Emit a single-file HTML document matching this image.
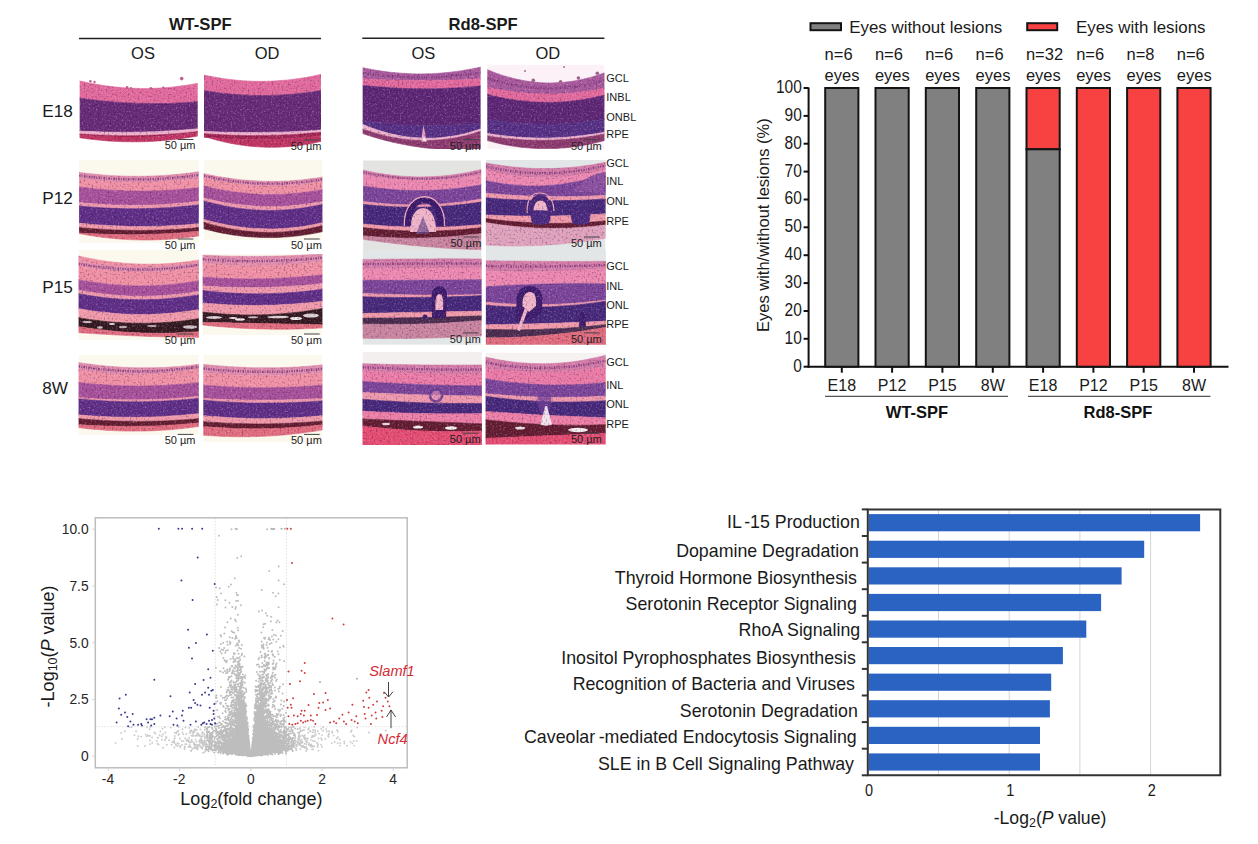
<!DOCTYPE html>
<html><head><meta charset="utf-8"><title>Figure</title>
<style>html,body{margin:0;padding:0;background:#fff}body{width:1258px;height:844px;overflow:hidden}svg{display:block}</style>
</head><body>
<svg width="1258" height="844" viewBox="0 0 1258 844">
<defs>
<filter id="nzd" x="0" y="0" width="100%" height="100%" color-interpolation-filters="sRGB">
<feTurbulence type="fractalNoise" baseFrequency="0.5" numOctaves="2" seed="3"/>
<feColorMatrix type="matrix" values="0 0 0 0 0.15  0 0 0 0 0.02  0 0 0 0 0.2  -2.2 0 0 0 1.05"/>
</filter>
<filter id="nzl" x="0" y="0" width="100%" height="100%" color-interpolation-filters="sRGB">
<feTurbulence type="fractalNoise" baseFrequency="0.55" numOctaves="2" seed="9"/>
<feColorMatrix type="matrix" values="0 0 0 0 1  0 0 0 0 0.9  0 0 0 0 1  2.2 0 0 0 -1.15"/>
</filter>
</defs><clipPath id="cp0"><rect x="79.7" y="74" width="118.0" height="76.0"/></clipPath>
<g clip-path="url(#cp0)">
<rect x="79.7" y="74" width="118.0" height="76.0" fill="#ffffff"/>
<clipPath id="tc0"><path d="M78.7,80.7 83.7,81.8 88.7,82.9 93.7,83.8 98.7,84.7 103.7,85.5 108.7,86.2 113.7,86.8 118.7,87.3 123.7,87.7 128.7,88.0 133.7,88.3 138.7,88.4 143.7,88.5 148.7,88.4 153.7,88.3 158.7,88.1 163.7,87.8 168.7,87.4 173.7,86.9 178.7,86.3 183.7,85.6 188.7,84.9 193.7,84.0 198.7,83.1 L198.7,135.8 193.7,136.7 188.7,137.5 183.7,138.3 178.7,138.9 173.7,139.5 168.7,140.1 163.7,140.5 158.7,140.9 153.7,141.3 148.7,141.5 143.7,141.7 138.7,141.8 133.7,141.8 128.7,141.8 123.7,141.7 118.7,141.5 113.7,141.3 108.7,141.0 103.7,140.6 98.7,140.1 93.7,139.6 88.7,139.0 83.7,138.3 78.7,137.6Z"/></clipPath>
<path d="M78.7,80.7 83.7,81.8 88.7,82.9 93.7,83.8 98.7,84.7 103.7,85.5 108.7,86.2 113.7,86.8 118.7,87.3 123.7,87.7 128.7,88.0 133.7,88.3 138.7,88.4 143.7,88.5 148.7,88.4 153.7,88.3 158.7,88.1 163.7,87.8 168.7,87.4 173.7,86.9 178.7,86.3 183.7,85.6 188.7,84.9 193.7,84.0 198.7,83.1 L198.7,101.6 193.7,102.0 188.7,102.4 183.7,102.7 178.7,103.0 173.7,103.2 168.7,103.4 163.7,103.5 158.7,103.6 153.7,103.6 148.7,103.6 143.7,103.5 138.7,103.4 133.7,103.2 128.7,103.0 123.7,102.7 118.7,102.4 113.7,102.0 108.7,101.6 103.7,101.1 98.7,100.6 93.7,100.0 88.7,99.4 83.7,98.7 78.7,98.0Z" fill="#e2699c" stroke="#e2699c" stroke-width="0.6"/>
<path d="M78.7,98.0 83.7,98.7 88.7,99.4 93.7,100.0 98.7,100.6 103.7,101.1 108.7,101.6 113.7,102.0 118.7,102.4 123.7,102.7 128.7,103.0 133.7,103.2 138.7,103.4 143.7,103.5 148.7,103.6 153.7,103.6 158.7,103.6 163.7,103.5 168.7,103.4 173.7,103.2 178.7,103.0 183.7,102.7 188.7,102.4 193.7,102.0 198.7,101.6 L198.7,128.6 193.7,129.1 188.7,129.5 183.7,129.9 178.7,130.3 173.7,130.6 168.7,130.9 163.7,131.2 158.7,131.5 153.7,131.7 148.7,131.8 143.7,132.0 138.7,132.1 133.7,132.2 128.7,132.2 123.7,132.2 118.7,132.2 113.7,132.2 108.7,132.1 103.7,132.0 98.7,131.8 93.7,131.6 88.7,131.4 83.7,131.2 78.7,130.9Z" fill="#662a76" stroke="#662a76" stroke-width="0.6"/>
<path d="M78.7,130.9 83.7,131.2 88.7,131.4 93.7,131.6 98.7,131.8 103.7,132.0 108.7,132.1 113.7,132.2 118.7,132.2 123.7,132.2 128.7,132.2 133.7,132.2 138.7,132.1 143.7,132.0 148.7,131.8 153.7,131.7 158.7,131.5 163.7,131.2 168.7,130.9 173.7,130.6 178.7,130.3 183.7,129.9 188.7,129.5 193.7,129.1 198.7,128.6 L198.7,131.4 193.7,132.0 188.7,132.5 183.7,133.0 178.7,133.5 173.7,133.9 168.7,134.2 163.7,134.6 158.7,134.9 153.7,135.1 148.7,135.3 143.7,135.5 138.7,135.6 133.7,135.7 128.7,135.7 123.7,135.7 118.7,135.7 113.7,135.6 108.7,135.4 103.7,135.3 98.7,135.1 93.7,134.8 88.7,134.5 83.7,134.2 78.7,133.8Z" fill="#efb2cc" stroke="#efb2cc" stroke-width="0.6"/>
<path d="M78.7,133.8 83.7,134.2 88.7,134.5 93.7,134.8 98.7,135.1 103.7,135.3 108.7,135.4 113.7,135.6 118.7,135.7 123.7,135.7 128.7,135.7 133.7,135.7 138.7,135.6 143.7,135.5 148.7,135.3 153.7,135.1 158.7,134.9 163.7,134.6 168.7,134.2 173.7,133.9 178.7,133.5 183.7,133.0 188.7,132.5 193.7,132.0 198.7,131.4 L198.7,132.3 193.7,133.0 188.7,133.6 183.7,134.1 178.7,134.6 173.7,135.1 168.7,135.5 163.7,135.9 158.7,136.2 153.7,136.5 148.7,136.7 143.7,136.9 138.7,137.0 133.7,137.1 128.7,137.1 123.7,137.1 118.7,137.0 113.7,136.9 108.7,136.7 103.7,136.5 98.7,136.2 93.7,135.9 88.7,135.6 83.7,135.2 78.7,134.7Z" fill="#a02452" stroke="#a02452" stroke-width="0.6"/>
<path d="M78.7,134.7 83.7,135.2 88.7,135.6 93.7,135.9 98.7,136.2 103.7,136.5 108.7,136.7 113.7,136.9 118.7,137.0 123.7,137.1 128.7,137.1 133.7,137.1 138.7,137.0 143.7,136.9 148.7,136.7 153.7,136.5 158.7,136.2 163.7,135.9 168.7,135.5 173.7,135.1 178.7,134.6 183.7,134.1 188.7,133.6 193.7,133.0 198.7,132.3 L198.7,135.8 193.7,136.7 188.7,137.5 183.7,138.3 178.7,138.9 173.7,139.5 168.7,140.1 163.7,140.5 158.7,140.9 153.7,141.3 148.7,141.5 143.7,141.7 138.7,141.8 133.7,141.8 128.7,141.8 123.7,141.7 118.7,141.5 113.7,141.3 108.7,141.0 103.7,140.6 98.7,140.1 93.7,139.6 88.7,139.0 83.7,138.3 78.7,137.6Z" fill="#c03462" stroke="#c03462" stroke-width="0.6"/>
<g fill="#c2608f"><circle cx="90.4" cy="81.2" r="1.3"/><circle cx="94.5" cy="82" r="1.2"/><circle cx="127.1" cy="87.4" r="1.3"/><circle cx="131" cy="88.2" r="1.1"/><circle cx="150.8" cy="88.2" r="1.2"/><circle cx="163.3" cy="87.8" r="1.2"/><circle cx="181.7" cy="78.6" r="1.8"/></g>
<g clip-path="url(#tc0)"><rect x="79.7" y="74" width="118.0" height="76.0" filter="url(#nzd)" opacity="0.5"/>
<rect x="79.7" y="74" width="118.0" height="76.0" filter="url(#nzl)" opacity="0.4"/></g>
</g>
<clipPath id="cp1"><rect x="204" y="70" width="117.0" height="80.0"/></clipPath>
<g clip-path="url(#cp1)">
<rect x="204" y="70" width="117.0" height="80.0" fill="#ffffff"/>
<clipPath id="tc1"><path d="M203.0,74.8 208.0,75.9 212.9,76.8 217.9,77.7 222.8,78.5 227.8,79.2 232.8,79.8 237.7,80.3 242.7,80.7 247.6,81.0 252.6,81.2 257.5,81.3 262.5,81.3 267.5,81.2 272.4,81.1 277.4,80.8 282.3,80.4 287.3,80.0 292.2,79.4 297.2,78.8 302.2,78.0 307.1,77.2 312.1,76.3 317.0,75.2 322.0,74.1 L322.0,141.2 317.0,142.3 312.1,143.4 307.1,144.3 302.2,145.1 297.2,145.7 292.2,146.3 287.3,146.7 282.3,147.0 277.4,147.2 272.4,147.3 267.5,147.3 262.5,147.1 257.5,146.8 252.6,146.4 247.6,145.9 242.7,145.3 237.7,144.5 232.8,143.7 227.8,142.7 222.8,141.6 217.9,140.4 212.9,139.0 208.0,137.6 203.0,136.0Z"/></clipPath>
<path d="M203.0,74.8 208.0,75.9 212.9,76.8 217.9,77.7 222.8,78.5 227.8,79.2 232.8,79.8 237.7,80.3 242.7,80.7 247.6,81.0 252.6,81.2 257.5,81.3 262.5,81.3 267.5,81.2 272.4,81.1 277.4,80.8 282.3,80.4 287.3,80.0 292.2,79.4 297.2,78.8 302.2,78.0 307.1,77.2 312.1,76.3 317.0,75.2 322.0,74.1 L322.0,90.3 317.0,91.1 312.1,91.9 307.1,92.6 302.2,93.2 297.2,93.7 292.2,94.2 287.3,94.6 282.3,94.9 277.4,95.2 272.4,95.4 267.5,95.5 262.5,95.5 257.5,95.5 252.6,95.4 247.6,95.2 242.7,94.9 237.7,94.6 232.8,94.2 227.8,93.7 222.8,93.2 217.9,92.6 212.9,91.9 208.0,91.1 203.0,90.3Z" fill="#e2699c" stroke="#e2699c" stroke-width="0.6"/>
<path d="M203.0,90.3 208.0,91.1 212.9,91.9 217.9,92.6 222.8,93.2 227.8,93.7 232.8,94.2 237.7,94.6 242.7,94.9 247.6,95.2 252.6,95.4 257.5,95.5 262.5,95.5 267.5,95.5 272.4,95.4 277.4,95.2 282.3,94.9 287.3,94.6 292.2,94.2 297.2,93.7 302.2,93.2 307.1,92.6 312.1,91.9 317.0,91.1 322.0,90.3 L322.0,129.9 317.0,130.3 312.1,130.6 307.1,130.9 302.2,131.2 297.2,131.5 292.2,131.7 287.3,131.9 282.3,132.1 277.4,132.2 272.4,132.3 267.5,132.4 262.5,132.5 257.5,132.5 252.6,132.6 247.6,132.5 242.7,132.5 237.7,132.4 232.8,132.3 227.8,132.2 222.8,132.1 217.9,131.9 212.9,131.7 208.0,131.5 203.0,131.2Z" fill="#662a76" stroke="#662a76" stroke-width="0.6"/>
<path d="M203.0,131.2 208.0,131.5 212.9,131.7 217.9,131.9 222.8,132.1 227.8,132.2 232.8,132.3 237.7,132.4 242.7,132.5 247.6,132.5 252.6,132.6 257.5,132.5 262.5,132.5 267.5,132.4 272.4,132.3 277.4,132.2 282.3,132.1 287.3,131.9 292.2,131.7 297.2,131.5 302.2,131.2 307.1,130.9 312.1,130.6 317.0,130.3 322.0,129.9 L322.0,132.2 317.0,132.7 312.1,133.1 307.1,133.5 302.2,133.9 297.2,134.2 292.2,134.5 287.3,134.8 282.3,135.0 277.4,135.2 272.4,135.3 267.5,135.4 262.5,135.5 257.5,135.5 252.6,135.5 247.6,135.5 242.7,135.4 237.7,135.3 232.8,135.2 227.8,135.0 222.8,134.8 217.9,134.5 212.9,134.2 208.0,133.9 203.0,133.5Z" fill="#efb2cc" stroke="#efb2cc" stroke-width="0.6"/>
<path d="M203.0,133.5 208.0,133.9 212.9,134.2 217.9,134.5 222.8,134.8 227.8,135.0 232.8,135.2 237.7,135.3 242.7,135.4 247.6,135.5 252.6,135.5 257.5,135.5 262.5,135.5 267.5,135.4 272.4,135.3 277.4,135.2 282.3,135.0 287.3,134.8 292.2,134.5 297.2,134.2 302.2,133.9 307.1,133.5 312.1,133.1 317.0,132.7 322.0,132.2 L322.0,135.6 317.0,136.2 312.1,136.7 307.1,137.2 302.2,137.6 297.2,138.0 292.2,138.4 287.3,138.7 282.3,138.9 277.4,139.1 272.4,139.3 267.5,139.4 262.5,139.5 257.5,139.5 252.6,139.5 247.6,139.5 242.7,139.4 237.7,139.2 232.8,139.0 227.8,138.8 222.8,138.5 217.9,138.2 212.9,137.8 208.0,137.4 203.0,136.9Z" fill="#a02452" stroke="#a02452" stroke-width="0.6"/>
<path d="M203.0,136.9 208.0,137.4 212.9,137.8 217.9,138.2 222.8,138.5 227.8,138.8 232.8,139.0 237.7,139.2 242.7,139.4 247.6,139.5 252.6,139.5 257.5,139.5 262.5,139.5 267.5,139.4 272.4,139.3 277.4,139.1 282.3,138.9 287.3,138.7 292.2,138.4 297.2,138.0 302.2,137.6 307.1,137.2 312.1,136.7 317.0,136.2 322.0,135.6 L322.0,141.2 317.0,142.3 312.1,143.4 307.1,144.3 302.2,145.1 297.2,145.7 292.2,146.3 287.3,146.7 282.3,147.0 277.4,147.2 272.4,147.3 267.5,147.3 262.5,147.1 257.5,146.8 252.6,146.4 247.6,145.9 242.7,145.3 237.7,144.5 232.8,143.7 227.8,142.7 222.8,141.6 217.9,140.4 212.9,139.0 208.0,137.6 203.0,136.0Z" fill="#c03462" stroke="#c03462" stroke-width="0.6"/>
<g clip-path="url(#tc1)"><rect x="204" y="70" width="117.0" height="80.0" filter="url(#nzd)" opacity="0.5"/>
<rect x="204" y="70" width="117.0" height="80.0" filter="url(#nzl)" opacity="0.4"/></g>
</g>
<clipPath id="cp2"><rect x="79.1" y="159.7" width="119.7" height="83.3"/></clipPath>
<g clip-path="url(#cp2)">
<rect x="79.1" y="159.7" width="119.7" height="83.3" fill="#fbf8ee"/>
<clipPath id="tc2"><path d="M78.1,172.2 83.2,172.9 88.2,173.5 93.3,174.0 98.4,174.5 103.5,175.0 108.5,175.4 113.6,175.7 118.7,175.9 123.7,176.1 128.8,176.2 133.9,176.3 138.9,176.3 144.0,176.2 149.1,176.1 154.2,175.9 159.2,175.7 164.3,175.4 169.4,175.1 174.4,174.6 179.5,174.1 184.6,173.6 189.7,173.0 194.7,172.3 199.8,171.6 L199.8,235.8 194.7,236.5 189.7,237.2 184.6,237.8 179.5,238.3 174.4,238.8 169.4,239.2 164.3,239.5 159.2,239.7 154.2,239.9 149.1,240.0 144.0,240.0 138.9,239.9 133.9,239.8 128.8,239.6 123.7,239.3 118.7,238.9 113.6,238.5 108.5,238.0 103.5,237.4 98.4,236.7 93.3,236.0 88.2,235.2 83.2,234.3 78.1,233.4Z"/></clipPath>
<path d="M78.1,172.2 83.2,172.9 88.2,173.5 93.3,174.0 98.4,174.5 103.5,175.0 108.5,175.4 113.6,175.7 118.7,175.9 123.7,176.1 128.8,176.2 133.9,176.3 138.9,176.3 144.0,176.2 149.1,176.1 154.2,175.9 159.2,175.7 164.3,175.4 169.4,175.1 174.4,174.6 179.5,174.1 184.6,173.6 189.7,173.0 194.7,172.3 199.8,171.6 L199.8,178.4 194.7,179.0 189.7,179.6 184.6,180.2 179.5,180.7 174.4,181.1 169.4,181.5 164.3,181.8 159.2,182.1 154.2,182.3 149.1,182.4 144.0,182.5 138.9,182.6 133.9,182.6 128.8,182.5 123.7,182.4 118.7,182.3 113.6,182.0 108.5,181.8 103.5,181.4 98.4,181.1 93.3,180.6 88.2,180.1 83.2,179.6 78.1,179.0Z" fill="#e08cac" stroke="#e08cac" stroke-width="0.6"/>
<path d="M78.1,179.0 83.2,179.6 88.2,180.1 93.3,180.6 98.4,181.1 103.5,181.4 108.5,181.8 113.6,182.0 118.7,182.3 123.7,182.4 128.8,182.5 133.9,182.6 138.9,182.6 144.0,182.5 149.1,182.4 154.2,182.3 159.2,182.1 164.3,181.8 169.4,181.5 174.4,181.1 179.5,180.7 184.6,180.2 189.7,179.6 194.7,179.0 199.8,178.4 L199.8,187.5 194.7,188.1 189.7,188.6 184.6,189.1 179.5,189.6 174.4,189.9 169.4,190.3 164.3,190.5 159.2,190.8 154.2,190.9 149.1,191.0 144.0,191.1 138.9,191.1 133.9,191.0 128.8,190.9 123.7,190.8 118.7,190.6 113.6,190.3 108.5,190.0 103.5,189.6 98.4,189.2 93.3,188.7 88.2,188.1 83.2,187.5 78.1,186.9Z" fill="#f090a4" stroke="#f090a4" stroke-width="0.6"/>
<path d="M78.1,186.9 83.2,187.5 88.2,188.1 93.3,188.7 98.4,189.2 103.5,189.6 108.5,190.0 113.6,190.3 118.7,190.6 123.7,190.8 128.8,190.9 133.9,191.0 138.9,191.1 144.0,191.1 149.1,191.0 154.2,190.9 159.2,190.8 164.3,190.5 169.4,190.3 174.4,189.9 179.5,189.6 184.6,189.1 189.7,188.6 194.7,188.1 199.8,187.5 L199.8,201.1 194.7,201.7 189.7,202.3 184.6,202.8 179.5,203.3 174.4,203.7 169.4,204.1 164.3,204.4 159.2,204.7 154.2,204.9 149.1,205.1 144.0,205.2 138.9,205.3 133.9,205.3 128.8,205.3 123.7,205.2 118.7,205.1 113.6,204.9 108.5,204.7 103.5,204.4 98.4,204.1 93.3,203.7 88.2,203.3 83.2,202.8 78.1,202.3Z" fill="#a6509a" stroke="#a6509a" stroke-width="0.6"/>
<path d="M78.1,202.3 83.2,202.8 88.2,203.3 93.3,203.7 98.4,204.1 103.5,204.4 108.5,204.7 113.6,204.9 118.7,205.1 123.7,205.2 128.8,205.3 133.9,205.3 138.9,205.3 144.0,205.2 149.1,205.1 154.2,204.9 159.2,204.7 164.3,204.4 169.4,204.1 174.4,203.7 179.5,203.3 184.6,202.8 189.7,202.3 194.7,201.7 199.8,201.1 L199.8,204.6 194.7,205.2 189.7,205.8 184.6,206.3 179.5,206.7 174.4,207.2 169.4,207.5 164.3,207.8 159.2,208.1 154.2,208.3 149.1,208.5 144.0,208.6 138.9,208.7 133.9,208.7 128.8,208.7 123.7,208.6 118.7,208.5 113.6,208.3 108.5,208.1 103.5,207.9 98.4,207.5 93.3,207.2 88.2,206.8 83.2,206.3 78.1,205.8Z" fill="#ee98ac" stroke="#ee98ac" stroke-width="0.6"/>
<path d="M78.1,205.8 83.2,206.3 88.2,206.8 93.3,207.2 98.4,207.5 103.5,207.9 108.5,208.1 113.6,208.3 118.7,208.5 123.7,208.6 128.8,208.7 133.9,208.7 138.9,208.7 144.0,208.6 149.1,208.5 154.2,208.3 159.2,208.1 164.3,207.8 169.4,207.5 174.4,207.2 179.5,206.7 184.6,206.3 189.7,205.8 194.7,205.2 199.8,204.6 L199.8,223.6 194.7,224.1 189.7,224.5 184.6,224.9 179.5,225.3 174.4,225.6 169.4,225.8 164.3,226.1 159.2,226.2 154.2,226.4 149.1,226.5 144.0,226.5 138.9,226.5 133.9,226.5 128.8,226.4 123.7,226.2 118.7,226.0 113.6,225.8 108.5,225.6 103.5,225.2 98.4,224.9 93.3,224.5 88.2,224.0 83.2,223.5 78.1,223.0Z" fill="#5e2e86" stroke="#5e2e86" stroke-width="0.6"/>
<path d="M78.1,223.0 83.2,223.5 88.2,224.0 93.3,224.5 98.4,224.9 103.5,225.2 108.5,225.6 113.6,225.8 118.7,226.0 123.7,226.2 128.8,226.4 133.9,226.5 138.9,226.5 144.0,226.5 149.1,226.5 154.2,226.4 159.2,226.2 164.3,226.1 169.4,225.8 174.4,225.6 179.5,225.3 184.6,224.9 189.7,224.5 194.7,224.1 199.8,223.6 L199.8,227.4 194.7,227.9 189.7,228.3 184.6,228.7 179.5,229.1 174.4,229.4 169.4,229.7 164.3,229.9 159.2,230.1 154.2,230.2 149.1,230.3 144.0,230.4 138.9,230.4 133.9,230.4 128.8,230.3 123.7,230.2 118.7,230.1 113.6,229.9 108.5,229.7 103.5,229.4 98.4,229.1 93.3,228.7 88.2,228.3 83.2,227.9 78.1,227.4Z" fill="#f09aa9" stroke="#f09aa9" stroke-width="0.6"/>
<path d="M78.1,227.4 83.2,227.9 88.2,228.3 93.3,228.7 98.4,229.1 103.5,229.4 108.5,229.7 113.6,229.9 118.7,230.1 123.7,230.2 128.8,230.3 133.9,230.4 138.9,230.4 144.0,230.4 149.1,230.3 154.2,230.2 159.2,230.1 164.3,229.9 169.4,229.7 174.4,229.4 179.5,229.1 184.6,228.7 189.7,228.3 194.7,227.9 199.8,227.4 L199.8,231.1 194.7,231.6 189.7,232.1 184.6,232.5 179.5,232.9 174.4,233.2 169.4,233.5 164.3,233.8 159.2,234.0 154.2,234.2 149.1,234.4 144.0,234.5 138.9,234.6 133.9,234.7 128.8,234.7 123.7,234.6 118.7,234.6 113.6,234.5 108.5,234.4 103.5,234.2 98.4,234.0 93.3,233.7 88.2,233.5 83.2,233.2 78.1,232.8Z" fill="#621c30" stroke="#621c30" stroke-width="0.6"/>
<path d="M78.1,232.8 83.2,233.2 88.2,233.5 93.3,233.7 98.4,234.0 103.5,234.2 108.5,234.4 113.6,234.5 118.7,234.6 123.7,234.6 128.8,234.7 133.9,234.7 138.9,234.6 144.0,234.5 149.1,234.4 154.2,234.2 159.2,234.0 164.3,233.8 169.4,233.5 174.4,233.2 179.5,232.9 184.6,232.5 189.7,232.1 194.7,231.6 199.8,231.1 L199.8,235.8 194.7,236.5 189.7,237.2 184.6,237.8 179.5,238.3 174.4,238.8 169.4,239.2 164.3,239.5 159.2,239.7 154.2,239.9 149.1,240.0 144.0,240.0 138.9,239.9 133.9,239.8 128.8,239.6 123.7,239.3 118.7,238.9 113.6,238.5 108.5,238.0 103.5,237.4 98.4,236.7 93.3,236.0 88.2,235.2 83.2,234.3 78.1,233.4Z" fill="#e06c7e" stroke="#e06c7e" stroke-width="0.6"/>
<path d="M79.1,175.6 86.6,176.5 94.1,177.3 101.5,178.0 109.0,178.6 116.5,179.0 124.0,179.3 131.5,179.4 138.9,179.4 146.4,179.3 153.9,179.1 161.4,178.8 168.9,178.3 176.4,177.6 183.8,176.9 191.3,176.0 198.8,175.0" fill="none" stroke="#7e3a7c" stroke-width="2.4" stroke-dasharray="1.6 1.1 0.8 1.4" opacity="0.85"/>
<g clip-path="url(#tc2)"><rect x="79.1" y="159.7" width="119.7" height="83.3" filter="url(#nzd)" opacity="0.5"/>
<rect x="79.1" y="159.7" width="119.7" height="83.3" filter="url(#nzl)" opacity="0.4"/></g>
</g>
<clipPath id="cp3"><rect x="203.7" y="159.7" width="118.7" height="80.3"/></clipPath>
<g clip-path="url(#cp3)">
<rect x="203.7" y="159.7" width="118.7" height="80.3" fill="#fbf8ee"/>
<clipPath id="tc3"><path d="M202.7,173.4 207.7,174.5 212.8,175.5 217.8,176.5 222.8,177.3 227.8,178.1 232.9,178.8 237.9,179.4 242.9,179.9 248.0,180.4 253.0,180.7 258.0,181.0 263.0,181.2 268.1,181.3 273.1,181.3 278.1,181.3 283.2,181.1 288.2,180.9 293.2,180.6 298.3,180.2 303.3,179.7 308.3,179.1 313.3,178.5 318.4,177.7 323.4,176.9 L323.4,231.4 318.4,232.5 313.3,233.5 308.3,234.3 303.3,235.1 298.3,235.8 293.2,236.3 288.2,236.8 283.2,237.1 278.1,237.4 273.1,237.5 268.1,237.6 263.0,237.5 258.0,237.3 253.0,237.0 248.0,236.7 242.9,236.2 237.9,235.6 232.9,234.9 227.8,234.1 222.8,233.2 217.8,232.2 212.8,231.0 207.7,229.8 202.7,228.5Z"/></clipPath>
<path d="M202.7,173.4 207.7,174.5 212.8,175.5 217.8,176.5 222.8,177.3 227.8,178.1 232.9,178.8 237.9,179.4 242.9,179.9 248.0,180.4 253.0,180.7 258.0,181.0 263.0,181.2 268.1,181.3 273.1,181.3 278.1,181.3 283.2,181.1 288.2,180.9 293.2,180.6 298.3,180.2 303.3,179.7 308.3,179.1 313.3,178.5 318.4,177.7 323.4,176.9 L323.4,181.6 318.4,182.4 313.3,183.2 308.3,183.9 303.3,184.4 298.3,184.9 293.2,185.3 288.2,185.7 283.2,185.9 278.1,186.1 273.1,186.1 268.1,186.1 263.0,186.0 258.0,185.8 253.0,185.5 248.0,185.2 242.9,184.7 237.9,184.2 232.9,183.6 227.8,182.9 222.8,182.1 217.8,181.2 212.8,180.3 207.7,179.2 202.7,178.1Z" fill="#e08cac" stroke="#e08cac" stroke-width="0.6"/>
<path d="M202.7,178.1 207.7,179.2 212.8,180.3 217.8,181.2 222.8,182.1 227.8,182.9 232.9,183.6 237.9,184.2 242.9,184.7 248.0,185.2 253.0,185.5 258.0,185.8 263.0,186.0 268.1,186.1 273.1,186.1 278.1,186.1 283.2,185.9 288.2,185.7 293.2,185.3 298.3,184.9 303.3,184.4 308.3,183.9 313.3,183.2 318.4,182.4 323.4,181.6 L323.4,189.3 318.4,190.3 313.3,191.1 308.3,191.9 303.3,192.6 298.3,193.2 293.2,193.6 288.2,194.0 283.2,194.3 278.1,194.5 273.1,194.6 268.1,194.6 263.0,194.5 258.0,194.3 253.0,194.0 248.0,193.6 242.9,193.1 237.9,192.6 232.9,191.9 227.8,191.1 222.8,190.2 217.8,189.3 212.8,188.2 207.7,187.1 202.7,185.8Z" fill="#f090a4" stroke="#f090a4" stroke-width="0.6"/>
<path d="M202.7,185.8 207.7,187.1 212.8,188.2 217.8,189.3 222.8,190.2 227.8,191.1 232.9,191.9 237.9,192.6 242.9,193.1 248.0,193.6 253.0,194.0 258.0,194.3 263.0,194.5 268.1,194.6 273.1,194.6 278.1,194.5 283.2,194.3 288.2,194.0 293.2,193.6 298.3,193.2 303.3,192.6 308.3,191.9 313.3,191.1 318.4,190.3 323.4,189.3 L323.4,201.2 318.4,202.2 313.3,203.1 308.3,203.8 303.3,204.5 298.3,205.1 293.2,205.6 288.2,206.0 283.2,206.3 278.1,206.5 273.1,206.6 268.1,206.6 263.0,206.5 258.0,206.3 253.0,206.0 248.0,205.6 242.9,205.1 237.9,204.5 232.9,203.9 227.8,203.1 222.8,202.2 217.8,201.2 212.8,200.1 207.7,199.0 202.7,197.7Z" fill="#a6509a" stroke="#a6509a" stroke-width="0.6"/>
<path d="M202.7,197.7 207.7,199.0 212.8,200.1 217.8,201.2 222.8,202.2 227.8,203.1 232.9,203.9 237.9,204.5 242.9,205.1 248.0,205.6 253.0,206.0 258.0,206.3 263.0,206.5 268.1,206.6 273.1,206.6 278.1,206.5 283.2,206.3 288.2,206.0 293.2,205.6 298.3,205.1 303.3,204.5 308.3,203.8 313.3,203.1 318.4,202.2 323.4,201.2 L323.4,204.1 318.4,205.2 313.3,206.2 308.3,207.1 303.3,207.9 298.3,208.6 293.2,209.2 288.2,209.6 283.2,210.0 278.1,210.2 273.1,210.4 268.1,210.4 263.0,210.3 258.0,210.1 253.0,209.8 248.0,209.4 242.9,208.8 237.9,208.2 232.9,207.4 227.8,206.6 222.8,205.6 217.8,204.5 212.8,203.3 207.7,202.0 202.7,200.6Z" fill="#ee98ac" stroke="#ee98ac" stroke-width="0.6"/>
<path d="M202.7,200.6 207.7,202.0 212.8,203.3 217.8,204.5 222.8,205.6 227.8,206.6 232.9,207.4 237.9,208.2 242.9,208.8 248.0,209.4 253.0,209.8 258.0,210.1 263.0,210.3 268.1,210.4 273.1,210.4 278.1,210.2 283.2,210.0 288.2,209.6 293.2,209.2 298.3,208.6 303.3,207.9 308.3,207.1 313.3,206.2 318.4,205.2 323.4,204.1 L323.4,222.5 318.4,223.6 313.3,224.7 308.3,225.6 303.3,226.4 298.3,227.1 293.2,227.7 288.2,228.1 283.2,228.5 278.1,228.7 273.1,228.9 268.1,228.9 263.0,228.8 258.0,228.6 253.0,228.3 248.0,227.9 242.9,227.3 237.9,226.7 232.9,225.9 227.8,225.0 222.8,224.1 217.8,223.0 212.8,221.8 207.7,220.4 202.7,219.0Z" fill="#5e2e86" stroke="#5e2e86" stroke-width="0.6"/>
<path d="M202.7,219.0 207.7,220.4 212.8,221.8 217.8,223.0 222.8,224.1 227.8,225.0 232.9,225.9 237.9,226.7 242.9,227.3 248.0,227.9 253.0,228.3 258.0,228.6 263.0,228.8 268.1,228.9 273.1,228.9 278.1,228.7 283.2,228.5 288.2,228.1 293.2,227.7 298.3,227.1 303.3,226.4 308.3,225.6 313.3,224.7 318.4,223.6 323.4,222.5 L323.4,225.5 318.4,226.7 313.3,227.8 308.3,228.8 303.3,229.7 298.3,230.4 293.2,231.0 288.2,231.5 283.2,231.9 278.1,232.2 273.1,232.4 268.1,232.4 263.0,232.3 258.0,232.1 253.0,231.8 248.0,231.3 242.9,230.8 237.9,230.1 232.9,229.3 227.8,228.4 222.8,227.3 217.8,226.2 212.8,224.9 207.7,223.5 202.7,222.0Z" fill="#f09aa9" stroke="#f09aa9" stroke-width="0.6"/>
<path d="M202.7,222.0 207.7,223.5 212.8,224.9 217.8,226.2 222.8,227.3 227.8,228.4 232.9,229.3 237.9,230.1 242.9,230.8 248.0,231.3 253.0,231.8 258.0,232.1 263.0,232.3 268.1,232.4 273.1,232.4 278.1,232.2 283.2,231.9 288.2,231.5 293.2,231.0 298.3,230.4 303.3,229.7 308.3,228.8 313.3,227.8 318.4,226.7 323.4,225.5 L323.4,231.4 318.4,232.5 313.3,233.5 308.3,234.3 303.3,235.1 298.3,235.8 293.2,236.3 288.2,236.8 283.2,237.1 278.1,237.4 273.1,237.5 268.1,237.6 263.0,237.5 258.0,237.3 253.0,237.0 248.0,236.7 242.9,236.2 237.9,235.6 232.9,234.9 227.8,234.1 222.8,233.2 217.8,232.2 212.8,231.0 207.7,229.8 202.7,228.5Z" fill="#621c30" stroke="#621c30" stroke-width="0.6"/>
<path d="M203.7,175.8 211.1,177.4 218.5,178.9 226.0,180.1 233.4,181.2 240.8,182.1 248.2,182.8 255.6,183.3 263.0,183.6 270.5,183.7 277.9,183.7 285.3,183.4 292.7,182.9 300.1,182.3 307.6,181.5 315.0,180.5 322.4,179.2" fill="none" stroke="#7e3a7c" stroke-width="2.2" stroke-dasharray="1.6 1.1 0.8 1.4" opacity="0.85"/>
<g clip-path="url(#tc3)"><rect x="203.7" y="159.7" width="118.7" height="80.3" filter="url(#nzd)" opacity="0.5"/>
<rect x="203.7" y="159.7" width="118.7" height="80.3" filter="url(#nzl)" opacity="0.4"/></g>
</g>
<clipPath id="cp4"><rect x="78.6" y="250" width="120.2" height="90.0"/></clipPath>
<g clip-path="url(#cp4)">
<rect x="78.6" y="250" width="120.2" height="90.0" fill="#fbf8ee"/>
<clipPath id="tc4"><path d="M77.6,255.7 82.7,256.9 87.8,258.0 92.9,258.9 98.0,259.9 103.1,260.7 108.2,261.4 113.2,262.1 118.3,262.6 123.4,263.1 128.5,263.5 133.6,263.8 138.7,264.0 143.8,264.1 148.9,264.2 154.0,264.1 159.1,264.0 164.2,263.8 169.2,263.5 174.3,263.1 179.4,262.6 184.5,262.0 189.6,261.4 194.7,260.6 199.8,259.8 L199.8,337.3 194.7,337.3 189.6,337.2 184.5,337.2 179.4,337.1 174.3,337.0 169.2,336.9 164.2,336.8 159.1,336.7 154.0,336.5 148.9,336.4 143.8,336.2 138.7,336.0 133.6,335.8 128.5,335.6 123.4,335.3 118.3,335.1 113.2,334.8 108.2,334.5 103.1,334.2 98.0,333.9 92.9,333.6 87.8,333.2 82.7,332.9 77.6,332.5Z"/></clipPath>
<path d="M77.6,255.7 82.7,256.9 87.8,258.0 92.9,258.9 98.0,259.9 103.1,260.7 108.2,261.4 113.2,262.1 118.3,262.6 123.4,263.1 128.5,263.5 133.6,263.8 138.7,264.0 143.8,264.1 148.9,264.2 154.0,264.1 159.1,264.0 164.2,263.8 169.2,263.5 174.3,263.1 179.4,262.6 184.5,262.0 189.6,261.4 194.7,260.6 199.8,259.8 L199.8,262.5 194.7,263.3 189.6,263.9 184.5,264.6 179.4,265.1 174.3,265.6 169.2,266.0 164.2,266.3 159.1,266.6 154.0,266.8 148.9,266.9 143.8,267.0 138.7,267.0 133.6,266.9 128.5,266.8 123.4,266.6 118.3,266.3 113.2,265.9 108.2,265.5 103.1,265.0 98.0,264.4 92.9,263.8 87.8,263.1 82.7,262.3 77.6,261.5Z" fill="#f090a4" stroke="#f090a4" stroke-width="0.6"/>
<path d="M77.6,261.5 82.7,262.3 87.8,263.1 92.9,263.8 98.0,264.4 103.1,265.0 108.2,265.5 113.2,265.9 118.3,266.3 123.4,266.6 128.5,266.8 133.6,266.9 138.7,267.0 143.8,267.0 148.9,266.9 154.0,266.8 159.1,266.6 164.2,266.3 169.2,266.0 174.3,265.6 179.4,265.1 184.5,264.6 189.6,263.9 194.7,263.3 199.8,262.5 L199.8,267.0 194.7,267.9 189.6,268.7 184.5,269.4 179.4,270.0 174.3,270.6 169.2,271.0 164.2,271.4 159.1,271.7 154.0,272.0 148.9,272.1 143.8,272.2 138.7,272.2 133.6,272.1 128.5,272.0 123.4,271.7 118.3,271.4 113.2,271.0 108.2,270.5 103.1,270.0 98.0,269.3 92.9,268.6 87.8,267.8 82.7,267.0 77.6,266.0Z" fill="#e08cac" stroke="#e08cac" stroke-width="0.6"/>
<path d="M77.6,266.0 82.7,267.0 87.8,267.8 92.9,268.6 98.0,269.3 103.1,270.0 108.2,270.5 113.2,271.0 118.3,271.4 123.4,271.7 128.5,272.0 133.6,272.1 138.7,272.2 143.8,272.2 148.9,272.1 154.0,272.0 159.1,271.7 164.2,271.4 169.2,271.0 174.3,270.6 179.4,270.0 184.5,269.4 189.6,268.7 194.7,267.9 199.8,267.0 L199.8,280.5 194.7,281.4 189.6,282.2 184.5,283.0 179.4,283.6 174.3,284.2 169.2,284.7 164.2,285.1 159.1,285.4 154.0,285.7 148.9,285.8 143.8,285.9 138.7,285.9 133.6,285.8 128.5,285.7 123.4,285.4 118.3,285.1 113.2,284.7 108.2,284.2 103.1,283.6 98.0,282.9 92.9,282.2 87.8,281.4 82.7,280.5 77.6,279.5Z" fill="#f090a4" stroke="#f090a4" stroke-width="0.6"/>
<path d="M77.6,279.5 82.7,280.5 87.8,281.4 92.9,282.2 98.0,282.9 103.1,283.6 108.2,284.2 113.2,284.7 118.3,285.1 123.4,285.4 128.5,285.7 133.6,285.8 138.7,285.9 143.8,285.9 148.9,285.8 154.0,285.7 159.1,285.4 164.2,285.1 169.2,284.7 174.3,284.2 179.4,283.6 184.5,283.0 189.6,282.2 194.7,281.4 199.8,280.5 L199.8,291.0 194.7,291.9 189.6,292.7 184.5,293.4 179.4,294.0 174.3,294.6 169.2,295.0 164.2,295.4 159.1,295.7 154.0,296.0 148.9,296.1 143.8,296.2 138.7,296.2 133.6,296.1 128.5,296.0 123.4,295.7 118.3,295.4 113.2,295.0 108.2,294.5 103.1,294.0 98.0,293.3 92.9,292.6 87.8,291.8 82.7,291.0 77.6,290.0Z" fill="#a6509a" stroke="#a6509a" stroke-width="0.6"/>
<path d="M77.6,290.0 82.7,291.0 87.8,291.8 92.9,292.6 98.0,293.3 103.1,294.0 108.2,294.5 113.2,295.0 118.3,295.4 123.4,295.7 128.5,296.0 133.6,296.1 138.7,296.2 143.8,296.2 148.9,296.1 154.0,296.0 159.1,295.7 164.2,295.4 169.2,295.0 174.3,294.6 179.4,294.0 184.5,293.4 189.6,292.7 194.7,291.9 199.8,291.0 L199.8,294.5 194.7,295.4 189.6,296.2 184.5,296.9 179.4,297.5 174.3,298.1 169.2,298.5 164.2,298.9 159.1,299.2 154.0,299.5 148.9,299.6 143.8,299.7 138.7,299.7 133.6,299.6 128.5,299.5 123.4,299.2 118.3,298.9 113.2,298.5 108.2,298.0 103.1,297.5 98.0,296.8 92.9,296.1 87.8,295.3 82.7,294.5 77.6,293.5Z" fill="#ee98ac" stroke="#ee98ac" stroke-width="0.6"/>
<path d="M77.6,293.5 82.7,294.5 87.8,295.3 92.9,296.1 98.0,296.8 103.1,297.5 108.2,298.0 113.2,298.5 118.3,298.9 123.4,299.2 128.5,299.5 133.6,299.6 138.7,299.7 143.8,299.7 148.9,299.6 154.0,299.5 159.1,299.2 164.2,298.9 169.2,298.5 174.3,298.1 179.4,297.5 184.5,296.9 189.6,296.2 194.7,295.4 199.8,294.5 L199.8,309.4 194.7,310.3 189.6,311.0 184.5,311.7 179.4,312.3 174.3,312.9 169.2,313.3 164.2,313.7 159.1,314.0 154.0,314.3 148.9,314.4 143.8,314.5 138.7,314.5 133.6,314.4 128.5,314.3 123.4,314.0 118.3,313.7 113.2,313.3 108.2,312.8 103.1,312.3 98.0,311.7 92.9,311.0 87.8,310.2 82.7,309.3 77.6,308.4Z" fill="#5e2e86" stroke="#5e2e86" stroke-width="0.6"/>
<path d="M77.6,308.4 82.7,309.3 87.8,310.2 92.9,311.0 98.0,311.7 103.1,312.3 108.2,312.8 113.2,313.3 118.3,313.7 123.4,314.0 128.5,314.3 133.6,314.4 138.7,314.5 143.8,314.5 148.9,314.4 154.0,314.3 159.1,314.0 164.2,313.7 169.2,313.3 174.3,312.9 179.4,312.3 184.5,311.7 189.6,311.0 194.7,310.3 199.8,309.4 L199.8,318.5 194.7,319.3 189.6,320.0 184.5,320.7 179.4,321.3 174.3,321.8 169.2,322.2 164.2,322.6 159.1,322.9 154.0,323.1 148.9,323.2 143.8,323.3 138.7,323.3 133.6,323.2 128.5,323.1 123.4,322.8 118.3,322.5 113.2,322.2 108.2,321.7 103.1,321.2 98.0,320.6 92.9,319.9 87.8,319.2 82.7,318.4 77.6,317.5Z" fill="#f09aa9" stroke="#f09aa9" stroke-width="0.6"/>
<path d="M77.6,317.5 82.7,318.4 87.8,319.2 92.9,319.9 98.0,320.6 103.1,321.2 108.2,321.7 113.2,322.2 118.3,322.5 123.4,322.8 128.5,323.1 133.6,323.2 138.7,323.3 143.8,323.3 148.9,323.2 154.0,323.1 159.1,322.9 164.2,322.6 169.2,322.2 174.3,321.8 179.4,321.3 184.5,320.7 189.6,320.0 194.7,319.3 199.8,318.5 L199.8,331.5 194.7,331.9 189.6,332.2 184.5,332.5 179.4,332.8 174.3,333.0 169.2,333.1 164.2,333.2 159.1,333.2 154.0,333.2 148.9,333.1 143.8,333.0 138.7,332.8 133.6,332.6 128.5,332.3 123.4,331.9 118.3,331.5 113.2,331.1 108.2,330.6 103.1,330.0 98.0,329.4 92.9,328.8 87.8,328.1 82.7,327.3 77.6,326.5Z" fill="#33191f" stroke="#33191f" stroke-width="0.6"/>
<path d="M77.6,326.5 82.7,327.3 87.8,328.1 92.9,328.8 98.0,329.4 103.1,330.0 108.2,330.6 113.2,331.1 118.3,331.5 123.4,331.9 128.5,332.3 133.6,332.6 138.7,332.8 143.8,333.0 148.9,333.1 154.0,333.2 159.1,333.2 164.2,333.2 169.2,333.1 174.3,333.0 179.4,332.8 184.5,332.5 189.6,332.2 194.7,331.9 199.8,331.5 L199.8,337.3 194.7,337.3 189.6,337.2 184.5,337.2 179.4,337.1 174.3,337.0 169.2,336.9 164.2,336.8 159.1,336.7 154.0,336.5 148.9,336.4 143.8,336.2 138.7,336.0 133.6,335.8 128.5,335.6 123.4,335.3 118.3,335.1 113.2,334.8 108.2,334.5 103.1,334.2 98.0,333.9 92.9,333.6 87.8,333.2 82.7,332.9 77.6,332.5Z" fill="#e06c7e" stroke="#e06c7e" stroke-width="0.6"/>
<path d="M78.6,263.8 86.1,265.1 93.6,266.2 101.1,267.2 108.7,268.0 116.2,268.7 123.7,269.1 131.2,269.5 138.7,269.6 146.2,269.6 153.7,269.4 161.2,269.0 168.8,268.5 176.3,267.8 183.8,267.0 191.3,265.9 198.8,264.8" fill="none" stroke="#7e3a7c" stroke-width="2.3" stroke-dasharray="1.6 1.1 0.8 1.4" opacity="0.85"/>
<ellipse cx="87" cy="322" rx="5" ry="1" fill="#e8dcdf" opacity="0.85"/>
<ellipse cx="100" cy="327.5" rx="3" ry="1.2" fill="#e8dcdf" opacity="0.85"/>
<ellipse cx="123" cy="327" rx="4" ry="1.2" fill="#e0d2d6" opacity="0.8"/>
<ellipse cx="152" cy="326" rx="5" ry="1.1" fill="#e0d2d6" opacity="0.8"/>
<ellipse cx="190" cy="327" rx="7" ry="1.7" fill="#ece2e4" opacity="0.85"/>
<ellipse cx="112" cy="324" rx="3" ry="1" fill="#e8dde0"/>
<g clip-path="url(#tc4)"><rect x="78.6" y="250" width="120.2" height="90.0" filter="url(#nzd)" opacity="0.5"/>
<rect x="78.6" y="250" width="120.2" height="90.0" filter="url(#nzl)" opacity="0.4"/></g>
</g>
<clipPath id="cp5"><rect x="202.7" y="254" width="119.7" height="81.0"/></clipPath>
<g clip-path="url(#cp5)">
<rect x="202.7" y="254" width="119.7" height="81.0" fill="#fbf8ee"/>
<clipPath id="tc5"><path d="M201.7,255.1 206.8,255.3 211.8,255.5 216.9,255.7 222.0,255.9 227.1,256.0 232.1,256.2 237.2,256.2 242.3,256.3 247.3,256.3 252.4,256.3 257.5,256.3 262.5,256.3 267.6,256.2 272.7,256.1 277.8,256.0 282.8,255.9 287.9,255.7 293.0,255.6 298.0,255.3 303.1,255.1 308.2,254.8 313.3,254.6 318.3,254.2 323.4,253.9 L323.4,327.8 318.3,328.1 313.3,328.4 308.2,328.6 303.1,328.8 298.0,329.0 293.0,329.1 287.9,329.2 282.8,329.2 277.8,329.2 272.7,329.2 267.6,329.1 262.5,329.0 257.5,328.9 252.4,328.7 247.3,328.5 242.3,328.2 237.2,327.9 232.1,327.6 227.1,327.2 222.0,326.8 216.9,326.4 211.8,325.9 206.8,325.4 201.7,324.8Z"/></clipPath>
<path d="M201.7,255.1 206.8,255.3 211.8,255.5 216.9,255.7 222.0,255.9 227.1,256.0 232.1,256.2 237.2,256.2 242.3,256.3 247.3,256.3 252.4,256.3 257.5,256.3 262.5,256.3 267.6,256.2 272.7,256.1 277.8,256.0 282.8,255.9 287.9,255.7 293.0,255.6 298.0,255.3 303.1,255.1 308.2,254.8 313.3,254.6 318.3,254.2 323.4,253.9 L323.4,261.6 318.3,262.2 313.3,262.8 308.2,263.3 303.1,263.7 298.0,264.2 293.0,264.5 287.9,264.9 282.8,265.1 277.8,265.4 272.7,265.6 267.6,265.7 262.5,265.8 257.5,265.9 252.4,265.9 247.3,265.8 242.3,265.7 237.2,265.6 232.1,265.4 227.1,265.2 222.0,264.9 216.9,264.6 211.8,264.3 206.8,263.9 201.7,263.4Z" fill="#e08cac" stroke="#e08cac" stroke-width="0.6"/>
<path d="M201.7,263.4 206.8,263.9 211.8,264.3 216.9,264.6 222.0,264.9 227.1,265.2 232.1,265.4 237.2,265.6 242.3,265.7 247.3,265.8 252.4,265.9 257.5,265.9 262.5,265.8 267.6,265.7 272.7,265.6 277.8,265.4 282.8,265.1 287.9,264.9 293.0,264.5 298.0,264.2 303.1,263.7 308.2,263.3 313.3,262.8 318.3,262.2 323.4,261.6 L323.4,274.7 318.3,275.3 313.3,275.8 308.2,276.3 303.1,276.7 298.0,277.1 293.0,277.5 287.9,277.8 282.8,278.1 277.8,278.3 272.7,278.5 267.6,278.7 262.5,278.8 257.5,278.9 252.4,278.9 247.3,278.9 242.3,278.9 237.2,278.8 232.1,278.6 227.1,278.5 222.0,278.3 216.9,278.0 211.8,277.7 206.8,277.4 201.7,277.0Z" fill="#f090a4" stroke="#f090a4" stroke-width="0.6"/>
<path d="M201.7,277.0 206.8,277.4 211.8,277.7 216.9,278.0 222.0,278.3 227.1,278.5 232.1,278.6 237.2,278.8 242.3,278.9 247.3,278.9 252.4,278.9 257.5,278.9 262.5,278.8 267.6,278.7 272.7,278.5 277.8,278.3 282.8,278.1 287.9,277.8 293.0,277.5 298.0,277.1 303.1,276.7 308.2,276.3 313.3,275.8 318.3,275.3 323.4,274.7 L323.4,283.3 318.3,283.9 313.3,284.4 308.2,284.9 303.1,285.4 298.0,285.8 293.0,286.1 287.9,286.5 282.8,286.8 277.8,287.0 272.7,287.2 267.6,287.4 262.5,287.5 257.5,287.6 252.4,287.6 247.3,287.6 242.3,287.6 237.2,287.5 232.1,287.3 227.1,287.2 222.0,287.0 216.9,286.7 211.8,286.4 206.8,286.1 201.7,285.7Z" fill="#a6509a" stroke="#a6509a" stroke-width="0.6"/>
<path d="M201.7,285.7 206.8,286.1 211.8,286.4 216.9,286.7 222.0,287.0 227.1,287.2 232.1,287.3 237.2,287.5 242.3,287.6 247.3,287.6 252.4,287.6 257.5,287.6 262.5,287.5 267.6,287.4 272.7,287.2 277.8,287.0 282.8,286.8 287.9,286.5 293.0,286.1 298.0,285.8 303.1,285.4 308.2,284.9 313.3,284.4 318.3,283.9 323.4,283.3 L323.4,289.1 318.3,289.8 313.3,290.5 308.2,291.0 303.1,291.6 298.0,292.1 293.0,292.5 287.9,292.8 282.8,293.1 277.8,293.4 272.7,293.6 267.6,293.7 262.5,293.8 257.5,293.8 252.4,293.8 247.3,293.7 242.3,293.5 237.2,293.3 232.1,293.1 227.1,292.8 222.0,292.4 216.9,291.9 211.8,291.5 206.8,290.9 201.7,290.3Z" fill="#ee98ac" stroke="#ee98ac" stroke-width="0.6"/>
<path d="M201.7,290.3 206.8,290.9 211.8,291.5 216.9,291.9 222.0,292.4 227.1,292.8 232.1,293.1 237.2,293.3 242.3,293.5 247.3,293.7 252.4,293.8 257.5,293.8 262.5,293.8 267.6,293.7 272.7,293.6 277.8,293.4 282.8,293.1 287.9,292.8 293.0,292.5 298.0,292.1 303.1,291.6 308.2,291.0 313.3,290.5 318.3,289.8 323.4,289.1 L323.4,301.1 318.3,301.7 313.3,302.3 308.2,302.8 303.1,303.2 298.0,303.7 293.0,304.0 287.9,304.4 282.8,304.6 277.8,304.9 272.7,305.1 267.6,305.2 262.5,305.3 257.5,305.4 252.4,305.4 247.3,305.3 242.3,305.2 237.2,305.1 232.1,304.9 227.1,304.7 222.0,304.4 216.9,304.1 211.8,303.8 206.8,303.4 201.7,302.9Z" fill="#5e2e86" stroke="#5e2e86" stroke-width="0.6"/>
<path d="M201.7,302.9 206.8,303.4 211.8,303.8 216.9,304.1 222.0,304.4 227.1,304.7 232.1,304.9 237.2,305.1 242.3,305.2 247.3,305.3 252.4,305.4 257.5,305.4 262.5,305.3 267.6,305.2 272.7,305.1 277.8,304.9 282.8,304.6 287.9,304.4 293.0,304.0 298.0,303.7 303.1,303.2 308.2,302.8 313.3,302.3 318.3,301.7 323.4,301.1 L323.4,308.3 318.3,309.2 313.3,310.0 308.2,310.8 303.1,311.5 298.0,312.2 293.0,312.7 287.9,313.2 282.8,313.7 277.8,314.1 272.7,314.4 267.6,314.6 262.5,314.8 257.5,314.9 252.4,315.0 247.3,315.0 242.3,314.9 237.2,314.7 232.1,314.5 227.1,314.3 222.0,313.9 216.9,313.5 211.8,313.0 206.8,312.5 201.7,311.9Z" fill="#f09aa9" stroke="#f09aa9" stroke-width="0.6"/>
<path d="M201.7,311.9 206.8,312.5 211.8,313.0 216.9,313.5 222.0,313.9 227.1,314.3 232.1,314.5 237.2,314.7 242.3,314.9 247.3,315.0 252.4,315.0 257.5,314.9 262.5,314.8 267.6,314.6 272.7,314.4 277.8,314.1 282.8,313.7 287.9,313.2 293.0,312.7 298.0,312.2 303.1,311.5 308.2,310.8 313.3,310.0 318.3,309.2 323.4,308.3 L323.4,324.7 318.3,324.6 313.3,324.5 308.2,324.4 303.1,324.3 298.0,324.2 293.0,324.1 287.9,324.0 282.8,323.9 277.8,323.8 272.7,323.7 267.6,323.6 262.5,323.5 257.5,323.4 252.4,323.3 247.3,323.2 242.3,323.1 237.2,323.0 232.1,322.9 227.1,322.8 222.0,322.7 216.9,322.6 211.8,322.5 206.8,322.4 201.7,322.3Z" fill="#33191f" stroke="#33191f" stroke-width="0.6"/>
<path d="M201.7,322.3 206.8,322.4 211.8,322.5 216.9,322.6 222.0,322.7 227.1,322.8 232.1,322.9 237.2,323.0 242.3,323.1 247.3,323.2 252.4,323.3 257.5,323.4 262.5,323.5 267.6,323.6 272.7,323.7 277.8,323.8 282.8,323.9 287.9,324.0 293.0,324.1 298.0,324.2 303.1,324.3 308.2,324.4 313.3,324.5 318.3,324.6 323.4,324.7 L323.4,327.8 318.3,328.1 313.3,328.4 308.2,328.6 303.1,328.8 298.0,329.0 293.0,329.1 287.9,329.2 282.8,329.2 277.8,329.2 272.7,329.2 267.6,329.1 262.5,329.0 257.5,328.9 252.4,328.7 247.3,328.5 242.3,328.2 237.2,327.9 232.1,327.6 227.1,327.2 222.0,326.8 216.9,326.4 211.8,325.9 206.8,325.4 201.7,324.8Z" fill="#e06c7e" stroke="#e06c7e" stroke-width="0.6"/>
<path d="M202.7,259.2 210.2,259.8 217.7,260.2 225.1,260.5 232.6,260.8 240.1,261.0 247.6,261.1 255.1,261.1 262.5,261.1 270.0,260.9 277.5,260.7 285.0,260.4 292.5,260.0 300.0,259.6 307.4,259.1 314.9,258.4 322.4,257.8" fill="none" stroke="#7e3a7c" stroke-width="2.4" stroke-dasharray="1.6 1.1 0.8 1.4" opacity="0.85"/>
<ellipse cx="214" cy="317.5" rx="8" ry="1.5" fill="#ece4e6" opacity="0.9"/>
<ellipse cx="253" cy="317.3" rx="5" ry="1" fill="#e4d8dc" opacity="0.85"/>
<ellipse cx="278" cy="317" rx="11" ry="1.3" fill="#ece4e6" opacity="0.9"/>
<ellipse cx="311" cy="315.5" rx="8" ry="2" fill="#ece4e6" opacity="0.9"/>
<ellipse cx="233" cy="318" rx="4" ry="1" fill="#e8dde0"/>
<ellipse cx="296" cy="318.5" rx="6" ry="1.6" fill="#f2eaec"/>
<ellipse cx="240" cy="319.5" rx="5" ry="1.2" fill="#f2eaec"/>
<g clip-path="url(#tc5)"><rect x="202.7" y="254" width="119.7" height="81.0" filter="url(#nzd)" opacity="0.5"/>
<rect x="202.7" y="254" width="119.7" height="81.0" filter="url(#nzl)" opacity="0.4"/></g>
</g>
<clipPath id="cp6"><rect x="78.6" y="355" width="120.2" height="80.0"/></clipPath>
<g clip-path="url(#cp6)">
<rect x="78.6" y="355" width="120.2" height="80.0" fill="#fbf8ee"/>
<clipPath id="tc6"><path d="M77.6,362.4 82.7,363.2 87.8,363.9 92.9,364.6 98.0,365.2 103.1,365.7 108.2,366.2 113.2,366.6 118.3,367.0 123.4,367.3 128.5,367.5 133.6,367.7 138.7,367.8 143.8,367.8 148.9,367.8 154.0,367.7 159.1,367.6 164.2,367.4 169.2,367.1 174.3,366.8 179.4,366.4 184.5,365.9 189.6,365.4 194.7,364.8 199.8,364.2 L199.8,426.3 194.7,427.0 189.6,427.7 184.5,428.3 179.4,428.8 174.3,429.3 169.2,429.8 164.2,430.1 159.1,430.4 154.0,430.7 148.9,430.9 143.8,431.0 138.7,431.1 133.6,431.1 128.5,431.1 123.4,431.0 118.3,430.8 113.2,430.6 108.2,430.4 103.1,430.0 98.0,429.6 92.9,429.2 87.8,428.7 82.7,428.1 77.6,427.5Z"/></clipPath>
<path d="M77.6,362.4 82.7,363.2 87.8,363.9 92.9,364.6 98.0,365.2 103.1,365.7 108.2,366.2 113.2,366.6 118.3,367.0 123.4,367.3 128.5,367.5 133.6,367.7 138.7,367.8 143.8,367.8 148.9,367.8 154.0,367.7 159.1,367.6 164.2,367.4 169.2,367.1 174.3,366.8 179.4,366.4 184.5,365.9 189.6,365.4 194.7,364.8 199.8,364.2 L199.8,369.0 194.7,369.9 189.6,370.7 184.5,371.5 179.4,372.2 174.3,372.8 169.2,373.3 164.2,373.7 159.1,374.1 154.0,374.4 148.9,374.7 143.8,374.8 138.7,374.9 133.6,374.9 128.5,374.8 123.4,374.7 118.3,374.5 113.2,374.2 108.2,373.8 103.1,373.4 98.0,372.9 92.9,372.3 87.8,371.6 82.7,370.9 77.6,370.1Z" fill="#e08cac" stroke="#e08cac" stroke-width="0.6"/>
<path d="M77.6,370.1 82.7,370.9 87.8,371.6 92.9,372.3 98.0,372.9 103.1,373.4 108.2,373.8 113.2,374.2 118.3,374.5 123.4,374.7 128.5,374.8 133.6,374.9 138.7,374.9 143.8,374.8 148.9,374.7 154.0,374.4 159.1,374.1 164.2,373.7 169.2,373.3 174.3,372.8 179.4,372.2 184.5,371.5 189.6,370.7 194.7,369.9 199.8,369.0 L199.8,382.4 194.7,383.0 189.6,383.5 184.5,384.0 179.4,384.4 174.3,384.8 169.2,385.1 164.2,385.4 159.1,385.6 154.0,385.8 148.9,385.9 143.8,386.0 138.7,386.0 133.6,386.0 128.5,385.9 123.4,385.8 118.3,385.6 113.2,385.4 108.2,385.1 103.1,384.8 98.0,384.4 92.9,384.0 87.8,383.5 82.7,383.0 77.6,382.4Z" fill="#f090a4" stroke="#f090a4" stroke-width="0.6"/>
<path d="M77.6,382.4 82.7,383.0 87.8,383.5 92.9,384.0 98.0,384.4 103.1,384.8 108.2,385.1 113.2,385.4 118.3,385.6 123.4,385.8 128.5,385.9 133.6,386.0 138.7,386.0 143.8,386.0 148.9,385.9 154.0,385.8 159.1,385.6 164.2,385.4 169.2,385.1 174.3,384.8 179.4,384.4 184.5,384.0 189.6,383.5 194.7,383.0 199.8,382.4 L199.8,396.3 194.7,396.8 189.6,397.3 184.5,397.7 179.4,398.1 174.3,398.5 169.2,398.8 164.2,399.1 159.1,399.3 154.0,399.5 148.9,399.6 143.8,399.7 138.7,399.8 133.6,399.8 128.5,399.8 123.4,399.8 118.3,399.7 113.2,399.5 108.2,399.3 103.1,399.1 98.0,398.9 92.9,398.6 87.8,398.2 82.7,397.8 77.6,397.4Z" fill="#a6509a" stroke="#a6509a" stroke-width="0.6"/>
<path d="M77.6,397.4 82.7,397.8 87.8,398.2 92.9,398.6 98.0,398.9 103.1,399.1 108.2,399.3 113.2,399.5 118.3,399.7 123.4,399.8 128.5,399.8 133.6,399.8 138.7,399.8 143.8,399.7 148.9,399.6 154.0,399.5 159.1,399.3 164.2,399.1 169.2,398.8 174.3,398.5 179.4,398.1 184.5,397.7 189.6,397.3 194.7,396.8 199.8,396.3 L199.8,398.2 194.7,398.8 189.6,399.3 184.5,399.7 179.4,400.1 174.3,400.5 169.2,400.8 164.2,401.1 159.1,401.3 154.0,401.5 148.9,401.7 143.8,401.8 138.7,401.8 133.6,401.8 128.5,401.8 123.4,401.7 118.3,401.5 113.2,401.4 108.2,401.1 103.1,400.9 98.0,400.5 92.9,400.2 87.8,399.8 82.7,399.3 77.6,398.8Z" fill="#ee98ac" stroke="#ee98ac" stroke-width="0.6"/>
<path d="M77.6,398.8 82.7,399.3 87.8,399.8 92.9,400.2 98.0,400.5 103.1,400.9 108.2,401.1 113.2,401.4 118.3,401.5 123.4,401.7 128.5,401.8 133.6,401.8 138.7,401.8 143.8,401.8 148.9,401.7 154.0,401.5 159.1,401.3 164.2,401.1 169.2,400.8 174.3,400.5 179.4,400.1 184.5,399.7 189.6,399.3 194.7,398.8 199.8,398.2 L199.8,413.6 194.7,414.1 189.6,414.6 184.5,415.1 179.4,415.5 174.3,415.8 169.2,416.1 164.2,416.4 159.1,416.7 154.0,416.9 148.9,417.0 143.8,417.1 138.7,417.2 133.6,417.2 128.5,417.2 123.4,417.2 118.3,417.1 113.2,416.9 108.2,416.8 103.1,416.5 98.0,416.3 92.9,416.0 87.8,415.6 82.7,415.2 77.6,414.8Z" fill="#5e2e86" stroke="#5e2e86" stroke-width="0.6"/>
<path d="M77.6,414.8 82.7,415.2 87.8,415.6 92.9,416.0 98.0,416.3 103.1,416.5 108.2,416.8 113.2,416.9 118.3,417.1 123.4,417.2 128.5,417.2 133.6,417.2 138.7,417.2 143.8,417.1 148.9,417.0 154.0,416.9 159.1,416.7 164.2,416.4 169.2,416.1 174.3,415.8 179.4,415.5 184.5,415.1 189.6,414.6 194.7,414.1 199.8,413.6 L199.8,418.5 194.7,419.0 189.6,419.4 184.5,419.8 179.4,420.1 174.3,420.4 169.2,420.7 164.2,420.9 159.1,421.1 154.0,421.2 148.9,421.3 143.8,421.4 138.7,421.4 133.6,421.4 128.5,421.3 123.4,421.2 118.3,421.1 113.2,420.9 108.2,420.7 103.1,420.4 98.0,420.1 92.9,419.8 87.8,419.4 82.7,419.0 77.6,418.5Z" fill="#f09aa9" stroke="#f09aa9" stroke-width="0.6"/>
<path d="M77.6,418.5 82.7,419.0 87.8,419.4 92.9,419.8 98.0,420.1 103.1,420.4 108.2,420.7 113.2,420.9 118.3,421.1 123.4,421.2 128.5,421.3 133.6,421.4 138.7,421.4 143.8,421.4 148.9,421.3 154.0,421.2 159.1,421.1 164.2,420.9 169.2,420.7 174.3,420.4 179.4,420.1 184.5,419.8 189.6,419.4 194.7,419.0 199.8,418.5 L199.8,422.7 194.7,423.2 189.6,423.7 184.5,424.1 179.4,424.5 174.3,424.9 169.2,425.2 164.2,425.5 159.1,425.7 154.0,425.9 148.9,426.1 143.8,426.2 138.7,426.3 133.6,426.4 128.5,426.4 123.4,426.4 118.3,426.3 113.2,426.2 108.2,426.1 103.1,425.9 98.0,425.7 92.9,425.5 87.8,425.2 82.7,424.9 77.6,424.5Z" fill="#621c30" stroke="#621c30" stroke-width="0.6"/>
<path d="M77.6,424.5 82.7,424.9 87.8,425.2 92.9,425.5 98.0,425.7 103.1,425.9 108.2,426.1 113.2,426.2 118.3,426.3 123.4,426.4 128.5,426.4 133.6,426.4 138.7,426.3 143.8,426.2 148.9,426.1 154.0,425.9 159.1,425.7 164.2,425.5 169.2,425.2 174.3,424.9 179.4,424.5 184.5,424.1 189.6,423.7 194.7,423.2 199.8,422.7 L199.8,426.3 194.7,427.0 189.6,427.7 184.5,428.3 179.4,428.8 174.3,429.3 169.2,429.8 164.2,430.1 159.1,430.4 154.0,430.7 148.9,430.9 143.8,431.0 138.7,431.1 133.6,431.1 128.5,431.1 123.4,431.0 118.3,430.8 113.2,430.6 108.2,430.4 103.1,430.0 98.0,429.6 92.9,429.2 87.8,428.7 82.7,428.1 77.6,427.5Z" fill="#e06c7e" stroke="#e06c7e" stroke-width="0.6"/>
<path d="M78.6,366.2 86.1,367.4 93.6,368.4 101.1,369.3 108.7,370.0 116.2,370.6 123.7,371.0 131.2,371.3 138.7,371.4 146.2,371.3 153.7,371.1 161.2,370.7 168.8,370.2 176.3,369.5 183.8,368.7 191.3,367.7 198.8,366.6" fill="none" stroke="#7e3a7c" stroke-width="2.4" stroke-dasharray="1.6 1.1 0.8 1.4" opacity="0.85"/>
<g clip-path="url(#tc6)"><rect x="78.6" y="355" width="120.2" height="80.0" filter="url(#nzd)" opacity="0.5"/>
<rect x="78.6" y="355" width="120.2" height="80.0" filter="url(#nzl)" opacity="0.4"/></g>
</g>
<clipPath id="cp7"><rect x="203.3" y="355" width="119.1" height="87.0"/></clipPath>
<g clip-path="url(#cp7)">
<rect x="203.3" y="355" width="119.1" height="87.0" fill="#fbf8ee"/>
<clipPath id="tc7"><path d="M202.3,364.2 207.3,364.8 212.4,365.3 217.4,365.7 222.5,366.1 227.5,366.5 232.6,366.8 237.6,367.1 242.7,367.3 247.7,367.5 252.8,367.7 257.8,367.8 262.9,367.8 267.9,367.8 272.9,367.8 278.0,367.7 283.0,367.5 288.1,367.4 293.1,367.1 298.2,366.9 303.2,366.5 308.3,366.2 313.3,365.8 318.4,365.3 323.4,364.8 L323.4,429.8 318.4,430.6 313.3,431.4 308.3,432.1 303.2,432.8 298.2,433.4 293.1,434.0 288.1,434.5 283.0,435.0 278.0,435.4 272.9,435.8 267.9,436.1 262.9,436.3 257.8,436.5 252.8,436.6 247.7,436.7 242.7,436.8 237.6,436.7 232.6,436.7 227.5,436.5 222.5,436.4 217.4,436.1 212.4,435.8 207.3,435.5 202.3,435.1Z"/></clipPath>
<path d="M202.3,364.2 207.3,364.8 212.4,365.3 217.4,365.7 222.5,366.1 227.5,366.5 232.6,366.8 237.6,367.1 242.7,367.3 247.7,367.5 252.8,367.7 257.8,367.8 262.9,367.8 267.9,367.8 272.9,367.8 278.0,367.7 283.0,367.5 288.1,367.4 293.1,367.1 298.2,366.9 303.2,366.5 308.3,366.2 313.3,365.8 318.4,365.3 323.4,364.8 L323.4,372.9 318.4,373.4 313.3,373.8 308.3,374.2 303.2,374.6 298.2,374.9 293.1,375.1 288.1,375.4 283.0,375.6 278.0,375.7 272.9,375.8 267.9,375.9 262.9,375.9 257.8,375.9 252.8,375.8 247.7,375.7 242.7,375.6 237.6,375.4 232.6,375.1 227.5,374.9 222.5,374.6 217.4,374.2 212.4,373.8 207.3,373.4 202.3,372.9Z" fill="#e08cac" stroke="#e08cac" stroke-width="0.6"/>
<path d="M202.3,372.9 207.3,373.4 212.4,373.8 217.4,374.2 222.5,374.6 227.5,374.9 232.6,375.1 237.6,375.4 242.7,375.6 247.7,375.7 252.8,375.8 257.8,375.9 262.9,375.9 267.9,375.9 272.9,375.8 278.0,375.7 283.0,375.6 288.1,375.4 293.1,375.1 298.2,374.9 303.2,374.6 308.3,374.2 313.3,373.8 318.4,373.4 323.4,372.9 L323.4,384.9 318.4,385.4 313.3,385.8 308.3,386.2 303.2,386.5 298.2,386.8 293.1,387.1 288.1,387.3 283.0,387.5 278.0,387.6 272.9,387.7 267.9,387.8 262.9,387.8 257.8,387.8 252.8,387.7 247.7,387.6 242.7,387.5 237.6,387.3 232.6,387.1 227.5,386.8 222.5,386.5 217.4,386.2 212.4,385.8 207.3,385.4 202.3,384.9Z" fill="#f090a4" stroke="#f090a4" stroke-width="0.6"/>
<path d="M202.3,384.9 207.3,385.4 212.4,385.8 217.4,386.2 222.5,386.5 227.5,386.8 232.6,387.1 237.6,387.3 242.7,387.5 247.7,387.6 252.8,387.7 257.8,387.8 262.9,387.8 267.9,387.8 272.9,387.7 278.0,387.6 283.0,387.5 288.1,387.3 293.1,387.1 298.2,386.8 303.2,386.5 308.3,386.2 313.3,385.8 318.4,385.4 323.4,384.9 L323.4,398.3 318.4,398.6 313.3,398.9 308.3,399.1 303.2,399.3 298.2,399.5 293.1,399.7 288.1,399.8 283.0,399.9 278.0,400.0 272.9,400.1 267.9,400.1 262.9,400.1 257.8,400.1 252.8,400.0 247.7,400.0 242.7,399.9 237.6,399.8 232.6,399.7 227.5,399.5 222.5,399.3 217.4,399.1 212.4,398.9 207.3,398.6 202.3,398.3Z" fill="#a6509a" stroke="#a6509a" stroke-width="0.6"/>
<path d="M202.3,398.3 207.3,398.6 212.4,398.9 217.4,399.1 222.5,399.3 227.5,399.5 232.6,399.7 237.6,399.8 242.7,399.9 247.7,400.0 252.8,400.0 257.8,400.1 262.9,400.1 267.9,400.1 272.9,400.1 278.0,400.0 283.0,399.9 288.1,399.8 293.1,399.7 298.2,399.5 303.2,399.3 308.3,399.1 313.3,398.9 318.4,398.6 323.4,398.3 L323.4,400.8 318.4,401.2 313.3,401.5 308.3,401.9 303.2,402.1 298.2,402.4 293.1,402.6 288.1,402.8 283.0,402.9 278.0,403.0 272.9,403.1 267.9,403.1 262.9,403.1 257.8,403.1 252.8,403.0 247.7,402.9 242.7,402.7 237.6,402.5 232.6,402.3 227.5,402.0 222.5,401.7 217.4,401.4 212.4,401.0 207.3,400.6 202.3,400.2Z" fill="#ee98ac" stroke="#ee98ac" stroke-width="0.6"/>
<path d="M202.3,400.2 207.3,400.6 212.4,401.0 217.4,401.4 222.5,401.7 227.5,402.0 232.6,402.3 237.6,402.5 242.7,402.7 247.7,402.9 252.8,403.0 257.8,403.1 262.9,403.1 267.9,403.1 272.9,403.1 278.0,403.0 283.0,402.9 288.1,402.8 293.1,402.6 298.2,402.4 303.2,402.1 308.3,401.9 313.3,401.5 318.4,401.2 323.4,400.8 L323.4,415.5 318.4,416.0 313.3,416.4 308.3,416.8 303.2,417.2 298.2,417.5 293.1,417.8 288.1,418.0 283.0,418.2 278.0,418.3 272.9,418.4 267.9,418.5 262.9,418.5 257.8,418.5 252.8,418.4 247.7,418.3 242.7,418.2 237.6,418.0 232.6,417.8 227.5,417.5 222.5,417.2 217.4,416.8 212.4,416.4 207.3,416.0 202.3,415.5Z" fill="#5e2e86" stroke="#5e2e86" stroke-width="0.6"/>
<path d="M202.3,415.5 207.3,416.0 212.4,416.4 217.4,416.8 222.5,417.2 227.5,417.5 232.6,417.8 237.6,418.0 242.7,418.2 247.7,418.3 252.8,418.4 257.8,418.5 262.9,418.5 267.9,418.5 272.9,418.4 278.0,418.3 283.0,418.2 288.1,418.0 293.1,417.8 298.2,417.5 303.2,417.2 308.3,416.8 313.3,416.4 318.4,416.0 323.4,415.5 L323.4,420.9 318.4,421.4 313.3,421.8 308.3,422.2 303.2,422.5 298.2,422.8 293.1,423.1 288.1,423.3 283.0,423.5 278.0,423.7 272.9,423.8 267.9,423.9 262.9,423.9 257.8,423.9 252.8,423.9 247.7,423.8 242.7,423.7 237.6,423.6 232.6,423.4 227.5,423.2 222.5,422.9 217.4,422.6 212.4,422.3 207.3,421.9 202.3,421.5Z" fill="#f09aa9" stroke="#f09aa9" stroke-width="0.6"/>
<path d="M202.3,421.5 207.3,421.9 212.4,422.3 217.4,422.6 222.5,422.9 227.5,423.2 232.6,423.4 237.6,423.6 242.7,423.7 247.7,423.8 252.8,423.9 257.8,423.9 262.9,423.9 267.9,423.9 272.9,423.8 278.0,423.7 283.0,423.5 288.1,423.3 293.1,423.1 298.2,422.8 303.2,422.5 308.3,422.2 313.3,421.8 318.4,421.4 323.4,420.9 L323.4,424.6 318.4,425.2 313.3,425.7 308.3,426.2 303.2,426.7 298.2,427.1 293.1,427.5 288.1,427.8 283.0,428.1 278.0,428.3 272.9,428.5 267.9,428.6 262.9,428.7 257.8,428.7 252.8,428.8 247.7,428.7 242.7,428.6 237.6,428.5 232.6,428.3 227.5,428.1 222.5,427.8 217.4,427.5 212.4,427.2 207.3,426.7 202.3,426.3Z" fill="#621c30" stroke="#621c30" stroke-width="0.6"/>
<path d="M202.3,426.3 207.3,426.7 212.4,427.2 217.4,427.5 222.5,427.8 227.5,428.1 232.6,428.3 237.6,428.5 242.7,428.6 247.7,428.7 252.8,428.8 257.8,428.7 262.9,428.7 267.9,428.6 272.9,428.5 278.0,428.3 283.0,428.1 288.1,427.8 293.1,427.5 298.2,427.1 303.2,426.7 308.3,426.2 313.3,425.7 318.4,425.2 323.4,424.6 L323.4,429.8 318.4,430.6 313.3,431.4 308.3,432.1 303.2,432.8 298.2,433.4 293.1,434.0 288.1,434.5 283.0,435.0 278.0,435.4 272.9,435.8 267.9,436.1 262.9,436.3 257.8,436.5 252.8,436.6 247.7,436.7 242.7,436.8 237.6,436.7 232.6,436.7 227.5,436.5 222.5,436.4 217.4,436.1 212.4,435.8 207.3,435.5 202.3,435.1Z" fill="#e06c7e" stroke="#e06c7e" stroke-width="0.6"/>
<path d="M203.3,368.5 210.7,369.3 218.2,370.0 225.6,370.5 233.1,371.0 240.5,371.4 248.0,371.6 255.4,371.8 262.9,371.9 270.3,371.8 277.7,371.7 285.2,371.5 292.6,371.1 300.1,370.7 307.5,370.2 315.0,369.6 322.4,368.9" fill="none" stroke="#7e3a7c" stroke-width="2.4" stroke-dasharray="1.6 1.1 0.8 1.4" opacity="0.85"/>
<g clip-path="url(#tc7)"><rect x="203.3" y="355" width="119.1" height="87.0" filter="url(#nzd)" opacity="0.5"/>
<rect x="203.3" y="355" width="119.1" height="87.0" filter="url(#nzl)" opacity="0.4"/></g>
</g>
<clipPath id="cp8"><rect x="362.7" y="64" width="117.9" height="85.0"/></clipPath>
<g clip-path="url(#cp8)">
<rect x="362.7" y="64" width="117.9" height="85.0" fill="#ffffff"/>
<clipPath id="tc8"><path d="M361.7,67.4 366.7,68.5 371.7,69.4 376.7,70.3 381.7,71.1 386.7,71.8 391.7,72.4 396.7,72.8 401.7,73.2 406.7,73.5 411.7,73.8 416.7,73.9 421.6,73.9 426.6,73.8 431.6,73.7 436.6,73.4 441.6,73.0 446.6,72.6 451.6,72.0 456.6,71.4 461.6,70.7 466.6,69.8 471.6,68.9 476.6,67.9 481.6,66.8 L481.6,148.6 476.6,149.0 471.6,149.3 466.6,149.5 461.6,149.6 456.6,149.7 451.6,149.6 446.6,149.5 441.6,149.2 436.6,148.9 431.6,148.5 426.6,148.0 421.6,147.4 416.7,146.7 411.7,145.9 406.7,145.1 401.7,144.1 396.7,143.1 391.7,141.9 386.7,140.7 381.7,139.4 376.7,138.0 371.7,136.5 366.7,134.9 361.7,133.2Z"/></clipPath>
<path d="M361.7,67.4 366.7,68.5 371.7,69.4 376.7,70.3 381.7,71.1 386.7,71.8 391.7,72.4 396.7,72.8 401.7,73.2 406.7,73.5 411.7,73.8 416.7,73.9 421.6,73.9 426.6,73.8 431.6,73.7 436.6,73.4 441.6,73.0 446.6,72.6 451.6,72.0 456.6,71.4 461.6,70.7 466.6,69.8 471.6,68.9 476.6,67.9 481.6,66.8 L481.6,78.7 476.6,79.0 471.6,79.2 466.6,79.5 461.6,79.7 456.6,79.9 451.6,80.1 446.6,80.2 441.6,80.3 436.6,80.4 431.6,80.4 426.6,80.5 421.6,80.5 416.7,80.5 411.7,80.5 406.7,80.4 401.7,80.3 396.7,80.2 391.7,80.0 386.7,79.9 381.7,79.7 376.7,79.5 371.7,79.2 366.7,79.0 361.7,78.7Z" fill="#a95a9c" stroke="#a95a9c" stroke-width="0.6"/>
<path d="M361.7,78.7 366.7,79.0 371.7,79.2 376.7,79.5 381.7,79.7 386.7,79.9 391.7,80.0 396.7,80.2 401.7,80.3 406.7,80.4 411.7,80.5 416.7,80.5 421.6,80.5 426.6,80.5 431.6,80.4 436.6,80.4 441.6,80.3 446.6,80.2 451.6,80.1 456.6,79.9 461.6,79.7 466.6,79.5 471.6,79.2 476.6,79.0 481.6,78.7 L481.6,85.8 476.6,86.3 471.6,86.8 466.6,87.2 461.6,87.5 456.6,87.9 451.6,88.1 446.6,88.4 441.6,88.5 436.6,88.7 431.6,88.8 426.6,88.8 421.6,88.8 416.7,88.8 411.7,88.7 406.7,88.5 401.7,88.3 396.7,88.1 391.7,87.8 386.7,87.5 381.7,87.1 376.7,86.7 371.7,86.3 366.7,85.8 361.7,85.2Z" fill="#e2699c" stroke="#e2699c" stroke-width="0.6"/>
<path d="M361.7,85.2 366.7,85.8 371.7,86.3 376.7,86.7 381.7,87.1 386.7,87.5 391.7,87.8 396.7,88.1 401.7,88.3 406.7,88.5 411.7,88.7 416.7,88.8 421.6,88.8 426.6,88.8 431.6,88.8 436.6,88.7 441.6,88.5 446.6,88.4 451.6,88.1 456.6,87.9 461.6,87.5 466.6,87.2 471.6,86.8 476.6,86.3 481.6,85.8 L481.6,123.0 476.6,123.5 471.6,123.9 466.6,124.3 461.6,124.6 456.6,124.9 451.6,125.1 446.6,125.3 441.6,125.4 436.6,125.5 431.6,125.5 426.6,125.5 421.6,125.4 416.7,125.3 411.7,125.1 406.7,124.9 401.7,124.6 396.7,124.3 391.7,123.9 386.7,123.5 381.7,123.0 376.7,122.5 371.7,121.9 366.7,121.3 361.7,120.6Z" fill="#5c2674" stroke="#5c2674" stroke-width="0.6"/>
<path d="M361.7,120.6 366.7,121.3 371.7,121.9 376.7,122.5 381.7,123.0 386.7,123.5 391.7,123.9 396.7,124.3 401.7,124.6 406.7,124.9 411.7,125.1 416.7,125.3 421.6,125.4 426.6,125.5 431.6,125.5 436.6,125.5 441.6,125.4 446.6,125.3 451.6,125.1 456.6,124.9 461.6,124.6 466.6,124.3 471.6,123.9 476.6,123.5 481.6,123.0 L481.6,128.6 476.6,130.3 471.6,131.8 466.6,133.2 461.6,134.4 456.6,135.4 451.6,136.3 446.6,137.0 441.6,137.6 436.6,137.9 431.6,138.2 426.6,138.2 421.6,138.1 416.7,137.8 411.7,137.4 406.7,136.8 401.7,136.0 396.7,135.1 391.7,134.0 386.7,132.7 381.7,131.3 376.7,129.7 371.7,127.9 366.7,126.0 361.7,123.9Z" fill="#553084" stroke="#553084" stroke-width="0.6"/>
<path d="M361.7,123.9 366.7,126.0 371.7,127.9 376.7,129.7 381.7,131.3 386.7,132.7 391.7,134.0 396.7,135.1 401.7,136.0 406.7,136.8 411.7,137.4 416.7,137.8 421.6,138.1 426.6,138.2 431.6,138.2 436.6,137.9 441.6,137.6 446.6,137.0 451.6,136.3 456.6,135.4 461.6,134.4 466.6,133.2 471.6,131.8 476.6,130.3 481.6,128.6 L481.6,131.0 476.6,132.6 471.6,134.1 466.6,135.4 461.6,136.5 456.6,137.6 451.6,138.4 446.6,139.1 441.6,139.7 436.6,140.1 431.6,140.4 426.6,140.5 421.6,140.5 416.7,140.3 411.7,140.0 406.7,139.5 401.7,138.9 396.7,138.1 391.7,137.2 386.7,136.2 381.7,134.9 376.7,133.6 371.7,132.1 366.7,130.4 361.7,128.6Z" fill="#efb2cc" stroke="#efb2cc" stroke-width="0.6"/>
<path d="M361.7,128.6 366.7,130.4 371.7,132.1 376.7,133.6 381.7,134.9 386.7,136.2 391.7,137.2 396.7,138.1 401.7,138.9 406.7,139.5 411.7,140.0 416.7,140.3 421.6,140.5 426.6,140.5 431.6,140.4 436.6,140.1 441.6,139.7 446.6,139.1 451.6,138.4 456.6,137.6 461.6,136.5 466.6,135.4 471.6,134.1 476.6,132.6 481.6,131.0 L481.6,148.6 476.6,149.0 471.6,149.3 466.6,149.5 461.6,149.6 456.6,149.7 451.6,149.6 446.6,149.5 441.6,149.2 436.6,148.9 431.6,148.5 426.6,148.0 421.6,147.4 416.7,146.7 411.7,145.9 406.7,145.1 401.7,144.1 396.7,143.1 391.7,141.9 386.7,140.7 381.7,139.4 376.7,138.0 371.7,136.5 366.7,134.9 361.7,133.2Z" fill="#8c3a6e" stroke="#8c3a6e" stroke-width="0.6"/>
<path d="M362.7,73.1 370.1,74.0 377.4,74.9 384.8,75.6 392.2,76.2 399.5,76.7 406.9,77.0 414.3,77.2 421.6,77.2 429.0,77.1 436.4,76.9 443.8,76.5 451.1,76.1 458.5,75.4 465.9,74.7 473.2,73.8 480.6,72.8" fill="none" stroke="#7e3a7c" stroke-width="2.4" stroke-dasharray="1.6 1.1 0.8 1.4" opacity="0.85"/>
<path d="M421,141 L423.5,125 L426.5,141 Z" fill="#e8a0c0"/><path d="M421.5,141.5 L424,137 L427,141.5 Z" fill="#fbf0f4"/>
<g clip-path="url(#tc8)"><rect x="362.7" y="64" width="117.9" height="85.0" filter="url(#nzd)" opacity="0.5"/>
<rect x="362.7" y="64" width="117.9" height="85.0" filter="url(#nzl)" opacity="0.4"/></g>
</g>
<clipPath id="cp9"><rect x="487.3" y="64.5" width="117.1" height="84.5"/></clipPath>
<g clip-path="url(#cp9)">
<rect x="487.3" y="64.5" width="117.1" height="84.5" fill="#fbf1f6"/>
<clipPath id="tc9"><path d="M486.3,69.2 491.3,71.3 496.2,73.2 501.2,74.9 506.1,76.4 511.1,77.8 516.1,79.1 521.0,80.1 526.0,81.0 531.0,81.7 535.9,82.3 540.9,82.7 545.9,82.9 550.8,83.0 555.8,82.8 560.7,82.6 565.7,82.1 570.7,81.5 575.6,80.7 580.6,79.8 585.5,78.6 590.5,77.4 595.5,75.9 600.4,74.3 605.4,72.5 L605.4,140.3 600.4,141.6 595.5,142.8 590.5,143.9 585.5,144.9 580.6,145.8 575.6,146.5 570.7,147.2 565.7,147.7 560.7,148.1 555.8,148.4 550.8,148.5 545.9,148.6 540.9,148.5 535.9,148.4 531.0,148.1 526.0,147.7 521.0,147.2 516.1,146.5 511.1,145.8 506.1,144.9 501.2,143.9 496.2,142.8 491.3,141.6 486.3,140.3Z"/></clipPath>
<path d="M486.3,69.2 491.3,71.3 496.2,73.2 501.2,74.9 506.1,76.4 511.1,77.8 516.1,79.1 521.0,80.1 526.0,81.0 531.0,81.7 535.9,82.3 540.9,82.7 545.9,82.9 550.8,83.0 555.8,82.8 560.7,82.6 565.7,82.1 570.7,81.5 575.6,80.7 580.6,79.8 585.5,78.6 590.5,77.4 595.5,75.9 600.4,74.3 605.4,72.5 L605.4,88.0 600.4,89.0 595.5,89.9 590.5,90.8 585.5,91.5 580.6,92.1 575.6,92.7 570.7,93.2 565.7,93.5 560.7,93.8 555.8,94.0 550.8,94.1 545.9,94.1 540.9,94.0 535.9,93.8 531.0,93.6 526.0,93.2 521.0,92.7 516.1,92.2 511.1,91.6 506.1,90.8 501.2,90.0 496.2,89.1 491.3,88.1 486.3,87.0Z" fill="#a95a9c" stroke="#a95a9c" stroke-width="0.6"/>
<path d="M486.3,87.0 491.3,88.1 496.2,89.1 501.2,90.0 506.1,90.8 511.1,91.6 516.1,92.2 521.0,92.7 526.0,93.2 531.0,93.6 535.9,93.8 540.9,94.0 545.9,94.1 550.8,94.1 555.8,94.0 560.7,93.8 565.7,93.5 570.7,93.2 575.6,92.7 580.6,92.1 585.5,91.5 590.5,90.8 595.5,89.9 600.4,89.0 605.4,88.0 L605.4,95.0 600.4,96.2 595.5,97.3 590.5,98.3 585.5,99.2 580.6,100.0 575.6,100.7 570.7,101.2 565.7,101.7 560.7,102.0 555.8,102.3 550.8,102.4 545.9,102.4 540.9,102.3 535.9,102.1 531.0,101.8 526.0,101.4 521.0,100.8 516.1,100.2 511.1,99.5 506.1,98.6 501.2,97.6 496.2,96.6 491.3,95.4 486.3,94.1Z" fill="#e2699c" stroke="#e2699c" stroke-width="0.6"/>
<path d="M486.3,94.1 491.3,95.4 496.2,96.6 501.2,97.6 506.1,98.6 511.1,99.5 516.1,100.2 521.0,100.8 526.0,101.4 531.0,101.8 535.9,102.1 540.9,102.3 545.9,102.4 550.8,102.4 555.8,102.3 560.7,102.0 565.7,101.7 570.7,101.2 575.6,100.7 580.6,100.0 585.5,99.2 590.5,98.3 595.5,97.3 600.4,96.2 605.4,95.0 L605.4,119.0 600.4,119.8 595.5,120.5 590.5,121.2 585.5,121.8 580.6,122.3 575.6,122.8 570.7,123.1 565.7,123.4 560.7,123.7 555.8,123.9 550.8,124.0 545.9,124.0 540.9,124.0 535.9,123.9 531.0,123.7 526.0,123.4 521.0,123.1 516.1,122.8 511.1,122.3 506.1,121.8 501.2,121.2 496.2,120.5 491.3,119.8 486.3,119.0Z" fill="#5c2674" stroke="#5c2674" stroke-width="0.6"/>
<path d="M486.3,119.0 491.3,119.8 496.2,120.5 501.2,121.2 506.1,121.8 511.1,122.3 516.1,122.8 521.0,123.1 526.0,123.4 531.0,123.7 535.9,123.9 540.9,124.0 545.9,124.0 550.8,124.0 555.8,123.9 560.7,123.7 565.7,123.4 570.7,123.1 575.6,122.8 580.6,122.3 585.5,121.8 590.5,121.2 595.5,120.5 600.4,119.8 605.4,119.0 L605.4,132.0 600.4,132.9 595.5,133.8 590.5,134.5 585.5,135.2 580.6,135.8 575.6,136.3 570.7,136.8 565.7,137.2 560.7,137.5 555.8,137.8 550.8,137.9 545.9,138.0 540.9,138.0 535.9,137.9 531.0,137.8 526.0,137.6 521.0,137.3 516.1,136.9 511.1,136.5 506.1,136.0 501.2,135.4 496.2,134.8 491.3,134.0 486.3,133.2Z" fill="#553084" stroke="#553084" stroke-width="0.6"/>
<path d="M486.3,133.2 491.3,134.0 496.2,134.8 501.2,135.4 506.1,136.0 511.1,136.5 516.1,136.9 521.0,137.3 526.0,137.6 531.0,137.8 535.9,137.9 540.9,138.0 545.9,138.0 550.8,137.9 555.8,137.8 560.7,137.5 565.7,137.2 570.7,136.8 575.6,136.3 580.6,135.8 585.5,135.2 590.5,134.5 595.5,133.8 600.4,132.9 605.4,132.0 L605.4,133.8 600.4,134.8 595.5,135.7 590.5,136.5 585.5,137.2 580.6,137.9 575.6,138.5 570.7,139.0 565.7,139.4 560.7,139.7 555.8,140.0 550.8,140.2 545.9,140.3 540.9,140.3 535.9,140.3 531.0,140.2 526.0,140.0 521.0,139.7 516.1,139.3 511.1,138.9 506.1,138.4 501.2,137.8 496.2,137.2 491.3,136.4 486.3,135.6Z" fill="#efb2cc" stroke="#efb2cc" stroke-width="0.6"/>
<path d="M486.3,135.6 491.3,136.4 496.2,137.2 501.2,137.8 506.1,138.4 511.1,138.9 516.1,139.3 521.0,139.7 526.0,140.0 531.0,140.2 535.9,140.3 540.9,140.3 545.9,140.3 550.8,140.2 555.8,140.0 560.7,139.7 565.7,139.4 570.7,139.0 575.6,138.5 580.6,137.9 585.5,137.2 590.5,136.5 595.5,135.7 600.4,134.8 605.4,133.8 L605.4,140.3 600.4,141.6 595.5,142.8 590.5,143.9 585.5,144.9 580.6,145.8 575.6,146.5 570.7,147.2 565.7,147.7 560.7,148.1 555.8,148.4 550.8,148.5 545.9,148.6 540.9,148.5 535.9,148.4 531.0,148.1 526.0,147.7 521.0,147.2 516.1,146.5 511.1,145.8 506.1,144.9 501.2,143.9 496.2,142.8 491.3,141.6 486.3,140.3Z" fill="#8c3a6e" stroke="#8c3a6e" stroke-width="0.6"/>
<path d="M487.3,78.1 494.6,80.4 501.9,82.4 509.3,84.2 516.6,85.6 523.9,86.8 531.2,87.6 538.5,88.2 545.9,88.5 553.2,88.5 560.5,88.2 567.8,87.6 575.1,86.7 582.4,85.5 589.8,84.1 597.1,82.3 604.4,80.2" fill="none" stroke="#7e3a7c" stroke-width="2.4" stroke-dasharray="1.6 1.1 0.8 1.4" opacity="0.85"/>
<g fill="#a0608e"><circle cx="525" cy="71" r="0.9"/><circle cx="564.1" cy="67" r="0.9"/><circle cx="533.3" cy="80.4" r="1.8"/><circle cx="560.6" cy="81.6" r="1.7"/><circle cx="578.4" cy="78" r="1.8"/><circle cx="597.3" cy="73.3" r="1.8"/></g>
<g clip-path="url(#tc9)"><rect x="487.3" y="64.5" width="117.1" height="84.5" filter="url(#nzd)" opacity="0.5"/>
<rect x="487.3" y="64.5" width="117.1" height="84.5" filter="url(#nzl)" opacity="0.4"/></g>
</g>
<clipPath id="cp10"><rect x="363.1" y="160.3" width="118.1" height="91.7"/></clipPath>
<g clip-path="url(#cp10)">
<rect x="363.1" y="160.3" width="118.1" height="91.7" fill="#e3e4e2"/>
<clipPath id="tc10"><path d="M362.1,169.8 367.1,171.0 372.1,172.0 377.1,173.0 382.1,173.8 387.1,174.6 392.1,175.2 397.1,175.7 402.1,176.2 407.1,176.5 412.1,176.7 417.1,176.9 422.1,176.9 427.2,176.8 432.2,176.6 437.2,176.4 442.2,176.0 447.2,175.5 452.2,174.9 457.2,174.2 462.2,173.4 467.2,172.5 472.2,171.5 477.2,170.4 482.2,169.2 L482.2,249.8 477.2,249.6 472.2,249.5 467.2,249.3 462.2,249.0 457.2,248.8 452.2,248.5 447.2,248.2 442.2,247.9 437.2,247.5 432.2,247.1 427.2,246.7 422.1,246.3 417.1,245.8 412.1,245.4 407.1,244.9 402.1,244.3 397.1,243.8 392.1,243.2 387.1,242.6 382.1,242.0 377.1,241.3 372.1,240.6 367.1,239.9 362.1,239.2Z"/></clipPath>
<path d="M362.1,169.8 367.1,171.0 372.1,172.0 377.1,173.0 382.1,173.8 387.1,174.6 392.1,175.2 397.1,175.7 402.1,176.2 407.1,176.5 412.1,176.7 417.1,176.9 422.1,176.9 427.2,176.8 432.2,176.6 437.2,176.4 442.2,176.0 447.2,175.5 452.2,174.9 457.2,174.2 462.2,173.4 467.2,172.5 472.2,171.5 477.2,170.4 482.2,169.2 L482.2,174.6 477.2,175.5 472.2,176.4 467.2,177.2 462.2,177.9 457.2,178.5 452.2,179.0 447.2,179.5 442.2,179.8 437.2,180.1 432.2,180.3 427.2,180.5 422.1,180.5 417.1,180.5 412.1,180.3 407.1,180.1 402.1,179.8 397.1,179.5 392.1,179.0 387.1,178.5 382.1,177.9 377.1,177.2 372.1,176.4 367.1,175.5 362.1,174.6Z" fill="#d47ca8" stroke="#d47ca8" stroke-width="0.6"/>
<path d="M362.1,174.6 367.1,175.5 372.1,176.4 377.1,177.2 382.1,177.9 387.1,178.5 392.1,179.0 397.1,179.5 402.1,179.8 407.1,180.1 412.1,180.3 417.1,180.5 422.1,180.5 427.2,180.5 432.2,180.3 437.2,180.1 442.2,179.8 447.2,179.5 452.2,179.0 457.2,178.5 462.2,177.9 467.2,177.2 472.2,176.4 477.2,175.5 482.2,174.6 L482.2,184.6 477.2,185.5 472.2,186.4 467.2,187.1 462.2,187.8 457.2,188.4 452.2,188.9 447.2,189.4 442.2,189.8 437.2,190.1 432.2,190.3 427.2,190.5 422.1,190.6 417.1,190.6 412.1,190.5 407.1,190.4 402.1,190.2 397.1,189.9 392.1,189.6 387.1,189.1 382.1,188.6 377.1,188.0 372.1,187.3 367.1,186.6 362.1,185.8Z" fill="#ec88b0" stroke="#ec88b0" stroke-width="0.6"/>
<path d="M362.1,185.8 367.1,186.6 372.1,187.3 377.1,188.0 382.1,188.6 387.1,189.1 392.1,189.6 397.1,189.9 402.1,190.2 407.1,190.4 412.1,190.5 417.1,190.6 422.1,190.6 427.2,190.5 432.2,190.3 437.2,190.1 442.2,189.8 447.2,189.4 452.2,188.9 457.2,188.4 462.2,187.8 467.2,187.1 472.2,186.4 477.2,185.5 482.2,184.6 L482.2,198.8 477.2,199.7 472.2,200.5 467.2,201.2 462.2,201.9 457.2,202.5 452.2,203.0 447.2,203.5 442.2,203.9 437.2,204.2 432.2,204.5 427.2,204.7 422.1,204.8 417.1,204.9 412.1,204.9 407.1,204.8 402.1,204.7 397.1,204.5 392.1,204.2 387.1,203.9 382.1,203.5 377.1,203.0 372.1,202.5 367.1,201.9 362.1,201.2Z" fill="#7a4498" stroke="#7a4498" stroke-width="0.6"/>
<path d="M362.1,201.2 367.1,201.9 372.1,202.5 377.1,203.0 382.1,203.5 387.1,203.9 392.1,204.2 397.1,204.5 402.1,204.7 407.1,204.8 412.1,204.9 417.1,204.9 422.1,204.8 427.2,204.7 432.2,204.5 437.2,204.2 442.2,203.9 447.2,203.5 452.2,203.0 457.2,202.5 462.2,201.9 467.2,201.2 472.2,200.5 477.2,199.7 482.2,198.8 L482.2,201.8 477.2,202.6 472.2,203.3 467.2,203.9 462.2,204.5 457.2,205.0 452.2,205.5 447.2,205.9 442.2,206.2 437.2,206.5 432.2,206.8 427.2,207.0 422.1,207.1 417.1,207.2 412.1,207.2 407.1,207.1 402.1,207.0 397.1,206.9 392.1,206.7 387.1,206.4 382.1,206.1 377.1,205.7 372.1,205.3 367.1,204.8 362.1,204.2Z" fill="#ee98ac" stroke="#ee98ac" stroke-width="0.6"/>
<path d="M362.1,204.2 367.1,204.8 372.1,205.3 377.1,205.7 382.1,206.1 387.1,206.4 392.1,206.7 397.1,206.9 402.1,207.0 407.1,207.1 412.1,207.2 417.1,207.2 422.1,207.1 427.2,207.0 432.2,206.8 437.2,206.5 442.2,206.2 447.2,205.9 452.2,205.5 457.2,205.0 462.2,204.5 467.2,203.9 472.2,203.3 477.2,202.6 482.2,201.8 L482.2,224.4 477.2,224.9 472.2,225.3 467.2,225.7 462.2,226.1 457.2,226.4 452.2,226.7 447.2,226.9 442.2,227.0 437.2,227.2 432.2,227.3 427.2,227.3 422.1,227.3 417.1,227.3 412.1,227.2 407.1,227.0 402.1,226.8 397.1,226.6 392.1,226.4 387.1,226.0 382.1,225.7 377.1,225.3 372.1,224.8 367.1,224.3 362.1,223.8Z" fill="#46287a" stroke="#46287a" stroke-width="0.6"/>
<path d="M362.1,223.8 367.1,224.3 372.1,224.8 377.1,225.3 382.1,225.7 387.1,226.0 392.1,226.4 397.1,226.6 402.1,226.8 407.1,227.0 412.1,227.2 417.1,227.3 422.1,227.3 427.2,227.3 432.2,227.3 437.2,227.2 442.2,227.0 447.2,226.9 452.2,226.7 457.2,226.4 462.2,226.1 467.2,225.7 472.2,225.3 477.2,224.9 482.2,224.4 L482.2,227.5 477.2,228.1 472.2,228.6 467.2,229.1 462.2,229.5 457.2,229.9 452.2,230.2 447.2,230.5 442.2,230.7 437.2,230.9 432.2,231.0 427.2,231.1 422.1,231.1 417.1,231.1 412.1,231.0 407.1,230.9 402.1,230.7 397.1,230.5 392.1,230.2 387.1,229.9 382.1,229.5 377.1,229.1 372.1,228.6 367.1,228.1 362.1,227.5Z" fill="#f09aa9" stroke="#f09aa9" stroke-width="0.6"/>
<path d="M362.1,227.5 367.1,228.1 372.1,228.6 377.1,229.1 382.1,229.5 387.1,229.9 392.1,230.2 397.1,230.5 402.1,230.7 407.1,230.9 412.1,231.0 417.1,231.1 422.1,231.1 427.2,231.1 432.2,231.0 437.2,230.9 442.2,230.7 447.2,230.5 452.2,230.2 457.2,229.9 462.2,229.5 467.2,229.1 472.2,228.6 477.2,228.1 482.2,227.5 L482.2,233.3 477.2,234.0 472.2,234.6 467.2,235.1 462.2,235.7 457.2,236.1 452.2,236.5 447.2,236.9 442.2,237.2 437.2,237.5 432.2,237.7 427.2,237.9 422.1,238.0 417.1,238.1 412.1,238.1 407.1,238.1 402.1,238.0 397.1,237.9 392.1,237.7 387.1,237.5 382.1,237.2 377.1,236.9 372.1,236.5 367.1,236.1 362.1,235.6Z" fill="#621c30" stroke="#621c30" stroke-width="0.6"/>
<path d="M362.1,235.6 367.1,236.1 372.1,236.5 377.1,236.9 382.1,237.2 387.1,237.5 392.1,237.7 397.1,237.9 402.1,238.0 407.1,238.1 412.1,238.1 417.1,238.1 422.1,238.0 427.2,237.9 432.2,237.7 437.2,237.5 442.2,237.2 447.2,236.9 452.2,236.5 457.2,236.1 462.2,235.7 467.2,235.1 472.2,234.6 477.2,234.0 482.2,233.3 L482.2,249.8 477.2,249.6 472.2,249.5 467.2,249.3 462.2,249.0 457.2,248.8 452.2,248.5 447.2,248.2 442.2,247.9 437.2,247.5 432.2,247.1 427.2,246.7 422.1,246.3 417.1,245.8 412.1,245.4 407.1,244.9 402.1,244.3 397.1,243.8 392.1,243.2 387.1,242.6 382.1,242.0 377.1,241.3 372.1,240.6 367.1,239.9 362.1,239.2Z" fill="#c8849e" stroke="#c8849e" stroke-width="0.6"/>
<path d="M363.1,172.2 370.5,173.7 377.9,175.1 385.2,176.2 392.6,177.1 400.0,177.8 407.4,178.3 414.8,178.6 422.1,178.7 429.5,178.6 436.9,178.2 444.3,177.7 451.7,177.0 459.1,176.0 466.4,174.8 473.8,173.5 481.2,171.9" fill="none" stroke="#7e3a7c" stroke-width="1.6" stroke-dasharray="1.6 1.1 0.8 1.4" opacity="0.85"/>
<path d="M410,232 C409,200 437,200 436,232 Z" fill="#f0b4c8"/>
<path d="M408,226 C406.5,191 442,191 440.5,226" fill="none" stroke="#3a1a6a" stroke-width="6.5"/>
<path d="M416,234 L423,216 L430,234 Z" fill="#6a4a8a" opacity="0.7"/>
<path d="M404.3,226 C403,187 446,187 444.5,226" fill="none" stroke="#f0a6bc" stroke-width="1.3"/>
<g clip-path="url(#tc10)"><rect x="363.1" y="160.3" width="118.1" height="91.7" filter="url(#nzd)" opacity="0.5"/>
<rect x="363.1" y="160.3" width="118.1" height="91.7" filter="url(#nzl)" opacity="0.4"/></g>
</g>
<clipPath id="cp11"><rect x="485.9" y="159.7" width="119.7" height="94.3"/></clipPath>
<g clip-path="url(#cp11)">
<rect x="485.9" y="159.7" width="119.7" height="94.3" fill="#e3e6e6"/>
<clipPath id="tc11"><path d="M484.9,162.7 490.0,163.7 495.0,164.5 500.1,165.3 505.2,166.0 510.3,166.7 515.3,167.2 520.4,167.6 525.5,168.0 530.5,168.3 535.6,168.5 540.7,168.6 545.8,168.6 550.8,168.5 555.9,168.4 561.0,168.1 566.0,167.8 571.1,167.4 576.2,166.9 581.2,166.3 586.3,165.6 591.4,164.9 596.5,164.0 601.5,163.1 606.6,162.1 L606.6,238.0 601.5,238.9 596.5,239.7 591.4,240.4 586.3,241.2 581.2,241.8 576.2,242.4 571.1,243.0 566.0,243.5 561.0,244.0 555.9,244.4 550.8,244.8 545.8,245.1 540.7,245.4 535.6,245.6 530.5,245.8 525.5,245.9 520.4,246.0 515.3,246.0 510.3,246.0 505.2,245.9 500.1,245.8 495.0,245.6 490.0,245.4 484.9,245.1Z"/></clipPath>
<path d="M484.9,162.7 490.0,163.7 495.0,164.5 500.1,165.3 505.2,166.0 510.3,166.7 515.3,167.2 520.4,167.6 525.5,168.0 530.5,168.3 535.6,168.5 540.7,168.6 545.8,168.6 550.8,168.5 555.9,168.4 561.0,168.1 566.0,167.8 571.1,167.4 576.2,166.9 581.2,166.3 586.3,165.6 591.4,164.9 596.5,164.0 601.5,163.1 606.6,162.1 L606.6,168.9 601.5,170.3 596.5,171.5 591.4,172.6 586.3,173.7 581.2,174.6 576.2,175.4 571.1,176.0 566.0,176.6 561.0,177.0 555.9,177.4 550.8,177.6 545.8,177.7 540.7,177.7 535.6,177.6 530.5,177.3 525.5,177.0 520.4,176.5 515.3,175.9 510.3,175.2 505.2,174.4 500.1,173.5 495.0,172.4 490.0,171.3 484.9,170.0Z" fill="#d47ca8" stroke="#d47ca8" stroke-width="0.6"/>
<path d="M484.9,170.0 490.0,171.3 495.0,172.4 500.1,173.5 505.2,174.4 510.3,175.2 515.3,175.9 520.4,176.5 525.5,177.0 530.5,177.3 535.6,177.6 540.7,177.7 545.8,177.7 550.8,177.6 555.9,177.4 561.0,177.0 566.0,176.6 571.1,176.0 576.2,175.4 581.2,174.6 586.3,173.7 591.4,172.6 596.5,171.5 601.5,170.3 606.6,168.9 L606.6,173.7 601.5,175.4 596.5,176.9 591.4,178.3 586.3,179.6 581.2,180.8 576.2,181.9 571.1,182.8 566.0,183.6 561.0,184.3 555.9,184.9 550.8,185.4 545.8,185.7 540.7,185.9 535.6,186.0 530.5,186.0 525.5,185.9 520.4,185.6 515.3,185.2 510.3,184.7 505.2,184.1 500.1,183.3 495.0,182.5 490.0,181.5 484.9,180.4Z" fill="#ec88b0" stroke="#ec88b0" stroke-width="0.6"/>
<path d="M484.9,180.4 490.0,181.5 495.0,182.5 500.1,183.3 505.2,184.1 510.3,184.7 515.3,185.2 520.4,185.6 525.5,185.9 530.5,186.0 535.6,186.0 540.7,185.9 545.8,185.7 550.8,185.4 555.9,184.9 561.0,184.3 566.0,183.6 571.1,182.8 576.2,181.9 581.2,180.8 586.3,179.6 591.4,178.3 596.5,176.9 601.5,175.4 606.6,173.7 L606.6,195.3 601.5,195.6 596.5,195.8 591.4,196.0 586.3,196.2 581.2,196.4 576.2,196.5 571.1,196.6 566.0,196.6 561.0,196.6 555.9,196.6 550.8,196.6 545.8,196.5 540.7,196.4 535.6,196.2 530.5,196.1 525.5,195.9 520.4,195.6 515.3,195.3 510.3,195.0 505.2,194.7 500.1,194.3 495.0,193.9 490.0,193.5 484.9,193.0Z" fill="#7a4498" stroke="#7a4498" stroke-width="0.6"/>
<path d="M484.9,193.0 490.0,193.5 495.0,193.9 500.1,194.3 505.2,194.7 510.3,195.0 515.3,195.3 520.4,195.6 525.5,195.9 530.5,196.1 535.6,196.2 540.7,196.4 545.8,196.5 550.8,196.6 555.9,196.6 561.0,196.6 566.0,196.6 571.1,196.6 576.2,196.5 581.2,196.4 586.3,196.2 591.4,196.0 596.5,195.8 601.5,195.6 606.6,195.3 L606.6,198.9 601.5,199.2 596.5,199.5 591.4,199.8 586.3,200.0 581.2,200.2 576.2,200.3 571.1,200.5 566.0,200.5 561.0,200.6 555.9,200.6 550.8,200.6 545.8,200.6 540.7,200.5 535.6,200.4 530.5,200.3 525.5,200.1 520.4,200.0 515.3,199.7 510.3,199.5 505.2,199.2 500.1,198.9 495.0,198.5 490.0,198.1 484.9,197.7Z" fill="#ee98ac" stroke="#ee98ac" stroke-width="0.6"/>
<path d="M484.9,197.7 490.0,198.1 495.0,198.5 500.1,198.9 505.2,199.2 510.3,199.5 515.3,199.7 520.4,200.0 525.5,200.1 530.5,200.3 535.6,200.4 540.7,200.5 545.8,200.6 550.8,200.6 555.9,200.6 561.0,200.6 566.0,200.5 571.1,200.5 576.2,200.3 581.2,200.2 586.3,200.0 591.4,199.8 596.5,199.5 601.5,199.2 606.6,198.9 L606.6,213.7 601.5,214.0 596.5,214.3 591.4,214.6 586.3,214.9 581.2,215.1 576.2,215.3 571.1,215.5 566.0,215.7 561.0,215.8 555.9,215.9 550.8,216.0 545.8,216.1 540.7,216.1 535.6,216.1 530.5,216.1 525.5,216.1 520.4,216.0 515.3,215.9 510.3,215.8 505.2,215.7 500.1,215.5 495.0,215.4 490.0,215.1 484.9,214.9Z" fill="#46287a" stroke="#46287a" stroke-width="0.6"/>
<path d="M484.9,214.9 490.0,215.1 495.0,215.4 500.1,215.5 505.2,215.7 510.3,215.8 515.3,215.9 520.4,216.0 525.5,216.1 530.5,216.1 535.6,216.1 540.7,216.1 545.8,216.1 550.8,216.0 555.9,215.9 561.0,215.8 566.0,215.7 571.1,215.5 576.2,215.3 581.2,215.1 586.3,214.9 591.4,214.6 596.5,214.3 601.5,214.0 606.6,213.7 L606.6,220.8 601.5,221.3 596.5,221.7 591.4,222.1 586.3,222.4 581.2,222.7 576.2,222.9 571.1,223.1 566.0,223.2 561.0,223.3 555.9,223.3 550.8,223.3 545.8,223.2 540.7,223.1 535.6,222.9 530.5,222.7 525.5,222.4 520.4,222.1 515.3,221.7 510.3,221.3 505.2,220.8 500.1,220.3 495.0,219.7 490.0,219.1 484.9,218.4Z" fill="#f09aa9" stroke="#f09aa9" stroke-width="0.6"/>
<path d="M484.9,218.4 490.0,219.1 495.0,219.7 500.1,220.3 505.2,220.8 510.3,221.3 515.3,221.7 520.4,222.1 525.5,222.4 530.5,222.7 535.6,222.9 540.7,223.1 545.8,223.2 550.8,223.3 555.9,223.3 561.0,223.3 566.0,223.2 571.1,223.1 576.2,222.9 581.2,222.7 586.3,222.4 591.4,222.1 596.5,221.7 601.5,221.3 606.6,220.8 L606.6,224.7 601.5,225.4 596.5,226.0 591.4,226.5 586.3,227.0 581.2,227.4 576.2,227.7 571.1,228.0 566.0,228.2 561.0,228.3 555.9,228.4 550.8,228.4 545.8,228.3 540.7,228.2 535.6,228.0 530.5,227.7 525.5,227.4 520.4,227.0 515.3,226.5 510.3,226.0 505.2,225.4 500.1,224.8 495.0,224.0 490.0,223.3 484.9,222.4Z" fill="#621c30" stroke="#621c30" stroke-width="0.6"/>
<path d="M484.9,222.4 490.0,223.3 495.0,224.0 500.1,224.8 505.2,225.4 510.3,226.0 515.3,226.5 520.4,227.0 525.5,227.4 530.5,227.7 535.6,228.0 540.7,228.2 545.8,228.3 550.8,228.4 555.9,228.4 561.0,228.3 566.0,228.2 571.1,228.0 576.2,227.7 581.2,227.4 586.3,227.0 591.4,226.5 596.5,226.0 601.5,225.4 606.6,224.7 L606.6,238.0 601.5,238.9 596.5,239.7 591.4,240.4 586.3,241.2 581.2,241.8 576.2,242.4 571.1,243.0 566.0,243.5 561.0,244.0 555.9,244.4 550.8,244.8 545.8,245.1 540.7,245.4 535.6,245.6 530.5,245.8 525.5,245.9 520.4,246.0 515.3,246.0 510.3,246.0 505.2,245.9 500.1,245.8 495.0,245.6 490.0,245.4 484.9,245.1Z" fill="#dfa2bc" stroke="#dfa2bc" stroke-width="0.6"/>
<path d="M485.9,166.3 493.4,168.0 500.9,169.4 508.3,170.6 515.8,171.6 523.3,172.3 530.8,172.8 538.3,173.1 545.8,173.1 553.2,173.0 560.7,172.6 568.2,172.0 575.7,171.1 583.2,170.1 590.6,168.8 598.1,167.2 605.6,165.5" fill="none" stroke="#7e3a7c" stroke-width="2.4" stroke-dasharray="1.6 1.1 0.8 1.4" opacity="0.85"/>
<path d="M529,214 C529,199 533,195 540,195 C547,195 551,199 552,214 Z" fill="#472676"/>
<path d="M533.5,212 C533.5,204 536.5,200.5 540.5,200.5 C544.5,200.5 547.5,204 547.5,212 Z" fill="#efb4c8"/>
<path d="M530.5,211 C533,210 548,210 550,211.5 C551,217 550,222 548,224 C544,225 537,225 533,224 C531,221 530,216 530.5,211 Z" fill="#4a2a7e"/>
<path d="M571,211 C576,209 586,209 590,211 C591,216 590,222 588,224 C583,225 576,225 573,224 C571,220 570,215 571,211 Z" fill="#4a2a7e"/>
<path d="M574,192 C580,178 600,172 606,172 L606,193 Z" fill="#8a509f"/>
<path d="M527,213 C527,196 533,193 540,193 C547,193 553,196 554,211" fill="none" stroke="#f0a6bc" stroke-width="1.2"/>
<g clip-path="url(#tc11)"><rect x="485.9" y="159.7" width="119.7" height="94.3" filter="url(#nzd)" opacity="0.5"/>
<rect x="485.9" y="159.7" width="119.7" height="94.3" filter="url(#nzl)" opacity="0.4"/></g>
</g>
<clipPath id="cp12"><rect x="362.7" y="250" width="118.9" height="94.8"/></clipPath>
<g clip-path="url(#cp12)">
<rect x="362.7" y="250" width="118.9" height="94.8" fill="#e3e6e6"/>
<clipPath id="tc12"><path d="M361.7,259.5 366.7,259.4 371.8,259.4 376.8,259.3 381.9,259.2 386.9,259.2 391.9,259.1 397.0,259.1 402.0,259.0 407.0,259.0 412.1,259.0 417.1,258.9 422.1,258.9 427.2,258.9 432.2,258.9 437.3,258.8 442.3,258.8 447.3,258.8 452.4,258.8 457.4,258.8 462.5,258.8 467.5,258.8 472.5,258.9 477.6,258.9 482.6,258.9 L482.6,335.8 477.6,336.1 472.5,336.4 467.5,336.6 462.5,336.9 457.4,337.1 452.4,337.3 447.3,337.5 442.3,337.7 437.3,337.8 432.2,338.0 427.2,338.1 422.1,338.2 417.1,338.3 412.1,338.4 407.0,338.4 402.0,338.5 397.0,338.5 391.9,338.5 386.9,338.5 381.9,338.5 376.8,338.4 371.8,338.4 366.7,338.3 361.7,338.2Z"/></clipPath>
<path d="M361.7,259.5 366.7,259.4 371.8,259.4 376.8,259.3 381.9,259.2 386.9,259.2 391.9,259.1 397.0,259.1 402.0,259.0 407.0,259.0 412.1,259.0 417.1,258.9 422.1,258.9 427.2,258.9 432.2,258.9 437.3,258.8 442.3,258.8 447.3,258.8 452.4,258.8 457.4,258.8 462.5,258.8 467.5,258.8 472.5,258.9 477.6,258.9 482.6,258.9 L482.6,267.8 477.6,267.9 472.5,267.9 467.5,267.9 462.5,268.0 457.4,268.0 452.4,268.1 447.3,268.1 442.3,268.2 437.3,268.2 432.2,268.3 427.2,268.3 422.1,268.4 417.1,268.4 412.1,268.5 407.0,268.6 402.0,268.6 397.0,268.6 391.9,268.7 386.9,268.8 381.9,268.8 376.8,268.8 371.8,268.9 366.7,269.0 361.7,269.0Z" fill="#d47ca8" stroke="#d47ca8" stroke-width="0.6"/>
<path d="M361.7,269.0 366.7,269.0 371.8,268.9 376.8,268.8 381.9,268.8 386.9,268.8 391.9,268.7 397.0,268.6 402.0,268.6 407.0,268.6 412.1,268.5 417.1,268.4 422.1,268.4 427.2,268.3 432.2,268.3 437.3,268.2 442.3,268.2 447.3,268.1 452.4,268.1 457.4,268.0 462.5,268.0 467.5,267.9 472.5,267.9 477.6,267.9 482.6,267.8 L482.6,279.6 477.6,279.7 472.5,279.7 467.5,279.8 462.5,279.9 457.4,279.9 452.4,280.0 447.3,280.0 442.3,280.1 437.3,280.1 432.2,280.1 427.2,280.2 422.1,280.2 417.1,280.2 412.1,280.2 407.0,280.3 402.0,280.3 397.0,280.3 391.9,280.3 386.9,280.3 381.9,280.3 376.8,280.3 371.8,280.2 366.7,280.2 361.7,280.2Z" fill="#ec88b0" stroke="#ec88b0" stroke-width="0.6"/>
<path d="M361.7,280.2 366.7,280.2 371.8,280.2 376.8,280.3 381.9,280.3 386.9,280.3 391.9,280.3 397.0,280.3 402.0,280.3 407.0,280.3 412.1,280.2 417.1,280.2 422.1,280.2 427.2,280.2 432.2,280.1 437.3,280.1 442.3,280.1 447.3,280.0 452.4,280.0 457.4,279.9 462.5,279.9 467.5,279.8 472.5,279.7 477.6,279.7 482.6,279.6 L482.6,294.4 477.6,294.5 472.5,294.7 467.5,294.8 462.5,294.9 457.4,294.9 452.4,295.0 447.3,295.0 442.3,295.1 437.3,295.1 432.2,295.1 427.2,295.0 422.1,295.0 417.1,294.9 412.1,294.9 407.0,294.8 402.0,294.7 397.0,294.5 391.9,294.4 386.9,294.2 381.9,294.1 376.8,293.9 371.8,293.7 366.7,293.4 361.7,293.2Z" fill="#7a4498" stroke="#7a4498" stroke-width="0.6"/>
<path d="M361.7,293.2 366.7,293.4 371.8,293.7 376.8,293.9 381.9,294.1 386.9,294.2 391.9,294.4 397.0,294.5 402.0,294.7 407.0,294.8 412.1,294.9 417.1,294.9 422.1,295.0 427.2,295.0 432.2,295.1 437.3,295.1 442.3,295.1 447.3,295.0 452.4,295.0 457.4,294.9 462.5,294.9 467.5,294.8 472.5,294.7 477.6,294.5 482.6,294.4 L482.6,295.6 477.6,295.8 472.5,296.1 467.5,296.3 462.5,296.5 457.4,296.6 452.4,296.8 447.3,296.9 442.3,297.1 437.3,297.2 432.2,297.3 427.2,297.3 422.1,297.4 417.1,297.4 412.1,297.5 407.0,297.5 402.0,297.5 397.0,297.4 391.9,297.4 386.9,297.3 381.9,297.3 376.8,297.2 371.8,297.1 366.7,296.9 361.7,296.8Z" fill="#ee98ac" stroke="#ee98ac" stroke-width="0.6"/>
<path d="M361.7,296.8 366.7,296.9 371.8,297.1 376.8,297.2 381.9,297.3 386.9,297.3 391.9,297.4 397.0,297.4 402.0,297.5 407.0,297.5 412.1,297.5 417.1,297.4 422.1,297.4 427.2,297.3 432.2,297.3 437.3,297.2 442.3,297.1 447.3,296.9 452.4,296.8 457.4,296.6 462.5,296.5 467.5,296.3 472.5,296.1 477.6,295.8 482.6,295.6 L482.6,311.1 477.6,311.2 472.5,311.3 467.5,311.4 462.5,311.5 457.4,311.5 452.4,311.6 447.3,311.7 442.3,311.8 437.3,311.9 432.2,312.0 427.2,312.1 422.1,312.2 417.1,312.3 412.1,312.4 407.0,312.5 402.0,312.6 397.0,312.7 391.9,312.8 386.9,312.9 381.9,313.0 376.8,313.1 371.8,313.2 366.7,313.3 361.7,313.4Z" fill="#46287a" stroke="#46287a" stroke-width="0.6"/>
<path d="M361.7,313.4 366.7,313.3 371.8,313.2 376.8,313.1 381.9,313.0 386.9,312.9 391.9,312.8 397.0,312.7 402.0,312.6 407.0,312.5 412.1,312.4 417.1,312.3 422.1,312.2 427.2,312.1 432.2,312.0 437.3,311.9 442.3,311.8 447.3,311.7 452.4,311.6 457.4,311.5 462.5,311.5 467.5,311.4 472.5,311.3 477.6,311.2 482.6,311.1 L482.6,315.7 477.6,315.9 472.5,316.1 467.5,316.3 462.5,316.4 457.4,316.6 452.4,316.8 447.3,316.9 442.3,317.0 437.3,317.2 432.2,317.3 427.2,317.4 422.1,317.5 417.1,317.6 412.1,317.7 407.0,317.8 402.0,317.8 397.0,317.9 391.9,318.0 386.9,318.0 381.9,318.0 376.8,318.1 371.8,318.1 366.7,318.1 361.7,318.1Z" fill="#f09aa9" stroke="#f09aa9" stroke-width="0.6"/>
<path d="M361.7,318.1 366.7,318.1 371.8,318.1 376.8,318.1 381.9,318.0 386.9,318.0 391.9,318.0 397.0,317.9 402.0,317.8 407.0,317.8 412.1,317.7 417.1,317.6 422.1,317.5 427.2,317.4 432.2,317.3 437.3,317.2 442.3,317.0 447.3,316.9 452.4,316.8 457.4,316.6 462.5,316.4 467.5,316.3 472.5,316.1 477.6,315.9 482.6,315.7 L482.6,320.4 477.6,320.8 472.5,321.2 467.5,321.6 462.5,322.0 457.4,322.3 452.4,322.6 447.3,322.9 442.3,323.2 437.3,323.4 432.2,323.7 427.2,323.8 422.1,324.0 417.1,324.1 412.1,324.2 407.0,324.3 402.0,324.4 397.0,324.4 391.9,324.4 386.9,324.4 381.9,324.4 376.8,324.3 371.8,324.2 366.7,324.1 361.7,324.0Z" fill="#4a2c4e" stroke="#4a2c4e" stroke-width="0.6"/>
<path d="M361.7,324.0 366.7,324.1 371.8,324.2 376.8,324.3 381.9,324.4 386.9,324.4 391.9,324.4 397.0,324.4 402.0,324.4 407.0,324.3 412.1,324.2 417.1,324.1 422.1,324.0 427.2,323.8 432.2,323.7 437.3,323.4 442.3,323.2 447.3,322.9 452.4,322.6 457.4,322.3 462.5,322.0 467.5,321.6 472.5,321.2 477.6,320.8 482.6,320.4 L482.6,335.8 477.6,336.1 472.5,336.4 467.5,336.6 462.5,336.9 457.4,337.1 452.4,337.3 447.3,337.5 442.3,337.7 437.3,337.8 432.2,338.0 427.2,338.1 422.1,338.2 417.1,338.3 412.1,338.4 407.0,338.4 402.0,338.5 397.0,338.5 391.9,338.5 386.9,338.5 381.9,338.5 376.8,338.4 371.8,338.4 366.7,338.3 361.7,338.2Z" fill="#c8849e" stroke="#c8849e" stroke-width="0.6"/>
<path d="M362.7,264.2 370.1,264.2 377.6,264.1 385.0,264.0 392.4,263.9 399.9,263.8 407.3,263.8 414.7,263.7 422.1,263.6 429.6,263.6 437.0,263.5 444.4,263.5 451.9,263.5 459.3,263.4 466.7,263.4 474.2,263.4 481.6,263.4" fill="none" stroke="#7e3a7c" stroke-width="2.4" stroke-dasharray="1.6 1.1 0.8 1.4" opacity="0.85"/>
<path d="M432,318 L431.5,296 C431.5,283 447.5,283 447,296 L446,318 Z" fill="#3e1c6c"/>
<path d="M435.5,310 C435,300 436,294 439.5,294 C443,294 443.5,300 443,310 Z" fill="#f0b4c8"/>
<ellipse cx="425" cy="317" rx="2.5" ry="2.5" fill="#3e1c6c"/>
<g clip-path="url(#tc12)"><rect x="362.7" y="250" width="118.9" height="94.8" filter="url(#nzd)" opacity="0.5"/>
<rect x="362.7" y="250" width="118.9" height="94.8" filter="url(#nzl)" opacity="0.4"/></g>
</g>
<clipPath id="cp13"><rect x="485.9" y="250" width="120.0" height="94.8"/></clipPath>
<g clip-path="url(#cp13)">
<rect x="485.9" y="250" width="120.0" height="94.8" fill="#e3e6e6"/>
<clipPath id="tc13"><path d="M484.9,260.7 490.0,260.8 495.1,260.8 500.1,260.9 505.2,261.0 510.3,261.0 515.4,261.1 520.5,261.1 525.6,261.2 530.6,261.2 535.7,261.2 540.8,261.3 545.9,261.3 551.0,261.3 556.1,261.3 561.1,261.4 566.2,261.4 571.3,261.4 576.4,261.4 581.5,261.4 586.6,261.4 591.6,261.4 596.7,261.3 601.8,261.3 606.9,261.3 L606.9,344.8 601.8,344.8 596.7,344.8 591.6,344.8 586.6,344.8 581.5,344.8 576.4,344.8 571.3,344.8 566.2,344.8 561.1,344.8 556.1,344.8 551.0,344.8 545.9,344.8 540.8,344.8 535.7,344.8 530.6,344.8 525.6,344.8 520.5,344.8 515.4,344.8 510.3,344.8 505.2,344.8 500.1,344.8 495.1,344.8 490.0,344.8 484.9,344.8Z"/></clipPath>
<path d="M484.9,260.7 490.0,260.8 495.1,260.8 500.1,260.9 505.2,261.0 510.3,261.0 515.4,261.1 520.5,261.1 525.6,261.2 530.6,261.2 535.7,261.2 540.8,261.3 545.9,261.3 551.0,261.3 556.1,261.3 561.1,261.4 566.2,261.4 571.3,261.4 576.4,261.4 581.5,261.4 586.6,261.4 591.6,261.4 596.7,261.3 601.8,261.3 606.9,261.3 L606.9,268.8 601.8,269.2 596.7,269.5 591.6,269.9 586.6,270.2 581.5,270.4 576.4,270.7 571.3,270.9 566.2,271.1 561.1,271.3 556.1,271.5 551.0,271.6 545.9,271.7 540.8,271.8 535.7,271.8 530.6,271.9 525.6,271.9 520.5,271.9 515.4,271.8 510.3,271.8 505.2,271.7 500.1,271.6 495.1,271.4 490.0,271.3 484.9,271.1Z" fill="#d47ca8" stroke="#d47ca8" stroke-width="0.6"/>
<path d="M484.9,271.1 490.0,271.3 495.1,271.4 500.1,271.6 505.2,271.7 510.3,271.8 515.4,271.8 520.5,271.9 525.6,271.9 530.6,271.9 535.7,271.8 540.8,271.8 545.9,271.7 551.0,271.6 556.1,271.5 561.1,271.3 566.2,271.1 571.3,270.9 576.4,270.7 581.5,270.4 586.6,270.2 591.6,269.9 596.7,269.5 601.8,269.2 606.9,268.8 L606.9,283.9 601.8,283.8 596.7,283.7 591.6,283.7 586.6,283.6 581.5,283.6 576.4,283.6 571.3,283.6 566.2,283.7 561.1,283.7 556.1,283.8 551.0,283.9 545.9,284.0 540.8,284.1 535.7,284.3 530.6,284.5 525.6,284.7 520.5,284.9 515.4,285.1 510.3,285.4 505.2,285.6 500.1,285.9 495.1,286.2 490.0,286.6 484.9,286.9Z" fill="#ec88b0" stroke="#ec88b0" stroke-width="0.6"/>
<path d="M484.9,286.9 490.0,286.6 495.1,286.2 500.1,285.9 505.2,285.6 510.3,285.4 515.4,285.1 520.5,284.9 525.6,284.7 530.6,284.5 535.7,284.3 540.8,284.1 545.9,284.0 551.0,283.9 556.1,283.8 561.1,283.7 566.2,283.7 571.3,283.6 576.4,283.6 581.5,283.6 586.6,283.6 591.6,283.7 596.7,283.7 601.8,283.8 606.9,283.9 L606.9,299.8 601.8,300.5 596.7,301.1 591.6,301.6 586.6,302.2 581.5,302.6 576.4,303.0 571.3,303.4 566.2,303.7 561.1,304.0 556.1,304.2 551.0,304.4 545.9,304.5 540.8,304.6 535.7,304.6 530.6,304.6 525.6,304.5 520.5,304.4 515.4,304.2 510.3,304.0 505.2,303.7 500.1,303.4 495.1,303.0 490.0,302.6 484.9,302.1Z" fill="#7a4498" stroke="#7a4498" stroke-width="0.6"/>
<path d="M484.9,302.1 490.0,302.6 495.1,303.0 500.1,303.4 505.2,303.7 510.3,304.0 515.4,304.2 520.5,304.4 525.6,304.5 530.6,304.6 535.7,304.6 540.8,304.6 545.9,304.5 551.0,304.4 556.1,304.2 561.1,304.0 566.2,303.7 571.3,303.4 576.4,303.0 581.5,302.6 586.6,302.2 591.6,301.6 596.7,301.1 601.8,300.5 606.9,299.8 L606.9,301.0 601.8,301.8 596.7,302.5 591.6,303.2 586.6,303.8 581.5,304.4 576.4,304.9 571.3,305.4 566.2,305.8 561.1,306.1 556.1,306.5 551.0,306.7 545.9,306.9 540.8,307.0 535.7,307.1 530.6,307.2 525.6,307.2 520.5,307.1 515.4,307.0 510.3,306.8 505.2,306.6 500.1,306.3 495.1,305.9 490.0,305.5 484.9,305.1Z" fill="#ee98ac" stroke="#ee98ac" stroke-width="0.6"/>
<path d="M484.9,305.1 490.0,305.5 495.1,305.9 500.1,306.3 505.2,306.6 510.3,306.8 515.4,307.0 520.5,307.1 525.6,307.2 530.6,307.2 535.7,307.1 540.8,307.0 545.9,306.9 551.0,306.7 556.1,306.5 561.1,306.1 566.2,305.8 571.3,305.4 576.4,304.9 581.5,304.4 586.6,303.8 591.6,303.2 596.7,302.5 601.8,301.8 606.9,301.0 L606.9,321.1 601.8,321.3 596.7,321.6 591.6,321.8 586.6,322.0 581.5,322.2 576.4,322.4 571.3,322.6 566.2,322.8 561.1,323.0 556.1,323.2 551.0,323.3 545.9,323.5 540.8,323.6 535.7,323.8 530.6,323.9 525.6,324.0 520.5,324.1 515.4,324.2 510.3,324.3 505.2,324.4 500.1,324.5 495.1,324.6 490.0,324.6 484.9,324.7Z" fill="#46287a" stroke="#46287a" stroke-width="0.6"/>
<path d="M484.9,324.7 490.0,324.6 495.1,324.6 500.1,324.5 505.2,324.4 510.3,324.3 515.4,324.2 520.5,324.1 525.6,324.0 530.6,323.9 535.7,323.8 540.8,323.6 545.9,323.5 551.0,323.3 556.1,323.2 561.1,323.0 566.2,322.8 571.3,322.6 576.4,322.4 581.5,322.2 586.6,322.0 591.6,321.8 596.7,321.6 601.8,321.3 606.9,321.1 L606.9,324.5 601.8,325.1 596.7,325.6 591.6,326.1 586.6,326.6 581.5,327.0 576.4,327.4 571.3,327.8 566.2,328.2 561.1,328.5 556.1,328.7 551.0,329.0 545.9,329.2 540.8,329.4 535.7,329.5 530.6,329.6 525.6,329.7 520.5,329.8 515.4,329.8 510.3,329.8 505.2,329.7 500.1,329.6 495.1,329.5 490.0,329.4 484.9,329.2Z" fill="#f09aa9" stroke="#f09aa9" stroke-width="0.6"/>
<path d="M484.9,329.2 490.0,329.4 495.1,329.5 500.1,329.6 505.2,329.7 510.3,329.8 515.4,329.8 520.5,329.8 525.6,329.7 530.6,329.6 535.7,329.5 540.8,329.4 545.9,329.2 551.0,329.0 556.1,328.7 561.1,328.5 566.2,328.2 571.3,327.8 576.4,327.4 581.5,327.0 586.6,326.6 591.6,326.1 596.7,325.6 601.8,325.1 606.9,324.5 L606.9,327.0 601.8,327.9 596.7,328.8 591.6,329.6 586.6,330.4 581.5,331.2 576.4,331.9 571.3,332.6 566.2,333.2 561.1,333.8 556.1,334.3 551.0,334.8 545.9,335.3 540.8,335.7 535.7,336.1 530.6,336.5 525.6,336.8 520.5,337.0 515.4,337.2 510.3,337.4 505.2,337.6 500.1,337.7 495.1,337.7 490.0,337.7 484.9,337.7Z" fill="#4a2c4e" stroke="#4a2c4e" stroke-width="0.6"/>
<path d="M484.9,337.7 490.0,337.7 495.1,337.7 500.1,337.7 505.2,337.6 510.3,337.4 515.4,337.2 520.5,337.0 525.6,336.8 530.6,336.5 535.7,336.1 540.8,335.7 545.9,335.3 551.0,334.8 556.1,334.3 561.1,333.8 566.2,333.2 571.3,332.6 576.4,331.9 581.5,331.2 586.6,330.4 591.6,329.6 596.7,328.8 601.8,327.9 606.9,327.0 L606.9,344.8 601.8,344.8 596.7,344.8 591.6,344.8 586.6,344.8 581.5,344.8 576.4,344.8 571.3,344.8 566.2,344.8 561.1,344.8 556.1,344.8 551.0,344.8 545.9,344.8 540.8,344.8 535.7,344.8 530.6,344.8 525.6,344.8 520.5,344.8 515.4,344.8 510.3,344.8 505.2,344.8 500.1,344.8 495.1,344.8 490.0,344.8 484.9,344.8Z" fill="#e06c7e" stroke="#e06c7e" stroke-width="0.6"/>
<path d="M485.9,265.9 493.4,266.1 500.9,266.2 508.4,266.4 515.9,266.5 523.4,266.5 530.9,266.5 538.4,266.5 545.9,266.5 553.4,266.4 560.9,266.3 568.4,266.2 575.9,266.0 583.4,265.8 590.9,265.6 598.4,265.3 605.9,265.1" fill="none" stroke="#7e3a7c" stroke-width="2.4" stroke-dasharray="1.6 1.1 0.8 1.4" opacity="0.85"/>
<path d="M516,322 L516.5,298 C517,282 542,282 542.5,298 L542,312 L536,318 Z" fill="#3e1c6c"/>
<path d="M522.5,306 C522,297 525,292 530,292 C535,292 536.5,297 536,306 L529,312 Z" fill="#f0b4c8"/>
<path d="M527,302 L530,304 L520,331 L517,330 Z" fill="#f0b4c8"/>
<path d="M580,312 L585,312 L586,327 L579,327 Z" fill="#3e1c6c"/>
<g clip-path="url(#tc13)"><rect x="485.9" y="250" width="120.0" height="94.8" filter="url(#nzd)" opacity="0.5"/>
<rect x="485.9" y="250" width="120.0" height="94.8" filter="url(#nzl)" opacity="0.4"/></g>
</g>
<clipPath id="cp14"><rect x="362.5" y="351.8" width="119.4" height="93.3"/></clipPath>
<g clip-path="url(#cp14)">
<rect x="362.5" y="351.8" width="119.4" height="93.3" fill="#f4efef"/>
<clipPath id="tc14"><path d="M361.5,363.7 366.6,363.8 371.6,364.0 376.7,364.1 381.7,364.2 386.8,364.3 391.9,364.4 396.9,364.5 402.0,364.6 407.0,364.7 412.1,364.8 417.1,364.8 422.2,364.9 427.3,364.9 432.3,365.0 437.4,365.0 442.4,365.0 447.5,365.0 452.5,365.0 457.6,365.0 462.7,365.0 467.7,365.0 472.8,365.0 477.8,364.9 482.9,364.9 L482.9,445.1 477.8,445.1 472.8,445.1 467.7,445.1 462.7,445.1 457.6,445.1 452.5,445.1 447.5,445.1 442.4,445.1 437.4,445.1 432.3,445.1 427.3,445.1 422.2,445.1 417.1,445.1 412.1,445.1 407.0,445.1 402.0,445.1 396.9,445.1 391.9,445.1 386.8,445.1 381.7,445.1 376.7,445.1 371.6,445.1 366.6,445.1 361.5,445.1Z"/></clipPath>
<path d="M361.5,363.7 366.6,363.8 371.6,364.0 376.7,364.1 381.7,364.2 386.8,364.3 391.9,364.4 396.9,364.5 402.0,364.6 407.0,364.7 412.1,364.8 417.1,364.8 422.2,364.9 427.3,364.9 432.3,365.0 437.4,365.0 442.4,365.0 447.5,365.0 452.5,365.0 457.6,365.0 462.7,365.0 467.7,365.0 472.8,365.0 477.8,364.9 482.9,364.9 L482.9,374.2 477.8,374.2 472.8,374.3 467.7,374.3 462.7,374.3 457.6,374.3 452.5,374.2 447.5,374.2 442.4,374.1 437.4,374.0 432.3,373.9 427.3,373.7 422.2,373.6 417.1,373.4 412.1,373.3 407.0,373.1 402.0,372.8 396.9,372.6 391.9,372.4 386.8,372.1 381.7,371.8 376.7,371.5 371.6,371.2 366.6,370.9 361.5,370.5Z" fill="#d47ca8" stroke="#d47ca8" stroke-width="0.6"/>
<path d="M361.5,370.5 366.6,370.9 371.6,371.2 376.7,371.5 381.7,371.8 386.8,372.1 391.9,372.4 396.9,372.6 402.0,372.8 407.0,373.1 412.1,373.3 417.1,373.4 422.2,373.6 427.3,373.7 432.3,373.9 437.4,374.0 442.4,374.1 447.5,374.2 452.5,374.2 457.6,374.3 462.7,374.3 467.7,374.3 472.8,374.3 477.8,374.2 482.9,374.2 L482.9,385.8 477.8,385.8 472.8,385.7 467.7,385.7 462.7,385.6 457.6,385.5 452.5,385.4 447.5,385.3 442.4,385.2 437.4,385.1 432.3,384.9 427.3,384.8 422.2,384.6 417.1,384.4 412.1,384.2 407.0,384.0 402.0,383.8 396.9,383.5 391.9,383.3 386.8,383.0 381.7,382.7 376.7,382.5 371.6,382.1 366.6,381.8 361.5,381.5Z" fill="#ea7aa6" stroke="#ea7aa6" stroke-width="0.6"/>
<path d="M361.5,381.5 366.6,381.8 371.6,382.1 376.7,382.5 381.7,382.7 386.8,383.0 391.9,383.3 396.9,383.5 402.0,383.8 407.0,384.0 412.1,384.2 417.1,384.4 422.2,384.6 427.3,384.8 432.3,384.9 437.4,385.1 442.4,385.2 447.5,385.3 452.5,385.4 457.6,385.5 462.7,385.6 467.7,385.7 472.8,385.7 477.8,385.8 482.9,385.8 L482.9,396.0 477.8,395.9 472.8,395.9 467.7,395.8 462.7,395.7 457.6,395.7 452.5,395.6 447.5,395.5 442.4,395.3 437.4,395.2 432.3,395.1 427.3,394.9 422.2,394.8 417.1,394.6 412.1,394.5 407.0,394.3 402.0,394.1 396.9,393.9 391.9,393.7 386.8,393.5 381.7,393.3 376.7,393.0 371.6,392.8 366.6,392.6 361.5,392.3Z" fill="#7a4498" stroke="#7a4498" stroke-width="0.6"/>
<path d="M361.5,392.3 366.6,392.6 371.6,392.8 376.7,393.0 381.7,393.3 386.8,393.5 391.9,393.7 396.9,393.9 402.0,394.1 407.0,394.3 412.1,394.5 417.1,394.6 422.2,394.8 427.3,394.9 432.3,395.1 437.4,395.2 442.4,395.3 447.5,395.5 452.5,395.6 457.6,395.7 462.7,395.7 467.7,395.8 472.8,395.9 477.8,395.9 482.9,396.0 L482.9,403.4 477.8,403.5 472.8,403.5 467.7,403.5 462.7,403.5 457.6,403.5 452.5,403.5 447.5,403.4 442.4,403.3 437.4,403.2 432.3,403.1 427.3,403.0 422.2,402.8 417.1,402.6 412.1,402.4 407.0,402.2 402.0,401.9 396.9,401.6 391.9,401.3 386.8,401.0 381.7,400.7 376.7,400.3 371.6,399.9 366.6,399.5 361.5,399.1Z" fill="#ee98ac" stroke="#ee98ac" stroke-width="0.6"/>
<path d="M361.5,399.1 366.6,399.5 371.6,399.9 376.7,400.3 381.7,400.7 386.8,401.0 391.9,401.3 396.9,401.6 402.0,401.9 407.0,402.2 412.1,402.4 417.1,402.6 422.2,402.8 427.3,403.0 432.3,403.1 437.4,403.2 442.4,403.3 447.5,403.4 452.5,403.5 457.6,403.5 462.7,403.5 467.7,403.5 472.8,403.5 477.8,403.5 482.9,403.4 L482.9,413.5 477.8,413.6 472.8,413.7 467.7,413.7 462.7,413.8 457.6,413.8 452.5,413.8 447.5,413.8 442.4,413.8 437.4,413.7 432.3,413.7 427.3,413.6 422.2,413.5 417.1,413.4 412.1,413.3 407.0,413.1 402.0,412.9 396.9,412.8 391.9,412.6 386.8,412.3 381.7,412.1 376.7,411.9 371.6,411.6 366.6,411.3 361.5,411.0Z" fill="#46287a" stroke="#46287a" stroke-width="0.6"/>
<path d="M361.5,411.0 366.6,411.3 371.6,411.6 376.7,411.9 381.7,412.1 386.8,412.3 391.9,412.6 396.9,412.8 402.0,412.9 407.0,413.1 412.1,413.3 417.1,413.4 422.2,413.5 427.3,413.6 432.3,413.7 437.4,413.7 442.4,413.8 447.5,413.8 452.5,413.8 457.6,413.8 462.7,413.8 467.7,413.7 472.8,413.7 477.8,413.6 482.9,413.5 L482.9,423.9 477.8,423.7 472.8,423.5 467.7,423.3 462.7,423.1 457.6,422.8 452.5,422.6 447.5,422.4 442.4,422.2 437.4,422.0 432.3,421.8 427.3,421.6 422.2,421.4 417.1,421.2 412.1,421.0 407.0,420.8 402.0,420.6 396.9,420.4 391.9,420.2 386.8,420.0 381.7,419.8 376.7,419.6 371.6,419.4 366.6,419.2 361.5,419.0Z" fill="#ec7ea6" stroke="#ec7ea6" stroke-width="0.6"/>
<path d="M361.5,419.0 366.6,419.2 371.6,419.4 376.7,419.6 381.7,419.8 386.8,420.0 391.9,420.2 396.9,420.4 402.0,420.6 407.0,420.8 412.1,421.0 417.1,421.2 422.2,421.4 427.3,421.6 432.3,421.8 437.4,422.0 442.4,422.2 447.5,422.4 452.5,422.6 457.6,422.8 462.7,423.1 467.7,423.3 472.8,423.5 477.8,423.7 482.9,423.9 L482.9,430.9 477.8,431.1 472.8,431.2 467.7,431.4 462.7,431.5 457.6,431.5 452.5,431.5 447.5,431.5 442.4,431.5 437.4,431.4 432.3,431.2 427.3,431.1 422.2,430.9 417.1,430.7 412.1,430.4 407.0,430.1 402.0,429.8 396.9,429.4 391.9,429.0 386.8,428.6 381.7,428.1 376.7,427.6 371.6,427.1 366.6,426.5 361.5,425.9Z" fill="#621c30" stroke="#621c30" stroke-width="0.6"/>
<path d="M361.5,425.9 366.6,426.5 371.6,427.1 376.7,427.6 381.7,428.1 386.8,428.6 391.9,429.0 396.9,429.4 402.0,429.8 407.0,430.1 412.1,430.4 417.1,430.7 422.2,430.9 427.3,431.1 432.3,431.2 437.4,431.4 442.4,431.5 447.5,431.5 452.5,431.5 457.6,431.5 462.7,431.5 467.7,431.4 472.8,431.2 477.8,431.1 482.9,430.9 L482.9,445.1 477.8,445.1 472.8,445.1 467.7,445.1 462.7,445.1 457.6,445.1 452.5,445.1 447.5,445.1 442.4,445.1 437.4,445.1 432.3,445.1 427.3,445.1 422.2,445.1 417.1,445.1 412.1,445.1 407.0,445.1 402.0,445.1 396.9,445.1 391.9,445.1 386.8,445.1 381.7,445.1 376.7,445.1 371.6,445.1 366.6,445.1 361.5,445.1Z" fill="#e44c72" stroke="#e44c72" stroke-width="0.6"/>
<path d="M362.5,367.1 370.0,367.5 377.4,367.8 384.9,368.1 392.4,368.4 399.8,368.7 407.3,368.9 414.7,369.1 422.2,369.2 429.7,369.4 437.1,369.5 444.6,369.6 452.0,369.6 459.5,369.7 467.0,369.6 474.4,369.6 481.9,369.5" fill="none" stroke="#7e3a7c" stroke-width="2.4" stroke-dasharray="1.6 1.1 0.8 1.4" opacity="0.85"/>
<circle cx="436" cy="395.5" r="6" fill="#e090b8" opacity="0.6"/>
<circle cx="436" cy="395.5" r="6" fill="none" stroke="#6a3c92" stroke-width="2.6" opacity="0.85"/>
<ellipse cx="418" cy="427" rx="5" ry="1.6" fill="#f4f0f0"/>
<ellipse cx="451" cy="428" rx="6" ry="1.8" fill="#f4f0f0"/>
<ellipse cx="386" cy="424" rx="4" ry="1.2" fill="#e8d8dc"/>
<g clip-path="url(#tc14)"><rect x="362.5" y="351.8" width="119.4" height="93.3" filter="url(#nzd)" opacity="0.5"/>
<rect x="362.5" y="351.8" width="119.4" height="93.3" filter="url(#nzl)" opacity="0.4"/></g>
</g>
<clipPath id="cp15"><rect x="485.6" y="352.5" width="120.1" height="92.0"/></clipPath>
<g clip-path="url(#cp15)">
<rect x="485.6" y="352.5" width="120.1" height="92.0" fill="#f6f2f2"/>
<clipPath id="tc15"><path d="M484.6,356.8 489.7,358.0 494.8,359.0 499.9,360.0 505.0,360.8 510.0,361.6 515.1,362.2 520.2,362.7 525.3,363.1 530.4,363.4 535.5,363.6 540.6,363.7 545.7,363.7 550.7,363.6 555.8,363.3 560.9,363.0 566.0,362.5 571.1,362.0 576.2,361.3 581.3,360.5 586.4,359.6 591.4,358.6 596.5,357.5 601.6,356.3 606.7,355.0 L606.7,444.5 601.6,444.5 596.5,444.5 591.4,444.5 586.4,444.5 581.3,444.5 576.2,444.5 571.1,444.5 566.0,444.5 560.9,444.5 555.8,444.5 550.7,444.5 545.7,444.5 540.6,444.5 535.5,444.5 530.4,444.5 525.3,444.5 520.2,444.5 515.1,444.5 510.0,444.5 505.0,444.5 499.9,444.5 494.8,444.5 489.7,444.5 484.6,444.5Z"/></clipPath>
<path d="M484.6,356.8 489.7,358.0 494.8,359.0 499.9,360.0 505.0,360.8 510.0,361.6 515.1,362.2 520.2,362.7 525.3,363.1 530.4,363.4 535.5,363.6 540.6,363.7 545.7,363.7 550.7,363.6 555.8,363.3 560.9,363.0 566.0,362.5 571.1,362.0 576.2,361.3 581.3,360.5 586.4,359.6 591.4,358.6 596.5,357.5 601.6,356.3 606.7,355.0 L606.7,366.7 601.6,367.5 596.5,368.3 591.4,369.0 586.4,369.7 581.3,370.2 576.2,370.8 571.1,371.2 566.0,371.5 560.9,371.8 555.8,372.1 550.7,372.2 545.7,372.3 540.6,372.3 535.5,372.3 530.4,372.1 525.3,371.9 520.2,371.7 515.1,371.4 510.0,370.9 505.0,370.5 499.9,369.9 494.8,369.3 489.7,368.6 484.6,367.9Z" fill="#d47ca8" stroke="#d47ca8" stroke-width="0.6"/>
<path d="M484.6,367.9 489.7,368.6 494.8,369.3 499.9,369.9 505.0,370.5 510.0,370.9 515.1,371.4 520.2,371.7 525.3,371.9 530.4,372.1 535.5,372.3 540.6,372.3 545.7,372.3 550.7,372.2 555.8,372.1 560.9,371.8 566.0,371.5 571.1,371.2 576.2,370.8 581.3,370.2 586.4,369.7 591.4,369.0 596.5,368.3 601.6,367.5 606.7,366.7 L606.7,382.4 601.6,382.9 596.5,383.4 591.4,383.8 586.4,384.2 581.3,384.5 576.2,384.7 571.1,384.9 566.0,385.0 560.9,385.1 555.8,385.1 550.7,385.0 545.7,384.9 540.6,384.7 535.5,384.5 530.4,384.1 525.3,383.8 520.2,383.3 515.1,382.8 510.0,382.3 505.0,381.7 499.9,381.0 494.8,380.3 489.7,379.5 484.6,378.6Z" fill="#ea7aa6" stroke="#ea7aa6" stroke-width="0.6"/>
<path d="M484.6,378.6 489.7,379.5 494.8,380.3 499.9,381.0 505.0,381.7 510.0,382.3 515.1,382.8 520.2,383.3 525.3,383.8 530.4,384.1 535.5,384.5 540.6,384.7 545.7,384.9 550.7,385.0 555.8,385.1 560.9,385.1 566.0,385.0 571.1,384.9 576.2,384.7 581.3,384.5 586.4,384.2 591.4,383.8 596.5,383.4 601.6,382.9 606.7,382.4 L606.7,395.9 601.6,396.2 596.5,396.5 591.4,396.7 586.4,396.9 581.3,397.1 576.2,397.2 571.1,397.3 566.0,397.3 560.9,397.4 555.8,397.3 550.7,397.3 545.7,397.2 540.6,397.1 535.5,396.9 530.4,396.7 525.3,396.5 520.2,396.2 515.1,395.9 510.0,395.6 505.0,395.2 499.9,394.8 494.8,394.4 489.7,393.9 484.6,393.4Z" fill="#7a4498" stroke="#7a4498" stroke-width="0.6"/>
<path d="M484.6,393.4 489.7,393.9 494.8,394.4 499.9,394.8 505.0,395.2 510.0,395.6 515.1,395.9 520.2,396.2 525.3,396.5 530.4,396.7 535.5,396.9 540.6,397.1 545.7,397.2 550.7,397.3 555.8,397.3 560.9,397.4 566.0,397.3 571.1,397.3 576.2,397.2 581.3,397.1 586.4,396.9 591.4,396.7 596.5,396.5 601.6,396.2 606.7,395.9 L606.7,400.5 601.6,400.9 596.5,401.2 591.4,401.4 586.4,401.7 581.3,401.8 576.2,401.9 571.1,402.0 566.0,402.1 560.9,402.0 555.8,402.0 550.7,401.9 545.7,401.7 540.6,401.5 535.5,401.2 530.4,400.9 525.3,400.6 520.2,400.2 515.1,399.8 510.0,399.3 505.0,398.7 499.9,398.1 494.8,397.5 489.7,396.8 484.6,396.1Z" fill="#ee98ac" stroke="#ee98ac" stroke-width="0.6"/>
<path d="M484.6,396.1 489.7,396.8 494.8,397.5 499.9,398.1 505.0,398.7 510.0,399.3 515.1,399.8 520.2,400.2 525.3,400.6 530.4,400.9 535.5,401.2 540.6,401.5 545.7,401.7 550.7,401.9 555.8,402.0 560.9,402.0 566.0,402.1 571.1,402.0 576.2,401.9 581.3,401.8 586.4,401.7 591.4,401.4 596.5,401.2 601.6,400.9 606.7,400.5 L606.7,417.7 601.6,417.5 596.5,417.4 591.4,417.2 586.4,417.0 581.3,416.8 576.2,416.6 571.1,416.4 566.0,416.2 560.9,415.9 555.8,415.7 550.7,415.5 545.7,415.2 540.6,414.9 535.5,414.7 530.4,414.4 525.3,414.1 520.2,413.8 515.1,413.5 510.0,413.1 505.0,412.8 499.9,412.5 494.8,412.1 489.7,411.8 484.6,411.4Z" fill="#46287a" stroke="#46287a" stroke-width="0.6"/>
<path d="M484.6,411.4 489.7,411.8 494.8,412.1 499.9,412.5 505.0,412.8 510.0,413.1 515.1,413.5 520.2,413.8 525.3,414.1 530.4,414.4 535.5,414.7 540.6,414.9 545.7,415.2 550.7,415.5 555.8,415.7 560.9,415.9 566.0,416.2 571.1,416.4 576.2,416.6 581.3,416.8 586.4,417.0 591.4,417.2 596.5,417.4 601.6,417.5 606.7,417.7 L606.7,424.6 601.6,424.8 596.5,424.9 591.4,425.1 586.4,425.2 581.3,425.2 576.2,425.2 571.1,425.2 566.0,425.2 560.9,425.1 555.8,424.9 550.7,424.8 545.7,424.6 540.6,424.4 535.5,424.1 530.4,423.8 525.3,423.5 520.2,423.1 515.1,422.7 510.0,422.3 505.0,421.8 499.9,421.3 494.8,420.8 489.7,420.2 484.6,419.6Z" fill="#ec7ea6" stroke="#ec7ea6" stroke-width="0.6"/>
<path d="M484.6,419.6 489.7,420.2 494.8,420.8 499.9,421.3 505.0,421.8 510.0,422.3 515.1,422.7 520.2,423.1 525.3,423.5 530.4,423.8 535.5,424.1 540.6,424.4 545.7,424.6 550.7,424.8 555.8,424.9 560.9,425.1 566.0,425.2 571.1,425.2 576.2,425.2 581.3,425.2 586.4,425.2 591.4,425.1 596.5,424.9 601.6,424.8 606.7,424.6 L606.7,433.3 601.6,433.5 596.5,433.7 591.4,433.9 586.4,434.1 581.3,434.3 576.2,434.6 571.1,434.8 566.0,435.0 560.9,435.2 555.8,435.4 550.7,435.6 545.7,435.8 540.6,436.0 535.5,436.2 530.4,436.4 525.3,436.6 520.2,436.8 515.1,437.1 510.0,437.3 505.0,437.5 499.9,437.7 494.8,437.9 489.7,438.1 484.6,438.3Z" fill="#621c30" stroke="#621c30" stroke-width="0.6"/>
<path d="M484.6,438.3 489.7,438.1 494.8,437.9 499.9,437.7 505.0,437.5 510.0,437.3 515.1,437.1 520.2,436.8 525.3,436.6 530.4,436.4 535.5,436.2 540.6,436.0 545.7,435.8 550.7,435.6 555.8,435.4 560.9,435.2 566.0,435.0 571.1,434.8 576.2,434.6 581.3,434.3 586.4,434.1 591.4,433.9 596.5,433.7 601.6,433.5 606.7,433.3 L606.7,444.5 601.6,444.5 596.5,444.5 591.4,444.5 586.4,444.5 581.3,444.5 576.2,444.5 571.1,444.5 566.0,444.5 560.9,444.5 555.8,444.5 550.7,444.5 545.7,444.5 540.6,444.5 535.5,444.5 530.4,444.5 525.3,444.5 520.2,444.5 515.1,444.5 510.0,444.5 505.0,444.5 499.9,444.5 494.8,444.5 489.7,444.5 484.6,444.5Z" fill="#e44c72" stroke="#e44c72" stroke-width="0.6"/>
<path d="M485.6,362.4 493.1,363.8 500.6,365.0 508.1,366.0 515.6,366.8 523.1,367.4 530.6,367.8 538.1,368.0 545.7,368.0 553.2,367.8 560.7,367.4 568.2,366.8 575.7,366.0 583.2,365.0 590.7,363.8 598.2,362.4 605.7,360.9" fill="none" stroke="#7e3a7c" stroke-width="2.4" stroke-dasharray="1.6 1.1 0.8 1.4" opacity="0.85"/>
<path d="M538,396 C538,392 550,392 551,396 C552,403 550,410 547,414 C544,415 541,413 539,410 C537,405 537,400 538,396 Z" fill="#6e3e96" opacity="0.75"/>
<path d="M545.2,406 L547,406 L552,424.5 C549,426 543,426 540.5,424.5 Z" fill="#f4e6ee" opacity="0.95"/>
<ellipse cx="578" cy="430" rx="10" ry="2.2" fill="#f4f0f0"/>
<ellipse cx="520" cy="428" rx="5" ry="1.5" fill="#e8e0e4"/>
<g clip-path="url(#tc15)"><rect x="485.6" y="352.5" width="120.1" height="92.0" filter="url(#nzd)" opacity="0.5"/>
<rect x="485.6" y="352.5" width="120.1" height="92.0" filter="url(#nzl)" opacity="0.4"/></g>
</g>
<text font-family="Liberation Sans, Arial, sans-serif" font-size="16.6" fill="#1a1a1a" text-anchor="middle" x="200.3" y="30" font-weight="bold">WT-SPF</text>
<text font-family="Liberation Sans, Arial, sans-serif" font-size="16.6" fill="#1a1a1a" text-anchor="middle" x="483.1" y="29.6" font-weight="bold">Rd8-SPF</text>
<line x1="79" y1="38.5" x2="321" y2="38.5" stroke="#222" stroke-width="1.4"/>
<line x1="362.3" y1="38.3" x2="604.4" y2="38.3" stroke="#222" stroke-width="1.4"/>
<text font-family="Liberation Sans, Arial, sans-serif" font-size="16.5" fill="#1a1a1a" text-anchor="middle" x="143" y="58.7" >OS</text>
<text font-family="Liberation Sans, Arial, sans-serif" font-size="16.5" fill="#1a1a1a" text-anchor="middle" x="267" y="58.7" >OD</text>
<text font-family="Liberation Sans, Arial, sans-serif" font-size="16.5" fill="#1a1a1a" text-anchor="middle" x="423.4" y="58.7" >OS</text>
<text font-family="Liberation Sans, Arial, sans-serif" font-size="16.5" fill="#1a1a1a" text-anchor="middle" x="547.8" y="58.7" >OD</text>
<text font-family="Liberation Sans, Arial, sans-serif" font-size="17.2" fill="#1a1a1a" text-anchor="start" x="42.3" y="117" >E18</text>
<text font-family="Liberation Sans, Arial, sans-serif" font-size="17.2" fill="#1a1a1a" text-anchor="start" x="42.3" y="204" >P12</text>
<text font-family="Liberation Sans, Arial, sans-serif" font-size="17.2" fill="#1a1a1a" text-anchor="start" x="42.3" y="293" >P15</text>
<text font-family="Liberation Sans, Arial, sans-serif" font-size="17.2" fill="#1a1a1a" text-anchor="start" x="42.3" y="393.6" >8W</text>
<text font-family="Liberation Sans, Arial, sans-serif" font-size="11" fill="#222" text-anchor="end" x="195.5" y="149.3">50 µm</text>
<line x1="177.7" y1="139.5" x2="193.4" y2="139.5" stroke="#444" stroke-width="1"/>
<text font-family="Liberation Sans, Arial, sans-serif" font-size="11" fill="#222" text-anchor="end" x="321.5" y="149.8">50 µm</text>
<line x1="303.7" y1="140.0" x2="319.4" y2="140.0" stroke="#444" stroke-width="1"/>
<text font-family="Liberation Sans, Arial, sans-serif" font-size="11" fill="#222" text-anchor="end" x="195.5" y="248.8">50 µm</text>
<line x1="177.7" y1="239.0" x2="193.4" y2="239.0" stroke="#444" stroke-width="1"/>
<text font-family="Liberation Sans, Arial, sans-serif" font-size="11" fill="#222" text-anchor="end" x="321.8" y="248.8">50 µm</text>
<line x1="304.0" y1="239.0" x2="319.7" y2="239.0" stroke="#444" stroke-width="1"/>
<text font-family="Liberation Sans, Arial, sans-serif" font-size="11" fill="#222" text-anchor="end" x="195.5" y="343.8">50 µm</text>
<line x1="177.7" y1="334.0" x2="193.4" y2="334.0" stroke="#444" stroke-width="1"/>
<text font-family="Liberation Sans, Arial, sans-serif" font-size="11" fill="#222" text-anchor="end" x="321.8" y="343.8">50 µm</text>
<line x1="304.0" y1="334.0" x2="319.7" y2="334.0" stroke="#444" stroke-width="1"/>
<text font-family="Liberation Sans, Arial, sans-serif" font-size="11" fill="#222" text-anchor="end" x="195.5" y="444.2">50 µm</text>
<line x1="177.7" y1="434.4" x2="193.4" y2="434.4" stroke="#444" stroke-width="1"/>
<text font-family="Liberation Sans, Arial, sans-serif" font-size="11" fill="#222" text-anchor="end" x="321.8" y="444.2">50 µm</text>
<line x1="304.0" y1="434.4" x2="319.7" y2="434.4" stroke="#444" stroke-width="1"/>
<text font-family="Liberation Sans, Arial, sans-serif" font-size="11" fill="#222" text-anchor="end" x="480.6" y="149.5">50 µm</text>
<line x1="462.8" y1="139.7" x2="478.5" y2="139.7" stroke="#444" stroke-width="1"/>
<text font-family="Liberation Sans, Arial, sans-serif" font-size="11" fill="#222" text-anchor="end" x="601.7" y="149.5">50 µm</text>
<line x1="583.9" y1="139.7" x2="599.6" y2="139.7" stroke="#444" stroke-width="1"/>
<text font-family="Liberation Sans, Arial, sans-serif" font-size="11" fill="#222" text-anchor="end" x="481.3" y="246.8">50 µm</text>
<line x1="463.5" y1="237.0" x2="479.2" y2="237.0" stroke="#444" stroke-width="1"/>
<text font-family="Liberation Sans, Arial, sans-serif" font-size="11" fill="#222" text-anchor="end" x="601.7" y="246.8">50 µm</text>
<line x1="583.9" y1="237.0" x2="599.6" y2="237.0" stroke="#444" stroke-width="1"/>
<text font-family="Liberation Sans, Arial, sans-serif" font-size="11" fill="#222" text-anchor="end" x="480.6" y="342.7">50 µm</text>
<line x1="462.8" y1="332.9" x2="478.5" y2="332.9" stroke="#444" stroke-width="1"/>
<text font-family="Liberation Sans, Arial, sans-serif" font-size="11" fill="#222" text-anchor="end" x="601.7" y="342.7">50 µm</text>
<line x1="583.9" y1="332.9" x2="599.6" y2="332.9" stroke="#444" stroke-width="1"/>
<text font-family="Liberation Sans, Arial, sans-serif" font-size="11" fill="#222" text-anchor="end" x="480.6" y="443">50 µm</text>
<line x1="462.8" y1="433.2" x2="478.5" y2="433.2" stroke="#444" stroke-width="1"/>
<text font-family="Liberation Sans, Arial, sans-serif" font-size="11" fill="#222" text-anchor="end" x="601.7" y="443">50 µm</text>
<line x1="583.9" y1="433.2" x2="599.6" y2="433.2" stroke="#444" stroke-width="1"/>
<text font-family="Liberation Sans, Arial, sans-serif" font-size="11" fill="#1a1a1a" text-anchor="start" x="606.3" y="82.2" >GCL</text>
<text font-family="Liberation Sans, Arial, sans-serif" font-size="11" fill="#1a1a1a" text-anchor="start" x="606.3" y="101" >INBL</text>
<text font-family="Liberation Sans, Arial, sans-serif" font-size="11" fill="#1a1a1a" text-anchor="start" x="606.3" y="120.7" >ONBL</text>
<text font-family="Liberation Sans, Arial, sans-serif" font-size="11" fill="#1a1a1a" text-anchor="start" x="606.3" y="138" >RPE</text>
<text font-family="Liberation Sans, Arial, sans-serif" font-size="11" fill="#1a1a1a" text-anchor="start" x="606.3" y="167.3" >GCL</text>
<text font-family="Liberation Sans, Arial, sans-serif" font-size="11" fill="#1a1a1a" text-anchor="start" x="606.3" y="184.6" >INL</text>
<text font-family="Liberation Sans, Arial, sans-serif" font-size="11" fill="#1a1a1a" text-anchor="start" x="606.3" y="205.3" >ONL</text>
<text font-family="Liberation Sans, Arial, sans-serif" font-size="11" fill="#1a1a1a" text-anchor="start" x="606.3" y="225" >RPE</text>
<text font-family="Liberation Sans, Arial, sans-serif" font-size="11" fill="#1a1a1a" text-anchor="start" x="606.3" y="269.6" >GCL</text>
<text font-family="Liberation Sans, Arial, sans-serif" font-size="11" fill="#1a1a1a" text-anchor="start" x="606.3" y="289.6" >INL</text>
<text font-family="Liberation Sans, Arial, sans-serif" font-size="11" fill="#1a1a1a" text-anchor="start" x="606.3" y="308.8" >ONL</text>
<text font-family="Liberation Sans, Arial, sans-serif" font-size="11" fill="#1a1a1a" text-anchor="start" x="606.3" y="328.4" >RPE</text>
<text font-family="Liberation Sans, Arial, sans-serif" font-size="11" fill="#1a1a1a" text-anchor="start" x="606.3" y="366.2" >GCL</text>
<text font-family="Liberation Sans, Arial, sans-serif" font-size="11" fill="#1a1a1a" text-anchor="start" x="606.3" y="389.3" >INL</text>
<text font-family="Liberation Sans, Arial, sans-serif" font-size="11" fill="#1a1a1a" text-anchor="start" x="606.3" y="408.4" >ONL</text>
<text font-family="Liberation Sans, Arial, sans-serif" font-size="11" fill="#1a1a1a" text-anchor="start" x="606.3" y="428" >RPE</text>
<rect x="95.3" y="517.8" width="311.9" height="250.0" fill="#fff"/>
<g stroke="#d9d9d9" stroke-width="0.8" stroke-dasharray="1.5 1.5">
<line x1="215.2" y1="517.8" x2="215.2" y2="767.8"/>
<line x1="286.4" y1="517.8" x2="286.4" y2="767.8"/>
<line x1="95.3" y1="726.7" x2="407.2" y2="726.7"/>
</g>
<path d="M323.1 730.8h0M308.9 728.2h0M175.0 732.8h0M201.1 738.6h0M203.5 743.2h0M312.3 735.8h0M296.4 748.9h0M192.1 741.4h0M321.3 728.9h0M311.0 740.1h0M204.9 737.1h0M198.2 727.0h0M312.1 736.9h0M200.5 729.4h0M179.2 734.0h0M315.1 730.2h0M313.1 729.9h0M194.9 729.1h0M202.4 736.2h0M176.8 732.0h0M204.5 734.7h0M319.0 733.8h0M195.8 735.6h0M298.6 732.5h0M196.3 735.1h0M191.1 731.5h0M204.9 742.1h0M202.2 740.7h0M197.3 733.1h0M300.2 731.9h0M193.5 731.4h0M202.0 740.1h0M193.0 731.7h0M202.5 745.4h0M299.7 744.0h0M307.0 742.3h0M321.2 738.2h0M191.7 740.0h0M297.6 741.6h0M199.8 735.1h0M357.2 727.5h0M199.2 741.3h0M323.1 727.3h0M326.0 729.1h0M297.5 729.0h0M298.5 733.1h0M205.3 727.3h0M308.1 729.4h0M191.4 735.6h0M304.5 737.4h0M202.2 732.0h0M199.7 745.2h0M193.1 733.6h0M189.3 727.9h0M314.8 741.2h0M312.1 749.4h0M352.3 743.4h0M200.3 736.4h0M297.9 732.9h0M178.4 730.6h0M183.3 734.3h0M380.5 733.7h0M301.1 741.7h0M186.6 739.7h0M314.2 726.7h0M201.5 736.8h0M315.2 732.2h0M337.1 730.0h0M195.4 744.9h0M295.6 741.3h0M201.7 747.6h0M199.3 744.4h0M301.0 745.8h0M351.0 731.7h0M162.5 728.8h0M309.1 743.1h0M299.7 732.0h0M194.1 730.6h0M193.0 733.7h0M190.9 750.7h0M321.0 744.6h0M301.8 739.6h0M175.9 744.7h0M152.1 737.4h0M314.4 746.2h0M302.7 747.1h0M306.0 738.7h0M329.0 731.3h0M295.6 740.9h0M313.3 736.1h0M295.3 737.9h0M332.0 731.4h0M204.8 729.8h0M147.7 735.3h0M138.4 736.2h0M180.4 747.4h0M339.7 739.4h0M297.2 744.8h0M185.5 727.5h0M328.5 734.7h0M203.0 744.9h0M301.9 746.7h0M178.3 735.1h0M296.2 750.2h0M181.7 740.9h0M149.7 729.2h0M303.0 745.8h0M186.4 744.1h0M306.0 741.2h0M302.3 742.5h0M203.0 743.5h0M202.8 742.3h0M197.7 749.5h0M182.3 732.4h0M174.6 743.0h0M203.5 745.7h0M195.4 735.9h0M315.8 734.4h0M170.7 727.6h0M317.7 744.6h0M198.6 745.4h0M312.9 740.9h0M195.8 748.3h0M205.1 749.6h0M158.2 737.8h0M174.2 740.7h0M325.4 738.9h0M300.2 740.8h0M204.8 727.3h0M308.2 732.7h0M154.5 732.5h0M297.7 742.9h0M183.6 741.1h0M203.9 741.4h0M306.2 750.9h0M304.1 737.7h0M298.5 736.8h0M203.6 752.6h0M304.7 739.2h0M310.1 744.7h0M204.3 742.2h0M340.2 743.1h0M174.8 736.0h0M201.5 741.4h0M190.1 730.9h0M164.8 727.3h0M192.5 736.0h0M204.6 740.1h0M354.5 736.6h0M204.5 742.9h0M299.3 742.9h0M198.3 733.8h0M172.3 742.1h0M184.7 746.4h0M302.7 746.7h0M304.0 730.0h0M310.6 731.4h0M196.9 744.6h0M296.6 746.4h0M193.7 742.4h0M309.9 730.6h0M300.1 745.1h0M182.1 745.0h0M314.4 736.3h0M322.0 735.1h0M146.7 736.3h0M353.2 735.5h0M299.1 744.1h0M306.4 744.2h0M136.1 731.3h0M203.1 752.8h0M205.4 744.7h0M206.1 743.3h0M149.9 735.7h0M307.8 738.8h0M298.5 742.8h0M176.1 745.6h0M299.3 733.9h0M206.0 737.9h0M298.1 729.1h0M311.3 744.4h0M333.7 735.6h0M193.8 743.9h0M192.3 749.0h0M299.0 735.4h0M176.3 733.2h0M200.4 747.0h0M198.8 735.5h0M329.1 733.8h0M205.9 743.0h0M205.9 744.9h0M177.9 731.4h0M191.4 730.3h0M328.1 736.1h0M189.7 742.6h0M304.1 746.7h0M178.6 727.1h0M299.3 739.4h0M306.8 740.9h0M177.4 743.3h0M304.5 743.8h0M174.8 738.5h0M199.8 742.2h0M162.0 739.7h0M188.9 740.3h0M344.3 743.5h0M298.2 740.2h0M184.6 748.0h0M332.4 732.8h0M317.0 742.7h0M338.0 737.3h0M198.5 735.4h0M297.8 741.8h0M298.1 743.6h0M201.5 743.2h0M317.8 731.3h0M152.2 742.7h0M178.7 743.8h0M304.9 735.3h0M302.5 735.4h0M321.9 746.7h0M186.8 741.0h0M300.0 727.9h0M155.5 733.6h0M202.4 736.4h0M195.5 729.4h0M179.9 738.5h0M299.6 745.0h0M302.9 746.6h0M304.9 747.9h0M196.7 730.0h0M299.5 739.4h0M194.5 732.1h0M190.0 733.0h0M202.1 733.8h0M158.7 744.6h0M195.5 744.7h0M173.5 742.0h0M201.5 741.8h0M295.9 744.9h0M306.7 738.6h0M195.8 729.7h0M302.4 741.7h0M299.4 736.8h0M165.4 732.5h0M203.9 744.0h0M201.0 740.4h0M304.5 727.4h0M204.0 733.1h0M295.5 738.1h0M204.8 737.7h0M174.6 738.5h0M159.6 735.2h0M313.1 749.4h0M193.4 735.6h0M157.5 743.8h0M122.0 739.0h0M205.3 751.5h0M307.2 749.6h0M147.1 727.3h0M315.3 734.9h0M306.0 747.3h0M186.4 734.0h0M137.8 739.0h0M313.0 732.3h0M298.1 738.8h0M301.0 743.2h0M206.3 744.7h0M301.3 746.6h0M300.8 730.7h0M201.5 740.9h0M353.7 740.9h0M196.4 741.8h0M141.3 736.6h0M197.2 735.6h0M300.1 728.7h0M194.5 744.7h0M187.5 740.1h0M200.5 740.9h0M195.6 739.6h0M198.8 735.5h0M203.5 746.0h0M305.3 737.8h0M318.6 750.6h0M302.5 730.5h0M188.7 741.7h0M160.4 731.4h0M156.6 740.9h0M189.6 746.7h0M189.7 745.0h0M339.9 745.6h0M150.4 727.0h0M191.2 741.7h0M303.6 736.5h0M199.9 739.9h0M308.9 744.9h0M300.6 736.1h0M184.9 747.3h0M321.9 739.9h0M318.6 738.5h0M300.3 749.2h0M173.2 741.8h0M196.7 747.2h0M124.8 731.2h0M163.1 747.7h0M356.8 740.9h0M202.5 747.6h0M197.8 747.1h0M197.0 748.4h0M318.0 745.1h0M311.7 737.4h0M188.3 746.7h0M194.6 746.9h0M161.7 736.3h0M172.5 742.0h0M193.9 748.0h0M312.6 746.8h0M206.1 748.8h0M134.5 735.2h0M337.8 731.5h0M163.0 734.3h0M169.1 740.3h0M185.2 738.3h0M317.7 746.8h0M195.0 746.1h0M137.7 745.9h0M166.4 737.6h0M174.3 747.5h0M350.4 741.9h0M351.6 730.5h0M197.6 745.8h0M171.5 744.7h0M336.6 738.4h0M368.9 732.5h0M189.2 737.8h0M182.6 729.3h0M296.7 746.4h0M194.0 743.4h0M297.1 742.1h0M347.0 745.7h0M115.6 743.1h0M180.1 746.0h0M166.1 738.5h0M157.4 737.6h0M326.7 731.5h0M164.9 740.2h0M184.5 749.3h0M191.0 742.1h0M317.8 744.0h0M311.2 746.5h0M190.7 747.0h0M202.8 736.1h0M344.3 741.4h0M145.6 734.4h0M328.6 736.7h0M166.8 744.8h0M197.7 748.2h0M299.6 737.6h0M189.8 746.9h0M191.3 751.0h0M334.7 741.7h0M312.3 746.0h0M310.3 745.8h0M121.0 732.9h0M131.7 727.1h0M205.8 746.7h0M331.6 743.1h0M354.3 745.6h0M337.7 743.1h0M306.0 746.8h0M166.2 737.0h0M185.3 744.1h0M295.5 748.1h0M149.2 736.0h0M200.6 740.6h0M177.7 745.9h0M202.1 748.7h0M144.9 745.9h0M150.0 740.5h0M306.8 748.4h0M129.8 727.1h0M385.8 730.5h0M150.1 744.1h0" stroke="#cacaca" stroke-width="1.9" stroke-linecap="round" fill="none"/>
<path d="M252.9 752.8h0M241.3 751.3h0M250.5 755.7h0M266.1 743.4h0M243.7 740.1h0M258.3 751.7h0M275.2 745.1h0M248.0 753.8h0M238.1 753.7h0M242.9 742.7h0M252.4 755.0h0M250.3 755.7h0M259.4 749.1h0M254.9 754.4h0M253.6 749.0h0M250.0 754.8h0M250.8 756.2h0M252.3 754.4h0M247.6 755.8h0M228.3 739.6h0M256.8 749.5h0M254.6 752.8h0M239.4 744.8h0M239.0 747.6h0M235.7 751.4h0M250.8 756.2h0M239.9 750.3h0M248.5 755.2h0M264.2 750.0h0M241.8 748.0h0M258.4 751.8h0M240.9 752.8h0M258.2 751.4h0M253.4 754.4h0M243.7 750.3h0M248.4 752.6h0M273.1 736.1h0M270.1 744.1h0M262.2 749.1h0M259.9 748.1h0M241.5 753.3h0M265.1 726.7h0M262.7 745.3h0M231.2 742.8h0M259.7 748.4h0M240.7 746.6h0M254.6 752.8h0M264.8 748.9h0M265.8 739.0h0M256.4 747.8h0M245.1 753.6h0M247.2 746.3h0M257.2 751.1h0M225.7 744.8h0M257.7 749.7h0M227.6 716.5h0M233.8 746.1h0M252.7 754.3h0M276.7 750.1h0M268.5 735.2h0M269.8 728.9h0M247.3 751.7h0M273.4 737.8h0M255.4 753.5h0M248.0 748.9h0M246.7 751.1h0M245.9 753.2h0M252.2 755.5h0M251.9 755.2h0M262.4 746.9h0M248.9 754.2h0M258.9 734.3h0M246.6 754.7h0M240.7 741.1h0M253.2 754.4h0M259.5 754.1h0M233.8 714.5h0M255.2 754.6h0M251.6 754.7h0M266.1 681.3h0M262.1 750.6h0M230.0 722.4h0M235.3 735.3h0M219.1 722.4h0M258.7 741.4h0M219.6 742.0h0M254.8 746.6h0M234.0 745.1h0M245.7 749.1h0M247.0 749.3h0M265.5 749.2h0M247.9 755.5h0M241.1 745.1h0M237.7 739.8h0M253.6 749.1h0M270.5 747.2h0M256.4 754.0h0M251.4 755.5h0M241.1 743.2h0M244.6 736.7h0M252.4 754.9h0M262.6 737.7h0M257.7 750.5h0M233.7 747.5h0M253.5 748.4h0M260.4 739.8h0M263.7 744.8h0M217.0 723.8h0M240.1 749.4h0M247.7 752.2h0M265.2 746.6h0M219.9 733.2h0M232.5 716.3h0M256.9 750.3h0M252.5 754.1h0M263.0 744.8h0M245.2 747.3h0M263.1 731.3h0M248.4 755.2h0M252.2 755.3h0M248.3 754.4h0M239.6 740.8h0M263.2 733.4h0M251.7 755.7h0M251.4 755.7h0M242.4 749.7h0M253.7 754.1h0M245.2 747.9h0M244.2 743.9h0M245.2 750.1h0M251.5 755.4h0M252.3 755.6h0M244.7 750.1h0M259.9 746.2h0M240.9 742.6h0M244.9 743.2h0M256.3 743.4h0M247.7 754.2h0M235.1 749.6h0M263.7 747.7h0M243.7 735.3h0M256.6 746.3h0M224.1 741.3h0M243.5 752.7h0M246.1 750.9h0M234.6 729.8h0M243.2 741.1h0M280.0 723.6h0M234.7 753.2h0M249.1 752.5h0M263.4 726.1h0M240.1 748.7h0M260.4 751.0h0M248.5 751.1h0M251.0 756.1h0M246.9 753.2h0M243.9 750.4h0M260.7 736.1h0M256.5 752.1h0M250.1 754.8h0M229.2 740.2h0M243.2 752.6h0M249.0 755.1h0M265.3 741.7h0M264.2 735.1h0M244.3 745.9h0M234.0 743.9h0M258.7 746.2h0M213.9 730.8h0M277.4 728.4h0M245.9 754.1h0M248.5 753.6h0M249.3 753.9h0M249.4 755.0h0M246.1 754.2h0M255.8 744.1h0M248.2 752.0h0M247.4 753.1h0M249.3 754.0h0M229.3 750.2h0M261.9 743.0h0M263.1 748.2h0M217.0 726.5h0M251.7 755.1h0M269.0 740.1h0M247.5 754.1h0M248.5 754.4h0M259.0 749.4h0M243.6 747.6h0M258.1 743.4h0M272.2 745.0h0M265.1 747.3h0M257.9 749.5h0M249.6 754.5h0M256.0 748.7h0M250.0 755.3h0M268.8 739.0h0M244.3 745.8h0M232.3 743.2h0M243.0 750.6h0M232.5 729.8h0M242.9 751.4h0M264.3 723.9h0M246.1 753.1h0M269.0 734.3h0M255.5 752.0h0M237.9 746.2h0M245.0 751.4h0M255.5 746.7h0M251.9 755.6h0M237.8 725.6h0M249.4 755.4h0M250.5 755.7h0M250.7 756.0h0M254.9 753.0h0M252.9 754.8h0M248.6 752.7h0M248.9 754.2h0M258.5 750.1h0M248.2 754.5h0M285.7 745.9h0M252.5 752.5h0M258.8 745.0h0M250.2 755.4h0M249.8 755.4h0M236.6 729.4h0M264.5 744.9h0M240.3 744.6h0M257.6 750.7h0M250.7 756.1h0M224.9 743.0h0M235.8 727.9h0M245.4 748.5h0M246.4 749.1h0M245.2 754.5h0M272.8 720.9h0M232.9 731.7h0M238.3 745.8h0M218.0 740.9h0M238.3 734.3h0M239.4 744.6h0M246.9 752.8h0M258.0 745.7h0M251.9 755.7h0M243.8 743.8h0M280.4 715.9h0M244.3 747.9h0M242.8 743.4h0M249.5 754.5h0M250.8 756.2h0M237.8 734.1h0M250.5 756.0h0M244.9 743.6h0M261.4 744.7h0M253.9 754.4h0M253.7 753.3h0M273.9 721.6h0M248.7 752.9h0M245.1 753.9h0M249.8 755.8h0M246.5 752.8h0M245.9 745.3h0M274.1 749.7h0M265.0 745.6h0M265.7 744.6h0M248.7 754.3h0M244.3 753.0h0M249.6 754.3h0M255.7 750.1h0M243.2 743.9h0M264.6 735.3h0M252.5 754.9h0M254.0 753.6h0M275.6 738.3h0M256.7 738.9h0M247.4 753.3h0M244.0 754.8h0M280.9 745.4h0M253.8 751.6h0M248.8 755.2h0M249.8 753.1h0M240.2 743.2h0M243.7 754.1h0M248.2 753.6h0M245.4 748.1h0M254.3 753.4h0M250.1 755.5h0M253.4 751.2h0M252.3 754.4h0M247.5 751.3h0M236.2 741.5h0M249.3 755.9h0M243.3 748.6h0M286.4 738.5h0M233.6 738.8h0M255.8 750.1h0M241.3 742.0h0M246.5 748.1h0M243.8 749.7h0M280.9 704.4h0M221.4 744.3h0M251.9 755.5h0M261.1 744.2h0M247.9 753.3h0M249.9 755.4h0M267.6 748.1h0M248.5 752.1h0M256.4 747.5h0M261.6 746.5h0M231.1 727.8h0M253.9 754.2h0M232.4 740.0h0M243.1 749.2h0M253.4 753.0h0M239.2 746.5h0M240.5 713.7h0M259.5 743.0h0M227.5 719.6h0M253.6 752.3h0M282.1 742.2h0M253.4 754.5h0M248.1 752.0h0M243.9 748.1h0M246.5 752.6h0M269.2 737.6h0M257.5 752.3h0M236.6 736.0h0M256.3 750.9h0M258.5 740.8h0M254.1 752.8h0M239.6 740.8h0M212.1 742.4h0M241.0 750.8h0M240.8 747.7h0M258.6 746.1h0M224.4 747.1h0M261.0 745.7h0M256.2 748.9h0M255.0 750.2h0M267.3 741.5h0M235.2 741.8h0M233.8 743.3h0M275.2 736.2h0M242.6 750.8h0M254.2 754.8h0M248.9 753.0h0M243.7 753.5h0M246.9 753.1h0M248.6 751.3h0M253.5 754.4h0M230.1 722.5h0M265.8 748.8h0M275.2 740.0h0M245.7 750.2h0M272.0 732.9h0M249.8 754.2h0M254.8 750.8h0M243.7 753.6h0M251.1 755.8h0M236.7 735.5h0M241.7 751.2h0M230.3 739.7h0M222.7 737.5h0M216.3 730.0h0M242.2 752.8h0M249.7 754.2h0M238.1 745.0h0M253.0 753.8h0M221.0 695.8h0M254.4 752.2h0M263.5 744.7h0M269.5 711.4h0M256.0 753.4h0M269.3 745.6h0M243.8 750.0h0M258.7 752.3h0M246.6 743.3h0M252.3 755.3h0M258.8 749.8h0M269.1 734.7h0M247.7 752.5h0M260.3 748.5h0M275.3 736.6h0M260.4 742.3h0M236.4 744.2h0M271.5 723.7h0M243.1 751.8h0M248.7 748.6h0M251.4 755.6h0M279.2 748.5h0M238.9 745.8h0M249.6 754.4h0M275.6 697.7h0M245.5 750.1h0M252.3 755.6h0M257.8 740.2h0M238.8 739.5h0M257.0 751.6h0M257.0 749.1h0M236.0 746.6h0M242.6 715.9h0M263.0 741.2h0M276.6 738.4h0M251.3 756.1h0M221.6 735.8h0M256.9 752.6h0M246.3 752.1h0M251.6 755.0h0M242.9 752.9h0M241.3 749.5h0M238.4 744.8h0M247.9 754.3h0M243.1 750.2h0M249.0 753.3h0M280.6 734.8h0M257.9 747.7h0M257.2 752.6h0M252.3 753.3h0M258.2 742.1h0M261.0 750.1h0M252.4 750.0h0M230.7 740.4h0M252.2 755.6h0M243.9 748.9h0M248.2 752.2h0M262.7 754.5h0M243.0 749.7h0M246.6 750.8h0M256.5 746.7h0M258.8 746.8h0M256.1 745.9h0M257.8 749.5h0M241.8 746.5h0M241.8 752.2h0M242.1 746.6h0M246.1 752.6h0M255.1 753.1h0M240.5 738.0h0M263.2 746.1h0M232.9 742.6h0M256.5 752.7h0M256.2 752.2h0M252.7 754.4h0M241.8 751.4h0M250.3 755.3h0M228.9 729.3h0M255.1 750.4h0M251.7 755.4h0M255.6 746.3h0M245.2 754.5h0M242.5 742.4h0M252.6 755.3h0M259.2 741.5h0M260.6 750.2h0M250.4 755.4h0M232.4 741.3h0M276.3 737.7h0M237.2 748.8h0M257.6 745.7h0M273.5 741.2h0M248.7 755.4h0M235.0 729.0h0M246.9 751.7h0M256.5 752.8h0M247.2 748.9h0M262.6 725.2h0M256.9 747.0h0M288.9 733.8h0M248.9 753.1h0M248.7 753.6h0M232.9 741.1h0M279.8 740.0h0M267.5 724.1h0M265.3 740.0h0M243.7 750.8h0M249.8 755.2h0M252.7 755.2h0M243.2 754.6h0M244.9 748.8h0M240.8 737.5h0M256.4 746.3h0M248.9 754.8h0M264.6 743.9h0M262.4 748.1h0M248.7 753.9h0M250.1 755.4h0M248.3 752.8h0M248.7 754.4h0M246.3 751.5h0M243.3 753.1h0M252.0 754.6h0M244.5 743.8h0M232.2 733.0h0M251.3 753.7h0M219.3 733.0h0M254.6 750.6h0M247.7 746.7h0M249.7 754.5h0M254.0 746.4h0M253.8 753.5h0M231.9 722.8h0M237.6 739.3h0M241.6 747.0h0M248.9 754.4h0M263.3 748.2h0M250.7 756.1h0M262.6 751.5h0M249.9 755.2h0M259.1 745.8h0M254.9 752.8h0M240.2 731.7h0M254.6 746.9h0M271.3 733.8h0M247.6 746.6h0M275.1 744.4h0M265.9 746.8h0M250.7 756.1h0M260.0 747.2h0M253.9 753.3h0M224.1 742.9h0M254.8 750.7h0M249.4 754.9h0M264.9 752.4h0M260.1 743.4h0M251.7 755.2h0M267.1 721.6h0M245.1 752.5h0M239.7 747.8h0M251.6 755.3h0M269.0 739.1h0M281.6 727.5h0M252.8 755.0h0M242.3 747.0h0M219.7 742.0h0M245.6 751.2h0M235.4 720.3h0M252.0 755.1h0M260.6 747.1h0M244.5 749.8h0M259.2 749.5h0M240.9 736.0h0M257.2 744.0h0M234.4 746.5h0M260.3 747.2h0M236.2 749.6h0M264.0 738.1h0M253.4 752.0h0M250.3 755.7h0M247.2 751.7h0M269.9 730.2h0M257.5 752.2h0M242.7 748.4h0M262.5 741.1h0M283.9 726.6h0M250.6 756.0h0M252.5 752.6h0M257.1 735.9h0M250.8 756.2h0M248.3 751.5h0M258.0 742.8h0M236.4 742.0h0M250.5 755.6h0M241.7 743.2h0M248.1 754.6h0M244.1 750.4h0M247.2 751.9h0M253.6 749.9h0M227.8 731.9h0M263.8 742.5h0M266.6 740.1h0M250.8 756.2h0M246.1 746.3h0M247.3 746.4h0M257.1 751.2h0M253.4 755.1h0M253.5 752.2h0M268.4 730.6h0M280.9 745.5h0M247.8 751.2h0M242.4 748.9h0M260.6 749.2h0M254.7 754.2h0M245.3 747.2h0M264.0 739.5h0M275.6 745.2h0M259.6 749.4h0M272.5 740.1h0M224.5 735.7h0M257.8 752.7h0M255.2 751.2h0M250.1 755.8h0M251.3 755.3h0M250.1 755.8h0M252.8 751.9h0M253.7 754.7h0M246.0 753.0h0M254.7 751.2h0M252.4 754.7h0M232.1 734.0h0M259.3 748.3h0M249.1 754.1h0M252.5 750.8h0M256.1 749.2h0M247.1 754.8h0M255.4 754.0h0M248.1 753.7h0M259.4 740.3h0M233.4 744.8h0M238.4 748.7h0M256.4 741.7h0M257.1 742.0h0M261.6 746.3h0M267.1 742.5h0M258.3 750.5h0M264.2 743.4h0M259.5 744.6h0M249.3 755.7h0M243.8 751.3h0M253.2 753.9h0M243.0 746.6h0M252.8 754.6h0M259.9 748.9h0M256.5 738.0h0M243.3 748.1h0M254.7 752.1h0M244.5 752.9h0M232.2 734.5h0M249.5 755.3h0M258.3 746.6h0M280.4 744.4h0M261.4 735.8h0M250.4 755.9h0M254.3 751.9h0M252.9 755.0h0M249.4 755.0h0M259.1 745.3h0M249.6 755.0h0M243.7 748.4h0M237.0 737.0h0M258.0 751.0h0M264.8 735.4h0M254.6 750.8h0M243.4 751.1h0M259.1 746.5h0M253.9 753.7h0M255.8 754.3h0M247.7 748.6h0M248.6 755.1h0M239.2 726.5h0M269.9 736.5h0M239.2 721.9h0M243.3 751.0h0M247.9 753.3h0M253.7 752.1h0M257.2 752.9h0M258.9 744.4h0M256.6 750.5h0M255.0 749.6h0M271.4 740.3h0M255.6 752.1h0M257.6 746.7h0M268.3 743.8h0M240.3 741.5h0M248.7 754.4h0M255.1 750.3h0M257.8 752.6h0M258.5 752.6h0M247.2 750.5h0M256.8 749.3h0M253.2 755.1h0M235.7 747.6h0M265.7 736.7h0M264.9 744.3h0M244.5 733.4h0M257.5 744.9h0M235.1 750.2h0M244.5 744.9h0M254.4 750.9h0M267.5 729.0h0M240.2 749.4h0M249.0 754.9h0M265.5 746.4h0M258.6 746.6h0M249.6 755.5h0M259.1 749.4h0M244.8 749.5h0M251.0 756.1h0M254.3 751.9h0M251.1 755.7h0M248.7 752.4h0M247.9 749.0h0M247.8 754.7h0M260.3 732.1h0M261.9 737.1h0M239.2 737.6h0M238.6 752.3h0M269.8 742.1h0M251.2 755.6h0M255.5 750.3h0M237.7 741.1h0M259.1 748.3h0M255.9 750.8h0M250.4 755.8h0M252.7 755.0h0M270.7 745.8h0M262.8 748.9h0M237.6 742.8h0M283.3 732.1h0M247.9 754.1h0M263.3 741.9h0M238.8 745.5h0M243.5 748.5h0M242.4 746.8h0M260.6 737.1h0M221.2 735.0h0M248.1 752.2h0M239.1 739.2h0M223.7 735.0h0M261.5 749.2h0M245.2 749.9h0M252.5 754.9h0M246.6 741.4h0M249.4 755.4h0M242.5 745.4h0M245.4 748.5h0M262.5 751.7h0M253.2 754.5h0M264.6 734.8h0M250.5 756.0h0M252.8 754.5h0M249.0 753.5h0M255.5 750.1h0M223.9 729.9h0M260.1 745.3h0M244.7 742.6h0M248.6 755.2h0M240.9 742.1h0M244.5 751.0h0M255.9 752.3h0M246.0 753.5h0M251.1 755.9h0M252.6 754.7h0M249.0 754.3h0M246.4 750.7h0M264.1 742.8h0M255.5 750.5h0M252.3 755.2h0M242.5 751.0h0M255.2 753.5h0M251.4 753.0h0M279.2 727.6h0M251.4 755.4h0M238.6 745.8h0M260.0 752.0h0M242.7 742.3h0M270.8 717.5h0M253.5 749.5h0M244.6 750.1h0M252.3 755.4h0M254.1 753.9h0M258.5 740.1h0M260.2 743.1h0M251.5 755.8h0M250.4 755.9h0M249.6 753.4h0M229.5 734.9h0M255.9 743.9h0M225.8 736.2h0M250.2 755.9h0M245.1 753.4h0M243.9 748.7h0M249.4 755.2h0M248.3 753.2h0M255.2 750.0h0M241.5 735.9h0M257.6 743.8h0M256.0 749.8h0M242.9 751.5h0M258.9 751.4h0M243.6 749.2h0M237.8 740.8h0M245.6 750.7h0M255.5 753.1h0M257.3 746.9h0M252.2 755.6h0M254.4 751.4h0M249.2 750.6h0M279.8 726.2h0M261.7 736.1h0M254.0 743.5h0M262.8 744.8h0M244.9 750.3h0M264.9 736.6h0M246.0 753.7h0M262.1 746.9h0M250.3 755.9h0M245.3 748.7h0M246.2 751.0h0M244.5 738.3h0M231.7 743.3h0M250.6 755.9h0M280.3 740.8h0M242.1 744.6h0M243.6 746.4h0M254.6 751.7h0M246.2 748.1h0M250.6 756.0h0M245.3 748.0h0M246.5 748.5h0M247.4 754.1h0M252.0 750.1h0M241.9 746.9h0M222.8 697.7h0M255.8 742.4h0M251.1 755.9h0M230.8 741.4h0M230.9 748.8h0M236.0 742.6h0M250.6 756.1h0M228.6 742.6h0M270.1 729.9h0M252.8 753.0h0M244.1 751.5h0M263.8 738.0h0M262.1 750.7h0M236.8 742.9h0M270.9 730.4h0M225.0 739.0h0M248.5 749.5h0M244.4 750.9h0M253.9 753.1h0M254.5 754.4h0M220.6 737.8h0M256.7 752.3h0M256.7 740.8h0M244.4 737.4h0M268.6 739.0h0M228.1 742.9h0M270.4 738.1h0M251.5 755.6h0M256.9 748.6h0M246.2 750.4h0M245.7 745.9h0M256.5 751.7h0M241.7 744.1h0M255.4 752.9h0M240.1 751.5h0M255.2 751.3h0M249.6 755.8h0M241.2 745.7h0M259.1 745.6h0M270.0 743.0h0M254.4 747.1h0M254.6 750.3h0M250.5 755.4h0M259.2 740.3h0M265.8 739.8h0M267.4 726.2h0M266.8 727.8h0M242.7 745.1h0M243.8 752.5h0M236.8 739.0h0M251.8 755.2h0M253.7 752.6h0M253.5 746.3h0M263.5 736.6h0M245.0 749.5h0M253.1 753.7h0M243.9 751.8h0M253.8 752.1h0M221.0 731.1h0M246.8 749.3h0M285.2 740.9h0M259.1 751.4h0M257.3 742.8h0M244.1 747.7h0M255.6 754.4h0M252.0 754.7h0M252.1 754.6h0M241.8 741.7h0M227.0 751.4h0M249.9 755.8h0M230.9 740.4h0M231.0 687.3h0M259.3 752.0h0M255.5 747.1h0M262.1 745.9h0M262.6 748.0h0M246.4 752.3h0M270.7 740.8h0M244.4 742.6h0M269.9 729.7h0M234.4 732.0h0M263.7 748.2h0M257.0 754.5h0M227.5 748.7h0M253.3 755.0h0M249.3 753.8h0M276.3 742.8h0M260.6 742.9h0M267.0 746.2h0M254.7 753.4h0M250.4 755.7h0M242.3 748.5h0M252.4 754.8h0M263.8 743.8h0M248.4 752.6h0M246.1 752.8h0M244.8 751.8h0M246.1 754.3h0M255.1 748.2h0M251.6 755.6h0M279.7 736.0h0M235.4 735.0h0M266.7 744.5h0M252.0 755.5h0M267.7 713.7h0M242.5 736.0h0M256.3 753.6h0M256.5 752.9h0M290.4 737.4h0M258.8 744.6h0M241.2 732.0h0M241.9 752.2h0M250.8 756.1h0M254.6 751.2h0M242.8 748.1h0M256.4 748.0h0M251.7 755.1h0M253.7 751.9h0M267.6 750.5h0M260.0 751.8h0M248.9 753.6h0M255.8 752.0h0M255.6 750.0h0M251.3 755.6h0M238.5 742.4h0M251.9 755.7h0M250.5 756.0h0M246.1 738.1h0M257.4 744.7h0M255.6 750.0h0M245.7 747.1h0M259.7 743.7h0M250.1 754.8h0M252.7 755.0h0M259.2 747.8h0M238.1 744.7h0M238.9 748.0h0M263.9 736.9h0M240.2 748.0h0M262.7 732.6h0M232.9 738.4h0M266.0 750.4h0M260.1 752.4h0M248.4 748.6h0M249.2 754.8h0M234.2 749.4h0M250.3 755.8h0M240.2 744.3h0M236.7 710.3h0M248.3 754.5h0M238.1 744.0h0M240.3 745.3h0M252.9 753.1h0M259.8 750.4h0M246.8 752.7h0M280.1 740.7h0M242.6 743.5h0M255.1 753.3h0M265.7 718.2h0M248.0 747.3h0M263.1 744.8h0M249.1 752.2h0M284.6 737.8h0M251.2 755.9h0M253.4 752.5h0M238.6 724.8h0M251.1 755.7h0M256.6 743.0h0M272.9 744.7h0M268.5 742.6h0M261.7 746.6h0M261.8 747.8h0M246.8 749.6h0M256.0 747.2h0M239.6 747.9h0M247.2 750.6h0M248.9 755.3h0M244.3 749.2h0M267.0 734.1h0M248.2 753.0h0M270.9 748.6h0M257.1 743.3h0M253.8 750.6h0M248.2 744.9h0M240.2 750.4h0M251.2 755.7h0M245.8 751.8h0M264.2 729.9h0M259.1 753.2h0M247.8 751.2h0M255.3 751.5h0M237.3 751.2h0M245.8 752.3h0M242.8 749.2h0M266.3 742.1h0M248.0 753.3h0M235.8 739.7h0M211.6 739.3h0M243.0 746.6h0M238.9 751.6h0M266.3 727.8h0M243.0 748.1h0M253.0 754.5h0M249.5 754.7h0M257.8 748.6h0M264.7 747.1h0M258.9 747.6h0M262.0 742.1h0M245.2 752.3h0M218.6 736.0h0M245.8 747.8h0M238.5 741.2h0M240.4 728.2h0M242.0 748.2h0M279.2 747.9h0M258.4 739.4h0M263.2 743.5h0M257.6 742.1h0M242.7 752.4h0M248.3 752.8h0M281.0 714.8h0M295.1 736.0h0M247.7 753.3h0M247.3 753.9h0M249.1 754.5h0M249.8 755.7h0M247.7 754.0h0M247.7 753.3h0M256.0 754.1h0M246.8 754.8h0M224.1 738.5h0M250.3 755.8h0M250.0 755.3h0M249.8 754.9h0M250.8 756.2h0M241.7 744.9h0M251.1 755.9h0M251.4 755.3h0M246.1 754.3h0M260.0 749.9h0M260.0 739.4h0M206.8 744.5h0M226.0 749.0h0M207.2 729.9h0M253.8 755.0h0M246.5 747.5h0M245.4 746.4h0M248.5 754.7h0M250.0 753.5h0M252.1 755.4h0M251.3 755.9h0M229.4 739.3h0M250.0 754.8h0M230.5 729.9h0M250.8 756.2h0M238.3 746.5h0M257.3 747.8h0M255.2 754.9h0M264.2 739.6h0M249.8 755.0h0M242.8 745.2h0M275.4 724.4h0M257.1 751.3h0M262.8 742.7h0M240.4 746.6h0M267.3 737.2h0M263.2 741.5h0M271.9 724.6h0M259.2 749.5h0M258.5 747.1h0M236.8 736.7h0M235.5 741.6h0M270.4 747.7h0M258.4 749.0h0M254.8 735.4h0M255.9 749.3h0M253.8 753.0h0M227.9 732.5h0M260.4 736.3h0M255.1 750.7h0M246.2 746.2h0M251.9 753.8h0M252.9 755.4h0M253.1 754.0h0M246.8 753.7h0M279.5 726.4h0M229.9 750.6h0M261.1 727.2h0M273.5 741.2h0M247.5 754.3h0M271.7 742.8h0M228.5 743.6h0M244.3 753.1h0M254.0 752.9h0M271.5 717.3h0M254.9 753.8h0M253.3 753.9h0M256.4 750.3h0M265.6 747.0h0M249.1 753.3h0M237.1 741.4h0M249.0 755.1h0M255.2 752.6h0M262.8 734.9h0M240.5 751.0h0M261.3 748.3h0M248.4 753.1h0M252.6 753.1h0M236.9 746.0h0M250.4 756.0h0M239.5 744.8h0M253.6 754.6h0M274.2 737.4h0M252.9 754.6h0M273.4 731.1h0M250.8 756.1h0M251.8 755.1h0M252.2 755.5h0M254.0 754.5h0M246.1 749.6h0M252.0 754.2h0M258.2 747.0h0M234.7 746.6h0M254.5 750.0h0M252.3 754.3h0M245.1 752.8h0M228.7 748.2h0M245.3 752.5h0M250.4 754.9h0M256.7 750.3h0M243.6 748.8h0M248.4 753.6h0M246.5 753.9h0M269.3 746.7h0M258.3 744.1h0M250.9 755.9h0M250.3 755.5h0M251.0 756.1h0M263.5 740.1h0M245.0 747.5h0M262.4 749.9h0M251.6 754.8h0M248.3 754.9h0M252.1 755.0h0M242.4 749.1h0M224.0 735.0h0M273.1 721.9h0M250.6 756.0h0M248.3 747.5h0M251.2 755.6h0M266.0 729.0h0M250.7 756.1h0M258.8 749.6h0M223.4 735.2h0M240.1 753.6h0M238.9 733.6h0M235.9 730.9h0M243.8 750.4h0M240.8 748.0h0M275.9 719.8h0M254.3 754.8h0M260.0 736.8h0M244.9 738.1h0M237.8 750.4h0M264.0 750.5h0M241.6 750.0h0M271.9 737.9h0M217.3 701.2h0M247.7 752.9h0M247.2 753.1h0M225.3 740.6h0M223.7 726.1h0M247.5 744.8h0M244.5 746.5h0M255.3 750.0h0M252.1 755.5h0M242.5 749.2h0M242.0 737.8h0M241.2 742.8h0M257.3 748.7h0M270.1 739.4h0M236.7 720.9h0M262.4 725.7h0M243.9 752.1h0M241.7 752.4h0M240.0 752.5h0M256.8 749.0h0M249.9 754.8h0M264.5 752.1h0M249.3 754.0h0M242.8 748.3h0M267.6 740.8h0M260.6 746.5h0M252.6 755.0h0M257.6 745.4h0M240.7 752.0h0M254.3 751.2h0M263.6 742.9h0M249.0 755.1h0M253.9 750.0h0M236.5 740.6h0M242.2 729.6h0M244.2 752.1h0M249.3 746.6h0M250.0 755.3h0M247.1 753.1h0M267.3 744.5h0M265.7 734.8h0M242.2 746.8h0M234.1 737.6h0M241.2 743.9h0M252.4 754.5h0M251.9 752.6h0M248.1 754.3h0M256.2 753.1h0M242.0 744.8h0M262.9 748.3h0M247.3 748.6h0M255.4 747.3h0M241.0 740.8h0M261.9 752.0h0M253.7 754.1h0M251.1 756.0h0M258.5 752.1h0M251.6 755.4h0M234.0 750.7h0M251.4 755.3h0M265.7 709.3h0M259.6 750.5h0M276.5 726.4h0M250.5 755.7h0M256.1 741.0h0M268.8 730.9h0M241.2 744.1h0M256.6 747.7h0M252.5 754.0h0M245.6 748.8h0M263.5 733.9h0M252.7 753.4h0M238.3 748.3h0M257.7 736.3h0M243.6 753.9h0M255.5 746.8h0M242.1 747.2h0M230.1 715.3h0M242.5 741.2h0M253.8 750.6h0M271.7 732.5h0M249.2 749.3h0M259.6 739.6h0M252.9 755.3h0M242.2 748.1h0M247.1 751.9h0M255.8 728.1h0M284.0 723.7h0M261.0 751.6h0M221.9 732.0h0M255.9 747.1h0M236.7 733.5h0M237.0 739.8h0M267.4 735.1h0M248.1 751.8h0M250.2 755.8h0M240.6 746.8h0M229.6 715.0h0M263.0 740.4h0M249.6 754.4h0M269.9 741.5h0M232.3 746.1h0M265.5 731.2h0M253.0 753.8h0M246.3 749.2h0M249.6 750.6h0M247.5 744.2h0M259.0 739.2h0M257.0 752.7h0M239.5 737.7h0M238.9 746.9h0M260.0 745.9h0M250.3 755.8h0M257.1 744.3h0M260.6 749.1h0M207.3 733.0h0M257.5 750.0h0M254.4 753.7h0M229.3 734.9h0M262.4 742.5h0M248.5 754.3h0M220.5 730.3h0M270.7 736.1h0M242.9 746.9h0M243.9 751.6h0M251.7 755.0h0M253.5 749.6h0M247.7 750.5h0M249.9 755.7h0M267.5 738.8h0M257.8 746.3h0M254.1 747.9h0M234.2 748.2h0M262.0 747.4h0M244.3 749.4h0M217.5 738.9h0M261.7 745.8h0M269.7 734.8h0M261.6 752.0h0M271.6 748.6h0M248.9 753.0h0M252.9 754.8h0M260.2 718.2h0M245.6 742.2h0M253.2 754.7h0M255.8 754.5h0M260.1 748.9h0M241.4 739.4h0M259.0 744.8h0M262.0 741.0h0M256.6 748.5h0M259.7 747.3h0M252.7 754.7h0M260.9 741.0h0M255.8 751.6h0M236.7 746.0h0M250.4 755.7h0M227.4 743.5h0M244.7 744.5h0M241.4 743.3h0M254.3 751.3h0M250.6 756.0h0M249.6 754.3h0M221.9 724.5h0M253.1 754.4h0M253.3 754.1h0M233.1 739.4h0M257.1 749.9h0M220.5 738.3h0M240.2 738.2h0M239.3 743.3h0M255.5 748.2h0M225.8 745.7h0M256.0 753.2h0M246.0 754.2h0M250.3 755.6h0M235.7 746.1h0M250.5 756.0h0M250.7 756.1h0M262.6 747.8h0M247.4 752.8h0M247.9 746.3h0M253.8 749.4h0M246.6 748.8h0M264.8 745.0h0M232.5 746.7h0M263.7 743.9h0M249.2 754.1h0M247.2 749.5h0M252.0 755.6h0M245.8 750.5h0M269.2 748.4h0M262.4 721.5h0M249.4 754.8h0M246.0 750.4h0M228.5 736.8h0M247.1 753.1h0M261.5 752.7h0M257.8 751.2h0M252.4 755.3h0M251.9 752.4h0M257.0 749.1h0M243.7 750.7h0M244.1 744.3h0M249.3 755.2h0M248.3 752.7h0M242.0 749.3h0M244.6 750.0h0M251.0 755.5h0M259.7 747.6h0M234.6 748.5h0M254.6 754.0h0M259.9 747.4h0M228.6 740.2h0M246.3 754.6h0M245.6 749.0h0M240.1 742.7h0M259.0 752.3h0M256.1 747.5h0M251.7 755.6h0M248.9 755.4h0M255.4 751.5h0M246.1 741.4h0M265.8 743.9h0M250.8 756.2h0M248.6 753.6h0M272.9 736.5h0M277.4 745.7h0M252.8 755.1h0M252.3 752.7h0M244.6 742.9h0M232.7 734.5h0M267.6 750.3h0M257.0 751.7h0M251.5 755.7h0M240.1 749.2h0M252.8 754.9h0M232.6 743.1h0M249.1 755.0h0M258.8 751.1h0M256.2 751.9h0M269.3 738.9h0M257.5 751.1h0M249.4 754.4h0M267.8 744.2h0M250.5 755.8h0M251.2 755.8h0M247.3 752.2h0M252.0 755.2h0M234.7 746.9h0M255.7 748.0h0M248.0 754.5h0M256.7 744.1h0M257.4 742.9h0M248.9 754.9h0M258.7 747.6h0M232.1 731.3h0M235.2 721.9h0M263.0 746.1h0M225.3 739.0h0M230.8 725.7h0M257.6 744.3h0M232.6 750.9h0M247.0 745.2h0M250.4 756.1h0M240.5 723.1h0M262.9 747.8h0M249.1 754.4h0M246.9 753.0h0M246.2 750.4h0M260.2 741.3h0M264.3 744.6h0M260.5 745.6h0M245.1 750.2h0M243.7 751.0h0M248.7 753.4h0M250.8 756.2h0M251.0 756.1h0M275.7 696.4h0M248.2 753.7h0M243.8 748.9h0M251.6 754.6h0M207.2 729.5h0M253.7 752.4h0M254.6 751.2h0M239.3 743.1h0M245.8 751.1h0M268.5 739.6h0M253.4 754.2h0M253.4 753.3h0M238.1 740.1h0M237.9 717.4h0M253.0 754.8h0M255.6 754.1h0M229.7 739.1h0M248.6 750.5h0M253.9 753.0h0M249.1 754.7h0M253.5 754.1h0M254.5 753.5h0M250.0 755.4h0M245.5 742.9h0M254.6 752.3h0M240.8 737.8h0M235.6 747.1h0M246.8 745.1h0M237.3 714.7h0M265.2 732.8h0M244.9 747.3h0M252.3 755.6h0M264.4 739.1h0M250.4 755.6h0M253.5 754.6h0M245.6 745.7h0M247.8 755.3h0M260.6 743.8h0M250.5 755.7h0M256.4 738.5h0M251.4 755.4h0M251.6 755.2h0M250.8 756.2h0M252.9 754.1h0M246.0 751.3h0M263.5 747.1h0M245.7 744.6h0M252.8 753.7h0M258.4 735.5h0M252.4 755.0h0M237.8 748.3h0M256.0 752.5h0M227.9 744.0h0M264.3 750.4h0M263.7 744.0h0M249.0 754.5h0M244.8 753.0h0M277.2 738.8h0M252.9 754.7h0M243.9 746.1h0M226.5 744.4h0M254.1 753.6h0M246.4 749.3h0M266.1 723.0h0M269.0 738.5h0M283.8 744.7h0M241.1 752.1h0M261.4 737.3h0M226.6 744.7h0M256.8 753.5h0M266.9 745.4h0M232.0 750.1h0M264.4 740.6h0M256.0 750.8h0M233.4 732.6h0M257.9 746.4h0M238.7 735.9h0M251.7 755.3h0M255.7 753.1h0M235.9 744.3h0M245.0 748.4h0M254.7 751.9h0M245.9 754.3h0M272.5 742.9h0M246.2 747.8h0M234.9 739.0h0M255.2 747.7h0M256.0 748.7h0M257.6 743.7h0M256.6 748.5h0M223.2 736.9h0M239.3 731.9h0M256.3 745.7h0M260.1 746.8h0M275.8 744.0h0M244.3 752.5h0M253.8 753.1h0M270.2 743.2h0M247.4 753.9h0M268.3 732.6h0M276.5 725.1h0M257.4 746.3h0M260.5 747.9h0M253.5 752.9h0M248.2 754.1h0M243.0 738.6h0M256.0 750.5h0M254.2 753.8h0M233.8 739.8h0M252.8 755.3h0M247.1 751.3h0M255.0 754.2h0M260.1 722.6h0M259.2 731.4h0M234.1 745.4h0M278.6 740.2h0M264.0 749.2h0M254.1 754.0h0M253.3 753.4h0M249.3 755.7h0M234.8 737.5h0M252.0 753.6h0M246.1 751.3h0M249.6 754.6h0M250.1 754.9h0M240.9 741.6h0M226.0 730.0h0M255.0 753.5h0M253.3 754.7h0M247.1 754.3h0M253.3 752.3h0M248.5 753.4h0M240.5 746.6h0M223.0 736.6h0M251.0 756.1h0M282.5 742.6h0M256.1 753.2h0M235.3 739.5h0M243.6 746.4h0M250.2 755.5h0M252.1 754.7h0M246.8 752.3h0M257.6 751.4h0M249.4 753.8h0M253.8 755.8h0M239.0 747.2h0M280.1 735.0h0M249.4 755.5h0M230.3 729.3h0M246.8 753.9h0M256.4 752.4h0M276.9 722.6h0M239.8 750.2h0M261.0 749.4h0M266.9 737.4h0M235.6 732.4h0M253.4 752.3h0M252.0 754.6h0M252.8 752.3h0M242.6 746.9h0M249.0 754.2h0M255.8 753.8h0M252.7 754.5h0M259.8 751.4h0M231.5 749.3h0M253.6 754.8h0M255.7 749.9h0M268.3 744.7h0M239.0 747.3h0M255.9 752.3h0M255.2 754.8h0M269.7 734.5h0M246.2 752.5h0M261.1 747.6h0M231.5 734.0h0M259.9 744.3h0M257.3 746.5h0M241.8 748.4h0M215.5 723.7h0M245.6 736.4h0M247.4 754.2h0M250.2 755.9h0M245.2 751.7h0M259.8 744.6h0M229.5 740.4h0M281.4 724.6h0M236.0 746.4h0M255.0 754.0h0M260.0 744.8h0M240.7 751.7h0M246.7 753.1h0M268.5 734.0h0M256.0 750.2h0M252.4 755.2h0M254.7 749.6h0M255.4 748.3h0M252.7 754.7h0M244.0 747.7h0M251.1 755.8h0M254.2 753.3h0M258.3 747.7h0M252.7 754.8h0M251.0 756.0h0M240.7 749.7h0M253.2 752.3h0M251.8 755.6h0M235.3 741.0h0M251.1 755.9h0M238.1 742.0h0M225.0 729.5h0M229.5 745.0h0M242.8 745.1h0M249.4 753.8h0M249.7 753.6h0M247.8 754.0h0M235.9 738.5h0M245.7 740.6h0M257.5 753.1h0M257.9 732.0h0M267.8 743.2h0M275.6 739.7h0M251.3 755.3h0M264.7 727.1h0M251.3 755.9h0M231.4 724.7h0M241.7 747.9h0M268.2 748.2h0M247.1 753.0h0M241.1 751.6h0M255.5 754.1h0M254.5 752.5h0M207.6 735.6h0M263.3 748.2h0M264.8 736.8h0M259.8 750.6h0M254.6 750.2h0M253.7 751.1h0M221.1 747.1h0M224.6 744.4h0M259.2 748.5h0M252.6 753.0h0M246.7 750.6h0M250.0 755.8h0M251.5 755.8h0M271.8 735.0h0M247.9 754.1h0M259.0 748.5h0M221.8 723.9h0M255.6 751.9h0M226.1 750.9h0M240.4 743.2h0M232.9 732.2h0M250.5 755.8h0M249.7 754.2h0M260.4 740.4h0M259.0 749.1h0M227.0 750.2h0M227.0 746.8h0M221.6 736.2h0M249.4 754.9h0M232.9 728.3h0M247.8 754.0h0M265.6 750.2h0M251.3 754.9h0M249.6 755.7h0M241.0 739.7h0M242.8 746.4h0M248.1 753.7h0M230.3 745.7h0M237.1 744.1h0M264.1 744.1h0M241.7 742.7h0M251.4 755.8h0M254.2 752.0h0M258.7 749.0h0M254.8 748.0h0M233.9 748.0h0M259.1 753.9h0M245.3 744.5h0M246.4 750.1h0M253.9 753.3h0M248.0 753.7h0M238.0 725.8h0M242.0 741.9h0M251.2 755.9h0M245.2 745.8h0M232.5 744.2h0M251.6 755.6h0M231.8 741.3h0M248.0 755.2h0M224.9 738.7h0M249.5 755.7h0M240.7 750.2h0M251.9 755.7h0M260.5 712.7h0M254.5 751.5h0M246.7 752.3h0M259.1 745.7h0M268.0 745.6h0M254.5 747.2h0M261.9 717.6h0M266.3 742.4h0M252.6 754.8h0M265.6 725.4h0M260.9 743.0h0M250.0 755.2h0M250.1 755.6h0M256.3 749.5h0M226.3 735.0h0M239.9 740.3h0M226.9 741.3h0M253.3 754.7h0M230.6 727.7h0M247.6 755.2h0M267.9 743.6h0M244.8 745.5h0M250.4 755.8h0M248.6 755.2h0M265.0 749.9h0M258.1 749.0h0M261.6 740.1h0M260.9 739.3h0M210.8 737.3h0M270.3 728.8h0M264.7 749.0h0M253.6 754.4h0M248.5 754.8h0M239.7 741.8h0M251.2 756.1h0M274.9 748.0h0M235.9 743.9h0M251.5 755.6h0M248.1 753.9h0M249.6 752.8h0M246.6 752.0h0M236.8 735.8h0M261.1 736.2h0M247.6 751.5h0M249.9 755.1h0M267.5 724.8h0M259.4 738.4h0M254.9 751.6h0M251.8 756.0h0M220.1 703.2h0M249.1 754.6h0M254.0 753.8h0M245.4 746.3h0M247.0 754.2h0M258.6 749.0h0M253.0 754.6h0M251.0 755.9h0M258.6 730.0h0M263.1 731.8h0M250.0 755.4h0M256.5 754.0h0M248.0 754.2h0M244.2 749.1h0M238.3 731.4h0M243.3 748.5h0M214.9 742.6h0M250.1 755.5h0M258.4 734.2h0M256.4 753.1h0M268.1 751.0h0M253.9 753.3h0M255.3 751.1h0M253.8 750.7h0M247.3 752.8h0M250.2 755.6h0M253.5 749.6h0M269.1 729.1h0M261.7 744.9h0M249.9 755.5h0M248.5 752.4h0M231.9 716.4h0M244.6 749.4h0M265.0 743.5h0M262.4 741.0h0M268.7 747.4h0M252.3 754.9h0M294.5 734.2h0M216.1 732.9h0M256.6 729.3h0M273.9 738.0h0M247.1 754.1h0M251.0 756.1h0M273.6 746.3h0M246.2 749.0h0M269.1 745.7h0M256.1 752.5h0M246.4 747.8h0M224.6 730.7h0M260.2 749.7h0M265.3 746.2h0M262.1 753.0h0M239.2 733.3h0M251.3 754.8h0M221.6 734.0h0M242.8 749.6h0M253.5 753.7h0M238.1 742.9h0M249.6 755.6h0M254.1 747.2h0M242.2 753.3h0M209.8 735.9h0M264.0 738.7h0M264.2 750.5h0M243.8 753.1h0M267.8 744.4h0M259.1 752.1h0M259.6 751.4h0M227.6 736.5h0M237.2 746.6h0M251.9 755.2h0M234.8 740.7h0M253.3 753.5h0M251.6 755.4h0M254.3 753.8h0M252.8 754.1h0M232.4 741.5h0M234.7 745.7h0M260.0 749.3h0M233.1 743.0h0M243.3 742.9h0M253.8 754.5h0M254.1 747.7h0M240.9 751.8h0M254.1 753.5h0M248.5 752.8h0M246.5 753.7h0M252.7 754.8h0M260.1 753.3h0M245.2 752.3h0M253.6 755.2h0M265.8 738.6h0M230.6 746.7h0M263.3 739.3h0M264.7 733.7h0M271.1 725.4h0M238.6 728.1h0M260.9 724.6h0M248.0 752.7h0M245.3 749.2h0M253.0 754.6h0M247.1 751.7h0M274.3 744.6h0M275.7 739.9h0M260.1 745.8h0M229.6 748.1h0M245.4 737.9h0M245.0 746.1h0M258.1 746.7h0M248.5 753.4h0M242.5 735.3h0M243.8 749.0h0M253.8 754.8h0M253.9 748.0h0M248.8 753.0h0M246.0 748.0h0M241.8 742.5h0M249.1 754.1h0M263.1 748.3h0M261.9 740.7h0M250.1 755.2h0M276.7 734.6h0M256.3 752.9h0M257.4 749.5h0M255.2 752.7h0M250.1 755.5h0M243.7 744.0h0M245.3 747.6h0M246.7 750.9h0M252.4 753.1h0M271.4 734.7h0M246.7 738.5h0M245.4 747.2h0M241.6 747.5h0M256.2 748.2h0M235.2 734.7h0M248.1 755.1h0M249.9 755.9h0M253.3 753.7h0M254.0 755.0h0M238.3 739.0h0M238.2 744.2h0M236.8 739.0h0M244.5 745.7h0M242.4 743.2h0M268.1 747.6h0M241.6 744.7h0M246.5 754.4h0M266.2 744.3h0M254.9 751.8h0M245.2 752.5h0M244.9 750.4h0M250.2 752.9h0M279.0 744.2h0M255.8 755.4h0M240.3 750.4h0M244.7 747.1h0M262.0 747.7h0M253.6 748.7h0M265.4 747.5h0M252.0 754.3h0M233.9 739.9h0M263.7 720.2h0M247.3 751.9h0M248.6 750.4h0M260.3 752.4h0M251.2 755.7h0M258.9 750.1h0M253.3 752.5h0M247.2 751.7h0M245.5 748.1h0M226.3 731.7h0M283.8 706.1h0M249.1 753.9h0M267.2 734.8h0M253.7 750.4h0M271.1 726.1h0M270.2 725.5h0M253.2 752.7h0M247.4 750.6h0M248.7 752.7h0M237.9 751.3h0M251.2 755.9h0M241.4 748.7h0M252.5 755.3h0M251.0 755.7h0M251.9 755.6h0M251.1 756.0h0M259.6 743.9h0M244.2 753.7h0M233.1 744.0h0M233.7 747.8h0M261.4 745.4h0M251.3 755.7h0M240.9 751.1h0M265.2 743.2h0M241.5 748.4h0M248.8 754.2h0M257.8 749.8h0M250.6 755.8h0M269.0 736.1h0M246.6 746.9h0M250.4 756.0h0M250.3 756.0h0M250.5 755.9h0M266.3 748.6h0M252.7 754.9h0M263.0 749.9h0M259.9 748.6h0M238.5 743.6h0M272.0 741.6h0M249.7 755.8h0M253.2 752.3h0M236.5 729.7h0M242.2 748.6h0M245.6 751.9h0M265.2 746.9h0M267.5 742.1h0M269.7 717.2h0M254.0 748.4h0M243.8 752.8h0M237.5 742.4h0M253.4 753.5h0M240.5 728.1h0M243.6 747.6h0M249.9 755.0h0M256.4 743.6h0M251.8 755.8h0M250.5 755.9h0M243.1 748.3h0M254.1 752.2h0M246.8 750.2h0M242.7 745.4h0M235.5 741.1h0M263.4 748.9h0M259.7 747.2h0M243.7 752.9h0M244.7 750.5h0M247.6 752.9h0M256.6 751.3h0M262.6 753.2h0M247.0 754.4h0M254.2 755.1h0M248.3 753.9h0M246.7 752.8h0M271.2 731.8h0M242.7 748.7h0M250.4 755.4h0M246.2 748.5h0M254.8 753.1h0M266.3 742.9h0M246.7 749.9h0M244.3 745.3h0M244.6 747.5h0M234.9 744.4h0M225.5 736.0h0M241.1 742.1h0M255.8 751.8h0M245.3 749.8h0M245.6 747.5h0M246.3 749.5h0M260.2 747.1h0M236.4 726.5h0M257.7 747.9h0M252.9 753.1h0M243.7 741.0h0M229.2 730.1h0M228.3 709.0h0M252.9 753.1h0M245.1 749.0h0M238.0 746.2h0M248.4 752.3h0M251.9 755.3h0M261.5 743.0h0M248.5 754.8h0M241.4 748.0h0M259.0 754.0h0M256.5 753.0h0M237.9 750.7h0M222.0 732.5h0M265.9 743.9h0M259.9 750.9h0M251.0 755.8h0M263.4 737.5h0M259.1 750.3h0M260.8 751.7h0M246.7 747.5h0M254.7 742.8h0M238.7 740.4h0M244.7 752.0h0M261.7 741.3h0M245.7 737.2h0M248.0 753.8h0M243.5 752.7h0M273.3 733.8h0M243.6 737.9h0M249.1 754.1h0M252.0 754.4h0M258.1 744.0h0M259.2 750.1h0M252.7 754.9h0M249.7 753.9h0M255.8 741.1h0M245.5 746.0h0M267.9 723.7h0M259.9 734.9h0M278.5 714.0h0M245.5 750.6h0M244.9 750.5h0M255.4 749.8h0M257.5 747.5h0M263.1 747.0h0M274.6 745.1h0M258.7 740.8h0M254.1 742.0h0M229.4 743.8h0M212.4 728.9h0M243.0 752.1h0M248.9 754.4h0M256.0 749.4h0M249.9 755.5h0M246.6 752.6h0M254.1 751.0h0M231.4 742.0h0M271.4 741.9h0M266.6 738.6h0M255.1 740.1h0M252.6 754.0h0M265.8 717.4h0M255.9 750.2h0M249.2 753.3h0M248.8 755.0h0M260.7 738.1h0M251.0 755.8h0M247.1 752.6h0M253.7 754.6h0M256.5 750.3h0M255.6 751.7h0M254.9 754.5h0M244.4 750.4h0M270.9 746.3h0M254.5 753.9h0M251.1 755.8h0M236.5 742.4h0M249.9 755.0h0M260.2 753.3h0M256.6 741.7h0M261.9 749.6h0M249.7 755.0h0M286.3 744.1h0M248.8 752.0h0M246.4 749.3h0M270.4 740.6h0M253.4 751.1h0M254.4 754.3h0M274.8 743.3h0M251.5 755.3h0M236.3 741.9h0M259.8 745.4h0M250.9 756.2h0M275.3 750.5h0M235.6 746.8h0M241.7 752.0h0M246.7 752.2h0M253.7 751.0h0M255.1 747.9h0M259.1 741.5h0M264.9 743.0h0M253.9 751.1h0M254.8 754.0h0M244.9 750.4h0M251.7 751.7h0M245.3 744.4h0M217.2 709.9h0M255.4 749.7h0M248.4 754.2h0M251.9 754.9h0M248.2 750.7h0M236.0 746.2h0M247.1 752.7h0M240.3 727.1h0M245.7 748.1h0M250.4 755.6h0M258.3 750.3h0M236.0 742.4h0M258.2 753.2h0M230.8 740.6h0M266.0 743.6h0M252.0 754.9h0M257.4 749.8h0M253.7 754.0h0M243.2 742.1h0M276.7 714.0h0M254.0 751.3h0M236.9 749.8h0M252.3 753.0h0M241.9 747.0h0M267.3 749.2h0M236.5 739.1h0M274.0 743.2h0M277.4 734.5h0M244.8 745.1h0M258.2 752.2h0M245.8 751.6h0M255.4 754.1h0M231.6 742.9h0M255.3 752.4h0M220.4 733.5h0M244.6 749.7h0M249.3 755.0h0M261.2 748.1h0M249.9 755.6h0M274.5 738.6h0M242.1 747.9h0M276.0 746.3h0M236.7 752.5h0M249.3 754.8h0M236.1 737.4h0M226.0 736.9h0M250.7 755.8h0M252.3 754.0h0M243.2 739.3h0M246.4 741.0h0M270.0 723.1h0M241.0 749.8h0M256.2 754.1h0M244.1 731.7h0M248.1 750.6h0M244.2 750.2h0M243.4 745.9h0M260.0 748.0h0M258.2 741.1h0M248.9 753.7h0M266.7 750.3h0M230.0 728.0h0M246.9 753.0h0M261.2 743.4h0M264.9 730.6h0M252.6 754.8h0M251.7 755.4h0M256.3 754.1h0M246.1 748.2h0M261.9 750.9h0M250.0 755.2h0M257.3 750.6h0M251.4 755.4h0M246.8 748.2h0M263.5 739.2h0M267.6 733.3h0M267.8 740.2h0M233.3 730.6h0M249.4 752.3h0M246.5 754.9h0M255.8 750.2h0M247.5 752.8h0M255.6 752.5h0M244.6 747.7h0M228.7 746.9h0M249.6 754.7h0M253.7 753.6h0M283.5 740.0h0M252.1 755.2h0M248.6 755.2h0M238.1 743.6h0M249.7 755.5h0M252.0 754.1h0M263.1 753.1h0M259.6 740.4h0M253.3 754.6h0M273.1 746.2h0M224.3 747.8h0M250.1 755.5h0M236.8 742.2h0M233.4 738.4h0M248.9 754.1h0M254.8 753.3h0M253.2 753.1h0M249.7 755.5h0M245.3 751.4h0M290.2 738.8h0M267.0 739.7h0M247.4 751.3h0M254.8 752.0h0M242.7 746.2h0M245.6 743.4h0M259.4 751.6h0M260.0 729.1h0M247.1 751.9h0M251.2 755.8h0M250.5 755.9h0M265.6 746.2h0M249.6 754.8h0M247.7 752.2h0M247.6 753.4h0M237.2 746.1h0M260.5 748.6h0M247.9 753.3h0M245.3 752.8h0M252.6 754.4h0M252.7 749.1h0M257.9 750.5h0M248.7 752.4h0M258.3 750.9h0M247.3 752.0h0M257.4 753.9h0M222.9 739.4h0M243.4 750.9h0M261.0 740.7h0M245.2 745.9h0M249.1 754.1h0M255.4 752.3h0M260.6 751.8h0M280.4 744.0h0M248.7 755.0h0M244.1 753.6h0M251.4 755.9h0M256.0 749.6h0M255.6 753.5h0M253.1 755.2h0M251.4 755.5h0M222.6 745.6h0M250.8 756.2h0M259.0 739.5h0M240.1 746.1h0M241.2 745.9h0M263.7 746.0h0M272.4 744.2h0M263.2 742.2h0M233.2 740.7h0M231.2 746.7h0M238.9 735.6h0M236.6 723.7h0M246.3 747.4h0M248.7 752.7h0M245.8 753.5h0M265.7 743.4h0M262.1 737.0h0M250.3 755.8h0M268.2 739.2h0M255.9 746.1h0M251.6 755.4h0M235.4 712.8h0M266.1 748.3h0M245.4 746.3h0M250.6 755.9h0M246.4 755.1h0M253.9 748.6h0M240.5 735.0h0M250.7 756.2h0M259.1 749.0h0M264.2 742.7h0M229.3 744.5h0M246.5 743.4h0M248.1 754.5h0M247.8 754.7h0M244.9 743.3h0M258.5 747.4h0M227.1 745.0h0M249.9 755.7h0M244.2 742.2h0M239.9 752.2h0M255.4 752.0h0M259.7 749.2h0M248.2 752.8h0M255.0 753.1h0M238.7 732.6h0M265.2 747.2h0M248.7 755.2h0M249.2 752.6h0M260.5 753.5h0M231.0 734.1h0M258.1 745.3h0M249.1 755.1h0M265.7 749.0h0M248.4 754.8h0M264.6 744.5h0M234.9 740.9h0M248.1 753.8h0M267.7 740.7h0M246.4 752.2h0M258.3 751.8h0M254.0 751.9h0M254.9 753.1h0M241.7 726.6h0M242.9 732.9h0M268.8 745.0h0M258.5 737.2h0M246.2 747.7h0M206.4 740.4h0M263.6 747.5h0M263.6 749.6h0M269.5 735.8h0M251.8 755.4h0M246.3 753.2h0M262.7 741.7h0M266.4 750.2h0M245.9 751.6h0M247.7 752.9h0M250.1 755.5h0M261.0 743.8h0M248.8 752.5h0M244.1 752.5h0M255.5 750.8h0M241.0 745.6h0M258.2 749.9h0M254.7 746.2h0M253.7 749.1h0M252.0 754.2h0M261.5 744.5h0M246.5 752.4h0M252.4 754.3h0M259.1 746.6h0M267.5 741.0h0M253.7 754.6h0M257.3 749.9h0M229.4 739.8h0M246.2 753.1h0M261.1 747.7h0M250.4 755.4h0M219.1 732.2h0M251.1 756.0h0M258.0 746.3h0M251.5 755.9h0M284.8 737.0h0M261.0 747.1h0M280.8 731.7h0M262.5 749.1h0M259.3 748.5h0M249.4 755.8h0M241.3 745.9h0M234.8 752.9h0M246.4 751.0h0M258.6 752.8h0M251.4 754.8h0M250.2 756.0h0M284.1 701.5h0M249.1 754.7h0M229.1 734.9h0M249.0 754.6h0M245.5 753.3h0M236.3 741.1h0M251.3 755.5h0M226.1 745.9h0M256.3 741.6h0M261.9 747.4h0M253.6 753.7h0M251.2 755.9h0M240.4 752.9h0M251.2 755.8h0M267.7 732.0h0M255.1 752.2h0M254.0 750.5h0M261.6 749.1h0M248.2 750.6h0M255.2 732.4h0M268.0 733.1h0M283.9 743.9h0M249.5 754.8h0M218.9 728.0h0M285.9 736.2h0M246.6 754.1h0M230.2 735.5h0M248.2 752.5h0M263.1 732.4h0M217.8 716.7h0M261.8 751.0h0M244.3 749.4h0M260.2 753.8h0M231.2 735.4h0M258.2 745.9h0M246.0 752.4h0M236.6 735.5h0M252.4 750.6h0M243.3 735.8h0M263.3 745.4h0M261.0 742.8h0M216.4 695.2h0M223.1 744.2h0M244.4 754.0h0M246.2 752.2h0M254.8 749.8h0M286.8 739.6h0M255.1 751.0h0M262.6 750.2h0M261.9 723.8h0M245.1 747.8h0M253.9 753.9h0M240.6 740.5h0M251.0 755.9h0M255.3 742.4h0M254.6 754.1h0M240.6 747.2h0M258.2 746.0h0M264.1 734.0h0M264.5 748.8h0M242.3 746.4h0M241.5 745.9h0M247.9 753.3h0M260.1 742.2h0M246.0 748.8h0M256.8 753.7h0M242.3 750.3h0M268.3 739.2h0M255.9 751.9h0M264.2 749.9h0M225.9 742.4h0M246.3 743.5h0M241.9 749.7h0M257.4 729.5h0M239.5 751.4h0M245.8 749.5h0M258.6 751.6h0M267.3 738.2h0M242.7 742.2h0M250.6 756.0h0M255.8 752.1h0M258.3 734.1h0M252.3 752.9h0M262.1 747.0h0M241.1 747.8h0M237.7 739.3h0M248.8 754.5h0M259.4 720.3h0M255.2 750.6h0M250.7 756.2h0M241.4 743.6h0M245.8 749.1h0M259.0 747.5h0M269.2 735.9h0M254.3 753.9h0M250.5 755.1h0M232.5 737.2h0M243.7 749.3h0M250.7 756.1h0M250.5 755.9h0M255.2 753.2h0M257.8 745.8h0M255.2 752.6h0M243.3 754.4h0M257.7 751.4h0M249.4 755.2h0M270.7 742.3h0M232.4 751.4h0M240.7 748.7h0M229.0 717.4h0M230.6 731.3h0M241.8 744.9h0M247.3 744.6h0M249.9 755.4h0M253.2 749.6h0M240.7 743.2h0M234.0 749.4h0M269.6 735.7h0M249.9 755.5h0M243.3 752.4h0M249.4 755.1h0M257.5 748.1h0M268.8 737.6h0M232.2 738.4h0M247.3 753.9h0M260.1 745.1h0M229.4 734.8h0M247.0 755.2h0M249.4 753.4h0M235.3 743.3h0M238.9 730.9h0M244.4 751.3h0M258.1 753.6h0M243.5 750.4h0M225.8 739.0h0M257.1 751.5h0M242.6 742.2h0M288.3 729.3h0M275.5 729.2h0M248.4 754.8h0M240.4 741.7h0M241.0 750.9h0M253.7 752.7h0M240.6 748.8h0M249.1 755.0h0M249.3 755.2h0M230.2 715.3h0M260.1 741.6h0M252.5 754.6h0M236.0 745.1h0M247.9 754.0h0M258.9 750.1h0M248.6 754.5h0M253.3 755.1h0M256.8 740.6h0M242.9 750.6h0M241.0 745.8h0M233.9 737.1h0M259.8 751.7h0M254.0 751.3h0M248.3 751.2h0M255.1 749.1h0M229.8 739.4h0M256.9 751.3h0M272.5 714.7h0M256.9 739.3h0M242.5 753.1h0M257.8 741.5h0M250.7 756.0h0M250.7 756.1h0M240.7 740.1h0M267.8 742.3h0M254.1 749.6h0M243.2 749.4h0M255.3 750.7h0M245.3 753.8h0M253.0 747.7h0M225.0 727.2h0M250.7 756.1h0M253.5 753.5h0M255.0 749.8h0M251.6 753.0h0M249.9 755.2h0M271.6 738.9h0M250.2 755.4h0M251.0 755.9h0M241.5 741.6h0M257.7 753.0h0M264.9 739.6h0M252.5 752.6h0M241.4 752.9h0M245.5 747.7h0M273.0 744.0h0M262.6 746.0h0M247.9 752.6h0M234.8 745.6h0M250.4 755.9h0M252.1 754.5h0M247.4 749.6h0M246.2 740.3h0M253.1 753.1h0M237.2 740.5h0M271.5 719.9h0M255.1 752.6h0M249.1 751.2h0M221.9 737.2h0M245.9 748.2h0M256.5 750.5h0M253.5 749.5h0M248.5 745.8h0M235.1 741.9h0M247.1 750.7h0M224.3 744.2h0M285.5 727.1h0M243.6 747.1h0M239.8 744.2h0M241.3 743.1h0M243.2 733.4h0M238.2 748.7h0M256.5 744.4h0M247.1 752.7h0M250.5 755.8h0M246.6 751.6h0M257.7 748.7h0M262.6 740.6h0M231.4 743.6h0M242.6 739.2h0M255.4 749.4h0M246.0 750.8h0M226.1 719.5h0M247.7 754.0h0M245.4 752.9h0M269.0 744.7h0M255.3 751.3h0M245.9 748.0h0M249.3 753.8h0M244.7 742.4h0M236.8 735.6h0M236.6 744.9h0M247.4 752.8h0M260.5 751.0h0M244.8 749.5h0M247.3 754.4h0M251.2 755.7h0M249.3 755.3h0M265.8 737.9h0M256.2 749.1h0M291.1 733.5h0M253.3 751.8h0M276.8 717.2h0M270.7 745.6h0M260.6 751.5h0M263.4 721.2h0M253.7 748.9h0M252.9 755.1h0M249.3 755.5h0M253.8 754.6h0M257.2 745.9h0M255.2 750.6h0M251.8 754.7h0M266.3 743.3h0M247.4 750.2h0M239.5 743.4h0M284.5 717.6h0M259.5 750.6h0M254.2 751.3h0M277.6 727.4h0M261.0 741.9h0M247.9 753.2h0M252.6 754.3h0M248.9 752.3h0M206.5 728.5h0M263.1 748.7h0M244.0 747.2h0M243.0 752.5h0M247.5 753.8h0M256.3 745.0h0M235.9 744.9h0M225.6 739.8h0M255.0 747.5h0M250.4 755.8h0M222.2 742.7h0M244.1 751.9h0M247.8 753.8h0M250.8 756.2h0M250.6 755.9h0M248.8 753.3h0M234.5 737.1h0M257.4 749.6h0M260.6 746.5h0M254.0 751.0h0M215.8 703.3h0M259.4 747.3h0M250.7 756.1h0M248.8 754.4h0M246.5 748.5h0M257.1 724.5h0M252.6 754.7h0M257.6 751.9h0M234.5 733.7h0M259.6 733.5h0M258.9 750.1h0M247.7 751.1h0M240.8 747.3h0M234.3 747.5h0M240.9 741.5h0M266.6 740.9h0M250.1 755.7h0M257.2 748.4h0M268.6 732.0h0M246.9 752.2h0M235.5 726.4h0M251.7 755.6h0M245.5 741.2h0M248.7 752.9h0M255.0 748.8h0M236.6 749.0h0M239.0 743.0h0M226.2 742.6h0M250.5 755.8h0M268.3 708.9h0M248.0 753.6h0M250.0 755.1h0M247.3 751.7h0M239.1 749.7h0M241.9 749.3h0M236.1 747.5h0M249.0 753.5h0M241.3 751.9h0M249.5 754.5h0M252.3 754.4h0M252.7 753.9h0M258.3 752.1h0M256.8 754.0h0M285.8 741.4h0M257.3 748.7h0M249.0 754.0h0M242.5 747.2h0M249.1 755.0h0M273.1 748.8h0M244.2 748.7h0M245.1 748.5h0M250.5 755.9h0M249.0 752.9h0M242.2 749.9h0M247.7 750.9h0M237.3 747.5h0M209.1 732.1h0M254.5 750.8h0M245.3 754.0h0M249.4 753.2h0M246.1 748.6h0M245.3 749.6h0M251.7 755.5h0M234.6 729.5h0M225.8 708.4h0M245.7 751.7h0M263.5 724.9h0M283.8 740.3h0M244.5 751.0h0M271.8 735.0h0M248.8 754.5h0M249.9 755.2h0M235.0 745.4h0M252.3 755.5h0M255.8 755.0h0M229.3 744.3h0M252.1 755.9h0M265.2 737.4h0M236.3 740.4h0M258.1 751.4h0M245.5 751.3h0M257.8 733.9h0M253.3 753.4h0M244.9 748.4h0M239.6 746.0h0M222.2 733.5h0M267.2 742.8h0M252.2 754.8h0M243.0 751.7h0M248.7 754.2h0M211.1 747.0h0M246.2 751.6h0M243.4 745.5h0M251.7 755.2h0M281.9 734.9h0M245.6 744.8h0M240.4 744.7h0M249.0 753.9h0M244.0 746.7h0M241.2 747.6h0M253.3 753.7h0M253.4 754.8h0M252.9 755.3h0M257.4 737.8h0M289.0 748.2h0M277.4 744.0h0M255.6 750.5h0M246.5 750.3h0M251.6 755.8h0M240.3 737.5h0M250.3 756.0h0M240.5 746.2h0M250.2 755.5h0M255.2 742.2h0M262.0 744.1h0M240.2 750.3h0M235.0 742.7h0M259.0 740.1h0M244.5 747.7h0M250.7 756.2h0M227.7 740.1h0M240.8 743.4h0M247.6 753.5h0M239.7 731.1h0M255.3 746.4h0M241.2 743.1h0M237.6 742.7h0M265.3 747.3h0M244.4 750.3h0M252.6 752.0h0M256.1 754.8h0M256.8 748.2h0M240.3 741.1h0M256.4 750.7h0M254.7 744.8h0M249.5 755.8h0M239.2 737.5h0M246.5 753.5h0M281.9 735.9h0M253.9 754.9h0M255.8 740.3h0M246.7 751.4h0M259.2 752.0h0M248.7 753.0h0M249.2 754.7h0M258.8 737.2h0M256.9 750.0h0M239.1 748.5h0M257.8 747.2h0M212.5 736.9h0M233.3 750.5h0M246.5 752.0h0M247.7 754.4h0M241.1 745.8h0M258.6 753.2h0M272.4 723.6h0M271.1 739.2h0M251.9 755.2h0M259.0 747.1h0M229.8 732.4h0M247.4 754.2h0M262.2 745.8h0M256.4 750.1h0M249.7 755.3h0M249.8 755.2h0M257.6 748.2h0M252.5 750.8h0M240.1 744.0h0M250.0 755.8h0M269.7 739.7h0M231.8 734.6h0M250.5 755.6h0M262.4 723.0h0M232.7 730.4h0M249.0 750.8h0M252.1 751.8h0M253.4 747.0h0M259.7 743.4h0M248.2 751.8h0M219.7 734.1h0M272.5 737.8h0M249.8 754.8h0M289.1 737.1h0M247.9 755.3h0M249.2 754.7h0M257.8 747.7h0M259.3 751.4h0M256.4 748.2h0M253.9 754.3h0M242.9 752.7h0M263.2 743.6h0M257.0 746.7h0M274.4 736.7h0M238.3 750.6h0M237.7 751.9h0M249.2 753.7h0M242.9 746.5h0M260.0 751.4h0M230.3 738.8h0M264.2 751.8h0M257.9 753.0h0M260.7 748.3h0M266.8 738.7h0M234.5 725.4h0M250.7 756.1h0M252.1 755.4h0M256.9 752.0h0M256.1 750.9h0M239.7 748.2h0M251.7 754.3h0M265.8 743.8h0M256.6 753.6h0M239.4 750.7h0M261.9 739.3h0M250.7 756.1h0M243.6 741.9h0M238.4 752.1h0M239.1 733.7h0M258.3 750.0h0M237.6 746.5h0M256.4 754.4h0M259.3 750.3h0M246.3 753.5h0M241.7 749.1h0M239.1 745.7h0M247.9 750.5h0M244.2 749.4h0M246.0 751.1h0M269.9 731.6h0M263.3 747.1h0M266.8 746.8h0M262.2 747.1h0M248.0 755.0h0M250.8 756.2h0M255.7 751.8h0M247.5 752.6h0M256.9 751.5h0M236.0 737.3h0M258.7 747.2h0M262.6 741.0h0M248.9 754.3h0M269.9 742.5h0M264.1 737.2h0M255.6 752.5h0M274.7 747.2h0M250.4 755.8h0M258.1 743.2h0M275.0 729.1h0M251.6 755.9h0M248.5 753.6h0M248.6 755.4h0M275.4 741.2h0M257.3 753.9h0M231.2 741.2h0M251.5 755.8h0M220.5 732.4h0M271.6 718.9h0M245.6 752.1h0M249.5 755.3h0M256.3 750.1h0M265.1 742.7h0M281.8 748.6h0M270.0 737.0h0M260.0 730.4h0M248.2 752.2h0M236.5 740.3h0M252.3 754.6h0M232.7 739.3h0M252.3 749.4h0M252.4 752.9h0M262.1 747.6h0M246.3 750.7h0M246.7 755.6h0M242.9 740.7h0M266.9 732.3h0M237.4 747.0h0M247.8 750.5h0M254.1 753.5h0M266.5 743.2h0M242.9 736.5h0M257.0 750.3h0M253.1 753.7h0M262.7 742.4h0M246.6 752.2h0M265.0 744.9h0M250.2 755.5h0M242.8 743.5h0M227.8 750.6h0M248.0 753.5h0M250.0 755.3h0M254.8 752.6h0M239.9 738.9h0M258.0 748.8h0M249.5 755.7h0M244.2 748.9h0M237.1 750.7h0M250.6 756.0h0M251.6 755.5h0M273.7 732.6h0M257.0 752.1h0M261.5 720.9h0M263.5 746.5h0M250.2 755.7h0M249.5 755.0h0M257.7 747.7h0M250.4 756.0h0M258.6 747.0h0M256.3 750.7h0M261.5 738.2h0M255.7 750.6h0M262.3 752.3h0M257.9 748.3h0M249.8 755.2h0M225.7 737.2h0M252.3 755.5h0M236.4 745.2h0M257.9 750.1h0M233.8 705.2h0M248.8 754.6h0M252.2 755.5h0M239.3 721.4h0M270.2 745.1h0M248.6 754.3h0M242.9 751.5h0M257.6 740.7h0M248.9 752.8h0M261.6 751.5h0M280.2 736.3h0M233.6 737.7h0M241.6 721.8h0M228.2 738.3h0M252.0 755.2h0M250.8 756.2h0M258.6 752.9h0M249.8 755.8h0M252.9 754.6h0M262.1 747.7h0M256.1 749.7h0M249.4 755.5h0M245.4 750.7h0M252.4 753.8h0M262.5 734.3h0M273.6 730.9h0M234.6 738.2h0M254.0 754.2h0M267.5 736.8h0M228.1 725.4h0M257.8 751.3h0M264.6 750.4h0M258.3 741.7h0M270.3 741.3h0M261.2 743.9h0M246.3 739.7h0M275.4 733.8h0M253.7 754.6h0M246.9 752.6h0M215.7 731.1h0M270.2 735.6h0M241.2 720.4h0M251.0 756.0h0M242.8 750.9h0M242.6 751.5h0M255.5 744.2h0M243.9 749.8h0M239.8 712.5h0M255.3 748.4h0M242.1 739.6h0M255.2 750.0h0M269.7 740.7h0M261.1 735.6h0M262.8 751.9h0M283.7 732.3h0M239.5 747.2h0M256.6 752.5h0M248.5 754.4h0M252.3 755.6h0M252.8 753.0h0M220.6 734.4h0M252.5 753.7h0M258.9 750.3h0M260.3 748.4h0M249.3 754.4h0M255.8 751.7h0M280.4 746.0h0M253.3 752.4h0M254.7 755.0h0M254.5 754.3h0M251.4 755.4h0M239.9 740.9h0M247.2 753.0h0M258.1 748.1h0M251.5 755.2h0M255.2 753.3h0M252.4 755.2h0M241.4 724.4h0M247.9 752.9h0M245.9 748.4h0M266.2 731.0h0M259.6 747.0h0M254.1 754.4h0M240.9 751.1h0M239.5 742.5h0M260.3 745.9h0M250.5 755.8h0M250.6 756.0h0M253.6 753.3h0M251.7 754.8h0M221.2 743.7h0M239.3 749.4h0M265.6 728.9h0M261.3 749.5h0M269.6 749.1h0M227.3 718.8h0M279.0 731.3h0M240.7 741.9h0M253.4 749.9h0M252.0 752.4h0M243.4 752.2h0M249.3 754.0h0M221.5 742.7h0M254.7 750.8h0M261.1 739.2h0M242.1 741.7h0M249.9 754.5h0M251.7 755.9h0M238.9 736.0h0M242.6 749.6h0M244.3 740.5h0M258.1 750.2h0M265.6 741.6h0M241.6 750.6h0M229.7 748.2h0M251.6 755.7h0M250.5 756.1h0M225.4 726.8h0M252.5 754.8h0M207.7 731.9h0M255.6 746.8h0M257.5 754.8h0M244.9 730.8h0M243.1 746.7h0M266.2 743.6h0M235.3 745.9h0M249.5 754.8h0M258.8 750.4h0M260.0 743.9h0M246.2 753.7h0M270.5 733.8h0M246.5 753.8h0M259.7 745.1h0M253.0 754.8h0M249.1 754.1h0M272.1 730.2h0M251.6 755.0h0M242.0 738.8h0M273.4 743.9h0M251.9 755.6h0M256.4 751.1h0M258.8 750.3h0M225.7 733.9h0M250.7 756.1h0M236.7 739.4h0M260.3 751.2h0M264.6 743.7h0M249.4 755.4h0M260.0 742.0h0M244.8 748.8h0M255.4 748.8h0M249.1 755.1h0M235.9 747.6h0M242.2 751.4h0M249.0 754.7h0M268.3 737.8h0M259.0 744.0h0M247.8 755.1h0M242.3 742.9h0M281.3 700.4h0M252.3 754.9h0M253.8 751.8h0M263.5 744.6h0M287.1 744.1h0M250.1 755.3h0M248.7 752.6h0M256.6 742.3h0M252.8 749.9h0M233.0 735.8h0M273.0 739.5h0M244.0 754.2h0M254.5 754.3h0M251.2 756.1h0M230.7 744.9h0M242.8 743.8h0M238.6 740.9h0M244.3 750.8h0M252.1 753.9h0M261.7 751.0h0M248.0 754.3h0M235.3 734.7h0M244.0 744.5h0M251.8 754.8h0M246.9 751.0h0M235.0 741.7h0M253.6 751.7h0M235.7 729.4h0M229.1 737.5h0M251.1 756.0h0M254.4 753.7h0M250.6 756.1h0M252.0 753.7h0M253.6 748.5h0M257.1 746.5h0M256.3 751.1h0M248.8 754.1h0M260.1 749.5h0M227.0 705.7h0M259.2 748.7h0M245.4 754.0h0M245.4 749.8h0M242.6 754.1h0M252.9 755.8h0M245.9 750.5h0M251.7 755.1h0M239.2 744.9h0M281.8 743.7h0M255.7 751.0h0M245.9 751.4h0M246.4 749.5h0M247.6 753.4h0M233.6 747.1h0M225.8 735.5h0M261.0 748.2h0M278.4 734.1h0M241.9 752.3h0M239.0 716.6h0M250.0 755.0h0M273.2 702.1h0M257.0 752.0h0M248.6 754.6h0M266.2 742.3h0M261.8 745.2h0M256.4 754.2h0M256.8 752.8h0M270.2 746.1h0M266.1 741.0h0M256.5 753.9h0M260.9 729.7h0M260.7 747.9h0M247.6 753.9h0M251.2 755.7h0M256.6 750.4h0M250.8 756.2h0M251.6 755.8h0M255.0 751.0h0M241.5 744.8h0M245.7 747.1h0M233.2 719.7h0M248.0 750.5h0M249.6 755.0h0M234.9 744.0h0M261.2 752.5h0M250.7 756.0h0M254.3 750.7h0M210.2 738.3h0M238.4 743.7h0M254.0 749.3h0M239.2 749.5h0M240.2 741.3h0M249.2 754.3h0M258.2 748.4h0M250.5 756.0h0M258.4 749.5h0M230.5 738.8h0M255.1 752.1h0M240.5 737.0h0M243.2 741.2h0M249.4 755.0h0M222.5 727.1h0M262.7 747.0h0M237.4 753.7h0M221.9 731.2h0M284.5 732.3h0M243.3 750.3h0M226.6 745.5h0M219.1 743.7h0M255.5 753.2h0M243.9 750.5h0M259.6 737.5h0M238.4 746.6h0M255.0 747.7h0M249.9 755.9h0M255.9 750.2h0M268.9 740.5h0M243.9 749.1h0M236.7 738.9h0M247.7 751.0h0M251.7 755.4h0M249.1 753.1h0M246.6 751.7h0M238.5 747.7h0M229.6 750.9h0M253.0 754.7h0M261.5 751.9h0M251.1 755.6h0M259.9 741.8h0M256.4 752.7h0M243.4 748.8h0M269.3 745.6h0M241.3 754.1h0M229.1 743.8h0M251.2 756.0h0M247.2 750.2h0M248.4 754.4h0M248.3 753.8h0M246.1 752.2h0M251.4 755.0h0M246.1 754.8h0M241.1 747.4h0M244.2 745.5h0M251.0 755.8h0M252.9 753.2h0M234.4 737.5h0M237.6 753.0h0M245.5 751.9h0M250.7 756.0h0M220.2 722.8h0M252.3 755.1h0M259.1 742.5h0M255.4 749.7h0M243.6 742.3h0M241.7 750.8h0M251.0 755.9h0M248.6 755.3h0M259.1 753.5h0M264.1 748.3h0M248.1 753.6h0M247.1 748.7h0M258.1 744.6h0M253.7 753.1h0M275.2 716.2h0M244.3 745.7h0M223.5 730.5h0M239.8 744.7h0M249.3 754.3h0M281.0 746.4h0M258.7 751.8h0M241.0 749.2h0M249.5 755.3h0M264.2 746.6h0M243.3 739.4h0M223.9 743.0h0M257.0 753.3h0M252.6 754.7h0M247.8 754.8h0M250.8 756.2h0M257.0 753.7h0M260.2 748.1h0M244.2 749.5h0M251.7 755.5h0M257.5 748.2h0M254.6 753.6h0M252.8 754.2h0M246.0 753.5h0M253.3 753.9h0M243.5 750.3h0M258.4 752.1h0M215.2 742.2h0M252.2 753.8h0M280.5 745.5h0M242.7 748.4h0M244.5 751.5h0M251.4 755.5h0M248.5 753.4h0M249.3 754.4h0M251.5 755.8h0M237.8 744.0h0M250.3 755.3h0M257.6 749.7h0M255.3 746.2h0M239.8 743.3h0M247.1 751.7h0M240.5 751.9h0M239.3 746.3h0M247.1 748.4h0M249.3 753.1h0M267.0 731.6h0M259.7 743.4h0M262.8 747.8h0M248.9 754.8h0M266.8 742.4h0M242.2 740.4h0M239.6 736.9h0M247.9 753.1h0M249.3 754.3h0M251.7 755.9h0M247.3 754.7h0M235.2 738.3h0M256.9 753.6h0M248.3 755.3h0M266.4 724.0h0M239.1 725.0h0M233.2 743.7h0M252.2 754.1h0M262.8 730.8h0M257.9 746.2h0M246.8 750.9h0M248.9 754.4h0M246.4 753.1h0M218.5 738.0h0M229.4 734.0h0M267.6 741.8h0M266.3 750.0h0M243.0 749.4h0M252.1 754.9h0M241.4 739.2h0M261.7 751.4h0M244.9 752.2h0M244.0 752.1h0M251.4 755.9h0M243.7 749.6h0M238.0 747.4h0M274.4 746.1h0M255.2 751.8h0M251.1 756.0h0M252.4 753.7h0M249.0 754.5h0M252.0 755.9h0M254.3 748.7h0M235.0 747.4h0M243.4 749.0h0M265.4 742.3h0M240.2 754.2h0M267.3 738.1h0M259.4 746.1h0M274.9 690.5h0M255.8 748.5h0M277.5 744.9h0M275.8 745.4h0M258.8 748.6h0M255.1 754.1h0M246.2 753.9h0M260.6 737.6h0M270.8 733.0h0M238.2 752.4h0M262.6 752.1h0M227.4 731.8h0M248.9 754.3h0M241.7 742.0h0M251.4 754.9h0M262.6 746.6h0M243.2 735.0h0M246.6 755.2h0M261.5 744.2h0M249.8 754.7h0M258.5 751.9h0M243.7 752.4h0M214.9 737.3h0M250.2 754.5h0M250.6 756.0h0M246.3 739.3h0M258.6 746.6h0M285.5 732.7h0M248.0 751.2h0M245.8 741.4h0M250.1 755.1h0M252.8 753.6h0M244.4 753.8h0M250.9 756.1h0M248.6 754.2h0M251.7 755.2h0M254.3 752.1h0M263.2 744.0h0M258.4 751.2h0M246.2 751.9h0M238.3 747.1h0M273.1 732.9h0M255.7 749.4h0M250.9 756.2h0M242.1 752.0h0M253.7 751.1h0M255.1 753.5h0M231.8 743.7h0M263.0 730.1h0M260.4 744.1h0M225.0 727.9h0M272.9 704.7h0M259.9 748.2h0M250.2 755.3h0M249.2 753.7h0M242.2 748.4h0M253.8 750.3h0M243.6 751.6h0M257.3 746.5h0M262.6 741.9h0M246.6 753.9h0M216.5 729.6h0M251.2 755.7h0M266.0 747.0h0M239.1 747.6h0M270.2 728.5h0M267.8 743.7h0M237.2 741.9h0M262.2 740.0h0M259.7 740.5h0M226.4 731.8h0M245.1 751.3h0M265.0 736.9h0M242.9 734.5h0M252.0 755.1h0M252.6 755.0h0M249.4 754.4h0M268.3 751.3h0M257.0 752.9h0M232.6 736.4h0M286.1 712.7h0M253.3 750.2h0M254.4 749.3h0M249.6 755.4h0M247.8 750.9h0M244.7 753.8h0M256.5 750.9h0M249.2 754.5h0M260.4 724.9h0M258.5 750.1h0M242.7 744.3h0M243.0 751.6h0M239.4 744.4h0M247.8 755.5h0M262.4 746.3h0M251.9 754.7h0M246.4 747.3h0M270.8 742.3h0M238.1 746.0h0M258.5 748.3h0M248.1 753.4h0M260.6 747.4h0M239.2 735.8h0M249.6 754.9h0M253.5 753.7h0M250.3 756.0h0M242.3 749.8h0M256.4 750.9h0M256.4 745.1h0M248.9 753.7h0M259.1 750.6h0M243.9 750.1h0M247.8 755.4h0M251.5 755.7h0M247.8 753.9h0M242.7 744.4h0M254.8 749.2h0M255.6 754.7h0M248.1 754.2h0M267.1 728.6h0M257.0 751.1h0M250.0 755.8h0M252.0 755.3h0M260.1 750.2h0M239.9 752.4h0M263.1 746.2h0M249.4 754.7h0M254.2 754.2h0M253.5 753.9h0M231.0 752.2h0M251.9 754.6h0M248.3 749.9h0M255.3 741.7h0M247.3 754.4h0M247.0 742.0h0M268.5 700.5h0M250.8 756.1h0M260.3 750.7h0M245.9 750.7h0M247.4 754.6h0M247.6 748.9h0M261.9 737.5h0M234.2 732.0h0M258.0 747.3h0M247.3 750.9h0M252.0 754.3h0M244.8 750.8h0M256.6 751.4h0M250.2 755.6h0M246.5 753.7h0M253.2 750.8h0M254.9 752.5h0M269.1 735.4h0M260.4 726.7h0M260.6 749.0h0M251.0 756.0h0M255.2 752.0h0M250.6 755.7h0M258.5 723.1h0M246.0 749.6h0M255.6 750.3h0M262.2 749.8h0M249.2 752.7h0M252.2 755.2h0M242.2 751.2h0M232.7 725.2h0M256.9 750.1h0M241.1 747.3h0M250.8 756.2h0M247.4 751.0h0M258.2 749.9h0M221.6 745.6h0M258.0 747.6h0M257.2 748.0h0M257.2 732.4h0M252.6 755.4h0M248.7 752.4h0M260.3 738.5h0M252.8 754.0h0M245.5 752.9h0M234.3 720.7h0M275.4 736.9h0M240.2 746.2h0M247.0 753.8h0M250.0 753.3h0M249.7 753.3h0M255.5 747.2h0M251.4 755.0h0M235.2 734.7h0M243.2 749.1h0M241.9 737.2h0M244.2 750.0h0M250.3 755.8h0M244.7 753.9h0M265.6 739.0h0M260.4 742.1h0M224.5 727.5h0M246.9 754.8h0M249.2 753.7h0M253.3 754.4h0M243.6 750.7h0M246.9 751.8h0M261.9 734.6h0M250.0 755.7h0M231.4 735.4h0M245.6 751.0h0M259.1 739.4h0M257.7 750.5h0M251.4 755.5h0M256.9 750.5h0M255.9 752.0h0M254.1 751.7h0M257.2 751.6h0M252.8 754.3h0M253.7 753.7h0M245.5 751.3h0M251.6 755.3h0M236.5 714.1h0M246.7 752.5h0M257.6 750.7h0M247.3 753.8h0M231.1 732.2h0M237.8 746.2h0M253.9 751.9h0M243.8 745.8h0M241.4 744.4h0M232.6 742.9h0M261.1 744.3h0M277.9 720.5h0M256.2 753.6h0M254.0 750.4h0M269.3 746.3h0M259.4 750.3h0M254.4 752.9h0M250.8 756.2h0M232.3 746.8h0M238.9 750.6h0M248.9 753.3h0M249.0 753.8h0M268.4 741.9h0M235.9 748.5h0M266.8 741.3h0M282.7 732.6h0M240.2 745.3h0M262.8 728.5h0M252.2 754.9h0M243.5 746.2h0M282.3 739.6h0M258.2 749.9h0M249.8 755.1h0M258.3 745.7h0M239.0 750.7h0M254.0 748.0h0M219.1 745.1h0M259.0 753.7h0M231.7 735.2h0M237.0 737.3h0M284.2 720.2h0M242.3 748.9h0M249.8 755.1h0M266.8 738.3h0M251.9 755.4h0M245.1 745.9h0M249.3 755.1h0M255.3 751.8h0M227.5 746.0h0M264.9 746.0h0M240.5 740.2h0M251.5 755.1h0M254.7 753.1h0M266.0 744.9h0M286.1 733.9h0M252.4 754.9h0M243.1 742.2h0M239.5 743.6h0M234.2 748.3h0M232.0 748.8h0M261.1 744.1h0M268.7 738.9h0M255.6 748.8h0M254.7 751.9h0M246.5 746.9h0M254.6 752.2h0M245.3 746.0h0M248.5 750.7h0M235.2 750.1h0M245.7 738.7h0M248.1 751.8h0M261.1 747.1h0M255.6 750.4h0M257.2 749.9h0M265.2 748.1h0M253.8 749.0h0M230.9 719.0h0M247.4 754.0h0M240.5 727.7h0M254.5 753.8h0M252.0 755.5h0M229.8 749.4h0M251.6 755.6h0M282.3 740.9h0M259.9 742.3h0M256.8 747.6h0M242.7 730.6h0M258.3 752.4h0M236.1 732.1h0M246.3 750.5h0M252.7 755.2h0M248.0 748.0h0M246.8 748.9h0M256.8 743.1h0M246.6 754.4h0M244.0 745.4h0M273.4 721.4h0M259.2 751.7h0M238.7 750.3h0M254.3 752.1h0M257.6 741.8h0M241.0 740.6h0M245.6 753.6h0M263.1 738.9h0M235.2 749.4h0M220.9 737.0h0M255.4 754.5h0M267.3 736.1h0M227.1 731.1h0M262.4 746.4h0M280.3 735.0h0M240.0 741.2h0M248.6 751.5h0M252.2 754.7h0M237.8 751.5h0M251.0 755.9h0M259.2 749.0h0M262.1 751.5h0M241.7 748.8h0M263.8 744.9h0M265.3 733.5h0M259.1 748.1h0M255.6 743.1h0M246.0 751.6h0M253.8 754.0h0M241.6 740.5h0M260.2 749.0h0M247.8 754.0h0M233.1 728.8h0M244.9 748.8h0M228.6 719.5h0M248.2 751.5h0M245.5 738.9h0M245.0 754.1h0M251.1 755.9h0M251.3 755.5h0M242.3 744.2h0M258.1 749.5h0M237.0 740.0h0M243.5 749.7h0M252.2 754.8h0M261.9 747.5h0M272.0 714.4h0M264.1 748.5h0M282.7 742.6h0M281.0 741.8h0M258.3 746.9h0M267.1 747.6h0M265.3 749.7h0M249.7 754.8h0M242.7 740.5h0M279.5 746.6h0M223.7 740.7h0M243.7 752.3h0M263.1 748.1h0M234.4 748.4h0M273.7 744.0h0M237.0 744.3h0M241.8 733.8h0M254.5 747.6h0M247.5 748.4h0M244.9 751.9h0M268.1 741.2h0M256.4 749.2h0M250.8 756.2h0M250.5 756.1h0M262.1 745.7h0M249.5 755.1h0M266.6 743.8h0M257.9 742.4h0M254.0 753.9h0M230.4 746.7h0M243.6 743.9h0M257.1 751.1h0M253.3 751.3h0M252.4 753.8h0M291.2 742.3h0M261.8 745.0h0M256.5 747.6h0M236.1 745.2h0M257.5 751.7h0M251.5 755.7h0M276.5 747.4h0M221.7 733.9h0M258.7 746.7h0M249.2 755.2h0M253.4 752.6h0M235.1 736.0h0M246.5 755.4h0M245.1 738.4h0M247.7 752.6h0M250.5 755.9h0M227.0 745.3h0M268.3 746.8h0M242.7 739.1h0M268.2 744.1h0M262.0 749.4h0M256.3 748.8h0M254.8 749.6h0M264.9 747.9h0M266.9 749.0h0M255.9 754.0h0M251.9 755.9h0M236.2 750.5h0M252.6 753.5h0M246.5 752.5h0M257.3 746.3h0M264.7 745.2h0M254.7 752.1h0M247.1 750.7h0M265.9 746.7h0M266.1 740.3h0M261.5 737.4h0M250.4 755.9h0M260.4 737.4h0M260.4 737.0h0M209.0 731.5h0M239.5 744.1h0M251.3 755.8h0M257.9 748.4h0M227.0 732.9h0M243.8 741.0h0M254.0 750.2h0M252.1 755.1h0M249.8 753.6h0M250.9 755.9h0M254.7 751.4h0M263.9 746.5h0M255.2 752.0h0M265.3 718.7h0M238.6 744.5h0M264.0 742.3h0M259.6 741.6h0M263.4 738.8h0M241.8 747.6h0M266.2 740.5h0M247.3 746.2h0M236.9 744.5h0M251.1 755.7h0M248.9 754.2h0M253.7 753.2h0M240.5 735.9h0M248.4 754.0h0M251.8 755.3h0M239.6 735.8h0M271.8 736.2h0M253.2 754.8h0M246.1 753.4h0M241.4 728.5h0M238.3 743.4h0M253.6 752.1h0M277.4 737.3h0M249.9 754.4h0M251.5 755.4h0M256.1 751.4h0M239.9 742.4h0M257.0 730.3h0M256.2 749.0h0M260.0 747.8h0M263.7 741.8h0M254.2 750.9h0M239.7 747.8h0M246.1 748.5h0M241.4 752.1h0M244.0 752.5h0M258.6 749.8h0M245.5 752.0h0M266.1 728.5h0M264.9 750.3h0M254.3 752.1h0M231.1 749.5h0M256.7 751.2h0M249.6 755.1h0M245.8 753.6h0M253.9 753.5h0M251.3 755.4h0M272.3 743.2h0M250.2 754.9h0M223.1 745.2h0M253.1 753.1h0M245.0 748.0h0M252.3 754.4h0M255.5 752.8h0M243.0 733.5h0M249.3 755.5h0M255.4 752.5h0M278.0 742.8h0M257.0 747.9h0M271.6 737.0h0M263.2 753.2h0M254.6 750.5h0M250.8 756.2h0M239.3 750.2h0M248.7 750.7h0M240.9 734.0h0M259.4 750.6h0M265.3 742.3h0M271.7 722.7h0M262.6 745.5h0M254.3 751.5h0M240.6 742.9h0M239.8 746.4h0M221.1 733.9h0M255.8 739.2h0M246.0 753.4h0M248.4 749.8h0M275.5 725.9h0M264.2 731.3h0M257.7 732.9h0M240.1 749.3h0M253.3 755.3h0M248.4 753.1h0M241.6 751.2h0M249.9 755.1h0M238.7 741.2h0M295.2 728.5h0M256.2 751.1h0M240.8 744.5h0M237.9 745.0h0M248.3 751.1h0M245.1 752.3h0M263.6 748.5h0M278.1 737.1h0M257.2 747.9h0M257.2 752.4h0M255.6 750.3h0M260.2 747.9h0M245.7 751.4h0M250.6 755.8h0M258.2 754.0h0M242.6 748.4h0M252.6 755.0h0M248.3 754.4h0M245.8 747.3h0M243.8 746.1h0M252.8 753.2h0M245.8 751.9h0M262.3 742.4h0M254.7 749.1h0M256.5 733.7h0M281.8 720.9h0M256.4 754.6h0M258.4 751.5h0M254.4 744.9h0M265.5 746.6h0M236.8 743.0h0M223.1 672.6h0M242.0 748.8h0M259.5 743.0h0M220.7 703.9h0M224.4 737.8h0M245.3 744.8h0M223.4 740.1h0M258.9 749.9h0M255.5 737.7h0M262.9 732.7h0M263.5 736.2h0M247.6 750.5h0M281.5 732.4h0M256.6 751.4h0M235.5 745.9h0M252.0 754.9h0M234.9 749.0h0M239.3 748.4h0M251.6 755.0h0M252.1 755.3h0M247.1 751.1h0M225.5 737.8h0M242.2 742.7h0M265.5 739.7h0M245.0 749.5h0M251.5 755.5h0M243.1 745.7h0M270.4 735.5h0M242.8 749.4h0M252.1 755.7h0M249.1 755.1h0M233.2 740.2h0M249.2 754.9h0M252.5 754.7h0M239.1 739.9h0M244.9 751.2h0M249.0 755.4h0M251.5 755.7h0M286.3 743.2h0M265.6 743.1h0M235.9 734.4h0M253.5 750.9h0M243.3 750.5h0M256.2 746.8h0M240.7 741.5h0M253.2 755.0h0M259.2 735.1h0M246.7 751.1h0M248.4 753.1h0M243.0 753.4h0M239.9 749.2h0M277.5 740.2h0M280.6 730.8h0M226.8 726.1h0M247.5 749.9h0M253.2 755.0h0M253.9 754.1h0M250.2 755.6h0M250.9 756.0h0M276.6 733.1h0M248.1 755.2h0M247.4 752.4h0M254.5 745.5h0M258.2 752.2h0M258.5 748.9h0M274.5 739.7h0M262.1 713.8h0M261.2 738.0h0M258.2 740.2h0M268.5 733.6h0M252.5 754.8h0M249.8 755.2h0M242.9 749.3h0M258.6 752.7h0M246.8 748.6h0M247.6 753.4h0M225.9 744.6h0M249.6 755.3h0M257.2 749.6h0M242.9 751.0h0M254.1 752.4h0M245.6 751.4h0M252.4 753.0h0M255.3 750.9h0M250.4 755.8h0M234.0 729.9h0M254.3 753.3h0M251.9 755.3h0M246.7 749.4h0M247.4 751.4h0M249.0 753.1h0M241.3 749.2h0M264.0 746.8h0M255.2 753.9h0M250.3 755.2h0M246.6 735.3h0M241.5 750.2h0M272.3 738.3h0M240.3 744.6h0M231.3 740.0h0M250.2 755.8h0M216.9 731.5h0M273.4 727.9h0M269.7 727.1h0M221.6 733.8h0M256.1 752.8h0M249.2 754.3h0M257.5 731.7h0M246.4 753.4h0M276.7 736.1h0M250.2 755.8h0M248.4 754.9h0M281.1 743.9h0M245.9 752.4h0M247.1 743.2h0M248.8 755.8h0M255.8 745.9h0M221.6 737.1h0M245.8 743.4h0M225.2 719.4h0M220.3 742.9h0M261.7 747.2h0M250.8 756.2h0M267.6 726.1h0M247.2 754.7h0M250.4 755.8h0M249.2 751.0h0M261.7 738.9h0M237.0 744.8h0M254.0 749.6h0M261.7 747.5h0M254.8 752.9h0M271.8 728.3h0M240.0 744.6h0M264.7 747.9h0M263.1 738.7h0M239.9 748.5h0M261.8 733.2h0M229.0 741.7h0M261.8 726.6h0M247.2 753.0h0M277.6 735.2h0M248.4 754.7h0M244.3 739.3h0M239.5 726.0h0M244.9 752.2h0M282.0 743.7h0M273.2 724.7h0M246.0 753.9h0M243.2 749.3h0M250.5 755.9h0M247.4 752.6h0M251.8 755.4h0M246.5 754.6h0M256.1 750.2h0M236.9 742.8h0M249.7 755.2h0M256.8 747.2h0M243.4 750.6h0M258.6 752.8h0M253.8 753.8h0M263.3 748.8h0M253.3 753.1h0M247.7 753.5h0M260.9 742.9h0M280.1 710.0h0M258.1 745.8h0M243.3 752.8h0M263.7 742.8h0M247.6 755.3h0M254.4 752.9h0M244.6 752.7h0M259.7 751.4h0M240.1 745.5h0M239.4 729.7h0M248.8 754.3h0M244.7 749.2h0M218.4 725.9h0M252.3 753.2h0M259.2 752.6h0M240.4 728.3h0M255.0 753.7h0M235.3 738.7h0M253.0 747.4h0M276.2 746.8h0M257.8 751.6h0M248.2 753.8h0M241.2 747.0h0M233.7 740.0h0M269.0 730.9h0M229.2 746.8h0M261.3 750.3h0M259.1 752.0h0M262.0 741.7h0M226.7 741.4h0M247.1 753.3h0M251.4 755.4h0M232.3 724.3h0M253.8 755.4h0M253.1 754.3h0M245.3 747.1h0M238.5 752.1h0M252.2 753.1h0M237.1 748.2h0M261.0 739.6h0M228.1 740.5h0M247.4 752.5h0M237.8 739.3h0M240.2 743.4h0M253.7 754.7h0M248.2 753.4h0M258.3 746.2h0M259.8 749.9h0M253.1 749.2h0M246.2 751.9h0M256.4 742.5h0M250.8 756.2h0M243.5 748.5h0M252.1 755.6h0M260.3 740.0h0M254.8 753.8h0M247.9 753.7h0M247.1 751.0h0M257.8 746.6h0M260.2 736.4h0M237.8 749.6h0M238.5 731.0h0M263.0 748.9h0M258.3 753.7h0M246.3 753.2h0M254.3 749.7h0M250.2 755.7h0M254.3 751.5h0M245.4 740.5h0M262.3 750.4h0M252.3 754.2h0M264.3 744.5h0M270.7 744.7h0M266.1 726.9h0M258.3 749.2h0M273.1 736.5h0M217.9 732.4h0M250.1 755.0h0M257.6 745.3h0M283.7 739.7h0M254.0 751.2h0M263.9 748.7h0M257.9 752.3h0M255.5 753.4h0M250.8 756.2h0M244.2 744.8h0M240.6 746.2h0M245.6 749.3h0M235.1 706.1h0M271.7 738.9h0M242.1 748.8h0M258.2 752.9h0M250.3 755.5h0M240.9 746.4h0M229.4 736.7h0M258.7 748.7h0M253.0 750.5h0M235.8 746.8h0M249.6 754.4h0M248.5 754.4h0M240.3 742.3h0M247.8 748.3h0M264.2 748.4h0M247.2 754.3h0M246.7 751.0h0M234.2 737.9h0M256.2 752.3h0M257.6 746.5h0M249.6 755.0h0M252.6 750.1h0M260.0 751.3h0M264.9 737.6h0M254.1 753.6h0M266.4 743.0h0M254.6 746.2h0M268.9 738.0h0M249.6 755.4h0M251.1 755.9h0M254.7 751.3h0M242.4 748.1h0M249.7 755.6h0M262.6 738.7h0M256.7 752.2h0M259.8 740.5h0M233.1 741.7h0M262.2 740.8h0M248.9 755.3h0M253.0 754.7h0M252.9 748.9h0M237.6 750.8h0M261.8 745.4h0M263.6 744.2h0M248.1 754.0h0M250.1 755.5h0M244.5 741.7h0M240.5 746.1h0M249.6 755.4h0M256.1 751.0h0M242.1 744.1h0M248.9 754.5h0M273.1 744.8h0M241.6 730.1h0M253.8 750.9h0M254.2 746.6h0M260.8 743.1h0M239.4 745.8h0M252.4 754.6h0M245.1 753.7h0M251.6 755.3h0M254.3 751.4h0M262.2 746.7h0M258.3 742.8h0M249.5 755.2h0M252.9 751.9h0M268.3 751.0h0M249.8 755.6h0M264.1 716.9h0M264.9 734.5h0M249.9 755.5h0M251.6 755.2h0M246.5 752.9h0M248.8 754.5h0M246.2 748.9h0M229.2 738.4h0M256.7 745.9h0M254.4 748.3h0M245.6 754.3h0M267.2 744.7h0M249.4 752.3h0M258.4 746.3h0M240.2 740.4h0M251.1 755.8h0M255.5 752.2h0M253.6 751.7h0M240.9 744.9h0M262.2 721.7h0M245.3 752.8h0M240.3 748.8h0M266.2 750.7h0M249.6 752.7h0M251.9 755.2h0M256.2 745.3h0M267.7 737.2h0M268.4 736.9h0M253.7 755.3h0M262.6 745.6h0M249.5 755.4h0M234.0 741.8h0M249.8 754.7h0M242.5 737.3h0M261.5 748.9h0M250.7 756.1h0M268.7 746.3h0M245.4 754.6h0M258.0 747.4h0M246.6 755.0h0M248.7 754.2h0M275.0 741.4h0M257.5 743.5h0M272.2 739.9h0M250.5 755.9h0M258.6 750.9h0M255.6 748.1h0M247.6 754.4h0M266.4 742.5h0M251.9 755.4h0M250.6 755.9h0M243.7 745.3h0M259.5 751.7h0M253.6 754.3h0M212.4 732.5h0M239.7 752.1h0M245.8 748.1h0M249.9 755.1h0M237.7 747.7h0M242.6 751.6h0M266.1 737.7h0M240.9 743.2h0M255.4 752.4h0M247.3 752.6h0M237.0 746.2h0M243.0 748.0h0M244.7 752.4h0M250.5 756.0h0M242.2 747.2h0M239.9 751.3h0M238.3 740.9h0M241.7 747.6h0M256.9 744.6h0M255.7 753.5h0M257.8 750.4h0M253.2 754.3h0M248.5 752.9h0M225.9 711.9h0M246.2 747.2h0M253.5 749.0h0M253.9 751.5h0M268.0 733.4h0M260.1 746.8h0M251.4 755.7h0M250.4 755.9h0M287.9 734.6h0M248.6 754.4h0M262.8 744.7h0M252.2 755.5h0M261.2 717.7h0M262.7 751.5h0M268.3 738.9h0M254.1 755.2h0M248.7 754.8h0M240.2 753.2h0M259.9 743.8h0M251.1 756.0h0M256.3 753.3h0M254.8 752.7h0M254.4 754.1h0M253.5 754.6h0M237.8 746.4h0M279.5 744.2h0M258.9 749.9h0M265.9 751.3h0M253.1 752.3h0M250.3 755.0h0M225.9 744.3h0M249.4 753.5h0M277.0 726.9h0M250.6 756.0h0M262.7 722.8h0M255.6 751.6h0M249.0 755.4h0M247.9 752.3h0M259.9 746.6h0M241.7 751.7h0M238.8 739.3h0M274.8 721.5h0M247.0 753.8h0M262.7 751.7h0M284.0 733.8h0M251.3 755.4h0M262.8 740.8h0M252.5 754.8h0M249.2 752.1h0M243.2 745.4h0M247.8 754.0h0M262.0 745.9h0M251.6 755.7h0M236.9 743.8h0M246.2 751.1h0M213.8 741.5h0M255.8 750.7h0M256.4 749.4h0M256.6 744.6h0M225.1 722.5h0M244.7 741.2h0M247.7 753.3h0M259.2 749.7h0M258.0 751.6h0M240.9 737.4h0M253.0 752.6h0M243.4 742.1h0M253.5 752.4h0M249.9 754.7h0M264.2 747.2h0M250.7 756.1h0M270.2 713.9h0M237.9 738.7h0M250.8 756.2h0M256.8 748.7h0M251.3 755.7h0M282.1 752.0h0M251.5 755.9h0M255.5 732.6h0M256.6 749.1h0M251.5 755.1h0M229.9 743.7h0M281.2 745.0h0M247.4 754.0h0M209.4 727.0h0M261.6 739.5h0M226.9 728.9h0M245.4 740.8h0M244.2 747.3h0M244.6 753.1h0M288.5 739.1h0M257.8 740.2h0M225.6 742.7h0M243.5 747.4h0M250.5 755.8h0M240.5 747.6h0M253.6 749.8h0M276.4 742.5h0M248.4 751.4h0M244.7 749.3h0M233.6 746.4h0M254.2 752.8h0M253.7 754.0h0M256.0 751.2h0M251.6 755.7h0M256.9 752.3h0M258.4 751.6h0M255.8 752.9h0M247.6 751.7h0M244.8 749.5h0M245.4 749.5h0M253.2 753.2h0M251.6 755.6h0M248.7 754.3h0M257.1 752.2h0M262.3 746.0h0M257.0 748.5h0M239.5 745.4h0M231.3 746.1h0M239.1 749.0h0M259.0 742.9h0M250.8 756.2h0M239.0 732.4h0M249.4 754.8h0M250.6 756.1h0M240.9 751.0h0M265.5 747.3h0M258.5 747.4h0M214.5 739.0h0M247.3 749.4h0M243.4 745.8h0M235.0 739.0h0M248.4 755.5h0M248.6 754.7h0M251.7 755.2h0M254.4 752.9h0M237.7 747.6h0M248.1 749.6h0M226.4 725.8h0M252.2 755.3h0M251.9 754.4h0M249.2 755.5h0M258.8 750.6h0M274.7 742.1h0M249.3 754.4h0M240.1 745.2h0M255.0 752.9h0M227.1 729.1h0M232.2 714.2h0M250.5 756.0h0M265.3 746.6h0M250.2 755.4h0M259.8 748.2h0M247.2 754.7h0M254.6 748.0h0M233.8 730.6h0M240.9 747.2h0M263.7 742.0h0M242.6 747.9h0M247.0 753.7h0M261.9 745.2h0M256.6 751.7h0M252.0 755.2h0M246.2 748.4h0M274.9 740.2h0M254.7 749.5h0M237.2 748.0h0M259.7 750.6h0M286.2 732.0h0M255.0 752.7h0M252.6 753.8h0M248.5 754.4h0M260.7 746.9h0M264.3 748.4h0M211.1 738.4h0M250.0 755.6h0M247.0 752.2h0M249.2 753.4h0M241.9 752.2h0M255.3 752.3h0M240.7 745.9h0M260.3 742.5h0M241.8 741.7h0M255.2 755.0h0M240.6 732.1h0M241.6 740.4h0M259.9 746.1h0M245.0 753.0h0M244.5 752.4h0M252.7 749.1h0M244.3 745.9h0M251.9 755.7h0M267.2 745.7h0M249.1 755.3h0M218.6 745.3h0M284.4 729.4h0M245.0 750.4h0M269.3 743.6h0M241.7 750.1h0M234.1 737.9h0M272.6 743.0h0M256.6 750.4h0M251.4 755.6h0M248.5 754.6h0M235.6 753.7h0M234.6 747.0h0M250.5 756.0h0M256.5 747.4h0M272.3 740.0h0M237.3 745.0h0M256.0 753.5h0M251.9 755.3h0M228.9 742.7h0M256.8 753.6h0M259.1 718.0h0M247.4 744.9h0M253.9 751.9h0M250.1 755.6h0M254.3 751.6h0M279.8 732.2h0M247.3 748.9h0M247.4 752.1h0M257.1 749.9h0M246.0 750.0h0M279.8 739.1h0M260.4 739.7h0M249.7 755.6h0M241.3 750.0h0M249.4 754.1h0M249.0 752.7h0M239.8 745.3h0M236.8 727.6h0M250.4 755.6h0M251.9 755.0h0M247.1 751.6h0M258.1 733.3h0M259.1 746.7h0M242.7 742.7h0M245.5 752.3h0M257.3 750.0h0M262.6 748.0h0M228.2 728.6h0M271.8 736.6h0M264.5 744.6h0M258.3 751.1h0M228.8 737.1h0M251.1 755.6h0M259.0 751.0h0M246.4 751.8h0M252.9 753.1h0M260.2 748.8h0M263.5 740.9h0M258.9 743.3h0M260.7 738.1h0M233.1 745.5h0M236.8 745.4h0M282.4 743.7h0M255.1 752.8h0M246.1 752.0h0M250.4 755.6h0M257.4 753.0h0M271.5 744.6h0M238.1 746.8h0M248.5 752.9h0M245.8 735.9h0M266.1 739.3h0M257.7 754.6h0M257.5 752.9h0M257.1 745.9h0M257.5 749.9h0M249.6 753.4h0M247.1 754.5h0M260.4 746.6h0M284.3 738.7h0M244.7 751.3h0M239.4 750.1h0M246.4 748.0h0M243.4 749.2h0M257.8 744.9h0M243.9 742.2h0M258.2 749.6h0M243.1 745.8h0M234.6 752.7h0M217.7 749.1h0M224.6 742.2h0M266.4 750.6h0M244.2 751.2h0M287.6 738.5h0M254.0 753.8h0M256.5 748.7h0M256.6 750.2h0M252.8 751.2h0M255.7 754.0h0M232.5 749.3h0M255.7 754.3h0M257.3 751.0h0M210.9 733.3h0M250.8 756.2h0M252.4 755.4h0M253.8 753.1h0M240.4 750.6h0M250.5 756.0h0M251.6 755.4h0M238.1 752.8h0M260.5 750.0h0M245.7 754.2h0M255.5 747.6h0M252.1 753.0h0M264.6 749.0h0M249.3 755.1h0M259.2 745.4h0M245.8 743.4h0M249.9 755.3h0M248.1 754.7h0M245.5 751.9h0M269.2 746.3h0M256.0 742.6h0M253.2 754.7h0M260.5 751.0h0M257.3 751.2h0M252.9 751.5h0M238.8 745.2h0M256.1 749.9h0M242.9 746.3h0M246.1 751.7h0M265.7 741.0h0M253.3 755.6h0M237.6 746.3h0M260.2 750.6h0M256.9 748.1h0M252.5 754.4h0M252.8 755.0h0M257.7 751.3h0M253.1 753.7h0M268.2 744.2h0M248.5 753.3h0M240.3 742.0h0M278.2 727.6h0M248.9 754.2h0M250.8 756.2h0M264.7 726.9h0M255.6 748.6h0M254.9 754.3h0M211.8 734.8h0M252.4 748.8h0M249.8 755.6h0M242.1 749.3h0M246.3 749.1h0M258.2 749.7h0M245.1 754.7h0M255.2 745.4h0M242.5 746.1h0M222.1 731.1h0M261.2 728.5h0M255.4 750.9h0M224.9 742.7h0M265.4 741.7h0M276.5 737.6h0M242.0 751.0h0M240.4 750.5h0M245.1 739.0h0M251.0 756.1h0M260.2 742.5h0M243.9 749.5h0M251.1 756.0h0M251.1 756.0h0M244.3 753.0h0M257.3 749.9h0M252.8 753.8h0M264.0 743.8h0M254.7 739.6h0M252.1 755.0h0M264.6 750.6h0M249.6 754.2h0M247.2 754.3h0M263.5 745.9h0M231.3 750.3h0M247.7 749.5h0M259.8 744.3h0M267.6 739.8h0M235.3 740.8h0M242.9 750.6h0M230.7 736.0h0M234.8 745.7h0M259.0 746.0h0M242.8 747.5h0M244.4 754.0h0M250.4 756.0h0M250.3 755.1h0M249.6 755.5h0M207.1 734.7h0M255.9 749.2h0M269.4 746.3h0M253.5 752.5h0M277.8 729.4h0M270.6 750.9h0M263.6 747.6h0M254.5 753.0h0M253.6 754.4h0M252.2 755.5h0M260.4 742.1h0M238.7 749.6h0M238.8 748.0h0M242.5 750.0h0M254.7 751.6h0M256.3 747.6h0M246.2 754.8h0M254.2 751.9h0M237.0 738.0h0M236.0 752.4h0M279.3 745.8h0M258.2 751.8h0M257.2 749.2h0M254.5 751.9h0M251.5 755.3h0M249.7 751.8h0M252.9 754.9h0M258.4 750.5h0M238.4 752.2h0M251.7 750.6h0M251.8 755.5h0M277.5 734.0h0M239.9 747.3h0M240.6 750.1h0M246.0 745.2h0M236.5 740.3h0M255.5 751.2h0M254.9 740.5h0M247.8 755.5h0M248.9 754.7h0M251.3 754.0h0M250.4 755.5h0M245.9 747.7h0M243.7 745.5h0M254.8 741.4h0M256.6 745.7h0M246.8 754.1h0M252.0 755.3h0M257.5 751.9h0M251.0 756.1h0M236.6 748.6h0M242.0 725.9h0M259.8 744.9h0M233.1 751.2h0M241.4 747.9h0M249.4 755.2h0M265.7 747.3h0M252.6 755.1h0M248.4 755.1h0M283.9 736.4h0M280.7 732.0h0M255.1 750.9h0M242.5 749.6h0M249.6 755.5h0M253.7 754.5h0M246.8 754.1h0M261.3 745.6h0M255.8 754.3h0M254.9 745.6h0M235.5 745.1h0M245.2 736.6h0M259.1 730.2h0M250.0 755.5h0M275.5 736.3h0M250.7 756.1h0M277.0 739.0h0M244.8 751.7h0M256.4 746.3h0M247.6 751.5h0M246.9 742.8h0M243.1 751.4h0M249.2 755.4h0M258.6 745.5h0M247.7 753.9h0M228.4 746.4h0M251.3 755.5h0M231.6 730.6h0M249.1 754.6h0M252.5 754.0h0M252.4 751.7h0M256.1 745.1h0M240.0 735.7h0M242.8 748.5h0M244.7 748.0h0M249.1 755.2h0M254.6 753.8h0M252.1 755.4h0M254.8 749.0h0M251.8 755.3h0M252.9 754.7h0M246.8 751.1h0M249.1 754.0h0M237.4 747.3h0M272.9 731.4h0M251.3 755.3h0M248.4 754.6h0M257.0 748.2h0M253.7 753.7h0M258.3 740.7h0M243.7 754.3h0M244.3 751.7h0M260.9 751.7h0M250.2 755.8h0M252.5 753.8h0M227.7 731.5h0M230.3 730.9h0M255.1 754.7h0M240.8 749.0h0M263.3 752.3h0M249.5 755.3h0M248.7 753.4h0M240.5 742.9h0M221.3 736.6h0M268.4 740.3h0M255.8 752.6h0M242.4 745.4h0M211.8 738.6h0M236.6 744.3h0M260.7 749.3h0M252.3 755.6h0M247.9 753.9h0M250.6 756.0h0M248.4 755.0h0M273.2 718.7h0M251.8 754.8h0M256.8 754.0h0M264.6 748.9h0M255.6 745.4h0M237.8 737.8h0M237.2 745.5h0M254.2 753.1h0M254.8 747.4h0M253.4 754.9h0M250.1 755.9h0M241.5 752.8h0M259.7 748.6h0M230.0 737.0h0M261.6 742.2h0M239.2 738.1h0M238.2 746.3h0M238.1 750.5h0M247.3 742.2h0M246.9 749.7h0M252.1 755.3h0M237.2 748.2h0M254.1 752.6h0M262.9 747.0h0M251.8 754.4h0M258.2 751.0h0M253.3 753.8h0M246.7 745.4h0M234.4 747.5h0M278.8 721.5h0M246.5 745.4h0M254.4 753.4h0M252.9 754.7h0M249.2 753.7h0M231.8 744.4h0M250.8 756.2h0M239.6 749.9h0M257.6 753.5h0M248.4 754.5h0M242.1 742.6h0M250.8 756.2h0M263.6 748.3h0M251.7 755.0h0M237.2 730.3h0M253.0 755.2h0M264.6 741.5h0M257.6 742.5h0M253.8 752.9h0M241.8 747.8h0M256.0 744.2h0M254.2 752.5h0M252.9 754.1h0M250.3 755.8h0M278.5 733.6h0M247.3 750.9h0M246.6 753.4h0M258.9 748.0h0M240.1 745.1h0M254.0 754.6h0M253.2 754.7h0M255.7 741.1h0M259.1 742.6h0M251.4 755.3h0M243.8 750.8h0M258.3 750.9h0M256.1 749.7h0M258.2 749.6h0M246.8 750.6h0M246.9 751.9h0M255.7 750.8h0M241.6 749.0h0M255.6 751.5h0M248.6 753.4h0M243.1 746.3h0M246.3 748.8h0M245.5 753.1h0M244.0 751.3h0M248.4 751.4h0M252.7 755.3h0M253.4 753.4h0M245.6 751.6h0M253.2 753.5h0M238.0 736.6h0M235.8 742.0h0M245.2 739.3h0M254.9 741.3h0M260.1 744.9h0M247.1 753.6h0M253.3 751.0h0M249.7 755.2h0M257.5 739.9h0M253.1 753.2h0M268.6 733.1h0M263.2 751.7h0M261.3 743.0h0M223.6 735.0h0M244.0 750.1h0M284.8 735.1h0M248.6 753.4h0M254.7 750.7h0M225.6 737.7h0M253.8 749.7h0M241.4 748.3h0M266.1 742.9h0M264.7 750.7h0M257.5 747.0h0M243.9 751.7h0M285.4 737.9h0M256.4 754.9h0M249.4 754.9h0M241.9 748.1h0M259.8 731.5h0M258.6 751.7h0M241.3 751.4h0M249.6 755.1h0M249.4 755.7h0M246.1 752.9h0M259.5 750.0h0M247.1 753.2h0M224.6 746.9h0M256.3 748.4h0M245.0 746.3h0M263.9 745.8h0M277.8 727.7h0M250.2 755.3h0M257.7 738.0h0M252.8 754.1h0M253.1 753.9h0M257.4 748.8h0M245.0 753.5h0M248.6 754.4h0M262.3 734.0h0M244.2 731.7h0M256.3 741.0h0M267.2 743.6h0M250.2 755.4h0M209.6 741.0h0M245.9 739.2h0M258.9 746.7h0M248.7 755.2h0M250.4 755.9h0M262.7 738.9h0M249.2 755.0h0M253.1 754.4h0M266.3 743.3h0M256.2 751.5h0M246.2 751.6h0M239.5 752.9h0M211.4 738.4h0M221.4 744.1h0M252.2 755.1h0M251.3 755.8h0M257.1 747.2h0M241.6 745.2h0M259.8 751.2h0M241.4 741.4h0M254.0 754.8h0M244.7 750.2h0M259.1 738.3h0M241.5 749.3h0M255.8 753.3h0M231.1 733.4h0M261.1 748.9h0M254.2 750.8h0M253.2 754.1h0M255.8 747.8h0M250.4 755.9h0M238.3 745.3h0M275.0 731.9h0M251.2 756.0h0M252.5 754.0h0M248.1 754.0h0M250.4 755.8h0M252.6 755.2h0M254.9 753.5h0M257.8 715.6h0M249.4 755.5h0M261.8 744.9h0M273.6 735.6h0M251.7 754.6h0M253.0 753.6h0M256.8 752.0h0M255.7 748.6h0M254.9 754.3h0M268.6 736.0h0M243.4 752.5h0M261.3 751.4h0M247.1 750.7h0M247.8 748.6h0M261.3 745.7h0M246.9 752.8h0M245.5 750.7h0M266.2 730.9h0M239.0 744.5h0M244.3 750.0h0M245.9 747.8h0M227.1 747.5h0M250.1 755.3h0M258.1 751.6h0M249.7 755.2h0M236.5 750.1h0M237.5 747.0h0M249.6 755.3h0M220.1 731.3h0M251.1 755.8h0M260.3 747.6h0M255.9 744.7h0M248.5 754.9h0M239.1 751.4h0M277.8 738.8h0M253.4 754.0h0M253.1 753.9h0M245.2 752.6h0M255.1 752.6h0M251.5 755.1h0M269.4 735.1h0M247.1 754.0h0M257.7 749.5h0M254.1 751.2h0M258.0 744.6h0M237.0 748.9h0M264.8 747.4h0M249.3 753.9h0M261.1 745.2h0M259.8 742.0h0M249.4 755.6h0M253.6 753.6h0M258.9 750.5h0M248.3 751.6h0M256.7 741.6h0M249.2 755.5h0M235.3 745.1h0M256.8 750.9h0M251.4 755.2h0M256.7 744.9h0M247.8 753.6h0M257.3 744.3h0M245.0 751.5h0M244.9 748.7h0M243.2 752.8h0M242.3 753.5h0M249.5 754.6h0M258.8 748.0h0M230.7 740.2h0M250.0 754.9h0M280.5 721.8h0M255.2 754.2h0M254.2 743.9h0M248.0 751.5h0M253.9 750.2h0M260.3 753.6h0M239.9 750.2h0M252.9 752.9h0M247.4 748.0h0M240.2 746.1h0M283.3 718.8h0M275.4 738.0h0M249.8 755.0h0M256.7 750.8h0M247.1 749.9h0M264.0 749.2h0M242.9 750.5h0M244.2 746.8h0M269.5 744.0h0M240.4 752.3h0M240.5 751.7h0M245.2 751.5h0M254.1 754.1h0M226.5 722.7h0M264.5 745.1h0M229.7 742.5h0M255.6 739.2h0M247.2 753.3h0M246.8 749.6h0M246.8 749.3h0M227.7 733.0h0M286.4 740.1h0M251.8 754.2h0M262.0 745.9h0M253.3 740.1h0M237.9 751.1h0M259.2 745.4h0M273.9 730.8h0M243.9 741.4h0M251.9 755.3h0M256.1 749.7h0M255.2 750.5h0M260.3 733.4h0M254.6 754.3h0M248.7 753.5h0M241.9 738.6h0M258.4 741.6h0M259.8 744.8h0M245.6 752.1h0M249.0 753.4h0M242.9 748.9h0M243.1 744.1h0M216.3 736.4h0M234.7 742.6h0M266.7 729.8h0M254.1 751.9h0M261.3 730.3h0M283.9 736.0h0M239.9 735.6h0M242.8 736.8h0M256.5 753.7h0M243.1 747.7h0M247.2 753.9h0M252.9 753.9h0M242.1 737.3h0M284.7 730.8h0M252.8 750.9h0M248.1 750.4h0M259.0 745.7h0M256.9 736.9h0M268.5 732.9h0M236.4 721.7h0M233.6 744.0h0M266.2 752.8h0M230.9 744.1h0M253.0 754.3h0M245.5 738.6h0M256.9 751.2h0M267.0 725.8h0M242.0 742.3h0M248.0 751.6h0M252.0 753.1h0M280.0 738.8h0M251.9 753.8h0M244.6 752.0h0M269.8 749.3h0M253.5 755.2h0M262.8 747.8h0M240.4 732.2h0M239.9 744.8h0M231.5 743.7h0M232.7 740.0h0M258.6 754.1h0M250.8 756.2h0M222.6 713.3h0M252.7 753.1h0M248.4 752.9h0M280.0 741.2h0M255.9 752.1h0M260.7 752.7h0M251.8 754.3h0M246.6 747.8h0M250.2 755.7h0M258.5 748.1h0M252.9 754.2h0M242.9 751.4h0M248.0 753.5h0M246.2 747.3h0M252.2 755.4h0M254.2 748.8h0M265.7 745.8h0M253.5 755.1h0M248.1 754.6h0M250.3 755.5h0M254.4 753.9h0M245.6 749.0h0M247.7 752.4h0M255.5 751.1h0M229.2 720.7h0M243.4 751.8h0M246.8 754.3h0M236.3 737.4h0M239.7 751.8h0M258.0 752.7h0M256.7 754.5h0M245.5 751.5h0M252.7 752.0h0M257.9 744.8h0M256.7 753.7h0M265.7 752.6h0M238.5 748.7h0M249.8 755.7h0M249.7 755.8h0M253.7 746.1h0M226.8 741.8h0M255.0 752.5h0M235.5 746.0h0M247.5 751.6h0M246.0 750.4h0M234.5 738.8h0M238.0 745.4h0M245.7 749.7h0M253.6 754.8h0M253.7 752.8h0M252.2 754.2h0M251.5 755.8h0M252.7 752.9h0M256.4 752.7h0M259.2 744.5h0M286.0 741.5h0M271.7 732.7h0M238.8 731.9h0M246.4 749.5h0M249.8 755.1h0M247.0 753.5h0M248.9 753.4h0M237.3 745.2h0M248.7 752.0h0M279.6 687.9h0M243.5 750.4h0M245.3 749.9h0M285.4 721.6h0M243.2 750.7h0M282.3 708.8h0M246.7 749.9h0M247.4 752.2h0M247.8 744.4h0M257.7 748.2h0M244.0 742.9h0M239.1 739.5h0M250.9 755.9h0M245.2 752.2h0M257.7 751.3h0M246.9 754.1h0M242.9 750.7h0M260.8 747.1h0M262.4 752.3h0M246.4 750.9h0M255.2 748.0h0M235.2 748.4h0M249.5 754.9h0M245.1 741.4h0M241.4 749.5h0M256.2 752.9h0M235.7 749.5h0M240.9 752.2h0M264.6 740.3h0M241.7 742.8h0M245.9 753.4h0M256.6 740.1h0M256.5 748.0h0M242.8 748.0h0M235.5 738.8h0M231.3 744.9h0M277.1 715.4h0M250.8 756.2h0M258.6 735.5h0M253.4 754.3h0M248.9 752.6h0M246.6 752.2h0M234.7 720.9h0M263.2 722.5h0M261.6 747.2h0M257.6 740.7h0M248.0 753.0h0M249.2 755.1h0M234.7 743.9h0M237.6 742.1h0M278.2 741.5h0M249.3 754.9h0M255.4 751.8h0M257.4 752.0h0M256.1 753.3h0M254.8 750.2h0M242.7 744.0h0M248.0 754.3h0M252.8 747.9h0M255.5 752.1h0M249.6 754.3h0M250.2 755.6h0M232.5 745.8h0M247.5 752.7h0M230.7 734.8h0M241.7 750.2h0M278.0 741.9h0M245.2 749.9h0M244.9 748.9h0M285.2 727.6h0M246.5 747.5h0M253.2 754.4h0M233.8 740.5h0M245.1 753.1h0M247.5 754.3h0M255.1 746.5h0M245.3 750.5h0M248.8 752.4h0M275.5 741.7h0M241.9 750.7h0M253.4 754.3h0M248.0 752.8h0M239.5 745.7h0M240.6 743.1h0M247.0 751.3h0M258.0 750.9h0M251.6 755.3h0M236.3 736.7h0M260.5 751.8h0M255.3 753.3h0M255.8 742.4h0M249.3 754.8h0M251.1 755.7h0M244.2 735.2h0M241.1 754.0h0M252.9 755.6h0M266.8 723.8h0M265.1 747.2h0M248.9 753.4h0M249.5 755.5h0M251.4 754.8h0M247.6 753.4h0M244.2 751.2h0M212.6 732.1h0M254.7 750.9h0M280.0 734.4h0M228.5 741.9h0M244.4 752.9h0M273.3 745.3h0M248.9 753.7h0M236.7 741.7h0M249.0 752.6h0M273.2 738.1h0M253.4 754.6h0M262.2 739.1h0M253.4 751.1h0M277.6 738.3h0M244.2 745.3h0M257.6 747.9h0M250.3 755.9h0M250.2 755.9h0M267.2 732.2h0M253.4 753.5h0M254.3 751.5h0M256.3 748.8h0M250.4 755.9h0M276.2 749.5h0M244.1 752.8h0M257.9 747.8h0M257.9 752.4h0M263.5 742.8h0M268.5 742.3h0M254.2 751.1h0M240.0 735.0h0M270.7 748.9h0M234.3 749.5h0M243.8 749.2h0M239.2 750.9h0M247.8 752.7h0M245.6 749.8h0M218.4 743.2h0M242.0 739.3h0M232.9 746.6h0M273.8 737.7h0M275.4 729.3h0M270.0 713.2h0M226.0 737.5h0M245.3 752.9h0M220.0 740.4h0M223.7 736.3h0M226.0 732.3h0M252.0 752.1h0M257.1 742.2h0M243.7 749.9h0M286.6 728.6h0M245.0 749.1h0M238.0 742.3h0M241.9 744.3h0M222.9 743.0h0M275.2 743.6h0M249.9 755.4h0M260.6 734.9h0M252.5 754.3h0M250.9 756.1h0M258.1 751.6h0M251.4 756.0h0M227.6 734.7h0M234.9 729.1h0M250.6 756.1h0M247.5 749.9h0M269.9 737.3h0M253.7 752.9h0M263.4 716.3h0M255.1 747.9h0M242.9 747.7h0M252.0 755.7h0M239.2 750.1h0M241.0 742.6h0M248.2 753.4h0M241.8 748.2h0M229.8 708.9h0M273.1 746.5h0M253.0 754.9h0M244.0 740.2h0M246.3 751.1h0M242.6 750.1h0M252.8 749.0h0M254.2 752.1h0M257.5 749.1h0M242.5 751.0h0M251.5 755.7h0M236.3 739.3h0M250.6 756.0h0M232.1 723.5h0M250.6 756.1h0M242.5 746.0h0M250.8 756.2h0M277.5 742.0h0M251.7 755.5h0M260.0 748.1h0M266.8 747.2h0M261.3 744.7h0M246.8 743.2h0M261.5 747.9h0M257.3 745.8h0M249.2 754.8h0M246.0 751.8h0M242.6 752.1h0M256.1 748.5h0M250.5 755.8h0M249.8 755.0h0M248.7 751.9h0M251.7 754.4h0M239.1 744.7h0M246.6 746.6h0M260.1 737.5h0M238.9 748.4h0M255.2 753.8h0M241.9 733.3h0M241.4 739.5h0M246.6 750.1h0M227.4 728.9h0M234.5 751.1h0M245.7 747.0h0M257.4 743.5h0M234.8 713.0h0M254.2 751.4h0M250.2 755.3h0M268.7 747.6h0M254.9 748.5h0M246.6 752.5h0M226.5 748.1h0M243.7 751.8h0M240.6 737.2h0M253.8 754.3h0M227.0 746.5h0M239.4 751.1h0M251.9 754.3h0M245.5 753.4h0M285.6 732.5h0M255.8 754.5h0M261.9 733.0h0M245.4 752.2h0M253.5 751.6h0M266.0 751.2h0M251.9 754.7h0M254.4 752.3h0M245.9 752.6h0M246.2 752.8h0M259.3 738.7h0M246.8 752.0h0M265.1 748.5h0M237.2 748.7h0M256.9 749.2h0M242.8 743.6h0M246.8 749.6h0M247.7 749.6h0M257.5 747.2h0M249.4 754.2h0M243.6 746.5h0M250.1 755.1h0M250.4 756.0h0M256.0 744.0h0M249.2 755.0h0M248.8 752.2h0M258.1 754.0h0M270.9 725.7h0M244.2 753.3h0M244.5 744.9h0M244.2 749.2h0M238.2 747.0h0M227.6 740.6h0M255.6 743.0h0M252.0 754.6h0M252.5 755.2h0M264.1 749.6h0M250.4 755.9h0M250.2 756.0h0M263.3 748.9h0M254.7 751.2h0M215.2 724.4h0M246.6 751.9h0M252.8 755.0h0M244.4 741.0h0M243.8 749.0h0M251.8 755.3h0M265.4 738.3h0M255.0 753.2h0M260.1 739.0h0M253.6 755.0h0M254.7 752.5h0M270.0 745.3h0M257.2 747.1h0M243.3 748.9h0M257.5 748.4h0M240.5 753.0h0M251.5 755.5h0M239.6 739.5h0M229.9 744.9h0M251.1 755.9h0M257.6 748.7h0M243.0 739.4h0M249.2 755.2h0M254.8 749.0h0M230.9 733.5h0M256.8 751.4h0M239.0 748.4h0M249.6 755.1h0M239.9 748.0h0M247.0 752.7h0M242.8 747.5h0M262.8 746.0h0M248.0 755.2h0M251.0 756.1h0M236.6 743.4h0M256.7 738.0h0M218.4 748.6h0M255.3 754.0h0M227.3 743.8h0M274.6 725.1h0M210.5 743.2h0M247.4 753.4h0M276.9 747.4h0M254.3 751.4h0M237.4 739.3h0M258.0 746.7h0M256.0 736.1h0M264.2 747.0h0M252.9 750.7h0M240.6 735.5h0M252.7 753.8h0M278.2 709.8h0M279.7 737.6h0M254.4 754.2h0M279.5 711.6h0M240.5 742.4h0M250.0 755.7h0M236.4 739.9h0M249.8 754.9h0M253.4 753.5h0M259.4 752.9h0M245.7 752.8h0M252.4 753.3h0M243.3 749.1h0M256.0 748.4h0M249.3 755.4h0M225.1 735.5h0M264.5 739.0h0M253.0 754.1h0M254.0 753.1h0M241.8 737.1h0M259.0 751.8h0M233.6 745.7h0M248.6 754.7h0M246.2 738.4h0M273.6 733.6h0M264.1 733.4h0M254.4 750.3h0M240.5 742.3h0M239.2 749.3h0M262.9 746.7h0M245.7 749.1h0M249.7 755.3h0M268.5 750.0h0M251.8 755.1h0M249.6 755.2h0M260.3 751.1h0M257.7 748.2h0M260.8 750.9h0M262.4 736.4h0M230.3 747.1h0M263.8 748.4h0M261.0 748.9h0M248.5 754.1h0M261.9 720.9h0M252.0 755.6h0M275.1 739.0h0M256.3 751.7h0M229.8 746.2h0M253.2 751.5h0M241.3 752.7h0M244.8 752.1h0M249.5 755.2h0M240.8 739.7h0M277.3 724.0h0M241.0 703.1h0M249.0 755.2h0M251.3 755.8h0M247.2 753.2h0M251.5 755.5h0M247.5 752.3h0M261.3 749.3h0M271.6 743.0h0M274.5 729.0h0M254.0 754.3h0M254.5 743.2h0M249.0 755.1h0M249.5 753.5h0M250.0 755.2h0M249.5 755.4h0M249.2 754.8h0M218.3 745.3h0M237.7 746.6h0M261.0 742.7h0M250.4 755.6h0M259.0 737.5h0M260.4 748.5h0M261.6 744.0h0M253.7 750.8h0M254.8 740.9h0M247.2 751.8h0M250.0 755.9h0M243.4 751.4h0M259.1 745.1h0M246.7 750.9h0M246.0 753.3h0M249.8 754.5h0M231.4 748.6h0M254.8 746.8h0M246.1 750.6h0M255.3 755.1h0M254.2 750.4h0M274.3 705.7h0M246.4 753.2h0M249.9 755.3h0M256.1 748.6h0M256.7 750.7h0M261.8 744.4h0M252.9 755.3h0M258.4 744.8h0M246.1 749.8h0M252.7 754.5h0M248.7 753.8h0M264.3 743.0h0M244.3 746.3h0M249.4 753.9h0M257.6 750.5h0M240.2 740.8h0M256.0 745.4h0M262.8 748.0h0M252.0 755.7h0M242.1 743.9h0M247.7 753.7h0M247.2 750.0h0M253.5 751.2h0M266.2 739.2h0M248.1 754.1h0M255.6 753.5h0M250.7 755.9h0M244.1 739.2h0M257.6 742.5h0M239.1 752.3h0M262.4 747.7h0M275.2 727.6h0M245.3 750.7h0M246.3 746.5h0M230.6 726.4h0M217.9 731.7h0M247.8 750.3h0M247.3 752.3h0M266.4 731.2h0M256.6 749.2h0M260.4 735.1h0M252.9 754.4h0M245.8 746.4h0M236.0 738.3h0M253.8 754.3h0M251.2 754.7h0M234.4 746.0h0M272.2 733.4h0M249.5 755.2h0M259.7 753.0h0M228.9 745.7h0M255.9 751.3h0M264.4 745.9h0M245.4 753.5h0M247.8 753.2h0M264.1 747.3h0M254.0 752.0h0M245.4 750.2h0M261.7 745.4h0M242.9 746.4h0M248.1 752.5h0M251.3 755.8h0M249.1 754.6h0M232.3 737.5h0M261.3 737.2h0M260.6 743.5h0M246.0 751.0h0M252.9 752.6h0M262.0 737.4h0M261.9 750.0h0M252.8 753.4h0M250.2 755.4h0M269.6 742.3h0M255.4 743.7h0M225.4 746.7h0M261.2 745.6h0M260.1 746.4h0M259.0 748.6h0M243.6 748.5h0M237.2 744.7h0M247.8 750.3h0M245.8 752.2h0M239.2 745.2h0M255.0 754.3h0M241.9 746.3h0M246.8 752.5h0M237.6 738.1h0M252.0 755.6h0M278.1 744.6h0M247.0 748.4h0M255.4 753.2h0M249.5 755.3h0M269.2 741.2h0M250.6 755.9h0M243.1 738.8h0M256.7 746.1h0M287.6 735.1h0M247.7 754.0h0M255.5 752.0h0M250.1 755.5h0M247.8 752.0h0M251.6 755.6h0M268.2 740.9h0M260.7 750.0h0M257.6 745.6h0M239.0 753.2h0M244.7 728.8h0M267.4 747.4h0M248.9 754.8h0M239.3 751.5h0M247.0 754.1h0M271.9 740.4h0M268.3 743.2h0M255.7 751.1h0M281.3 726.8h0M255.3 752.8h0M254.1 752.3h0M249.6 753.9h0M236.9 750.1h0M257.5 748.7h0M253.1 753.3h0M248.5 752.8h0M224.9 740.8h0M244.7 733.9h0M243.4 751.6h0M212.7 733.3h0M223.1 721.2h0M277.3 748.8h0M246.1 751.0h0M229.0 723.5h0M246.4 740.2h0M241.3 741.6h0M234.3 743.1h0M244.4 749.0h0M256.1 752.0h0M257.6 740.9h0M241.0 735.6h0M259.0 747.1h0M246.2 753.0h0M223.7 742.9h0M261.9 733.3h0M241.1 751.9h0M244.8 751.0h0M249.7 755.5h0M243.3 740.4h0M243.4 748.5h0M247.4 752.3h0M267.2 733.1h0M242.9 750.0h0M234.1 741.0h0M252.0 754.6h0M244.4 745.1h0M292.8 732.4h0M231.0 743.1h0M247.2 746.7h0M246.3 747.1h0M253.6 753.2h0M215.9 745.2h0M236.3 734.6h0M272.6 746.1h0M240.3 747.5h0M253.5 753.8h0M250.8 756.2h0M236.3 744.6h0M239.2 750.7h0M263.0 747.0h0M232.2 741.3h0M258.5 750.2h0M241.9 743.2h0M258.5 749.2h0M283.8 738.0h0M226.9 730.9h0M247.0 752.8h0M267.6 748.7h0M243.4 738.5h0M238.7 744.2h0M244.0 732.4h0M259.4 752.7h0M249.6 754.4h0M244.2 747.1h0M274.7 740.7h0M243.0 752.5h0M219.8 737.3h0M248.1 748.9h0M257.3 747.6h0M251.2 755.6h0M255.3 752.9h0M247.4 752.2h0M249.9 755.0h0M254.2 751.5h0M249.2 755.1h0M252.0 755.3h0M269.3 743.2h0M255.5 740.8h0M262.1 746.8h0M242.4 752.2h0M257.1 745.5h0M235.6 751.1h0M254.6 746.4h0M248.2 755.0h0M261.1 730.0h0M252.7 754.4h0M261.9 737.0h0M266.7 741.0h0M261.9 749.7h0M247.6 753.2h0M248.2 753.1h0M253.6 750.6h0M252.5 755.5h0M248.9 747.4h0M249.6 753.0h0M217.8 738.9h0M250.3 755.7h0M255.2 752.2h0M259.2 751.9h0M237.4 735.9h0M243.4 749.5h0M253.0 754.6h0M250.7 756.1h0M233.4 732.8h0M256.8 749.2h0M250.6 755.8h0M228.5 744.1h0M238.2 737.5h0M257.1 754.0h0M251.0 756.1h0M260.2 747.2h0M232.8 735.5h0M254.3 754.8h0M245.5 752.1h0M245.9 750.1h0M250.1 755.6h0M237.2 739.6h0M252.7 754.1h0M261.7 749.0h0M255.5 749.9h0M262.9 743.2h0M261.8 738.4h0M252.2 755.1h0M251.9 755.4h0M254.8 749.9h0M260.9 741.6h0M239.8 743.3h0M246.6 742.9h0M251.0 756.1h0M265.2 748.1h0M232.7 741.5h0M239.3 744.8h0M237.9 750.8h0M244.9 751.9h0M270.7 736.0h0M270.6 735.3h0M248.6 747.1h0M252.0 754.4h0M260.7 731.5h0M255.8 752.2h0M218.7 747.9h0M255.8 751.0h0M254.2 752.1h0M252.7 752.8h0M253.4 751.7h0M257.6 742.7h0M254.2 751.9h0M254.0 751.0h0M239.8 689.1h0M257.5 745.2h0M276.1 735.7h0M237.2 742.6h0M256.4 751.2h0M254.0 752.4h0M238.2 747.6h0M226.2 746.1h0M249.9 755.3h0M241.6 745.9h0M250.7 756.2h0M243.0 745.4h0M253.6 754.5h0M253.1 753.5h0M251.1 756.1h0M253.5 750.8h0M247.3 755.1h0M254.9 750.7h0M259.2 746.0h0M253.8 754.2h0M257.8 747.5h0M244.3 750.9h0M243.2 750.7h0M253.5 755.2h0M257.9 749.0h0M247.8 752.6h0M276.2 735.7h0M221.4 727.7h0M260.9 745.0h0M252.2 754.5h0M261.4 742.6h0M264.9 747.6h0M256.3 729.6h0M252.2 755.0h0M247.3 749.7h0M232.8 746.1h0M260.9 747.0h0M265.2 735.0h0M248.8 753.3h0M228.2 734.6h0M253.6 753.1h0M262.5 746.5h0M256.2 750.2h0M257.6 753.4h0M252.7 753.0h0M227.4 750.1h0M255.3 750.1h0M242.8 747.3h0M266.8 739.2h0M265.4 742.2h0M242.3 747.8h0M251.1 756.1h0M269.8 745.9h0M253.1 754.8h0M228.7 714.7h0M247.9 753.5h0M257.9 747.9h0M243.2 747.0h0M233.7 743.9h0M256.9 753.0h0M277.3 735.5h0M264.6 750.4h0M273.1 723.4h0M253.5 754.3h0M246.2 751.3h0M280.1 738.8h0M222.6 737.8h0M227.1 736.9h0M257.6 737.1h0M275.4 725.9h0M210.6 736.5h0M258.3 731.4h0M249.1 753.8h0M268.4 741.4h0M230.8 740.9h0M251.6 755.6h0M238.6 751.2h0M276.8 741.5h0M248.2 754.1h0M289.3 731.3h0M240.4 729.8h0M257.0 750.3h0M236.9 735.3h0M255.8 749.1h0M257.3 743.8h0M249.5 755.3h0M243.9 726.0h0M255.6 752.0h0M275.7 735.3h0M249.7 755.3h0M270.5 737.4h0M264.2 737.1h0M277.6 729.8h0M265.4 740.1h0M256.1 751.6h0M252.2 755.0h0M245.2 742.7h0M258.2 742.4h0M257.7 753.0h0M233.4 744.0h0M256.0 749.9h0M240.3 732.1h0M256.1 736.0h0M251.5 755.7h0M269.9 736.4h0M246.0 745.8h0M269.0 722.1h0M244.1 738.8h0M244.6 750.4h0M255.2 754.4h0M266.5 735.8h0M245.2 737.5h0M222.0 737.1h0M247.4 752.3h0M259.9 753.5h0M264.4 744.4h0M257.9 743.4h0M219.2 716.4h0M243.8 742.2h0M257.8 752.0h0M267.8 748.5h0M243.1 730.0h0M250.9 756.0h0M245.8 739.7h0M236.9 741.6h0M251.9 755.3h0M253.6 749.4h0M246.7 754.3h0M252.7 754.9h0M226.9 731.3h0M241.4 746.2h0M239.4 737.1h0M239.6 740.2h0M232.2 748.5h0M255.1 748.9h0M243.1 752.9h0M250.0 755.7h0M252.2 755.0h0M254.4 754.2h0M246.2 752.2h0M278.7 740.3h0M251.8 754.9h0M247.9 754.8h0M270.7 729.7h0M236.3 742.5h0M244.0 747.3h0M252.6 754.6h0M247.0 753.4h0M246.6 747.2h0M250.6 756.1h0M248.8 754.6h0M247.1 755.0h0M244.8 752.1h0M234.4 744.7h0M258.9 750.3h0M248.2 753.7h0M283.4 720.3h0M249.0 755.6h0M222.2 742.8h0M266.0 740.5h0M255.9 750.8h0M245.4 753.7h0M254.3 753.2h0M243.6 745.1h0M252.0 755.2h0M251.4 755.7h0M250.0 752.4h0M256.8 752.4h0M267.9 744.8h0M247.3 755.4h0M237.9 741.5h0M263.6 741.4h0M266.4 751.1h0M256.1 748.3h0M242.6 738.8h0M234.6 750.2h0M232.0 748.1h0M236.7 742.9h0M277.8 736.6h0M247.0 753.1h0M242.4 737.7h0M238.8 750.9h0M255.8 747.4h0M253.8 753.4h0M253.2 752.4h0M251.3 755.1h0M257.5 749.6h0M251.4 755.4h0M245.1 737.4h0M243.2 752.8h0M254.3 753.1h0M258.6 748.5h0M254.8 749.4h0M225.0 743.8h0M245.8 748.3h0M207.4 736.3h0M239.0 739.2h0M259.3 749.1h0M230.9 745.1h0M259.8 738.6h0M253.5 754.3h0M249.5 752.8h0M250.6 755.5h0M257.7 750.9h0M261.0 744.7h0M247.8 755.0h0M275.7 735.5h0M274.4 737.9h0M232.2 744.3h0M251.0 756.1h0M250.4 756.0h0M249.9 754.8h0M261.2 747.5h0M253.4 755.1h0M242.6 750.0h0M251.5 755.7h0M256.3 743.8h0M263.0 729.9h0M251.6 755.9h0M252.5 755.2h0M226.7 726.2h0M239.1 742.1h0M250.3 755.9h0M254.3 750.9h0M249.9 755.9h0M253.9 749.4h0M262.3 750.9h0M222.2 748.4h0M253.7 751.6h0M252.7 753.4h0M259.4 747.5h0M251.4 755.8h0M245.7 748.8h0M254.9 753.9h0M250.0 755.6h0M258.3 745.3h0M258.1 746.3h0M255.0 754.8h0M254.5 752.8h0M242.5 737.4h0M257.8 753.5h0M264.4 739.7h0M232.2 738.7h0M246.0 751.8h0M238.3 749.4h0M259.7 746.8h0M249.0 754.1h0M258.8 752.3h0M247.9 754.5h0M251.5 755.2h0M222.2 739.7h0M256.8 750.6h0M251.9 755.5h0M274.1 736.7h0M247.2 751.6h0M235.9 747.2h0M267.7 718.6h0M226.9 742.4h0M260.2 747.5h0M269.7 747.0h0M247.0 750.6h0M252.5 755.4h0M254.7 750.8h0M238.6 746.0h0M252.7 754.1h0M254.3 754.4h0M236.2 725.8h0M241.9 740.1h0M240.1 744.0h0M232.4 738.0h0M267.7 738.9h0M241.1 744.8h0M274.8 726.8h0M240.3 741.2h0M250.5 756.1h0M247.4 749.1h0M223.5 738.9h0M259.4 740.8h0M239.9 739.4h0M262.0 743.3h0M255.4 743.2h0M256.2 752.1h0M249.3 755.4h0M250.6 755.8h0M284.0 721.7h0M242.1 743.2h0M230.6 742.1h0M244.6 748.9h0M248.0 752.8h0M234.8 734.3h0M254.7 750.6h0M240.1 744.5h0M256.9 747.9h0M219.9 718.2h0M267.0 746.8h0M255.2 751.2h0M283.7 715.1h0M224.6 697.7h0M252.0 755.4h0M250.3 754.6h0M254.5 754.1h0M245.5 750.7h0M256.3 749.7h0M251.2 756.0h0M249.6 754.8h0M250.2 755.3h0M246.9 754.4h0M221.0 730.0h0M266.2 752.6h0M249.7 754.8h0M250.8 756.2h0M260.1 738.3h0M258.7 751.7h0M243.6 746.7h0M260.0 738.9h0M251.8 754.6h0M251.0 756.0h0M262.7 747.4h0M253.6 754.8h0M244.3 745.9h0M253.9 752.6h0M255.0 754.1h0M252.2 755.6h0M245.2 747.2h0M259.7 752.6h0M247.6 753.9h0M254.2 754.0h0M250.9 756.1h0M245.7 749.8h0M238.9 744.2h0M245.0 752.9h0M232.7 744.6h0M263.3 728.1h0M257.8 753.7h0M264.5 750.8h0M255.6 753.1h0M276.9 744.4h0M251.7 754.9h0M249.3 753.0h0M257.7 748.6h0M244.8 753.1h0M263.8 741.8h0M244.9 751.0h0M264.8 736.8h0M253.3 754.3h0M256.3 751.3h0M263.4 741.4h0M258.4 753.3h0M256.5 741.3h0M251.8 755.5h0M252.9 749.7h0M261.0 752.5h0M244.9 750.2h0M269.6 748.9h0M240.9 740.2h0M245.3 752.9h0M282.6 744.9h0M258.3 749.9h0M238.4 746.0h0M267.4 742.6h0M247.7 752.8h0M248.5 754.8h0M269.6 746.8h0M256.7 753.5h0M265.2 738.3h0M258.3 751.2h0M234.1 748.9h0M249.4 753.6h0M264.5 744.3h0M246.8 752.4h0M250.3 755.7h0M262.4 739.2h0M246.5 755.4h0M247.8 753.9h0M242.0 749.2h0M244.4 750.0h0M244.5 750.1h0M233.4 744.0h0M254.8 754.8h0M243.4 739.5h0M240.0 735.9h0M273.1 723.3h0M257.8 749.1h0M248.8 754.8h0M265.2 751.6h0M251.3 755.5h0M249.8 754.7h0M266.3 739.8h0M242.6 749.4h0M256.0 752.2h0M250.0 755.3h0M240.9 749.0h0M239.1 749.6h0M249.7 754.9h0M266.2 675.1h0M251.7 755.6h0M232.7 742.6h0M252.1 751.1h0M249.8 755.7h0M253.4 753.0h0M260.4 741.2h0M258.7 748.3h0M247.5 747.7h0M253.8 752.4h0M246.6 749.6h0M249.1 753.3h0M245.9 742.5h0M260.5 749.2h0M282.3 742.2h0M264.0 750.5h0M244.6 747.0h0M267.7 744.6h0M257.5 744.4h0M255.9 752.0h0M237.6 724.6h0M249.2 753.5h0M246.7 754.0h0M225.3 741.8h0M258.9 753.5h0M247.4 752.1h0M232.8 745.0h0M250.8 756.2h0M247.9 754.6h0M261.3 742.9h0M251.0 756.1h0M244.4 745.1h0M254.2 750.4h0M246.7 753.8h0M243.7 748.7h0M262.8 745.3h0M247.6 749.9h0M255.5 753.7h0M249.4 755.0h0M247.8 741.6h0M248.5 753.9h0M248.9 753.8h0M238.5 742.1h0M251.0 756.1h0M254.1 753.5h0M283.3 725.0h0M257.0 724.4h0M258.8 749.0h0M253.7 753.4h0M250.4 755.8h0M266.0 751.9h0M258.2 741.7h0M240.7 743.9h0M254.9 747.7h0M258.1 749.3h0M244.7 739.4h0M256.6 750.3h0M261.5 740.4h0M240.7 744.6h0M260.4 749.5h0M254.8 753.6h0M253.2 751.6h0M237.2 736.1h0M249.7 755.4h0M255.3 750.1h0M243.4 744.7h0M258.4 753.1h0M272.6 743.0h0M268.5 738.4h0M250.0 754.3h0M212.2 740.7h0M248.9 751.5h0M245.6 749.6h0M245.5 750.6h0M248.8 754.9h0M247.3 754.2h0M253.2 753.8h0M249.2 753.9h0M244.4 751.9h0M245.8 753.7h0M253.6 753.8h0M251.2 756.0h0M250.8 756.1h0M246.5 750.8h0M238.6 746.1h0M247.3 752.6h0M250.8 756.2h0M253.7 755.1h0M248.6 754.4h0M238.3 735.4h0M258.1 749.2h0M243.7 728.7h0M271.0 732.5h0M259.0 753.0h0M262.0 729.0h0M242.1 747.6h0M258.4 740.4h0M260.5 745.9h0M253.6 751.7h0M257.9 744.7h0M255.3 744.6h0M248.8 753.5h0M258.9 736.8h0M250.9 756.1h0M247.8 752.2h0M249.4 755.1h0M253.5 753.7h0M262.8 749.9h0M251.9 755.5h0M256.1 747.6h0M247.7 750.5h0M208.1 727.3h0M251.4 755.6h0M263.2 745.6h0M246.0 749.4h0M253.6 752.4h0M261.2 751.8h0M257.5 749.3h0M273.4 738.1h0M251.6 754.6h0M256.0 753.9h0M254.8 748.9h0M253.1 753.7h0M235.0 752.3h0M256.2 749.9h0M254.1 751.8h0M253.6 752.1h0M257.8 725.7h0M254.4 754.6h0M261.3 753.0h0M242.3 747.9h0M244.5 751.2h0M231.4 705.2h0M257.1 751.5h0M232.3 742.0h0M232.7 732.0h0M242.9 751.7h0M244.9 746.4h0M255.6 748.9h0M243.3 742.2h0M219.2 734.2h0M251.0 756.0h0M257.9 747.7h0M252.5 754.4h0M266.9 732.3h0M268.6 739.9h0M240.0 748.4h0M253.4 753.9h0M236.4 734.1h0M245.4 751.6h0M246.6 753.3h0M236.5 744.2h0M249.7 754.7h0M240.4 749.2h0M243.5 745.1h0M252.6 749.2h0M237.5 732.8h0M252.9 754.9h0M272.4 749.5h0M258.3 752.5h0M258.4 753.9h0M255.0 753.9h0M240.1 738.3h0M265.0 749.3h0M228.4 747.3h0M252.8 748.4h0M249.8 753.1h0M246.1 747.9h0M247.8 747.3h0M250.8 756.2h0M252.0 754.7h0M259.8 719.4h0M260.7 752.6h0M272.3 737.7h0M251.0 755.9h0M257.0 752.3h0M256.4 749.9h0M244.3 751.6h0M247.5 754.2h0M259.7 751.6h0M265.7 725.5h0M254.1 752.7h0M261.8 742.0h0M245.4 748.3h0M228.9 735.5h0M257.8 749.0h0M210.6 736.8h0M247.6 749.2h0M263.0 746.9h0M260.9 740.8h0M254.4 751.6h0M267.2 730.6h0M278.2 741.9h0M238.3 734.8h0M246.5 751.3h0M245.7 749.0h0M255.1 751.4h0M273.3 743.8h0M267.7 746.8h0M249.2 755.5h0M246.3 751.6h0M249.0 754.3h0M262.5 734.7h0M266.2 744.9h0M260.1 753.2h0M238.4 749.5h0M260.9 748.3h0M255.2 747.9h0M245.7 752.0h0M255.0 754.7h0M260.5 746.0h0M239.9 738.5h0M270.8 742.7h0M253.4 753.3h0M254.5 753.2h0M254.8 754.5h0M265.8 746.1h0M254.8 752.2h0M250.1 755.6h0M234.3 748.6h0M249.2 755.4h0M252.7 754.3h0M238.5 735.4h0M267.3 747.4h0M240.6 741.6h0M262.3 729.9h0M246.8 750.0h0M245.5 746.0h0M234.4 723.8h0M235.5 740.3h0M252.8 752.7h0M253.8 751.7h0M262.7 732.1h0M252.7 753.2h0M259.3 737.0h0M249.7 753.8h0M246.6 753.0h0M246.3 752.0h0M253.6 753.1h0M268.0 750.9h0M242.8 750.6h0M251.7 755.1h0M263.7 731.6h0M268.9 733.0h0M262.8 740.9h0M259.6 729.0h0M252.4 753.6h0M250.1 755.7h0M236.1 747.0h0M228.9 736.0h0M254.9 747.0h0M228.4 745.4h0M246.6 753.7h0M262.8 752.1h0M240.9 753.3h0M233.5 750.9h0M274.0 747.8h0M256.4 742.3h0M262.9 745.2h0M248.6 753.3h0M260.0 732.1h0M225.3 717.0h0M255.0 754.1h0M240.5 754.4h0M246.0 753.2h0M252.9 743.8h0M257.6 747.3h0M225.1 719.3h0M260.9 745.1h0M271.3 743.9h0M241.0 741.8h0M236.6 744.4h0M247.9 755.2h0M258.2 752.2h0M260.0 751.3h0M254.7 753.8h0M239.6 734.5h0M256.3 740.3h0M254.4 751.6h0M249.6 753.3h0M256.2 753.2h0M251.5 755.2h0M226.1 699.9h0M264.3 742.6h0M242.4 744.1h0M238.0 751.1h0M246.7 752.2h0M253.4 753.8h0M260.0 751.4h0M209.7 743.4h0M249.3 755.2h0M262.1 743.9h0M251.7 755.2h0M257.4 750.9h0M237.1 743.3h0M245.6 747.6h0M253.2 754.1h0M254.8 752.8h0M267.4 749.4h0M231.1 726.7h0M252.8 750.3h0M250.3 756.0h0M269.6 752.6h0M254.0 750.6h0M258.8 739.0h0M247.7 753.0h0M267.8 734.4h0M257.6 738.1h0M278.0 745.2h0M262.8 743.4h0M244.7 748.4h0M218.9 737.0h0M244.5 751.9h0M251.4 755.7h0M262.4 737.9h0M243.1 743.7h0M251.4 755.2h0M251.1 756.0h0M237.8 743.5h0M263.5 745.7h0M249.8 754.4h0M247.8 753.8h0M246.8 750.4h0M261.2 731.4h0M245.5 744.7h0M251.9 754.0h0M255.0 749.1h0M255.9 752.0h0M251.5 755.9h0M252.1 755.0h0M234.7 747.1h0M267.4 730.9h0M269.4 738.4h0M223.5 732.3h0M239.7 740.5h0M250.1 755.7h0M256.2 753.3h0M261.7 740.9h0M242.2 732.5h0M260.2 751.3h0M236.6 746.4h0M262.6 748.5h0M251.8 755.5h0M255.9 751.2h0M257.9 737.1h0M244.4 744.7h0M250.6 756.1h0M251.9 754.1h0M254.6 751.7h0M250.6 755.9h0M265.9 731.0h0M257.7 742.8h0M259.1 752.0h0M256.3 750.2h0M258.6 742.6h0M256.9 736.2h0M246.2 751.0h0M273.8 729.9h0M273.5 721.5h0M255.4 752.0h0M251.0 755.8h0M245.1 750.8h0M248.3 751.4h0M261.2 747.9h0M281.0 744.8h0M265.5 738.4h0M229.9 734.1h0M228.4 738.5h0M230.0 740.5h0M255.1 744.4h0M245.7 749.9h0M253.4 755.5h0M245.4 754.5h0M229.9 724.3h0M241.6 752.4h0M238.7 749.8h0M252.1 752.9h0M258.1 739.5h0M241.5 753.1h0M259.0 749.6h0M235.3 742.9h0M287.0 730.0h0M253.1 754.5h0M255.3 750.3h0M242.3 751.0h0M244.8 737.4h0M253.9 754.4h0M231.8 721.5h0M258.9 731.2h0M244.7 745.0h0M276.3 739.3h0M252.5 754.4h0M258.3 751.0h0M251.2 755.8h0M275.0 734.0h0M225.9 729.7h0M245.0 745.6h0M276.9 734.9h0M233.3 741.2h0M250.1 755.5h0M254.9 754.2h0M243.4 752.0h0M209.7 740.3h0M262.0 743.1h0M231.0 742.3h0M248.1 752.9h0M266.9 746.0h0M249.7 754.0h0M263.9 743.5h0M271.5 738.9h0M245.0 749.2h0M254.3 753.5h0M252.9 755.8h0M240.3 743.8h0M245.2 751.9h0M248.9 755.2h0M244.4 745.4h0M250.5 755.9h0M249.1 748.1h0M236.8 738.3h0M245.5 753.1h0M254.4 754.2h0M261.9 739.9h0M228.6 740.3h0M237.6 738.1h0M249.7 755.0h0M249.0 754.2h0M266.8 742.7h0M265.2 745.2h0M247.8 752.5h0M221.8 750.6h0M255.3 755.3h0M231.7 750.8h0M291.7 729.5h0M229.2 749.5h0M253.1 754.4h0M252.7 755.7h0M224.6 738.6h0M249.4 755.7h0M210.3 747.9h0M227.5 742.7h0M263.2 751.2h0M272.3 743.9h0M234.4 749.2h0M283.2 747.1h0M246.9 755.0h0M272.2 746.9h0M283.7 749.8h0M259.6 754.0h0M247.2 754.6h0M238.6 750.8h0M235.8 752.4h0M211.3 747.5h0M229.3 748.9h0M268.3 750.4h0M275.0 723.9h0M259.6 752.0h0M215.5 747.3h0M281.8 743.3h0M268.5 749.4h0M248.9 755.7h0M261.9 753.3h0M281.7 743.4h0M254.8 755.2h0M231.8 732.6h0M282.6 749.1h0M248.4 754.7h0M287.9 747.2h0M291.4 748.1h0M293.6 737.9h0M242.0 752.8h0M228.9 753.4h0M282.3 745.0h0M249.1 755.3h0M241.9 748.2h0M250.1 756.0h0M225.6 752.9h0M257.4 753.2h0M288.6 746.8h0M215.3 746.9h0M273.6 732.9h0M264.2 752.7h0M219.0 732.7h0M229.5 735.3h0M253.8 755.6h0M221.1 745.9h0M237.0 752.4h0M269.2 750.4h0M271.4 749.8h0M290.1 739.1h0M232.2 754.0h0M245.7 754.9h0M280.8 742.5h0M289.2 749.2h0M253.2 754.9h0M257.5 754.1h0M236.3 753.8h0M265.0 751.0h0M280.0 749.5h0M273.1 750.3h0M274.9 750.9h0M213.9 750.1h0M233.9 748.7h0M231.8 752.7h0M234.9 752.4h0M240.9 751.9h0M233.6 750.9h0M291.4 749.3h0M261.2 754.2h0M227.1 748.5h0M246.9 755.5h0M266.7 753.0h0M245.6 751.8h0M259.2 752.8h0M220.2 742.6h0M258.4 753.2h0M272.4 748.8h0M251.8 756.0h0M267.8 751.0h0M250.9 756.2h0M259.7 752.7h0M290.0 746.2h0M226.4 747.9h0M267.5 749.5h0M257.9 753.7h0M284.1 746.5h0M282.3 737.3h0M270.1 742.4h0M262.8 752.2h0M241.4 752.4h0M255.3 753.7h0M284.5 740.5h0M280.7 751.5h0M218.0 733.7h0M238.9 752.9h0M223.9 751.4h0M264.1 752.6h0M267.6 749.9h0M270.0 751.6h0M237.5 751.3h0M228.9 742.8h0M277.2 749.0h0M273.5 746.0h0M241.2 751.4h0M224.1 744.2h0M257.3 753.2h0M251.3 756.1h0M223.5 746.7h0M236.3 754.0h0M224.5 751.8h0M253.0 756.1h0M216.7 748.4h0M248.1 754.4h0M254.4 755.5h0M272.3 748.6h0M238.8 754.2h0M256.7 753.0h0M291.5 744.3h0M270.5 751.0h0M264.4 752.3h0M277.0 745.7h0M213.1 736.2h0M242.3 752.0h0M243.6 753.0h0M258.4 754.2h0M282.6 739.3h0M263.3 753.9h0M247.9 755.7h0M256.8 755.0h0M245.8 753.6h0M268.5 748.3h0M263.3 753.0h0M259.0 751.3h0M272.1 752.6h0M221.3 744.1h0M261.8 753.9h0M219.1 746.6h0M257.0 752.0h0M251.9 755.7h0M224.4 751.5h0M253.3 755.2h0M247.1 755.0h0M250.3 756.1h0M276.0 739.8h0M251.2 756.1h0M279.7 744.4h0M248.4 755.8h0M233.1 742.8h0M262.9 753.0h0M271.1 745.4h0M264.6 751.7h0M249.2 755.5h0M248.0 755.6h0M282.3 749.1h0M266.5 753.5h0M270.1 739.3h0M265.3 750.9h0M254.0 754.6h0M253.3 755.7h0M281.2 744.9h0M292.9 738.0h0M231.9 749.3h0M291.6 747.4h0M232.0 743.2h0M277.7 746.8h0M241.6 753.4h0M292.1 738.6h0M244.9 752.2h0M262.2 751.2h0M243.5 754.5h0M237.8 754.2h0M268.3 748.6h0M245.8 753.5h0M258.9 753.7h0M210.6 742.5h0M232.3 744.0h0M280.5 730.0h0M254.2 754.8h0M209.4 744.8h0M247.7 755.5h0M208.1 749.5h0M225.4 739.0h0M268.5 751.6h0M259.1 751.9h0M272.6 735.7h0M260.6 752.0h0M271.8 747.9h0M258.8 754.5h0M270.2 747.5h0M293.3 744.5h0M256.3 752.5h0M251.9 755.9h0M214.6 750.0h0M229.4 748.3h0M247.0 755.1h0M215.4 749.8h0M219.6 751.2h0M218.1 752.4h0M259.0 753.3h0M232.8 750.7h0M286.6 748.8h0M237.7 753.2h0M263.3 751.2h0M240.2 751.4h0M275.6 742.9h0M256.5 755.4h0M234.1 751.7h0M227.1 746.0h0M258.3 752.0h0M207.2 749.7h0M274.7 750.7h0M280.6 751.7h0M256.9 755.0h0M257.3 753.9h0M280.1 741.7h0M243.3 754.9h0M286.7 750.8h0M271.8 751.6h0M291.1 748.7h0M270.3 747.3h0M232.0 750.4h0M259.6 753.6h0M231.6 748.8h0M253.9 755.5h0M233.2 748.4h0M240.4 751.4h0M281.3 750.6h0M253.2 755.3h0M264.2 752.1h0M257.9 752.9h0M277.4 746.2h0M207.1 728.5h0M293.8 735.2h0M231.2 748.5h0M224.9 739.7h0M257.2 754.7h0M267.0 752.2h0M275.5 751.9h0M256.9 754.2h0M275.5 749.9h0M242.8 755.1h0M245.2 755.1h0M231.1 749.9h0M226.3 743.1h0M233.0 750.5h0M278.5 750.7h0M236.1 753.4h0M246.8 755.5h0M235.7 747.2h0M274.1 748.6h0M229.5 749.7h0M237.8 752.9h0M271.0 751.8h0M242.7 755.5h0M274.8 745.0h0M231.9 751.5h0M280.2 747.2h0M243.2 754.2h0M252.0 755.7h0M253.7 754.0h0M288.2 740.9h0M247.2 755.5h0M252.3 755.8h0M291.5 740.0h0M245.3 752.3h0M230.2 749.3h0M233.4 736.3h0M220.8 746.6h0M223.1 753.4h0M211.9 744.6h0M284.0 733.2h0M251.9 755.7h0M251.1 756.1h0M279.6 746.0h0M274.2 752.6h0M279.0 748.8h0M292.1 740.4h0M257.5 751.7h0M273.8 743.1h0M247.4 755.4h0M221.8 745.0h0M255.1 754.5h0M259.9 747.1h0M247.0 755.1h0M282.0 741.0h0M282.4 742.8h0M257.5 753.0h0M269.6 752.3h0M216.3 742.5h0M267.4 748.4h0M292.6 730.8h0M244.6 754.3h0M218.8 743.5h0M256.2 754.5h0M249.5 755.9h0M262.3 752.4h0M253.7 754.2h0M255.6 753.1h0M256.8 753.0h0M268.2 751.4h0M246.3 754.6h0M231.7 750.5h0M273.3 744.3h0M258.9 753.6h0M230.9 748.6h0M206.9 750.1h0M259.8 754.0h0M277.7 749.8h0M257.4 752.6h0M248.5 755.2h0M283.2 749.1h0M277.1 736.8h0M222.2 751.1h0M266.7 747.7h0M260.2 752.6h0M213.8 749.8h0M249.5 755.9h0M246.3 755.0h0M271.5 752.3h0M206.3 747.4h0M255.2 754.4h0M258.2 753.0h0M241.3 755.1h0M243.2 750.9h0M243.3 754.9h0M277.5 750.6h0M206.4 736.1h0M273.5 751.1h0M267.4 751.3h0M228.6 750.6h0M220.2 725.3h0M234.9 749.8h0M252.9 755.4h0M253.4 755.5h0M256.3 751.8h0M221.8 748.2h0M276.8 748.3h0M251.7 755.7h0M239.0 752.3h0M266.1 752.3h0M251.1 756.1h0M241.9 753.1h0M232.7 752.1h0M259.7 751.4h0M219.1 749.1h0M239.5 752.6h0M244.8 752.7h0M244.2 754.4h0M247.8 754.8h0M216.1 743.7h0M261.7 754.4h0M238.0 754.0h0M243.8 754.7h0M273.3 747.8h0M228.9 749.8h0M269.3 748.6h0M250.6 756.1h0M236.5 753.8h0M272.5 746.4h0M254.0 755.4h0M288.5 747.4h0M271.8 750.6h0M237.0 749.3h0M242.9 754.9h0M280.7 740.4h0M280.5 751.4h0M224.5 745.9h0M238.7 753.0h0M222.7 748.7h0M248.4 755.9h0M289.9 746.6h0M266.0 751.1h0M269.7 752.3h0M246.7 753.0h0M237.7 750.4h0M284.5 746.2h0M250.8 756.2h0M223.5 745.9h0M244.2 754.4h0M234.7 746.2h0M275.8 736.3h0M262.1 752.9h0M244.3 750.2h0M277.9 744.3h0M258.3 753.6h0M262.0 749.6h0M291.1 746.0h0M226.4 748.0h0M278.5 725.6h0M251.7 755.7h0M266.6 751.2h0M221.4 748.7h0M244.4 753.8h0M250.1 756.0h0M237.3 740.6h0M241.4 752.5h0M212.0 745.1h0M250.2 755.9h0M277.7 749.1h0M285.4 750.0h0M288.1 742.9h0M275.1 753.8h0M235.3 751.4h0M220.3 742.7h0M228.6 751.0h0M286.9 748.7h0M280.8 750.5h0M256.8 755.1h0M293.2 744.3h0M259.3 754.1h0M282.1 752.8h0M240.8 751.0h0M237.0 753.6h0M275.6 743.8h0M265.9 752.1h0M253.0 755.5h0M230.6 750.9h0M209.4 737.6h0M239.2 753.4h0M273.4 750.6h0M293.2 741.9h0M252.9 755.9h0M269.3 753.2h0M268.0 751.8h0M275.5 752.2h0M249.8 756.0h0M248.9 755.5h0M282.4 749.3h0M288.9 740.1h0M253.2 755.5h0M210.6 749.2h0M281.3 746.7h0M275.5 736.5h0M275.2 744.9h0M261.7 752.7h0M284.9 727.4h0M284.6 748.3h0M241.0 749.9h0M264.0 753.9h0M236.8 752.7h0M226.2 747.2h0M267.6 751.9h0M246.5 755.0h0M259.1 753.9h0M248.7 755.8h0M232.5 748.7h0M238.1 752.1h0M227.1 750.0h0M294.6 735.1h0M217.0 739.2h0M246.7 754.8h0M270.7 749.9h0M269.3 752.0h0M277.9 737.6h0M242.7 753.3h0M266.7 751.5h0M208.0 739.9h0M249.8 755.8h0M253.1 755.6h0M237.0 750.3h0M242.4 752.9h0M280.1 748.5h0M243.0 749.5h0M257.8 753.1h0M257.1 753.3h0M216.1 750.5h0M282.7 744.7h0M241.1 752.1h0M235.6 753.4h0M267.2 752.4h0M241.6 751.0h0M264.6 750.9h0M253.0 755.5h0M283.8 730.8h0M270.6 752.5h0M255.9 754.6h0M251.4 755.9h0M241.9 748.2h0M260.4 755.1h0M236.4 753.4h0M256.1 755.2h0M249.4 755.2h0M260.1 753.4h0M228.5 746.7h0M247.1 755.6h0M273.8 746.5h0M286.4 747.8h0M228.0 754.0h0M231.1 750.7h0M274.1 747.0h0M260.5 754.3h0M221.0 750.2h0M259.0 753.4h0M285.4 746.1h0M206.6 732.0h0M266.7 753.8h0M261.0 753.7h0M226.3 749.0h0M264.7 751.4h0M242.2 753.0h0M246.2 755.3h0M231.8 750.4h0M218.9 750.5h0M228.3 738.4h0M245.2 754.8h0M261.2 753.6h0M236.6 751.6h0M276.2 741.4h0M249.7 755.3h0M253.9 755.1h0M294.2 745.7h0M260.7 752.8h0M243.7 754.6h0M234.8 752.2h0M256.6 754.6h0M227.9 751.5h0M257.5 754.4h0M257.6 753.9h0M266.2 750.9h0M263.7 752.3h0M245.2 754.4h0M222.1 733.1h0M271.2 748.5h0M256.1 751.8h0M219.2 743.4h0M257.5 754.1h0M208.8 740.5h0M212.0 727.7h0M240.7 751.9h0M230.1 746.3h0M255.2 755.1h0M244.7 754.6h0M229.8 748.2h0M242.5 755.2h0M286.6 745.5h0M245.6 753.6h0M237.0 753.5h0M286.7 747.6h0M291.9 741.1h0M247.6 755.7h0M214.4 741.4h0M277.4 748.7h0M226.0 740.7h0M281.4 748.1h0M252.9 755.7h0M241.5 752.9h0M268.6 747.1h0M251.0 756.2h0M259.8 753.3h0M247.9 755.5h0M242.2 752.6h0M227.6 754.5h0M270.7 751.0h0M257.7 753.5h0M227.3 746.0h0M233.4 752.9h0M285.2 748.9h0M242.1 752.9h0M270.8 739.6h0M225.5 748.9h0M269.5 751.6h0M256.7 755.1h0M279.8 751.3h0M244.7 752.6h0M256.2 753.4h0M261.3 753.0h0M241.6 753.6h0M214.8 744.9h0M211.7 746.6h0M241.1 754.2h0M231.0 750.6h0M260.8 753.5h0M271.0 753.4h0M265.4 753.9h0M253.2 755.4h0M244.2 753.7h0M229.6 750.8h0M248.5 754.6h0M226.7 749.4h0M232.8 750.1h0M241.3 754.2h0M274.7 751.8h0M252.7 755.4h0M254.3 755.2h0M265.2 751.5h0M257.2 754.7h0M244.3 754.4h0M237.9 752.3h0M281.9 723.8h0M215.0 748.1h0M215.8 728.7h0M255.9 753.8h0M222.5 746.1h0M238.9 754.4h0M249.5 755.6h0M293.0 744.9h0M243.7 753.5h0M261.8 752.1h0M258.1 752.3h0M258.3 754.7h0M252.4 755.7h0M232.6 747.7h0M262.2 749.2h0M276.5 745.3h0M226.3 749.3h0M261.0 751.6h0M221.6 750.2h0M269.6 750.7h0M283.1 746.1h0M260.6 752.4h0M244.3 754.7h0M281.0 732.1h0M246.9 755.4h0M246.3 755.1h0M254.7 754.9h0M282.4 750.8h0M262.7 753.5h0M256.8 753.6h0M240.7 753.3h0M218.8 732.7h0M210.9 743.7h0M260.1 752.9h0M253.2 755.6h0M270.3 748.4h0M231.0 750.6h0M272.2 744.4h0M222.1 731.7h0M260.8 754.4h0M279.7 743.3h0M266.8 750.3h0M242.3 749.4h0M233.1 742.0h0M261.4 752.8h0M240.3 750.0h0M214.8 744.9h0M249.8 755.5h0M268.9 750.9h0M293.2 743.4h0M282.0 747.1h0M238.9 753.3h0M225.2 740.0h0M236.6 752.4h0M243.9 754.0h0M227.0 748.4h0M261.5 753.4h0M280.1 752.9h0M239.3 752.9h0M252.5 755.6h0M278.7 741.4h0M263.4 750.1h0M273.7 740.5h0M216.3 744.1h0M214.5 750.0h0M265.3 754.4h0M210.3 737.3h0M260.2 752.0h0M249.6 755.9h0M262.2 750.9h0M266.0 752.9h0M235.3 744.6h0M225.6 747.1h0M211.2 736.1h0M253.7 755.6h0M241.1 753.1h0M231.7 749.6h0M257.6 755.0h0M266.3 746.8h0M262.3 753.6h0M251.1 756.1h0M245.8 754.8h0M264.0 750.7h0M251.3 755.9h0M246.2 755.1h0M223.6 740.2h0M231.3 740.8h0M248.9 754.7h0M266.1 750.5h0M236.6 744.3h0M294.9 743.0h0M274.8 747.0h0M235.4 750.5h0M254.2 755.5h0M270.2 742.4h0M217.6 747.5h0M225.9 748.5h0M267.4 752.0h0M226.2 750.3h0M232.4 743.9h0M281.1 747.2h0M282.0 744.2h0M232.6 751.6h0M232.5 751.4h0M244.7 753.8h0M271.7 749.8h0M273.0 750.3h0M248.5 755.5h0M224.4 737.8h0M263.8 753.9h0M229.2 751.4h0M261.3 754.4h0M243.7 752.0h0M252.8 755.6h0M229.0 744.5h0M249.7 755.8h0M282.6 749.0h0M225.1 747.8h0M228.5 747.7h0M232.8 748.6h0M207.7 738.1h0M271.8 726.5h0M253.1 755.5h0M242.0 753.3h0M231.2 752.0h0M250.2 756.0h0M248.9 755.6h0M267.2 752.5h0M262.3 752.0h0M262.4 754.0h0M209.3 746.3h0M236.5 753.4h0M217.0 735.0h0M253.3 755.1h0M244.2 751.8h0M249.3 755.7h0M254.5 754.5h0M254.2 754.9h0M256.4 755.0h0M222.3 749.5h0M249.2 755.9h0M236.6 752.5h0M254.0 755.1h0M268.6 750.1h0M263.5 749.3h0M210.0 735.4h0M266.6 751.2h0M236.7 749.7h0M233.8 750.2h0M213.7 745.5h0M223.3 749.7h0M211.2 747.5h0M240.3 753.5h0M223.9 745.3h0M288.0 745.1h0M221.5 736.4h0M257.3 753.3h0M259.5 754.4h0M260.9 750.6h0M261.8 747.6h0M292.8 750.9h0M264.6 753.8h0M255.4 754.3h0M264.2 747.1h0M244.4 753.6h0M286.7 731.2h0M268.2 750.9h0M254.0 755.3h0M229.5 746.7h0M281.9 740.6h0M251.2 756.1h0M286.3 751.8h0M242.7 754.8h0M292.3 744.9h0M284.2 741.8h0M263.1 754.0h0M208.9 748.1h0M247.7 754.5h0M220.6 748.8h0M276.1 745.9h0M243.0 752.2h0M210.5 737.2h0M237.9 751.1h0M253.4 755.1h0M243.9 755.0h0M292.7 730.5h0M227.4 752.5h0M234.3 751.4h0M244.6 754.3h0M253.5 754.8h0M260.0 752.7h0M270.3 743.1h0M226.5 749.2h0M269.5 749.7h0M253.0 755.5h0M255.0 755.5h0M214.4 746.7h0M250.8 756.2h0M243.9 754.7h0M279.6 741.6h0M241.9 751.6h0M244.6 753.5h0M225.0 749.3h0M262.5 751.8h0M291.2 727.8h0M262.5 751.5h0M275.7 747.7h0M243.0 753.4h0M238.3 753.6h0M217.8 746.0h0M226.9 740.3h0M253.8 755.2h0M248.0 755.1h0M265.0 747.7h0M224.5 751.2h0M268.8 744.7h0M286.5 748.8h0M258.3 753.1h0M229.0 753.7h0M234.7 752.7h0M266.7 750.7h0M271.9 744.8h0M242.6 754.8h0M206.3 736.3h0M275.0 749.8h0M233.7 750.7h0M241.6 753.1h0M285.8 753.6h0M270.4 743.9h0M258.0 753.9h0M237.0 754.2h0M223.2 752.2h0M235.1 750.4h0M242.4 753.0h0M223.7 752.6h0M259.6 754.2h0M240.4 753.2h0M248.0 755.6h0M244.0 750.7h0M265.1 743.5h0M239.6 752.4h0M230.0 745.1h0M259.1 754.5h0M270.8 749.2h0M226.3 748.9h0M258.7 753.9h0M214.9 726.8h0M231.8 752.8h0M210.5 746.8h0M250.8 756.2h0M227.6 752.1h0M227.0 742.1h0M268.8 750.6h0M261.4 751.4h0M254.5 755.1h0M270.4 751.8h0M244.4 754.2h0M288.6 746.9h0M292.4 740.2h0M223.1 749.4h0M257.8 755.0h0M293.7 747.0h0M262.4 754.8h0M229.7 743.6h0M229.0 729.6h0M239.6 752.2h0M284.0 743.7h0M226.2 749.5h0M286.1 747.5h0M249.0 755.4h0M231.5 751.5h0M285.7 751.5h0M241.9 754.6h0M268.7 749.3h0M246.1 754.6h0M241.6 749.0h0M247.7 755.4h0M243.1 753.3h0M292.1 746.3h0M266.3 748.1h0M247.0 755.4h0M275.9 749.0h0M293.1 726.9h0M251.7 755.9h0M209.7 738.1h0M246.6 755.4h0M219.2 748.0h0M266.6 751.5h0M253.9 755.1h0M222.5 747.8h0M271.9 750.0h0M210.3 738.9h0M235.4 749.9h0M209.2 742.7h0M263.7 752.3h0M255.4 754.5h0M276.9 748.6h0M286.0 743.4h0M251.5 755.9h0M245.6 753.8h0M243.1 751.7h0M290.5 731.2h0M262.2 752.9h0M293.5 744.7h0M242.3 752.8h0M224.0 751.7h0M243.3 752.3h0M249.1 755.6h0M232.7 750.4h0M252.8 755.7h0M236.8 749.3h0M272.5 730.4h0M284.6 736.3h0M236.8 748.8h0M264.9 747.5h0M254.8 755.1h0M250.6 756.0h0M232.9 751.5h0M242.2 754.3h0M289.5 749.2h0M241.0 751.2h0M217.3 746.3h0M272.5 750.1h0M255.7 754.6h0M266.6 750.5h0M249.7 755.3h0M233.1 750.6h0M211.6 743.6h0M245.8 753.6h0M246.6 753.7h0M243.3 750.0h0M256.1 753.7h0M241.2 751.1h0M274.2 751.3h0M243.2 753.4h0M246.6 755.3h0M271.8 753.0h0M257.0 753.5h0M267.0 754.1h0M281.9 744.4h0M260.1 752.6h0M267.6 753.7h0M287.3 743.6h0M278.4 752.4h0M255.0 754.1h0M278.7 747.1h0M282.3 746.4h0M248.9 755.3h0M289.1 740.9h0M266.9 752.9h0M227.1 749.8h0M247.3 754.8h0M267.0 751.3h0M242.5 754.7h0M208.6 741.2h0M238.7 752.3h0M272.4 746.7h0M208.7 740.2h0M235.3 753.9h0M265.4 750.3h0M254.3 755.0h0M230.8 752.3h0M271.1 743.6h0M244.2 753.6h0M248.3 755.0h0M265.9 752.1h0M254.2 755.6h0M246.3 754.1h0M228.7 736.4h0M269.6 749.2h0M249.4 755.7h0M241.2 754.2h0M268.3 749.1h0M275.9 749.1h0M249.9 755.8h0M223.2 749.0h0M286.1 746.8h0M263.6 750.2h0M247.2 754.2h0M253.1 755.7h0M294.3 733.6h0M284.8 747.7h0M220.0 748.1h0M279.5 752.0h0M212.5 749.2h0M246.8 753.2h0M218.1 745.5h0M210.1 736.5h0M229.7 749.6h0M258.1 753.1h0M273.5 744.0h0M243.6 753.8h0M263.6 753.0h0M238.2 752.2h0M250.6 756.1h0M264.6 754.3h0M273.1 750.7h0M246.6 755.4h0M272.0 750.4h0M233.8 751.8h0M227.2 742.6h0M247.3 755.1h0M265.4 750.2h0M235.3 748.0h0M244.8 753.8h0M255.6 755.3h0M238.3 752.5h0M263.9 752.3h0M275.1 748.2h0M252.7 755.8h0M243.9 754.2h0M253.0 755.1h0M288.7 735.5h0M270.3 750.9h0M276.0 747.7h0M228.2 747.8h0M237.6 752.1h0M276.9 748.9h0M222.7 748.7h0M259.8 754.1h0M243.0 753.5h0M236.7 751.7h0M284.2 735.1h0M244.8 754.4h0M229.1 740.9h0M268.8 746.3h0M284.5 742.9h0M242.6 753.3h0M264.7 750.7h0M280.7 735.3h0M260.4 753.5h0M293.2 741.0h0M250.3 756.1h0M285.8 736.3h0M263.4 753.0h0M289.4 745.3h0M220.5 742.1h0M209.6 734.1h0M256.5 753.5h0M268.9 752.0h0M280.9 750.4h0M221.2 750.7h0M225.1 745.9h0M256.6 751.0h0M279.1 746.6h0M254.6 755.0h0M233.6 745.9h0M238.0 751.5h0M254.3 755.6h0M226.9 745.9h0M232.5 745.4h0M273.1 749.8h0M249.9 755.7h0M272.8 749.3h0M252.7 755.5h0M284.0 749.8h0M244.4 754.2h0M258.5 753.6h0M275.6 751.7h0M265.7 752.7h0M266.2 748.6h0M233.0 744.4h0M255.6 754.5h0M234.8 743.2h0M249.5 755.7h0M221.5 735.7h0M276.0 751.8h0M235.2 751.1h0M241.9 754.5h0M240.5 750.7h0M275.5 749.4h0M264.8 754.1h0M286.5 735.9h0M286.8 740.8h0M260.8 747.3h0M224.8 742.1h0M294.8 740.3h0M258.9 754.9h0M231.9 749.4h0M288.9 743.1h0M236.9 752.7h0M242.0 755.0h0M211.8 737.0h0M236.2 749.4h0M280.9 736.6h0M293.4 726.8h0M209.3 742.7h0M289.1 727.5h0M230.8 749.9h0M245.5 754.7h0M260.9 753.6h0M238.6 742.7h0M260.4 750.2h0M267.5 752.1h0M250.9 756.2h0M260.2 754.1h0M238.1 753.5h0M251.3 756.1h0M255.4 753.4h0M237.8 748.3h0M257.6 753.8h0M246.6 755.6h0M238.9 753.5h0M247.0 755.4h0M231.4 751.9h0M232.9 750.6h0M237.9 753.4h0M278.2 753.9h0M236.4 753.3h0M260.4 755.3h0M255.4 755.6h0M263.8 753.9h0M285.5 749.7h0M226.7 753.2h0M256.3 755.2h0M277.6 752.0h0M232.7 750.6h0M272.5 754.5h0M224.1 745.0h0M226.8 753.1h0M217.4 742.5h0M229.2 753.2h0M266.3 749.9h0M251.4 756.1h0M276.6 752.0h0M239.0 753.6h0M253.5 755.7h0M282.4 753.0h0M256.9 755.5h0M235.4 752.8h0M258.3 754.5h0M254.2 755.7h0M267.9 753.4h0M267.8 754.9h0M210.1 740.4h0M264.0 754.1h0M210.1 743.6h0M237.3 754.7h0M212.3 750.6h0M227.3 754.7h0M284.2 745.3h0M262.8 753.8h0M243.2 755.3h0M265.0 753.6h0M279.2 753.2h0M241.6 754.6h0M291.8 747.9h0M225.8 751.9h0M257.5 754.8h0M285.3 750.0h0M267.4 753.2h0M246.8 755.6h0M265.5 754.2h0M247.6 755.9h0M232.5 753.7h0M243.5 753.8h0M266.7 753.8h0M242.2 754.9h0M232.9 751.8h0M234.7 752.0h0M208.7 751.3h0M231.2 751.6h0M254.6 755.7h0M230.2 753.2h0M229.2 751.0h0M279.6 753.5h0M227.1 752.0h0M271.8 752.0h0M287.4 749.1h0M213.8 749.8h0M281.7 751.4h0M229.0 754.1h0M271.5 753.3h0M271.0 750.0h0M229.0 750.8h0M222.8 753.0h0M262.5 752.8h0M255.6 755.4h0M262.8 754.1h0M223.5 746.7h0M218.4 748.7h0M228.5 750.4h0M278.9 752.7h0M242.8 753.3h0M249.6 755.9h0M215.2 749.9h0M270.1 751.9h0M246.9 755.4h0M275.2 749.4h0M239.2 753.1h0M253.6 755.6h0M270.9 751.5h0M255.6 755.1h0M218.2 747.5h0M232.4 751.8h0M282.1 751.0h0M233.1 752.4h0M287.9 750.4h0M230.9 750.7h0M215.9 746.6h0M287.6 748.3h0M220.7 753.1h0M214.2 752.4h0M226.5 752.2h0M224.3 751.9h0M243.3 754.9h0M227.9 750.9h0M247.1 755.7h0M270.4 750.6h0M231.4 750.2h0M236.5 752.1h0M209.7 748.1h0M206.6 749.5h0M219.0 752.0h0M275.4 749.9h0M271.1 751.5h0M256.9 754.6h0M274.8 750.4h0M231.8 753.9h0M279.4 750.8h0M261.0 755.5h0M259.0 755.1h0M238.5 755.0h0M258.3 755.3h0M271.7 753.2h0M258.0 753.7h0M224.6 749.3h0M253.3 755.7h0M262.5 755.2h0M252.6 755.9h0M234.8 753.0h0M235.9 754.5h0M235.0 753.9h0M249.3 756.0h0M270.5 754.3h0M207.6 746.5h0M292.4 750.6h0M279.2 753.0h0M268.7 752.7h0M239.1 755.2h0M232.8 753.2h0M257.1 755.3h0M264.5 754.6h0M242.1 754.5h0M270.3 750.0h0M254.4 755.8h0M257.5 754.4h0M244.4 755.1h0M272.8 752.0h0M230.6 752.2h0M266.4 753.9h0M259.4 754.9h0M240.1 755.0h0M260.1 754.2h0M290.9 742.7h0M291.1 742.6h0M279.9 749.7h0M274.6 752.9h0M261.6 754.9h0M278.4 751.2h0M250.7 756.2h0M238.5 752.0h0M209.6 748.5h0M239.4 753.4h0M209.9 748.7h0M249.0 756.0h0M226.8 751.4h0M257.8 739.9h0M252.6 751.3h0M242.3 702.6h0M237.2 724.6h0M267.4 675.6h0M258.9 734.9h0M247.2 747.2h0M256.8 738.7h0M256.7 726.3h0M248.0 735.8h0M255.0 747.6h0M249.6 753.8h0M251.4 754.2h0M255.2 735.9h0M254.5 741.4h0M256.8 751.5h0M233.3 681.9h0M244.4 725.7h0M248.0 738.5h0M256.4 713.0h0M254.0 742.8h0M255.4 738.8h0M257.6 739.7h0M255.5 729.8h0M273.5 660.4h0M248.9 754.4h0M251.6 753.8h0M250.7 755.9h0M239.6 713.8h0M242.2 734.5h0M256.3 746.3h0M234.8 686.8h0M246.1 743.5h0M246.7 735.2h0M248.2 749.5h0M260.3 726.4h0M261.9 666.7h0M238.3 686.2h0M256.3 724.9h0M246.1 737.9h0M255.6 736.9h0M238.8 709.5h0M247.8 745.0h0M259.4 704.1h0M254.5 746.0h0M247.1 723.2h0M249.2 753.4h0M252.7 752.0h0M254.9 737.8h0M250.4 755.6h0M232.8 692.7h0M220.9 643.9h0M257.1 715.3h0M250.1 755.2h0M249.3 754.5h0M255.3 737.1h0M252.1 751.6h0M245.4 731.3h0M257.3 741.1h0M256.5 743.8h0M250.6 755.8h0M235.3 638.7h0M261.8 719.6h0M251.5 755.0h0M251.9 753.7h0M251.1 755.7h0M255.2 729.9h0M245.0 731.2h0M251.5 754.0h0M257.2 739.7h0M257.4 696.6h0M246.8 751.4h0M252.8 741.0h0M251.4 755.2h0M256.9 733.6h0M221.0 593.5h0M254.8 725.9h0M258.6 699.7h0M251.7 753.0h0M249.5 752.4h0M246.6 724.6h0M247.3 742.8h0M253.0 750.0h0M257.7 745.4h0M247.6 747.4h0M260.7 692.3h0M241.1 706.4h0M246.0 736.0h0M259.0 726.8h0M247.3 749.1h0M253.2 747.6h0M247.4 737.6h0M246.1 749.1h0M251.1 755.4h0M246.2 718.7h0M226.0 673.2h0M252.1 753.9h0M235.3 674.9h0M246.6 741.2h0M244.3 734.6h0M242.2 740.6h0M254.7 730.8h0M255.4 744.6h0M250.8 756.2h0M270.9 717.1h0M252.4 750.2h0M251.9 754.2h0M258.6 720.6h0M242.6 726.1h0M250.7 756.1h0M254.6 744.3h0M244.2 721.3h0M267.3 692.8h0M250.3 755.0h0M253.0 749.3h0M239.5 722.7h0M247.1 744.8h0M253.1 750.9h0M248.7 745.8h0M244.6 725.2h0M252.1 752.7h0M240.8 733.2h0M245.5 737.4h0M244.9 682.8h0M247.7 737.0h0M250.8 756.1h0M254.1 750.6h0M238.1 695.1h0M266.5 709.9h0M265.6 721.2h0M246.9 739.9h0M256.4 741.1h0M248.2 750.3h0M239.2 715.1h0M242.7 725.2h0M248.1 748.3h0M249.6 752.8h0M262.2 745.9h0M247.0 739.9h0M253.0 753.2h0M257.8 738.5h0M238.9 731.4h0M245.6 724.1h0M250.4 755.4h0M244.9 718.7h0M251.2 755.2h0M247.7 750.9h0M255.1 743.1h0M254.3 743.6h0M252.0 751.9h0M264.7 701.9h0M248.2 750.2h0M247.4 750.4h0M261.6 720.4h0M246.7 742.5h0M260.8 709.5h0M257.4 737.3h0M248.1 749.7h0M216.0 587.6h0M261.9 705.5h0M252.3 750.0h0M254.4 712.1h0M244.4 737.1h0M241.4 735.1h0M246.1 738.7h0M244.2 736.6h0M254.2 750.7h0M236.0 688.3h0M260.4 720.5h0M249.6 753.2h0M256.3 740.5h0M248.2 753.2h0M250.9 756.0h0M251.9 750.7h0M234.8 578.2h0M253.5 743.4h0M254.4 737.4h0M252.7 746.3h0M248.4 753.1h0M251.5 754.8h0M253.1 734.2h0M247.8 738.9h0M245.6 747.3h0M246.9 735.5h0M254.5 749.6h0M251.1 754.8h0M252.9 752.8h0M248.9 748.5h0M249.9 753.2h0M262.0 712.3h0M250.0 754.3h0M251.2 754.8h0M232.5 716.1h0M240.4 694.1h0M250.6 755.6h0M240.4 691.0h0M249.1 752.6h0M248.3 751.2h0M248.9 750.2h0M251.8 753.2h0M250.4 755.5h0M225.2 652.8h0M250.2 754.0h0M266.2 694.5h0M237.8 670.4h0M269.2 658.4h0M258.6 719.6h0M238.9 718.5h0M230.9 724.7h0M246.3 743.6h0M252.8 750.0h0M250.3 755.0h0M247.9 746.1h0M248.9 749.9h0M252.9 744.2h0M252.7 751.6h0M230.5 720.0h0M246.4 744.2h0M236.2 671.3h0M255.9 749.9h0M257.4 729.5h0M256.9 734.9h0M225.7 696.4h0M243.9 723.2h0M252.1 753.6h0M262.5 717.4h0M247.3 742.4h0M262.2 729.2h0M251.4 754.1h0M252.1 751.3h0M257.3 735.2h0M247.5 745.2h0M258.5 659.2h0M238.3 726.1h0M246.9 742.6h0M253.0 746.1h0M239.4 715.2h0M268.2 722.3h0M251.7 753.8h0M246.7 732.3h0M247.8 750.8h0M256.1 724.2h0M248.9 749.8h0M242.6 739.5h0M250.2 755.2h0M254.1 745.7h0M235.6 739.6h0M256.0 694.8h0M234.5 654.1h0M249.5 753.4h0M260.4 720.1h0M252.9 739.3h0M247.9 751.5h0M248.4 747.1h0M245.5 743.6h0M255.9 698.6h0M254.8 743.9h0M249.0 746.8h0M244.5 739.2h0M256.2 734.6h0M243.0 745.4h0M251.4 752.5h0M258.9 719.2h0M243.0 727.4h0M250.1 754.8h0M254.8 745.6h0M249.0 751.1h0M252.5 752.7h0M226.4 662.2h0M243.1 741.2h0M262.8 676.9h0M244.6 736.1h0M253.7 747.4h0M247.9 738.2h0M256.1 736.4h0M256.3 730.2h0M250.2 755.6h0M253.5 750.3h0M250.9 756.0h0M255.2 746.1h0M254.8 734.5h0M248.6 745.9h0M250.1 753.2h0M252.4 752.9h0M250.9 755.9h0M256.0 744.6h0M249.7 754.5h0M244.6 737.5h0M241.3 734.0h0M251.4 753.0h0M253.9 728.0h0M263.4 704.5h0M261.5 743.0h0M253.1 739.6h0M260.3 728.1h0M253.7 742.3h0M248.9 746.6h0M237.6 700.5h0M255.1 742.1h0M251.3 755.0h0M249.9 754.3h0M247.8 746.1h0M245.3 730.3h0M261.8 729.2h0M255.8 735.3h0M245.0 744.5h0M257.4 705.2h0M253.0 746.7h0M249.8 753.9h0M253.8 741.4h0M268.1 688.1h0M252.7 748.5h0M238.1 718.8h0M249.2 742.9h0M262.9 712.2h0M250.6 755.6h0M236.4 592.8h0M252.0 752.9h0M262.7 723.6h0M242.6 715.2h0M260.0 675.5h0M250.5 755.7h0M247.3 747.5h0M255.8 704.8h0M243.7 743.2h0M252.1 753.8h0M250.3 755.0h0M241.9 706.4h0M244.7 704.3h0M254.9 745.1h0M248.1 748.3h0M257.4 734.2h0M259.1 667.1h0M251.3 754.1h0M246.3 744.4h0M246.6 744.2h0M238.7 739.7h0M255.7 740.4h0M246.7 746.2h0M251.5 754.9h0M257.7 740.7h0M246.4 743.5h0M243.1 681.8h0M253.8 746.5h0M264.3 673.1h0M256.6 725.7h0M248.2 745.1h0M248.2 751.4h0M244.8 739.4h0M255.9 736.4h0M249.5 752.6h0M258.1 725.8h0M250.2 754.5h0M245.9 745.1h0M249.5 752.1h0M264.0 722.1h0M261.9 711.8h0M256.5 738.1h0M243.5 726.1h0M237.2 710.1h0M242.1 724.7h0M258.5 714.0h0M253.4 747.2h0M251.5 755.1h0M252.8 749.2h0M241.3 713.0h0M252.6 752.9h0M252.3 753.9h0M237.9 703.2h0M244.6 727.5h0M272.1 679.6h0M244.4 739.9h0M249.6 753.1h0M251.7 753.9h0M253.4 750.6h0M248.3 744.1h0M254.3 720.6h0M268.0 722.9h0M244.4 740.7h0M248.6 751.9h0M252.9 752.1h0M246.1 736.1h0M240.9 727.2h0M246.9 749.4h0M259.1 725.5h0M257.6 727.7h0M232.0 673.4h0M232.7 716.4h0M248.2 749.1h0M256.6 738.8h0M244.3 739.4h0M245.7 705.7h0M262.2 690.8h0M249.9 753.3h0M256.5 707.7h0M256.0 729.8h0M251.6 755.0h0M249.6 752.8h0M246.7 744.0h0M267.1 529.2h0M242.7 731.4h0M243.0 746.7h0M251.1 755.5h0M257.8 747.7h0M251.0 755.8h0M247.8 738.3h0M216.9 604.4h0M251.0 755.6h0M260.5 687.7h0M253.0 751.8h0M265.3 707.0h0M242.7 729.1h0M259.4 721.6h0M253.4 751.4h0M276.7 679.5h0M254.4 720.0h0M258.4 734.5h0M250.2 752.4h0M227.3 690.1h0M259.5 714.1h0M236.3 709.1h0M246.0 734.8h0M261.4 701.6h0M251.6 754.1h0M248.5 751.3h0M252.8 746.1h0M250.0 755.3h0M270.6 698.1h0M255.5 726.4h0M242.4 740.0h0M254.7 745.4h0M254.7 749.8h0M267.0 676.2h0M248.2 750.1h0M249.9 753.9h0M261.1 722.5h0M254.1 744.1h0M255.7 737.3h0M255.7 732.4h0M249.9 755.3h0M248.9 752.1h0M232.4 690.3h0M239.9 741.3h0M252.1 753.2h0M248.6 751.6h0M247.0 742.6h0M242.2 728.0h0M256.4 740.4h0M258.8 733.5h0M252.2 753.2h0M245.8 747.5h0M244.4 732.6h0M270.0 690.7h0M253.5 740.9h0M258.6 731.9h0M257.2 740.1h0M259.6 705.9h0M258.5 731.4h0M263.7 710.8h0M258.5 718.3h0M263.7 694.3h0M257.3 734.1h0M258.1 712.2h0M260.8 677.5h0M276.1 697.5h0M235.4 665.6h0M250.9 755.5h0M233.0 719.8h0M243.8 738.4h0M243.3 706.8h0M250.3 754.8h0M238.0 600.8h0M251.2 755.2h0M253.8 744.7h0M247.6 742.4h0M254.9 729.6h0M247.9 747.7h0M273.4 663.1h0M248.6 749.5h0M237.2 728.6h0M248.1 744.6h0M256.9 722.1h0M251.5 751.2h0M243.3 735.7h0M258.0 732.2h0M242.0 712.6h0M259.4 726.0h0M249.4 751.0h0M255.3 746.5h0M253.9 731.2h0M244.5 727.5h0M239.6 735.4h0M252.4 751.7h0M263.5 724.4h0M255.6 732.1h0M258.4 699.7h0M241.8 666.8h0M238.8 704.0h0M245.1 749.0h0M228.4 709.9h0M248.9 753.3h0M243.1 729.6h0M253.1 751.5h0M251.5 755.7h0M247.6 749.8h0M246.9 749.7h0M250.6 755.8h0M253.5 749.5h0M241.2 714.7h0M246.2 747.5h0M246.2 731.9h0M252.6 752.1h0M245.2 745.3h0M254.5 740.6h0M264.5 720.7h0M252.8 741.8h0M250.6 755.8h0M264.5 669.6h0M259.3 727.6h0M249.4 750.0h0M261.2 725.9h0M251.1 755.8h0M246.4 750.5h0M249.7 752.7h0M246.8 750.9h0M251.6 752.9h0M257.5 718.9h0M253.5 749.7h0M236.3 688.8h0M250.3 754.3h0M254.0 742.4h0M248.3 750.5h0M251.2 755.5h0M251.8 751.6h0M244.1 741.5h0M250.2 754.4h0M253.8 750.7h0M250.7 755.8h0M242.0 704.8h0M248.6 743.5h0M266.5 715.5h0M261.9 647.5h0M244.0 719.6h0M245.6 705.8h0M254.0 750.9h0M242.4 725.0h0M240.6 730.1h0M249.9 750.8h0M261.2 711.9h0M259.3 686.6h0M243.2 746.3h0M241.2 726.2h0M245.5 739.5h0M251.2 753.6h0M255.8 744.4h0M262.7 733.1h0M252.5 746.4h0M250.7 755.9h0M244.1 735.2h0M243.3 716.7h0M238.3 716.8h0M256.5 740.5h0M255.5 738.0h0M257.0 732.1h0M260.0 725.2h0M251.9 753.8h0M253.9 743.1h0M254.6 750.3h0M244.8 744.0h0M245.9 726.5h0M250.5 755.1h0M248.7 747.4h0M249.2 752.7h0M252.2 750.9h0M240.5 716.9h0M273.4 716.2h0M240.6 723.7h0M256.2 730.3h0M242.7 746.2h0M255.9 714.2h0M256.9 729.3h0M249.7 752.7h0M243.6 721.0h0M236.2 710.2h0M254.9 743.3h0M248.9 750.2h0M257.9 729.9h0M252.0 752.5h0M250.0 755.1h0M251.7 752.5h0M250.6 754.8h0M256.8 739.2h0M242.4 729.6h0M260.2 732.3h0M251.3 755.3h0M244.1 727.4h0M246.3 742.8h0M262.9 723.3h0M264.1 676.7h0M271.5 642.9h0M269.0 697.0h0M250.4 754.4h0M244.1 747.2h0M246.7 726.6h0M246.0 739.1h0M240.6 682.8h0M245.7 735.6h0M266.3 688.7h0M257.6 733.5h0M251.8 753.9h0M250.3 754.7h0M244.1 741.2h0M236.3 704.0h0M250.7 756.0h0M245.4 742.7h0M253.6 748.3h0M240.0 742.2h0M273.9 634.8h0M252.6 752.4h0M233.3 713.6h0M247.3 737.2h0M233.2 728.4h0M245.4 737.5h0M252.1 753.7h0M249.4 751.8h0M249.7 754.5h0M244.5 725.2h0M250.7 756.0h0M254.5 742.8h0M250.1 752.7h0M251.1 755.4h0M253.0 749.7h0M250.8 756.2h0M248.5 750.1h0M247.6 744.6h0M263.6 732.7h0M253.7 748.5h0M245.8 746.8h0M253.4 743.5h0M255.2 740.1h0M238.2 701.8h0M246.5 749.2h0M251.2 755.7h0M247.8 751.8h0M247.5 740.1h0M271.9 636.5h0M239.1 695.6h0M255.4 745.3h0M254.5 746.7h0M250.3 754.9h0M244.6 726.6h0M245.4 735.8h0M254.6 733.5h0M247.1 722.6h0M257.7 742.7h0M258.7 724.2h0M231.5 697.5h0M250.6 755.6h0M243.3 708.4h0M236.6 676.8h0M248.3 747.2h0M255.9 738.5h0M256.1 737.2h0M259.9 734.3h0M245.8 724.6h0M260.3 705.7h0M259.0 740.2h0M250.7 755.7h0M254.8 742.3h0M231.2 692.0h0M250.4 754.7h0M249.4 745.5h0M249.4 752.6h0M242.8 733.5h0M259.1 743.0h0M252.4 751.4h0M251.8 754.3h0M257.6 714.9h0M246.4 744.7h0M256.9 736.9h0M240.4 704.0h0M252.7 747.4h0M254.8 745.1h0M245.0 730.3h0M254.8 750.9h0M260.3 707.7h0M257.3 713.4h0M253.2 738.0h0M248.1 747.6h0M252.6 753.9h0M256.8 744.0h0M274.7 656.7h0M258.3 725.1h0M247.0 747.9h0M251.2 755.2h0M266.4 656.6h0M255.7 736.8h0M244.7 740.3h0M251.3 754.5h0M254.9 741.5h0M258.4 724.7h0M253.9 738.0h0M256.3 735.9h0M256.0 737.0h0M249.9 754.3h0M244.8 740.5h0M250.2 755.0h0M243.7 722.1h0M249.8 749.0h0M239.2 740.9h0M257.3 735.7h0M244.1 741.5h0M243.9 723.4h0M247.3 736.8h0M241.6 727.5h0M252.5 753.3h0M223.2 642.8h0M248.2 744.9h0M258.2 717.3h0M251.0 755.7h0M255.2 747.1h0M245.5 734.3h0M244.8 734.0h0M239.1 720.9h0M274.8 674.8h0M256.9 695.0h0M256.9 664.8h0M242.3 736.6h0M236.5 705.9h0M245.3 733.4h0M241.4 740.9h0M242.0 701.0h0M254.1 747.1h0M248.6 752.5h0M268.8 664.0h0M248.5 749.8h0M252.3 752.2h0M249.3 753.4h0M260.5 705.4h0M248.8 749.6h0M254.2 742.1h0M250.2 754.8h0M251.6 753.0h0M242.5 712.6h0M247.1 741.3h0M258.6 703.1h0M258.9 711.3h0M246.2 711.3h0M260.4 734.1h0M262.9 712.4h0M261.7 721.6h0M254.4 744.3h0M244.8 731.6h0M247.4 737.8h0M268.8 710.9h0M249.0 749.4h0M251.2 755.4h0M254.8 735.2h0M245.3 733.0h0M253.4 741.7h0M235.7 666.3h0M244.2 738.0h0M246.5 735.5h0M252.3 745.0h0M244.9 745.7h0M249.9 754.2h0M267.2 678.6h0M240.6 739.1h0M240.4 742.1h0M251.3 755.4h0M220.6 634.9h0M255.5 736.0h0M246.2 735.9h0M246.7 742.2h0M232.9 670.2h0M268.7 711.7h0M241.6 740.2h0M244.1 738.8h0M245.4 747.1h0M275.7 596.3h0M255.1 742.1h0M248.9 753.0h0M253.5 747.1h0M248.5 748.9h0M251.8 752.6h0M253.8 750.2h0M244.4 702.3h0M249.2 752.7h0M258.9 731.4h0M243.9 738.9h0M252.5 750.0h0M258.1 733.8h0M256.8 740.8h0M251.3 753.0h0M248.2 729.1h0M244.6 706.4h0M238.4 701.7h0M245.0 748.9h0M250.9 756.1h0M245.3 743.0h0M236.4 732.8h0M240.1 734.7h0M254.0 741.5h0M223.3 705.9h0M234.1 684.9h0M252.0 748.1h0M246.6 745.4h0M250.6 755.8h0M251.5 754.5h0M250.3 754.9h0M227.8 650.1h0M264.4 686.9h0M266.4 716.4h0M261.5 736.8h0M238.1 630.2h0M249.8 753.0h0M257.3 737.5h0M250.8 756.1h0M253.6 725.8h0M250.5 755.7h0M257.5 730.1h0M251.8 753.1h0M254.5 741.7h0M234.4 707.8h0M249.2 749.4h0M252.4 751.2h0M246.0 742.4h0M258.9 740.3h0M249.7 752.9h0M263.6 708.9h0M242.8 734.1h0M257.8 724.1h0M259.6 727.8h0M246.5 738.1h0M253.0 751.0h0M245.8 744.6h0M250.3 755.6h0M250.0 753.2h0M263.0 674.5h0M244.7 724.1h0M254.3 747.9h0M247.8 746.9h0M255.7 737.6h0M249.3 753.2h0M248.5 737.0h0M250.1 752.6h0M246.9 736.6h0M254.2 743.5h0M245.6 747.4h0M253.5 744.1h0M237.9 699.9h0M255.7 721.3h0M240.5 716.1h0M250.1 755.2h0M259.7 737.8h0M241.7 655.2h0M241.7 710.2h0M260.3 723.9h0M258.1 734.6h0M263.6 693.9h0M230.7 726.6h0M261.5 692.5h0M243.3 711.2h0M264.2 698.3h0M262.4 710.4h0M251.8 751.7h0M258.2 698.4h0M261.1 706.5h0M258.0 725.6h0M243.9 738.2h0M246.0 744.0h0M254.0 748.3h0M260.3 720.3h0M250.8 756.1h0M257.8 709.5h0M252.9 745.1h0M242.4 720.2h0M247.7 741.1h0M254.8 749.5h0M246.3 748.9h0M250.8 756.2h0M262.9 719.7h0M259.0 717.2h0M272.0 675.3h0M246.6 745.3h0M257.8 733.2h0M248.8 752.6h0M244.2 698.6h0M247.3 749.0h0M239.3 730.3h0M262.3 700.8h0M248.8 752.3h0M278.4 639.3h0M248.1 751.0h0M239.1 710.2h0M217.8 600.1h0M254.0 741.6h0M250.1 755.0h0M247.8 738.3h0M256.2 737.6h0M238.2 684.0h0M264.9 722.5h0M235.1 695.6h0M250.5 755.6h0M244.5 726.7h0M253.1 750.6h0M258.6 732.9h0M243.4 736.6h0M245.8 721.6h0M250.5 755.5h0M259.0 718.4h0M245.9 741.4h0M234.5 673.7h0M247.7 742.9h0M243.6 728.9h0M254.4 750.2h0M257.2 731.1h0M252.4 754.7h0M250.5 755.5h0M247.9 736.6h0M253.9 748.1h0M253.4 751.6h0M246.1 744.2h0M250.3 755.0h0M241.6 736.0h0M251.4 754.3h0M249.3 751.4h0M255.0 742.3h0M245.8 730.1h0M244.2 735.4h0M240.1 716.3h0M258.1 746.5h0M247.8 723.1h0M257.2 729.3h0M247.5 751.4h0M248.6 735.8h0M251.5 754.8h0M253.6 747.2h0M256.5 704.4h0M247.6 749.5h0M220.5 671.5h0M260.8 732.6h0M249.9 755.2h0M246.2 746.5h0M249.9 754.6h0M253.9 749.4h0M262.1 720.7h0M243.3 712.5h0M242.8 723.7h0M249.3 753.8h0M258.0 719.0h0M265.8 703.8h0M249.5 753.3h0M259.5 710.5h0M252.4 753.5h0M261.2 725.3h0M244.6 748.0h0M250.9 756.0h0M245.5 735.7h0M239.1 726.9h0M254.5 745.2h0M247.2 746.0h0M247.9 750.6h0M265.9 732.8h0M254.7 746.5h0M221.5 649.6h0M252.4 750.4h0M258.1 732.0h0M252.2 753.9h0M242.0 736.1h0M254.8 746.7h0M249.0 753.2h0M264.5 683.5h0M253.3 752.9h0M254.0 743.8h0M262.2 692.0h0M243.0 736.7h0M256.9 747.0h0M260.0 734.5h0M249.8 754.6h0M240.6 667.3h0M242.6 743.6h0M260.6 725.7h0M259.0 733.8h0M260.4 729.1h0M243.5 732.8h0M246.8 721.9h0M241.5 734.6h0M245.7 736.1h0M254.6 731.7h0M244.6 741.7h0M256.3 729.0h0M250.9 755.9h0M256.2 738.0h0M244.6 728.7h0M251.3 754.9h0M245.2 730.1h0M249.5 751.8h0M256.9 741.8h0M264.3 704.5h0M249.9 752.9h0M251.4 753.4h0M233.9 653.3h0M240.1 720.3h0M247.8 747.8h0M268.2 673.9h0M263.6 672.1h0M245.7 727.2h0M239.5 733.2h0M232.1 704.4h0M258.0 737.8h0M252.1 749.0h0M250.2 754.7h0M257.4 732.5h0M255.0 749.3h0M254.0 747.2h0M253.0 737.5h0M251.9 752.5h0M257.1 736.8h0M255.5 729.1h0M268.0 727.4h0M251.9 751.1h0M253.4 737.9h0M242.0 725.8h0M253.6 748.2h0M250.6 755.6h0M242.3 712.8h0M251.8 753.9h0M259.7 725.8h0M251.4 755.4h0M248.6 743.9h0M272.1 651.1h0M256.0 731.1h0M242.2 714.9h0M259.4 742.2h0M246.3 737.3h0M273.0 592.8h0M253.1 749.4h0M246.6 730.6h0M256.6 739.7h0M256.2 742.7h0M250.6 755.8h0M254.9 740.6h0M248.4 751.9h0M255.9 746.6h0M242.2 721.0h0M246.7 737.5h0M242.4 736.6h0M251.7 754.7h0M250.2 754.8h0M255.7 747.8h0M239.5 732.0h0M249.2 744.2h0M241.3 710.2h0M248.7 747.9h0M254.2 742.9h0M245.0 725.5h0M242.4 705.3h0M253.4 748.1h0M256.6 726.5h0M250.1 754.2h0M254.4 739.3h0M250.0 754.8h0M259.6 686.7h0M260.8 721.6h0M248.7 743.2h0M243.2 741.4h0M251.4 753.1h0M258.5 735.0h0M247.5 742.8h0M249.3 751.9h0M250.2 755.2h0M248.1 749.2h0M247.0 746.8h0M249.0 749.4h0M249.5 751.7h0M243.2 743.2h0M251.0 755.9h0M246.4 735.3h0M245.4 747.2h0M251.8 753.5h0M245.3 735.7h0M244.0 747.5h0M246.3 744.7h0M249.4 752.1h0M244.6 731.7h0M248.6 751.0h0M272.3 683.6h0M248.0 744.9h0M251.6 754.9h0M257.5 724.6h0M248.0 747.5h0M250.1 754.6h0M244.2 741.5h0M241.3 704.7h0M257.5 712.8h0M232.0 710.6h0M243.8 733.0h0M242.6 722.7h0M248.3 749.7h0M248.1 746.1h0M249.4 749.0h0M257.2 735.6h0M243.5 728.4h0M247.1 741.6h0M242.4 711.1h0M250.6 755.6h0M257.1 713.7h0M244.0 734.6h0M255.5 737.2h0M235.9 621.2h0M266.0 716.1h0M265.9 692.3h0M245.3 730.5h0M245.9 744.9h0M250.2 754.7h0M254.0 742.3h0M244.2 716.5h0M252.9 751.6h0M254.6 742.7h0M260.6 707.8h0M240.7 704.3h0M241.9 720.8h0M250.3 755.1h0M243.0 730.8h0M253.4 750.1h0M256.7 742.2h0M231.2 728.1h0M248.0 751.2h0M255.1 744.4h0M261.5 714.3h0M250.9 755.9h0M241.0 725.1h0M231.4 702.8h0M249.4 751.0h0M247.3 750.4h0M254.4 743.1h0M251.1 755.2h0M245.6 733.9h0M262.6 734.2h0M250.7 756.0h0M240.8 695.2h0M251.1 755.3h0M256.4 701.5h0M250.1 753.8h0M248.5 752.3h0M264.7 703.2h0M249.7 752.8h0M245.8 749.3h0M258.1 743.1h0M253.7 750.4h0M251.7 751.5h0M252.7 752.4h0M247.1 745.6h0M253.4 739.6h0M260.6 720.9h0M254.7 748.6h0M257.3 736.2h0M253.7 746.8h0M239.3 711.7h0M260.7 735.8h0M254.8 745.9h0M238.1 717.3h0M279.8 686.4h0M253.6 749.2h0M250.0 753.9h0M252.2 751.5h0M245.2 742.8h0M251.2 754.4h0M240.7 698.2h0M253.2 747.0h0M244.0 714.0h0M261.3 705.7h0M251.7 754.5h0M252.4 752.2h0M258.4 738.9h0M247.9 746.2h0M252.5 753.4h0M267.2 718.1h0M247.5 746.2h0M252.2 751.5h0M261.8 697.0h0M233.8 692.7h0M241.8 721.1h0M237.5 695.4h0M247.9 750.8h0M238.1 718.7h0M249.6 751.0h0M251.0 755.9h0M244.5 737.8h0M248.0 749.1h0M249.2 753.2h0M250.0 752.6h0M229.7 712.8h0M242.1 735.4h0M245.7 740.2h0M244.8 716.1h0M257.7 723.4h0M235.0 729.5h0M250.8 756.0h0M235.4 684.9h0M225.4 661.3h0M245.1 740.1h0M247.8 750.9h0M259.1 734.6h0M260.0 720.0h0M254.5 744.3h0M260.8 702.9h0M245.1 706.6h0M255.1 736.4h0M265.0 706.5h0M235.4 686.5h0M250.2 753.8h0M255.3 744.8h0M248.1 748.9h0M246.1 744.1h0M254.8 739.4h0M250.0 754.2h0M255.1 717.1h0M254.2 743.8h0M257.0 733.3h0M251.2 755.1h0M250.7 756.1h0M250.2 754.3h0M241.7 703.3h0M252.4 750.4h0M243.7 752.3h0M245.6 722.6h0M250.5 755.8h0M252.8 754.1h0M273.3 639.6h0M258.4 739.6h0M259.1 690.9h0M241.9 692.3h0M255.7 746.1h0M248.4 753.8h0M259.5 714.6h0M253.1 752.6h0M257.6 744.8h0M247.8 741.9h0M243.6 740.3h0M261.3 696.8h0M270.9 621.6h0M252.4 753.4h0M247.8 742.9h0M253.0 744.4h0M260.1 736.4h0M258.1 741.4h0M266.2 722.5h0M253.1 747.8h0M243.8 701.7h0M247.2 740.5h0M232.6 670.7h0M244.1 731.9h0M245.2 721.6h0M252.3 754.7h0M231.5 529.2h0M261.1 703.9h0M227.5 706.8h0M251.5 755.2h0M259.0 741.2h0M250.8 756.2h0M263.9 705.8h0M251.6 754.2h0M253.6 742.4h0M241.8 687.4h0M251.9 754.2h0M249.9 753.4h0M233.0 658.2h0M264.9 637.8h0M253.9 751.9h0M238.8 663.3h0M249.7 753.0h0M250.7 756.0h0M245.7 738.0h0M254.4 744.7h0M257.0 726.4h0M250.2 755.8h0M244.6 708.4h0M244.9 727.2h0M258.4 713.2h0M245.8 749.5h0M269.5 689.9h0M245.1 741.9h0M249.0 750.8h0M254.0 744.0h0M257.9 744.1h0M245.8 731.6h0M242.4 719.0h0M253.4 739.5h0M255.2 727.2h0M247.2 743.7h0M256.6 729.6h0M248.0 744.6h0M250.6 755.5h0M250.6 755.3h0M262.6 726.4h0M254.1 718.5h0M257.7 727.6h0M245.8 746.9h0M256.4 731.0h0M227.4 698.2h0M254.2 745.9h0M259.3 730.5h0M257.8 693.9h0M255.6 706.9h0M263.5 706.3h0M249.1 750.7h0M253.3 742.7h0M240.9 720.4h0M253.0 749.8h0M243.5 707.3h0M263.7 737.1h0M262.1 690.8h0M251.1 755.2h0M256.5 704.8h0M263.6 720.8h0M249.4 753.3h0M251.3 755.2h0M246.0 727.4h0M240.9 717.2h0M256.2 726.8h0M251.7 752.8h0M255.0 750.0h0M243.6 726.5h0M256.2 742.5h0M252.2 754.2h0M263.1 715.0h0M240.1 721.4h0M251.6 753.1h0M261.7 702.6h0M235.5 715.1h0M246.1 738.6h0M241.7 686.3h0M256.1 739.2h0M238.6 706.6h0M256.5 743.0h0M251.5 754.8h0M248.0 751.6h0M246.8 742.0h0M259.1 694.2h0M243.1 710.9h0M248.2 738.3h0M254.2 752.6h0M233.3 697.4h0M259.3 740.7h0M248.4 751.5h0M248.2 748.7h0M252.9 752.1h0M242.5 747.7h0M251.3 755.4h0M252.4 751.1h0M253.9 748.2h0M254.9 734.3h0M249.6 752.7h0M247.7 738.9h0M255.0 724.5h0M248.2 751.3h0M250.4 755.2h0M243.8 730.0h0M248.4 748.7h0M257.9 731.9h0M235.4 705.2h0M259.2 742.4h0M268.5 695.3h0M255.2 745.3h0M248.1 747.7h0M257.2 732.1h0M249.9 752.4h0M255.9 739.9h0M227.6 644.7h0M236.7 638.1h0M255.1 738.4h0M255.8 743.6h0M238.6 695.9h0M263.7 735.8h0M245.5 749.9h0M250.2 754.8h0M253.2 750.9h0M258.2 739.4h0M252.4 753.5h0M261.4 732.7h0M256.6 711.5h0M262.9 687.8h0M254.9 744.9h0M247.3 743.1h0M240.9 709.8h0M269.2 721.4h0M248.4 752.3h0M246.6 741.1h0M260.1 671.8h0M252.9 748.9h0M227.4 622.3h0M257.4 732.1h0M271.1 696.7h0M260.5 652.1h0M236.1 699.1h0M255.6 727.3h0M252.5 753.2h0M247.8 751.7h0M256.9 745.6h0M260.2 706.3h0M231.2 689.0h0M275.1 709.1h0M249.0 751.9h0M247.9 746.2h0M250.0 754.0h0M231.5 680.4h0M253.6 746.5h0M239.3 715.3h0M241.6 730.3h0M254.1 750.2h0M254.8 738.7h0M255.8 746.8h0M247.2 747.4h0M242.8 735.0h0M253.7 742.5h0M248.3 751.1h0M249.7 754.4h0M254.5 748.4h0M262.5 724.8h0M249.4 753.3h0M241.2 731.3h0M252.8 751.0h0M246.3 736.4h0M254.1 745.5h0M250.1 754.6h0M248.7 751.1h0M227.1 669.8h0M252.3 754.5h0M256.7 729.5h0M250.5 755.5h0M248.4 751.7h0M250.7 756.1h0M251.0 755.7h0M242.5 742.8h0M264.4 718.1h0M252.2 748.1h0M234.7 668.6h0M256.5 736.0h0M257.2 728.3h0M257.5 738.3h0M257.9 732.8h0M218.9 535.7h0M251.2 755.2h0M240.4 726.7h0M257.5 727.6h0M251.9 753.4h0M251.4 754.5h0M252.4 750.0h0M251.2 755.4h0M235.9 707.5h0M251.8 751.2h0M252.7 747.3h0M242.7 742.5h0M255.8 727.9h0M233.3 656.5h0M254.9 748.9h0M247.8 749.2h0M248.3 753.0h0M248.3 753.7h0M250.7 755.8h0M247.4 750.5h0M254.7 744.3h0M245.6 714.9h0M241.7 738.0h0M243.3 711.8h0M238.1 717.7h0M248.7 747.5h0M252.1 752.6h0M264.6 670.8h0M238.9 731.9h0M262.0 728.6h0M251.5 754.9h0M240.2 736.9h0M265.2 727.5h0M244.8 745.5h0M249.2 750.4h0M247.9 743.1h0M243.6 740.6h0M238.4 725.0h0M247.1 736.8h0M251.7 755.1h0M250.2 755.2h0M246.2 741.6h0M240.1 702.4h0M262.8 728.7h0M249.3 748.6h0M247.5 745.9h0M247.5 748.7h0M243.1 700.8h0M232.4 638.1h0M263.5 624.3h0M255.2 737.5h0M245.2 735.8h0M256.2 741.4h0M234.9 712.6h0M247.0 749.3h0M254.2 744.4h0M258.9 732.9h0M251.9 754.2h0M249.6 754.2h0M251.2 754.0h0M236.7 692.0h0M253.6 748.3h0M263.4 644.3h0M237.1 718.7h0M248.0 749.5h0M254.9 742.0h0M242.5 745.0h0M251.8 754.4h0M246.6 748.3h0M266.1 691.1h0M257.4 724.9h0M248.3 741.9h0M254.7 746.8h0M244.0 730.5h0M244.3 707.4h0M244.5 727.3h0M254.7 707.7h0M256.9 740.8h0M254.3 746.4h0M254.6 742.1h0M283.0 684.2h0M252.9 750.4h0M243.1 738.2h0M242.7 709.5h0M259.0 709.1h0M272.2 529.2h0M243.2 745.8h0M249.0 753.4h0M246.6 745.5h0M238.1 719.9h0M256.2 730.3h0M252.2 754.8h0M242.9 674.6h0M251.6 753.5h0M251.6 754.7h0M240.4 739.2h0M247.7 747.3h0M247.2 745.5h0M245.2 740.9h0M249.2 747.8h0M253.2 751.0h0M253.0 750.0h0M244.3 727.0h0M251.4 752.6h0M245.9 712.7h0M264.0 705.3h0M262.4 711.9h0M249.3 750.0h0M251.4 754.5h0M238.2 713.3h0M248.8 751.5h0M272.6 654.2h0M248.8 750.3h0M226.9 695.6h0M244.6 726.9h0M253.2 749.6h0M258.9 611.6h0M247.4 742.9h0M252.7 747.8h0M282.7 630.9h0M259.3 676.1h0M252.9 748.4h0M250.6 755.5h0M259.3 742.6h0M246.0 748.4h0M252.0 753.8h0M249.7 753.8h0M252.5 746.0h0M252.3 751.2h0M249.9 752.7h0M264.7 661.1h0M252.5 752.9h0M248.3 745.4h0M245.5 741.3h0M245.7 734.1h0M260.1 712.8h0M238.3 718.3h0M271.3 687.4h0M243.4 702.1h0M258.4 718.8h0M251.1 755.9h0M247.1 739.3h0M253.7 741.3h0M245.8 742.7h0M248.8 753.1h0M249.2 749.8h0M241.1 720.6h0M253.2 749.6h0M247.4 727.5h0M249.0 752.9h0M241.2 667.3h0M248.8 752.2h0M237.5 669.3h0M252.5 753.4h0M251.8 753.6h0M239.1 712.1h0M246.2 730.1h0M253.8 745.1h0M252.1 754.4h0M255.0 747.5h0M243.0 733.1h0M261.0 726.5h0M252.5 746.4h0M253.8 749.7h0M250.5 755.2h0M261.8 717.4h0M229.4 691.7h0M264.2 731.0h0M272.4 693.6h0M257.1 733.2h0M248.8 746.8h0M250.9 756.0h0M241.2 725.9h0M255.0 733.7h0M246.3 744.5h0M264.8 720.1h0M265.6 670.7h0M243.5 733.2h0M229.3 714.8h0M253.4 749.2h0M258.4 715.0h0M259.5 723.3h0M246.6 743.6h0M256.7 733.4h0M255.8 746.1h0M256.6 748.9h0M264.0 672.3h0M265.9 701.3h0M254.7 742.4h0M253.1 753.2h0M260.2 715.9h0M251.3 754.9h0M249.1 751.8h0M257.1 712.1h0M253.4 741.8h0M247.4 744.1h0M248.1 737.6h0M236.2 678.3h0M237.6 696.7h0M256.0 743.4h0M265.6 724.2h0M255.2 734.6h0M241.9 709.0h0M249.0 753.5h0M255.0 745.2h0M256.5 726.5h0M242.1 732.1h0M245.9 733.5h0M242.0 725.4h0M268.2 730.9h0M255.2 742.0h0M254.5 746.3h0M250.7 755.9h0M249.0 751.5h0M255.0 740.5h0M258.6 681.6h0M259.1 693.6h0M239.8 698.2h0M255.1 730.9h0M229.8 685.1h0M256.0 730.8h0M244.9 730.7h0M251.7 755.1h0M245.5 712.4h0M242.6 731.7h0M238.2 733.4h0M255.5 743.7h0M249.1 753.0h0M251.2 755.1h0M254.7 705.3h0M262.1 725.1h0M241.9 735.5h0M261.6 694.0h0M247.0 748.6h0M221.7 653.5h0M260.9 716.8h0M248.7 751.8h0M235.9 725.5h0M258.1 732.8h0M245.9 724.8h0M247.5 750.2h0M242.5 724.7h0M256.3 687.1h0M251.1 755.9h0M253.5 741.4h0M262.2 736.0h0M248.6 750.2h0M249.3 752.0h0M253.5 749.7h0M256.8 725.4h0M240.2 659.7h0M242.2 709.5h0M250.4 755.5h0M261.4 717.8h0M258.7 739.2h0M253.4 752.1h0M239.1 648.1h0M260.0 738.1h0M245.0 735.5h0M250.5 754.9h0M250.1 754.8h0M247.4 748.8h0M255.1 731.0h0M244.0 720.0h0M256.7 735.0h0M267.7 654.9h0M258.4 685.8h0M261.7 721.4h0M254.2 748.6h0M257.9 738.7h0M249.7 754.7h0M253.3 750.3h0M250.4 755.2h0M238.1 677.9h0M249.0 750.7h0M254.5 739.8h0M243.6 733.5h0M264.6 693.6h0M246.3 726.7h0M243.4 735.8h0M248.1 748.3h0M251.8 753.7h0M258.7 726.3h0M245.0 738.3h0M247.7 751.1h0M247.1 746.9h0M256.4 734.0h0M240.0 733.7h0M253.6 744.9h0M245.7 715.6h0M249.0 752.7h0M252.9 749.3h0M255.6 704.1h0M252.2 752.0h0M253.7 749.8h0M247.6 750.4h0M232.7 734.4h0M241.3 699.8h0M248.0 747.1h0M251.8 754.5h0M256.7 742.1h0M243.7 743.4h0M257.0 733.8h0M253.1 749.8h0M244.9 731.0h0M253.1 749.1h0M257.1 736.9h0M244.8 743.8h0M245.2 731.2h0M250.8 756.0h0M249.3 752.9h0M243.5 737.1h0M253.9 735.8h0M236.6 697.3h0M262.1 712.5h0M257.3 743.8h0M244.5 725.5h0M248.9 750.0h0M249.3 752.0h0M264.3 724.7h0M253.9 745.3h0M237.5 693.1h0M241.3 727.4h0M252.6 750.8h0M247.6 739.8h0M257.1 730.6h0M248.7 752.1h0M253.9 747.9h0M258.3 744.6h0M258.2 729.7h0M248.1 750.8h0M256.6 727.1h0M246.2 730.4h0M246.4 744.5h0M251.5 754.7h0M257.9 725.7h0M271.3 680.6h0M254.0 739.8h0M247.8 746.3h0M248.8 748.7h0M244.0 710.1h0M253.3 747.7h0M265.3 684.9h0M247.9 748.4h0M255.9 700.8h0M262.3 705.6h0M239.7 696.4h0M264.9 720.5h0M265.5 725.6h0M247.5 737.4h0M261.8 694.8h0M256.2 729.3h0M262.5 715.6h0M254.3 745.2h0M247.9 748.4h0M256.5 714.3h0M259.5 707.7h0M257.8 743.8h0M247.4 740.7h0M238.3 680.0h0M247.1 741.6h0M238.1 732.6h0M236.0 713.4h0M246.4 742.5h0M247.7 750.8h0M251.1 755.7h0M252.2 753.1h0M257.4 738.2h0M258.2 736.8h0M252.9 751.6h0M254.1 740.9h0M249.5 752.3h0M246.1 744.1h0M251.0 755.6h0M241.8 721.2h0M238.5 708.5h0M250.6 755.3h0M239.9 732.4h0M252.7 751.9h0M235.2 731.9h0M255.2 715.6h0M249.0 753.1h0M243.5 722.0h0M251.4 755.2h0M241.5 715.2h0M252.5 751.5h0M254.0 749.0h0M243.7 717.8h0M258.7 726.0h0M242.1 720.2h0M258.3 719.6h0M241.8 707.7h0M274.0 668.8h0M258.8 698.2h0M244.2 727.9h0M267.8 668.0h0M246.7 742.4h0M248.7 750.0h0M235.3 709.4h0M241.6 695.9h0M245.6 745.8h0M254.4 736.0h0M256.1 727.8h0M234.2 632.7h0M228.5 690.1h0M246.4 745.4h0M246.7 748.3h0M245.1 737.9h0M251.9 752.4h0M244.6 730.9h0M248.9 752.2h0M260.9 724.2h0M252.2 750.7h0M257.8 729.7h0M244.9 747.7h0M258.5 664.6h0M248.6 752.3h0M254.5 742.3h0M248.6 753.0h0M252.5 754.3h0M246.1 748.2h0M230.1 668.2h0M263.4 722.4h0M237.4 714.9h0M263.2 646.0h0M257.6 727.5h0M251.4 755.2h0M252.2 752.9h0M254.9 746.9h0M248.3 747.5h0M240.2 707.2h0M240.9 684.5h0M255.0 721.0h0M249.7 752.4h0M261.9 657.3h0M269.0 685.3h0M250.3 755.1h0M246.8 746.5h0M262.6 719.8h0M242.1 729.9h0M233.6 705.5h0M260.4 695.4h0M241.2 718.2h0M245.4 727.7h0M257.4 742.3h0M248.0 749.1h0M258.5 724.4h0M266.9 690.8h0M254.6 742.4h0M238.0 700.2h0M263.2 731.1h0M251.6 754.7h0M248.7 745.0h0M269.7 644.1h0M234.0 704.8h0M257.0 734.6h0M242.4 710.0h0M240.2 673.0h0M246.6 745.8h0M250.9 756.1h0M247.4 746.9h0M263.0 681.1h0M238.9 720.2h0M246.9 748.5h0M252.1 752.5h0M243.2 741.9h0M245.0 737.7h0M236.1 600.9h0M249.8 755.0h0M251.7 750.6h0M253.8 746.4h0M259.6 714.6h0M252.1 754.6h0M240.8 605.2h0M254.3 746.9h0M254.6 743.5h0M251.5 754.6h0M255.1 742.3h0M253.0 744.5h0M244.9 723.6h0M258.6 734.6h0M240.1 686.5h0M261.1 732.1h0M237.9 735.1h0M263.7 648.7h0M237.3 725.9h0M234.9 660.4h0M257.5 733.1h0M254.6 740.1h0M257.6 739.5h0M225.0 627.4h0M243.5 722.8h0M266.3 698.4h0M278.4 593.5h0M230.6 658.9h0M251.1 755.6h0M257.5 737.3h0M250.3 754.4h0M246.4 746.4h0M245.2 730.6h0M250.2 752.2h0M254.9 736.2h0M255.5 720.4h0M255.9 734.8h0M253.5 752.2h0M261.7 683.2h0M238.6 699.6h0M237.3 716.9h0M248.7 748.6h0M251.0 755.9h0M244.9 713.3h0M260.8 724.4h0M262.2 671.4h0M247.2 745.4h0M258.7 705.3h0M244.9 739.6h0M243.6 707.1h0M245.8 741.6h0M265.8 699.2h0M256.3 715.2h0M238.3 719.5h0M247.6 744.6h0M237.3 710.5h0M268.7 709.8h0M244.4 741.4h0M253.5 752.7h0M256.6 747.5h0M251.0 755.8h0M261.7 728.5h0M265.5 655.2h0M255.8 742.2h0M269.3 686.9h0M240.7 669.5h0M244.8 728.9h0M257.0 744.0h0M241.2 716.0h0M251.0 755.8h0M246.9 743.9h0M252.0 753.9h0M254.4 749.6h0M276.6 663.5h0M264.4 728.3h0M250.3 754.6h0M269.2 716.1h0M251.2 755.5h0M249.4 750.3h0M251.0 755.7h0M258.6 721.1h0M247.2 747.4h0M251.5 753.1h0M245.4 739.6h0M260.7 732.0h0M245.0 742.8h0M261.6 655.5h0M240.6 729.5h0M237.2 696.1h0M252.5 741.9h0M243.5 736.9h0M261.0 738.8h0M250.8 756.1h0M248.0 743.1h0M257.4 737.6h0M247.0 747.1h0M246.5 724.0h0M259.5 738.1h0M251.1 755.2h0M246.8 738.8h0M259.7 726.8h0M256.0 732.4h0M245.4 740.0h0M243.1 744.4h0M247.5 748.9h0M248.8 753.1h0M255.6 737.5h0M246.6 747.1h0M264.0 712.2h0M238.7 661.8h0M247.3 739.7h0M236.3 728.8h0M251.7 753.3h0M248.5 745.1h0M247.2 750.6h0M254.2 745.0h0M240.9 706.6h0M233.8 702.2h0M243.1 705.9h0M250.5 755.3h0M246.6 750.8h0M249.4 754.8h0M253.9 739.7h0M234.2 710.7h0M243.8 725.5h0M244.2 743.5h0M249.1 749.5h0M260.4 735.1h0M242.7 727.8h0M260.0 731.6h0M248.6 748.7h0M258.5 735.2h0M259.9 729.2h0M257.8 743.3h0M237.3 703.9h0M243.0 726.4h0M255.6 741.2h0M243.9 732.5h0M268.1 712.0h0M258.0 732.9h0M249.5 750.6h0M273.3 699.3h0M229.8 677.0h0M238.9 714.1h0M259.5 722.0h0M255.3 744.0h0M238.8 696.8h0M248.7 748.7h0M255.0 735.2h0M245.4 740.7h0M275.0 677.6h0M258.4 742.4h0M256.9 747.0h0M253.5 745.9h0M251.8 753.8h0M250.1 752.7h0M250.7 756.1h0M248.0 746.5h0M269.1 637.8h0M262.9 707.8h0M254.5 743.3h0M259.1 690.1h0M248.9 751.2h0M268.3 655.0h0M254.3 739.4h0M252.5 750.2h0M257.4 711.6h0M244.2 747.4h0M245.7 703.9h0M254.1 739.4h0M247.2 745.4h0M254.0 745.7h0M257.0 743.7h0M254.1 748.2h0M245.9 731.2h0M249.7 753.3h0M245.0 738.9h0M252.0 753.7h0M256.8 742.6h0M253.0 751.7h0M248.4 742.7h0M251.6 754.5h0M258.3 700.7h0M246.2 748.4h0M228.2 687.5h0M253.2 752.5h0M244.9 730.3h0M243.9 735.8h0M247.0 745.5h0M227.4 671.3h0M250.8 756.2h0M260.7 730.4h0M250.9 755.8h0M250.0 753.5h0M255.8 739.9h0M240.9 731.5h0M255.3 751.4h0M246.6 746.2h0M261.5 690.4h0M255.0 733.5h0M261.1 732.3h0M251.4 755.1h0M247.0 729.3h0M254.6 746.2h0M260.0 733.6h0M251.0 755.9h0M255.8 749.4h0M268.3 677.5h0M245.7 737.8h0M250.9 756.0h0M240.4 731.8h0M254.8 740.2h0M245.9 743.1h0M249.5 754.2h0M255.3 742.7h0M264.7 726.9h0M245.3 722.8h0M238.9 695.5h0M250.8 756.1h0M248.1 750.9h0M249.2 751.0h0M266.9 642.4h0M238.5 743.3h0M253.9 750.4h0M252.9 751.7h0M251.4 754.4h0M250.5 755.4h0M255.9 733.0h0M242.3 718.7h0M253.0 752.2h0M248.0 746.3h0M261.2 707.2h0M237.3 718.5h0M242.1 694.7h0M249.2 753.1h0M253.5 746.8h0M266.5 645.1h0M253.7 751.3h0M249.0 754.4h0M241.0 648.7h0M253.7 753.8h0M253.3 752.4h0M250.1 754.5h0M235.0 661.5h0M248.0 738.9h0M256.5 738.9h0M267.4 692.6h0M238.9 678.5h0M251.5 754.9h0M254.9 750.6h0M246.5 745.8h0M261.1 694.0h0M237.7 665.1h0M250.6 755.8h0M243.9 708.1h0M238.5 674.4h0M249.4 752.7h0M246.1 734.9h0M250.7 755.8h0M245.6 741.6h0M258.2 697.8h0M249.9 753.2h0M254.5 731.8h0M252.0 753.5h0M254.9 750.3h0M257.2 746.7h0M261.6 741.9h0M256.9 711.3h0M244.2 735.8h0M254.4 746.7h0M257.2 732.4h0M245.4 733.0h0M249.6 751.0h0M249.2 752.3h0M254.5 748.0h0M249.1 751.1h0M246.0 744.4h0M256.0 730.7h0M243.7 719.8h0M255.6 745.1h0M240.9 736.7h0M246.0 741.0h0M258.3 724.2h0M225.4 600.2h0M257.4 736.5h0M257.1 746.7h0M251.6 754.2h0M252.3 744.3h0M236.7 696.1h0M247.8 739.0h0M274.6 706.4h0M240.8 733.1h0M249.3 747.0h0M267.0 715.3h0M250.9 755.9h0M246.7 741.0h0M248.9 752.0h0M256.5 736.8h0M237.1 675.4h0M255.8 742.0h0M253.5 742.8h0M253.9 751.9h0M256.1 733.5h0M259.5 733.6h0M226.0 723.2h0M243.8 740.8h0M260.8 678.1h0M242.2 739.7h0M253.6 748.0h0M258.1 728.4h0M249.4 753.0h0M245.5 721.5h0M242.4 691.6h0M251.9 750.3h0M257.0 746.2h0M225.2 711.1h0M254.5 751.4h0M249.1 747.8h0M244.9 728.9h0M251.5 752.6h0M262.4 723.1h0M244.8 746.7h0M243.0 743.4h0M260.8 741.2h0M269.1 657.9h0M252.4 746.8h0M255.2 744.2h0M268.4 715.4h0M257.8 724.9h0M263.4 740.0h0M241.9 697.0h0M239.4 705.7h0M244.9 740.5h0M249.5 751.0h0M270.1 690.0h0M249.1 751.3h0M248.3 744.2h0M265.4 656.8h0M238.0 595.1h0M263.7 686.8h0M257.8 734.5h0M250.4 755.3h0M247.6 744.5h0M259.1 678.8h0M253.3 743.8h0M267.2 720.3h0M251.0 755.6h0M248.9 749.4h0M258.8 724.8h0M247.4 749.8h0M265.8 688.0h0M257.2 739.3h0M253.2 750.8h0M253.0 744.4h0M245.0 726.7h0M263.2 712.3h0M250.8 756.2h0M247.3 745.3h0M255.7 739.7h0M267.2 667.6h0M248.8 743.7h0M254.4 720.6h0M244.7 740.9h0M253.2 745.4h0M260.9 735.6h0M252.4 752.2h0M257.7 723.6h0M257.0 735.6h0M264.8 665.6h0M247.7 749.8h0M237.8 699.4h0M252.9 742.7h0M260.4 723.8h0M255.5 735.8h0M251.7 753.4h0M255.0 732.2h0M243.5 744.8h0M254.8 746.5h0M248.5 743.0h0M250.4 754.8h0M246.9 743.4h0M242.6 732.8h0M260.1 734.3h0M242.0 685.3h0M256.2 730.1h0M247.2 746.1h0M237.0 675.2h0M246.5 723.1h0M249.6 753.9h0M245.3 736.5h0M242.7 735.2h0M250.7 755.9h0M239.6 696.0h0M253.5 745.9h0M248.4 750.7h0M240.3 713.1h0M250.8 756.2h0M257.8 711.7h0M255.3 747.2h0M257.1 738.1h0M249.8 753.7h0M258.0 740.9h0M250.6 755.5h0M243.1 715.5h0M245.6 718.2h0M248.7 746.1h0M237.0 719.2h0M250.0 753.7h0M254.0 749.3h0M256.9 696.5h0M258.3 724.4h0M248.0 746.1h0M250.8 756.2h0M259.1 731.0h0M261.4 632.5h0M249.3 753.4h0M253.5 747.9h0M256.2 744.6h0M242.1 726.0h0M256.2 733.2h0M237.9 708.7h0M256.8 744.0h0M252.1 751.1h0M245.0 678.1h0M249.1 750.7h0M251.5 754.6h0M256.0 738.3h0M251.1 755.5h0M255.9 743.0h0M272.7 664.0h0M249.8 754.4h0M257.2 727.0h0M243.0 727.9h0M249.6 749.3h0M249.2 752.7h0M249.8 754.1h0M246.4 733.9h0M252.3 750.6h0M242.7 741.6h0M250.6 755.6h0M251.9 754.8h0M248.4 749.5h0M242.4 722.8h0M254.5 744.8h0M249.1 750.8h0M266.2 718.0h0M243.5 696.4h0M257.9 734.9h0M251.0 756.0h0M259.2 729.6h0M262.4 717.0h0M254.8 724.9h0M246.0 744.5h0M253.4 740.6h0M253.1 749.9h0M254.4 741.4h0M247.6 750.7h0M250.3 755.5h0M255.4 745.4h0M238.3 736.0h0M232.8 723.3h0M246.8 741.0h0M261.2 719.3h0M240.5 732.4h0M257.6 732.6h0M251.3 755.4h0M248.8 753.3h0M243.4 716.0h0M249.4 754.3h0M244.2 724.4h0M261.1 727.0h0M261.8 719.2h0M249.8 753.7h0M253.5 746.6h0M255.7 725.7h0M252.7 752.3h0M246.1 749.4h0M250.8 756.2h0M256.8 734.7h0M251.1 755.5h0M270.5 711.8h0M250.6 755.6h0M249.1 753.8h0M254.8 734.0h0M252.3 750.5h0M257.3 717.9h0M260.4 730.5h0M249.3 753.3h0M249.0 753.5h0M251.8 754.0h0M243.2 715.8h0M258.8 727.3h0M261.8 683.7h0M239.9 695.9h0M241.3 671.7h0M258.8 745.7h0M243.1 735.9h0M250.7 756.1h0M243.3 726.0h0M246.9 744.4h0M237.4 722.7h0M256.2 735.4h0M250.0 754.7h0M260.2 741.3h0M240.8 676.7h0M251.1 755.2h0M238.5 704.7h0M250.5 755.7h0M246.8 736.5h0M259.0 728.1h0M237.4 737.3h0M247.5 744.6h0M240.3 728.0h0M252.7 750.7h0M247.0 746.3h0M259.0 737.0h0M244.2 740.4h0M257.3 724.6h0M238.4 700.1h0M247.2 730.7h0M241.2 728.4h0M243.8 726.2h0M250.2 754.7h0M242.5 666.7h0M249.7 754.6h0M237.5 650.6h0M252.1 755.0h0M257.9 728.4h0M253.0 747.9h0M247.6 746.9h0M247.5 748.8h0M232.8 721.6h0M247.3 730.7h0M254.3 746.1h0M247.4 745.8h0M248.7 750.7h0M252.1 746.5h0M258.7 716.9h0M257.3 725.8h0M255.0 708.1h0M243.0 735.5h0M253.8 748.2h0M248.6 746.3h0M258.5 735.7h0M249.5 753.7h0M255.8 728.0h0M249.7 753.8h0M273.1 667.4h0M254.9 742.8h0M256.3 738.9h0M249.7 753.8h0M257.2 709.0h0M235.7 713.2h0M250.8 756.2h0M249.5 753.3h0M243.9 723.4h0M244.0 718.7h0M245.3 736.2h0M252.4 749.8h0M252.8 752.5h0M245.3 735.1h0M253.2 749.3h0M245.4 730.6h0M252.7 751.3h0M249.5 750.9h0M241.4 680.2h0M242.8 720.3h0M244.6 726.2h0M253.1 752.1h0M240.0 716.9h0M241.4 735.0h0M245.1 744.4h0M256.6 690.1h0M262.5 706.6h0M243.6 739.7h0M246.7 717.2h0M260.3 735.5h0M242.1 739.0h0M249.0 751.0h0M253.3 748.4h0M249.1 752.2h0M256.5 738.0h0M254.4 747.3h0M242.1 739.8h0M253.3 747.8h0M250.8 756.2h0M268.7 717.7h0M257.1 746.2h0M234.8 694.8h0M260.6 727.3h0M237.2 722.4h0M257.6 737.5h0M244.5 734.9h0M249.9 754.6h0M254.1 739.9h0M251.0 755.2h0M250.4 755.1h0M256.1 728.9h0M244.1 727.2h0M243.4 735.4h0M268.5 704.4h0M249.5 749.9h0M261.7 590.1h0M255.2 747.2h0M247.1 726.3h0M257.9 719.3h0M235.5 737.1h0M251.0 755.6h0M249.3 750.6h0M249.8 752.4h0M256.6 744.5h0M254.5 746.7h0M255.1 720.0h0M256.2 708.8h0M250.4 755.3h0M245.5 745.9h0M248.8 750.8h0M261.7 717.3h0M251.3 755.0h0M255.2 743.0h0M250.4 755.4h0M253.8 750.8h0M266.8 699.1h0M253.1 734.1h0M252.3 753.9h0M251.0 755.9h0M255.8 740.2h0M256.6 735.7h0M256.1 733.8h0M253.7 749.1h0M247.4 740.8h0M252.3 751.0h0M270.7 694.1h0M262.0 610.4h0M240.6 730.6h0M251.6 754.0h0M247.5 739.5h0M248.4 749.8h0M238.8 733.7h0M241.4 733.2h0M252.5 743.9h0M251.4 754.3h0M257.1 748.6h0M235.8 684.2h0M252.3 753.5h0M240.3 709.5h0M268.1 684.0h0M264.1 731.2h0M252.9 748.3h0M243.4 704.7h0M253.8 746.5h0M247.4 743.2h0M256.0 744.6h0M254.9 745.1h0M248.8 754.0h0M246.7 749.6h0M252.8 749.4h0M263.3 693.3h0M247.7 746.7h0M259.9 722.2h0M243.0 726.0h0M253.0 749.6h0M262.8 696.1h0M231.7 666.0h0M248.5 750.8h0M259.7 723.4h0M251.9 753.3h0M253.3 750.0h0M242.6 728.3h0M260.6 715.8h0M228.4 717.6h0M234.1 704.8h0M248.4 746.9h0M255.5 741.1h0M261.6 727.1h0M260.6 722.6h0M261.2 711.6h0M252.6 753.5h0M254.3 745.4h0M246.0 722.2h0M241.2 714.7h0M229.7 641.7h0M257.8 721.1h0M255.5 725.0h0M248.0 736.8h0M252.8 748.6h0M248.8 743.3h0M253.6 738.4h0M245.2 747.1h0M250.6 755.8h0M241.6 740.8h0M260.3 739.2h0M250.5 755.7h0M247.3 748.4h0M237.0 729.4h0M248.1 751.2h0M250.5 755.5h0M247.6 743.4h0M245.4 744.7h0M252.1 754.5h0M260.8 683.0h0M239.3 691.2h0M251.3 755.5h0M253.0 742.0h0M253.2 748.0h0M233.4 708.3h0M253.3 749.9h0M246.3 732.5h0M237.0 529.2h0M259.1 739.3h0M249.4 752.8h0M241.0 668.7h0M257.6 742.1h0M239.6 716.6h0M245.2 743.6h0M251.4 753.8h0M248.3 745.5h0M252.8 752.6h0M264.9 720.8h0M251.1 755.4h0M259.3 733.8h0M251.8 751.5h0M248.7 751.4h0M257.4 726.9h0M243.8 736.5h0M256.9 739.0h0M252.6 752.6h0M253.2 748.2h0M255.6 747.1h0M267.7 674.7h0M250.9 755.8h0M257.9 717.4h0M250.3 755.6h0M251.4 755.1h0M244.9 697.2h0M246.2 743.2h0M228.4 695.9h0M257.5 738.2h0M241.0 721.2h0M242.8 710.5h0M252.3 753.4h0M251.4 755.4h0M254.3 749.9h0M244.4 739.2h0M245.7 745.5h0M248.4 752.0h0M255.3 747.4h0M255.1 738.1h0M255.6 734.2h0M250.3 754.7h0M257.1 741.7h0M258.1 739.6h0M262.8 684.8h0M246.5 743.1h0M266.6 664.7h0M251.1 755.8h0M247.4 746.9h0M244.9 742.3h0M252.7 750.4h0M240.0 683.3h0M246.3 738.7h0M254.7 738.5h0M247.2 751.6h0M261.1 718.9h0M246.5 750.8h0M252.4 750.5h0M250.5 755.7h0M242.9 695.6h0M253.2 745.6h0M263.7 733.9h0M251.6 754.3h0M257.4 738.4h0M260.6 724.2h0M247.5 749.1h0M256.5 741.9h0M258.5 742.0h0M266.4 703.0h0M221.3 636.6h0M252.1 753.7h0M253.6 746.1h0M253.2 753.2h0M258.7 734.8h0M270.9 687.2h0M250.7 755.9h0M244.2 712.2h0M248.4 752.1h0M236.9 699.8h0M240.1 708.7h0M250.6 755.6h0M255.1 741.5h0M240.3 707.4h0M249.5 753.3h0M250.8 756.2h0M248.9 746.4h0M254.0 745.8h0M246.5 729.6h0M253.7 747.6h0M255.9 725.7h0M260.0 728.7h0M252.8 750.3h0M260.0 741.2h0M249.0 750.1h0M248.9 748.4h0M235.6 637.9h0M241.4 693.4h0M250.6 756.0h0M257.7 747.3h0M250.3 755.5h0M245.2 726.7h0M246.6 742.7h0M251.5 755.2h0M237.5 708.5h0M254.2 745.0h0M233.6 715.9h0M258.5 710.9h0M257.6 741.2h0M254.9 746.6h0M264.8 705.5h0M243.6 738.2h0M252.8 751.6h0M254.3 744.7h0M255.1 729.0h0M248.9 754.0h0M246.3 746.5h0M254.2 745.9h0M252.4 748.0h0M243.0 677.3h0M252.3 752.3h0M255.6 739.1h0M246.6 742.0h0M252.0 754.6h0M246.1 744.4h0M240.6 714.4h0M251.5 753.5h0M250.2 753.7h0M248.0 748.9h0M255.4 744.2h0M249.3 751.8h0M254.4 741.1h0M247.3 744.1h0M253.9 751.1h0M256.3 721.0h0M262.4 683.7h0M260.2 734.2h0M252.2 749.5h0M263.4 647.5h0M256.0 745.8h0M282.5 693.6h0M251.5 753.1h0M239.3 660.8h0M264.1 741.4h0M251.3 753.6h0M252.6 751.1h0M244.6 726.6h0M267.2 712.8h0M252.3 752.5h0M263.9 739.7h0M242.3 737.9h0M241.7 709.7h0M268.9 736.2h0M244.5 715.8h0M265.1 696.0h0M238.1 736.7h0M246.9 748.6h0M247.5 727.1h0M249.1 749.8h0M252.1 753.6h0M268.4 651.3h0M252.8 737.9h0M280.0 647.4h0M254.2 727.7h0M249.1 753.7h0M247.4 741.7h0M253.8 748.7h0M262.2 709.5h0M237.3 696.3h0M249.9 755.0h0M243.6 739.8h0M251.0 755.6h0M246.5 740.8h0M242.9 743.5h0M251.1 755.3h0M252.8 752.0h0M260.5 721.7h0M251.2 754.5h0M244.8 745.9h0M255.3 735.9h0M259.0 740.1h0M257.3 731.4h0M240.8 714.6h0M262.4 717.4h0M229.8 669.6h0M252.0 754.3h0M255.8 740.3h0M255.0 741.7h0M250.5 755.5h0M246.7 733.6h0M265.6 700.8h0M254.4 746.7h0M249.2 751.4h0M246.8 745.9h0M255.2 734.4h0M245.5 743.4h0M250.0 754.3h0M260.0 719.1h0M256.5 739.2h0M250.4 755.8h0M237.4 720.9h0M231.5 694.7h0M241.6 708.4h0M252.2 754.0h0M245.7 732.4h0M253.7 746.6h0M237.9 684.5h0M236.5 699.5h0M237.8 716.5h0M255.8 730.5h0M244.6 742.3h0M262.9 718.2h0M250.3 754.8h0M239.7 663.9h0M250.0 754.3h0M234.8 653.8h0M251.8 753.8h0M249.8 752.6h0M251.0 756.0h0M245.9 732.7h0M246.1 733.5h0M230.4 642.8h0M240.3 724.1h0M248.6 739.4h0M270.8 686.0h0M257.0 728.2h0M256.9 744.6h0M240.8 724.2h0M246.0 727.9h0M247.1 740.9h0M249.7 754.3h0M256.7 728.2h0M262.3 674.8h0M236.2 636.8h0M253.2 748.4h0M248.4 741.1h0M250.5 755.3h0M258.0 740.6h0M254.8 740.7h0M241.5 726.5h0M249.9 754.5h0M239.6 727.2h0M252.9 750.8h0M258.9 731.7h0M245.1 734.6h0M269.8 731.9h0M240.9 720.8h0M253.3 750.0h0M259.7 699.9h0M233.6 734.3h0M250.6 755.4h0M257.8 735.7h0M243.7 731.0h0M244.7 722.3h0M270.1 639.9h0M252.0 753.4h0M248.0 753.6h0M251.3 755.8h0M239.8 718.5h0M248.3 750.6h0M248.0 752.9h0M235.6 713.8h0M257.5 716.7h0M256.5 747.4h0M242.5 722.9h0M251.8 753.3h0M252.9 749.3h0M251.8 754.7h0M269.6 722.5h0M254.2 748.1h0M250.7 756.1h0M250.9 755.9h0M235.6 721.9h0M258.6 736.5h0M242.0 715.0h0M272.8 672.7h0M242.6 737.1h0M245.9 741.9h0M240.8 678.0h0M256.6 740.9h0M247.2 749.3h0M238.8 702.9h0M242.2 691.6h0M244.3 735.0h0M255.7 730.6h0M260.0 720.3h0M247.6 747.2h0M243.9 742.3h0M253.5 749.3h0M248.0 732.6h0M255.0 742.7h0M252.8 751.7h0M245.1 736.0h0M248.9 753.7h0M243.4 727.5h0M242.8 731.0h0M242.7 727.7h0M251.3 755.2h0M255.8 746.7h0M251.4 753.4h0M253.1 752.5h0M259.6 737.7h0M263.6 712.0h0M259.4 705.0h0M242.8 691.7h0M259.1 724.8h0M249.6 750.7h0M251.0 755.4h0M257.6 725.4h0M255.6 737.8h0M242.6 714.2h0M244.2 741.0h0M258.9 723.9h0M253.0 741.0h0M235.7 708.4h0M258.7 737.4h0M252.5 745.1h0M237.3 712.3h0M255.4 712.8h0M241.6 711.3h0M235.6 691.5h0M253.9 748.9h0M244.5 716.2h0M253.3 748.7h0M240.0 673.9h0M249.4 747.0h0M251.3 754.4h0M247.6 748.2h0M260.5 725.7h0M243.2 734.8h0M255.0 748.0h0M246.6 742.8h0M247.5 746.1h0M250.3 755.3h0M250.4 754.8h0M252.0 748.9h0M247.9 743.6h0M253.1 754.2h0M243.6 738.5h0M242.5 710.6h0M253.5 743.1h0M254.3 739.0h0M254.6 743.2h0M258.4 737.1h0M253.2 749.8h0M252.9 753.9h0M257.0 733.4h0M253.4 748.4h0M245.1 730.6h0M254.5 750.2h0M253.9 744.8h0M263.3 705.9h0M232.5 673.2h0M250.3 755.2h0M240.0 717.8h0M248.1 747.7h0M250.5 755.4h0M243.4 741.8h0M249.4 751.9h0M252.7 747.2h0M244.4 743.9h0M255.0 743.0h0M249.6 754.1h0M246.6 739.3h0M255.1 747.1h0M246.3 746.2h0M257.5 719.0h0M255.6 743.6h0M252.7 750.3h0M257.9 702.3h0M251.8 750.8h0M259.9 685.9h0M245.3 732.5h0M243.9 713.2h0M232.0 701.2h0M251.2 755.5h0M250.1 755.0h0M251.8 752.6h0M248.0 748.5h0M250.6 755.8h0M250.4 755.0h0M252.2 753.4h0M258.4 731.3h0M242.8 726.0h0M254.4 726.9h0M244.8 740.1h0M259.7 688.9h0M252.2 754.5h0M259.5 732.2h0M269.9 720.1h0M256.2 746.9h0M244.8 745.2h0M251.4 755.4h0M254.9 739.8h0M250.2 755.4h0M249.0 749.2h0M251.7 754.5h0M263.4 714.3h0M252.9 748.6h0M232.1 713.6h0M244.1 734.0h0M257.9 743.4h0M258.9 731.1h0M249.8 753.3h0M250.7 756.0h0M251.9 751.5h0M245.3 736.3h0M245.5 743.4h0M246.0 744.2h0M254.2 738.7h0M248.3 746.1h0M248.1 749.7h0M249.6 754.2h0M259.1 738.8h0M243.1 727.5h0M237.8 614.8h0M254.1 747.7h0M250.3 755.1h0M246.8 749.2h0M242.1 715.1h0M276.3 622.5h0M249.4 752.9h0M251.4 755.2h0M248.8 749.9h0M252.8 752.8h0M244.2 730.9h0M234.4 659.5h0M244.6 741.4h0M230.2 685.6h0M235.4 714.3h0M254.3 744.7h0M257.9 726.9h0M256.3 731.7h0M269.3 687.4h0M264.3 723.9h0M242.8 713.6h0M264.5 718.4h0M275.9 635.4h0M249.3 751.7h0M260.3 696.1h0M247.5 745.7h0M260.3 718.6h0M245.5 715.3h0M272.3 629.9h0M250.0 750.6h0M250.0 755.1h0M252.7 750.1h0M245.0 741.5h0M249.8 750.9h0M248.7 748.1h0M253.7 745.7h0M248.9 751.2h0M241.2 556.3h0M274.9 687.4h0M243.0 723.9h0M250.3 755.1h0M247.3 746.9h0M250.7 756.0h0M243.5 734.3h0M269.3 714.9h0M257.0 739.0h0M250.9 756.1h0M240.5 721.6h0M252.2 753.1h0M241.2 739.4h0M254.0 748.2h0M268.7 662.5h0M256.2 721.5h0M250.2 753.9h0M252.7 750.9h0M248.2 752.2h0M254.0 751.4h0M240.9 688.7h0M253.4 751.2h0M257.3 708.3h0M252.8 747.9h0M267.3 713.7h0M245.1 733.9h0M246.9 747.2h0M262.4 719.7h0M250.3 755.4h0M247.6 748.6h0M255.7 741.5h0M252.1 754.1h0M260.4 722.2h0M252.1 753.4h0M248.9 749.6h0M240.3 704.1h0M253.1 751.5h0M257.7 717.9h0M261.2 713.0h0M248.7 748.6h0M257.9 741.9h0M239.1 734.8h0M252.0 755.0h0M233.9 671.6h0M256.0 745.0h0M247.2 743.8h0M243.1 735.6h0M251.4 755.4h0M248.1 751.8h0M257.5 729.0h0M241.5 713.7h0M247.9 749.6h0M249.7 754.8h0M243.8 725.7h0M266.9 668.8h0M253.8 743.9h0M245.2 737.8h0M260.6 730.1h0M256.9 744.2h0M249.9 751.3h0M249.2 753.4h0M243.5 741.4h0M258.7 736.6h0M257.6 726.0h0M249.1 752.1h0M238.7 734.3h0M256.8 736.4h0M244.7 734.5h0M254.8 739.3h0M250.4 755.0h0M261.3 692.3h0M255.4 725.0h0M247.8 752.3h0M246.8 747.2h0M244.4 744.7h0M268.5 639.3h0M236.0 688.1h0M250.2 755.0h0M257.3 706.3h0M249.5 752.3h0M249.7 754.9h0M251.0 755.9h0M252.5 751.6h0M235.8 690.3h0M250.2 753.8h0M251.4 754.9h0M246.9 746.2h0M273.2 676.2h0M238.4 728.0h0M264.9 717.3h0M248.7 742.5h0M252.3 744.3h0M238.0 710.2h0M253.8 750.8h0M252.4 751.9h0M247.8 747.7h0M235.9 635.7h0M243.3 733.7h0M247.0 745.1h0M253.3 749.6h0M261.6 690.2h0M240.0 692.3h0M251.9 754.1h0M248.9 753.0h0M233.4 720.4h0M258.3 715.3h0M259.5 729.2h0M247.2 744.2h0M239.5 670.1h0M246.9 748.3h0M261.7 641.5h0M247.6 745.3h0M242.1 741.5h0M252.2 752.4h0M262.9 698.1h0M263.2 702.0h0M249.7 753.5h0M251.5 755.2h0M247.5 745.8h0M255.3 742.1h0M252.5 750.1h0M260.4 711.9h0M251.6 754.2h0M239.9 728.0h0M260.4 710.8h0M237.2 558.0h0M246.3 747.3h0M242.7 732.1h0M256.5 746.7h0M249.4 751.3h0M262.8 714.8h0M252.1 750.6h0M251.0 755.6h0M273.8 529.2h0M259.3 743.4h0M243.4 701.2h0M248.4 754.1h0M249.4 752.4h0M243.9 717.1h0M274.7 701.1h0M255.6 732.4h0M233.5 714.9h0M255.1 734.7h0M252.1 752.0h0M250.2 754.8h0M255.2 746.0h0M240.7 684.0h0M250.0 752.4h0M215.9 697.2h0M243.3 725.3h0M245.6 688.6h0M249.9 752.7h0M254.5 742.5h0M246.1 746.9h0M245.1 736.8h0M261.0 736.5h0M252.0 750.6h0M263.3 712.1h0M258.0 731.4h0M249.1 752.5h0M254.1 749.6h0M224.6 660.2h0M253.7 746.4h0M250.8 756.1h0M252.4 753.2h0M246.3 746.5h0M254.7 719.2h0M248.9 750.6h0M242.7 722.3h0M246.3 744.3h0M245.9 749.9h0M253.9 751.2h0M250.9 756.0h0M236.9 714.9h0M252.7 753.6h0M250.8 756.1h0M250.1 754.3h0M238.9 723.8h0M224.4 633.6h0M241.8 681.8h0M248.2 744.6h0M248.4 748.4h0M244.8 741.0h0M248.3 737.0h0M241.8 736.2h0M249.5 752.9h0M246.2 736.6h0M249.2 751.9h0M251.8 754.5h0M236.5 687.6h0M249.4 751.1h0M249.2 753.6h0M246.0 735.8h0M256.0 736.3h0M255.0 751.6h0M250.2 754.0h0M248.8 746.7h0M257.7 733.6h0M243.1 731.4h0M252.9 752.3h0M243.7 744.7h0M247.6 745.1h0M239.8 738.9h0M236.3 716.7h0M248.6 750.7h0M248.1 751.1h0M241.9 723.2h0M261.6 680.2h0M259.6 719.5h0M243.1 718.7h0M250.4 755.0h0M247.2 750.6h0M252.8 753.7h0M247.9 751.7h0M242.1 734.7h0M253.3 748.4h0M244.5 741.5h0M253.9 750.6h0M253.9 741.3h0M239.1 733.0h0M244.5 725.8h0M234.3 686.1h0M255.5 735.0h0M248.3 742.8h0M247.7 740.9h0M246.0 737.6h0M258.9 739.1h0M250.3 754.6h0M269.6 715.3h0M237.1 728.0h0M240.7 701.9h0M237.1 727.9h0M249.3 752.1h0M249.4 753.4h0M256.1 737.8h0M253.5 750.1h0M248.1 748.4h0M244.5 738.5h0M250.9 756.0h0M249.1 753.7h0M242.3 719.0h0M250.1 753.8h0M253.9 745.0h0M250.5 755.3h0M262.6 690.1h0M250.4 754.9h0M252.1 749.7h0M248.0 747.4h0M234.0 682.7h0M248.8 749.9h0M263.6 694.0h0M252.7 748.0h0M252.2 753.4h0M249.9 753.9h0M252.9 751.2h0M255.7 746.9h0M240.6 739.8h0M240.0 710.9h0M257.0 739.6h0M249.6 749.4h0M263.8 732.3h0M249.0 749.5h0M247.2 746.3h0M251.0 755.8h0M256.4 734.5h0M252.7 744.2h0M246.2 746.5h0M244.6 739.2h0M242.1 718.9h0M258.5 734.8h0M253.7 752.3h0M247.4 739.4h0M251.7 753.8h0M249.4 751.9h0M238.7 705.8h0M249.4 748.9h0M229.6 682.4h0M243.6 733.6h0M262.9 715.2h0M241.7 712.4h0M254.7 746.3h0M232.5 687.1h0M240.1 702.4h0M249.7 750.2h0M254.5 751.3h0M243.3 703.8h0M249.4 752.2h0M245.9 738.1h0M255.5 743.8h0M253.3 747.4h0M254.7 736.6h0M256.3 727.5h0M240.8 723.5h0M241.4 731.3h0M246.5 741.8h0M257.4 727.4h0M242.4 722.4h0M230.6 682.8h0M252.1 753.6h0M250.9 756.1h0M256.0 737.3h0M253.2 750.7h0M239.8 700.5h0M259.3 737.0h0M243.5 729.0h0M265.4 720.9h0M244.5 731.1h0M250.0 753.4h0M237.1 667.3h0M246.4 733.7h0M256.6 734.8h0M237.4 715.3h0M240.3 714.5h0M241.1 721.4h0M237.4 699.2h0M267.3 677.1h0M258.0 725.6h0M249.1 752.0h0M244.4 705.3h0M257.4 709.6h0M248.1 750.5h0M246.9 742.8h0M255.9 739.0h0M251.1 755.4h0M247.5 733.3h0M255.2 737.8h0M241.4 739.0h0M271.2 616.8h0M255.9 748.2h0M244.9 744.2h0M236.0 702.5h0M240.5 714.7h0M237.0 644.0h0M262.8 701.7h0M257.2 743.9h0M243.3 743.2h0M250.4 755.4h0M252.3 745.1h0M247.3 750.9h0M255.4 734.0h0M242.5 722.0h0M252.7 753.7h0M251.5 753.7h0M267.8 692.4h0M229.7 721.2h0M255.3 744.9h0M251.6 755.3h0M256.9 743.5h0M252.9 751.3h0M245.8 725.8h0M245.7 738.8h0M246.3 739.2h0M247.9 736.5h0M259.2 741.3h0M262.9 695.1h0M252.9 750.4h0M243.6 721.6h0M247.5 743.8h0M249.8 748.8h0M253.2 745.7h0M238.3 727.4h0M261.8 708.2h0M268.2 700.0h0M237.0 689.4h0M244.6 731.0h0M251.5 754.3h0M249.2 753.1h0M255.2 740.1h0M246.1 738.0h0M253.8 748.5h0M278.7 580.5h0M272.5 707.1h0M242.5 730.2h0M238.0 732.6h0M277.5 620.4h0M259.1 711.3h0M264.3 702.2h0M260.8 693.8h0M249.1 753.0h0M240.9 726.5h0M257.7 746.8h0M251.7 754.0h0M240.7 705.5h0M249.5 751.8h0M257.3 715.8h0M240.9 684.3h0M262.9 688.5h0M254.4 746.2h0M245.5 744.5h0M238.6 653.7h0M246.9 748.9h0M251.2 755.4h0M243.6 735.9h0M266.8 689.1h0M250.7 755.7h0M248.0 746.5h0M250.5 755.6h0M246.8 741.1h0M257.6 735.6h0M247.9 744.9h0M243.2 733.1h0M258.2 732.2h0M246.4 747.9h0M226.9 660.7h0M255.2 742.3h0M258.1 734.4h0M256.3 731.3h0M257.1 745.0h0M247.3 727.4h0M252.1 753.2h0M253.0 751.7h0M260.8 743.4h0M248.0 750.3h0M252.5 753.0h0M247.8 741.9h0M250.1 753.2h0M250.1 755.0h0M237.8 720.2h0M253.9 753.5h0M246.2 737.5h0M245.6 744.3h0M244.2 749.2h0M251.9 754.5h0M260.2 707.7h0M240.9 718.8h0M244.0 733.0h0M255.0 737.4h0M251.4 754.5h0M245.5 708.5h0M245.7 737.8h0M255.1 740.4h0M256.1 680.7h0M255.4 729.7h0M252.3 754.0h0M250.3 755.0h0M246.2 740.3h0M245.3 735.4h0M254.8 738.2h0M247.6 745.4h0M254.9 744.9h0M254.8 737.7h0M257.5 740.2h0M215.9 667.8h0M248.3 740.8h0M250.8 756.1h0M261.9 697.5h0M251.0 755.6h0M252.7 752.7h0M254.5 746.3h0M255.7 746.4h0M240.1 702.2h0M237.5 695.7h0M251.9 753.2h0M252.7 750.2h0M242.0 724.4h0M259.0 685.6h0M266.6 665.2h0M254.4 752.1h0M249.3 752.2h0M250.9 756.1h0M244.9 736.5h0M234.6 715.6h0M253.3 745.2h0M244.0 701.9h0M247.0 737.9h0M256.2 739.7h0M251.1 754.5h0M251.2 755.5h0M252.9 740.9h0M243.8 701.5h0M255.2 739.1h0M248.9 749.5h0M250.5 754.5h0M251.4 754.3h0M257.1 729.4h0M241.0 713.1h0M235.7 690.0h0M255.9 735.6h0M258.2 743.5h0M256.1 702.6h0M264.9 699.9h0M255.9 741.8h0M255.1 744.8h0M247.7 749.6h0M258.8 708.0h0M244.0 743.2h0M253.7 745.5h0M253.7 749.9h0M254.3 736.9h0M251.4 754.3h0M255.2 736.6h0M243.7 731.3h0M246.8 746.3h0M244.9 734.8h0M250.8 756.1h0M247.8 741.1h0M256.2 729.0h0M247.9 745.7h0M246.7 739.1h0M230.4 712.1h0M246.2 746.3h0M246.8 740.9h0M249.9 754.5h0M253.7 751.3h0M228.7 586.8h0M254.2 743.3h0M264.0 697.9h0M233.2 701.8h0M250.1 754.4h0M239.1 675.7h0M265.3 732.4h0M248.4 740.6h0M254.2 745.4h0M255.6 738.9h0M252.0 754.4h0M271.3 722.5h0M258.4 736.5h0M252.3 750.9h0M252.8 748.2h0M252.0 753.6h0M245.8 726.9h0M248.9 749.7h0M243.8 705.1h0M259.0 690.8h0M239.2 704.6h0M284.1 584.2h0M255.5 744.4h0M251.8 754.6h0M251.1 755.0h0M248.4 752.2h0M253.8 746.2h0M253.0 747.9h0M244.9 749.8h0M257.8 733.0h0M251.7 755.0h0M251.0 755.8h0M258.2 739.8h0M264.9 736.4h0M239.7 717.7h0M250.8 756.0h0M254.2 741.0h0M249.2 754.1h0M245.6 726.9h0M250.3 755.1h0M250.8 756.1h0M253.4 750.1h0M249.9 754.7h0M275.1 667.4h0M246.3 743.2h0M258.2 741.9h0M245.1 735.6h0M258.5 728.9h0M251.1 755.1h0M255.8 745.9h0M253.1 745.9h0M239.3 721.1h0M258.0 674.2h0M254.0 749.6h0M246.7 746.5h0M240.2 666.9h0M240.5 723.0h0M264.0 638.0h0M252.9 752.6h0M253.8 747.4h0M244.2 712.6h0M258.4 720.3h0M253.1 752.5h0M241.7 719.4h0M255.7 746.1h0M260.4 684.5h0M220.9 687.1h0M255.5 734.5h0M249.5 753.0h0M256.0 723.6h0M256.1 732.8h0M254.9 739.3h0M258.1 730.2h0M245.0 742.7h0M245.2 721.0h0M257.3 735.2h0M246.0 743.5h0M259.6 712.1h0M249.5 751.4h0M234.3 699.8h0M257.8 737.8h0M238.9 697.7h0M257.0 725.1h0M248.6 744.4h0M243.6 711.5h0M247.5 736.1h0M252.9 749.2h0M251.5 754.9h0M252.8 749.0h0M261.9 695.0h0M245.0 732.3h0M257.1 731.8h0M256.3 705.9h0M250.1 754.0h0M252.4 751.7h0M250.5 755.2h0M244.8 744.1h0M259.8 717.1h0M249.6 749.8h0M248.5 751.9h0M246.7 743.6h0M249.7 754.4h0M244.2 727.4h0M260.7 726.2h0M241.5 699.3h0M259.8 692.1h0M277.8 651.6h0M238.9 690.2h0M253.4 749.1h0M247.2 743.7h0M247.9 746.2h0M261.5 741.7h0M247.2 745.7h0M260.6 738.4h0M246.4 746.7h0M250.1 754.9h0M250.4 754.6h0M254.8 741.9h0M241.1 731.6h0M256.3 733.0h0M231.0 718.6h0M243.2 740.5h0M261.0 714.0h0M245.9 738.0h0M252.9 746.5h0M255.1 736.6h0M247.1 740.3h0M245.8 739.7h0M246.7 735.3h0M265.0 698.8h0M260.3 734.7h0M247.8 746.4h0M253.2 750.8h0M251.6 753.2h0M251.1 755.6h0M242.6 709.3h0M242.2 691.9h0M247.4 744.2h0M252.2 751.0h0M247.5 737.2h0M251.4 753.0h0M249.4 753.8h0M252.3 752.9h0M254.7 745.6h0M265.5 725.3h0M255.0 749.1h0M262.4 713.9h0M255.2 738.1h0M255.3 721.8h0M250.3 754.7h0M256.0 741.1h0M278.9 691.5h0M245.3 738.9h0M246.9 724.5h0M254.6 744.9h0M252.1 748.5h0M254.7 730.6h0M262.8 738.9h0M249.7 753.0h0M259.3 728.9h0M241.3 723.1h0M258.0 750.0h0M264.0 683.9h0M258.3 731.3h0M258.4 740.0h0M254.9 745.3h0M267.9 731.4h0M245.4 738.2h0M251.0 755.8h0M240.0 687.5h0M261.1 686.0h0M251.7 754.6h0M249.6 751.8h0M248.8 745.5h0M237.9 719.8h0M246.0 726.8h0M244.4 656.6h0M243.0 694.5h0M243.7 731.0h0M250.3 755.3h0M247.8 748.5h0M254.4 746.9h0M248.6 752.5h0M254.2 740.4h0M265.6 678.6h0M239.0 641.9h0M260.1 729.6h0M253.0 747.6h0M233.7 720.2h0M257.3 736.9h0M253.5 751.9h0M269.2 570.9h0M258.6 708.6h0M258.0 732.8h0M255.0 742.5h0M255.9 742.3h0M249.2 751.4h0M249.2 752.5h0M253.3 745.3h0M247.1 741.1h0M253.5 745.3h0M257.8 732.9h0M237.3 692.0h0M258.8 727.2h0M247.3 744.4h0M257.5 720.0h0M248.1 745.5h0M249.6 752.0h0M242.5 743.1h0M244.4 712.6h0M271.0 680.7h0M257.1 722.0h0M239.5 717.8h0M243.1 725.5h0M262.5 711.6h0M255.1 739.3h0M248.9 739.0h0M263.2 710.3h0M252.9 746.4h0M250.6 755.7h0M257.8 738.0h0M245.0 735.5h0M254.0 747.5h0M248.6 749.7h0M250.5 754.9h0M263.0 739.9h0M244.5 736.1h0M244.4 748.9h0M250.2 754.5h0M250.3 755.2h0M245.3 723.3h0M250.0 754.2h0M236.2 690.6h0M260.1 727.0h0M232.9 632.3h0M251.6 754.6h0M255.9 744.9h0M258.5 722.2h0M247.6 740.7h0M255.2 741.4h0M254.6 707.7h0M246.1 742.0h0M249.4 753.9h0M261.3 723.4h0M276.4 720.9h0M236.8 718.1h0M257.3 715.0h0M248.7 750.8h0M252.9 752.1h0M255.3 742.9h0M249.8 752.5h0M257.3 742.5h0M244.1 744.0h0M239.6 714.4h0M243.4 747.9h0M247.7 734.2h0M259.4 729.8h0M264.5 734.3h0M261.2 689.9h0M257.2 706.5h0M255.2 721.3h0M247.5 740.7h0M253.4 752.5h0M257.8 733.4h0M248.0 746.6h0M255.1 726.3h0M243.8 734.8h0M248.5 744.5h0M235.3 712.9h0M241.3 719.4h0M248.8 751.1h0M241.5 706.2h0M243.8 743.2h0M248.8 748.0h0M251.3 754.9h0M249.8 750.8h0M249.9 754.0h0M230.1 695.0h0M253.4 750.9h0M239.0 721.0h0M269.4 695.8h0M261.2 701.9h0M249.8 752.2h0M243.9 734.8h0M247.3 730.3h0M239.4 723.4h0M239.8 696.8h0M245.4 745.9h0M253.1 752.0h0M244.2 732.2h0M257.0 741.0h0M245.4 738.7h0M256.4 715.1h0M226.0 650.8h0M250.8 756.0h0M254.2 746.4h0M240.1 716.1h0M273.1 655.1h0M233.9 700.8h0M246.3 746.9h0M247.8 749.2h0M252.3 752.3h0M252.5 749.9h0M256.7 739.2h0M252.4 752.0h0M248.1 745.9h0M256.8 736.0h0M239.8 657.3h0M267.6 676.3h0M252.0 750.5h0M248.2 742.8h0M242.0 717.9h0M260.3 725.0h0M264.0 731.8h0M237.7 723.9h0M258.4 716.3h0M249.5 753.6h0M248.5 750.5h0M243.3 734.8h0M251.6 754.6h0M239.8 730.9h0M263.4 718.6h0M248.4 746.2h0M254.8 741.5h0M252.6 752.0h0M234.3 689.0h0M242.6 723.8h0M256.9 736.8h0M236.8 699.8h0M261.1 719.0h0M255.3 746.8h0M258.0 724.4h0M244.1 735.7h0M242.7 733.8h0M237.2 728.5h0M233.0 700.2h0M261.0 737.9h0M252.1 753.2h0M249.8 754.1h0M246.2 746.3h0M262.1 689.0h0M262.3 663.1h0M249.9 753.5h0M249.1 751.2h0M236.7 678.5h0M255.6 686.6h0M250.4 754.3h0M251.7 751.5h0M250.7 756.0h0M252.7 753.7h0M261.8 709.3h0M261.2 702.4h0M261.5 730.5h0M269.1 692.6h0M248.6 750.1h0M225.7 703.5h0M237.7 718.9h0M256.7 726.4h0M249.0 752.9h0M263.3 725.5h0M251.0 755.8h0M250.9 756.1h0M253.1 744.6h0M252.6 750.7h0M255.8 746.5h0M246.7 745.2h0M254.1 751.9h0M243.5 722.6h0M240.1 744.9h0M256.4 736.0h0M253.8 738.3h0M251.2 755.8h0M255.3 729.4h0M251.7 754.9h0M243.0 724.6h0M250.5 755.1h0M245.0 732.0h0M250.4 755.1h0M256.6 735.5h0M231.9 707.6h0M242.5 714.8h0M261.8 707.5h0M253.7 752.0h0M245.5 745.0h0M275.9 667.1h0M252.7 747.7h0M253.0 748.6h0M278.3 689.1h0M241.2 685.4h0M250.7 756.1h0M247.3 745.3h0M254.6 746.3h0M249.7 753.9h0M253.3 734.5h0M264.3 698.3h0M247.6 747.0h0M246.7 737.8h0M250.1 753.5h0M220.2 671.3h0M248.5 745.3h0M256.2 740.9h0M233.5 662.1h0M272.6 685.1h0M259.9 744.2h0M257.0 751.1h0M250.3 755.4h0M245.2 741.2h0M268.2 709.3h0M250.6 755.9h0M239.3 738.2h0M249.5 752.0h0M247.3 746.2h0M253.9 751.8h0M252.6 752.4h0M256.8 745.3h0M258.2 729.3h0M258.7 737.0h0M253.9 745.5h0M255.5 691.4h0M246.8 743.1h0M257.9 741.0h0M255.1 749.5h0M240.9 687.6h0M254.0 744.6h0M244.1 731.1h0M245.3 675.4h0M231.4 676.3h0M244.3 732.5h0M238.3 658.2h0M245.7 737.5h0M249.4 751.9h0M250.5 755.2h0M251.3 754.7h0M232.0 666.4h0M250.3 754.4h0M245.7 721.2h0M258.2 745.2h0M251.5 754.4h0M267.6 705.2h0M247.0 743.1h0M242.3 678.9h0M267.1 723.5h0M266.5 711.8h0M252.7 752.0h0M252.7 749.6h0M250.0 753.5h0M262.5 725.7h0M255.9 743.9h0M260.2 744.2h0M252.7 751.5h0M242.4 732.4h0M233.5 738.9h0M249.4 751.9h0M249.4 753.8h0M258.0 742.4h0M254.5 737.1h0M252.9 749.2h0M257.1 733.0h0M236.3 695.1h0M236.2 701.3h0M255.4 729.1h0M254.6 743.7h0M246.9 747.9h0M258.4 739.1h0M252.1 752.2h0M247.8 742.6h0M255.0 744.2h0M249.6 751.6h0M255.0 742.2h0M249.3 749.5h0M263.0 717.9h0M246.5 723.8h0M260.3 746.2h0M249.9 752.6h0M241.7 733.5h0M229.4 712.0h0M266.1 681.6h0M244.4 744.6h0M261.6 725.2h0M250.5 755.8h0M256.1 723.3h0M242.0 683.7h0M251.9 754.8h0M258.0 718.3h0M246.0 747.7h0M248.1 749.8h0M245.7 739.2h0M244.4 676.7h0M243.3 735.4h0M257.8 708.7h0M247.7 745.1h0M263.1 689.7h0M251.2 755.3h0M246.3 691.8h0M249.9 752.6h0M253.7 749.1h0M250.3 755.4h0M251.6 751.8h0M244.4 740.3h0M260.3 706.6h0M248.3 744.0h0M256.5 748.4h0M257.9 722.5h0M257.9 736.8h0M251.7 754.0h0M250.3 754.6h0M264.0 684.0h0M247.8 748.5h0M254.1 749.4h0M251.1 755.5h0M249.4 751.5h0M250.0 753.7h0M259.9 733.0h0M250.8 756.1h0M252.8 745.9h0M255.7 737.9h0M255.8 738.4h0M242.8 732.1h0M255.7 734.7h0M253.8 739.1h0M245.2 737.2h0M250.8 755.9h0M225.5 607.6h0M251.4 755.0h0M235.1 685.9h0M241.8 704.4h0M247.1 742.9h0M241.9 697.0h0M246.7 750.3h0M261.2 716.8h0M256.2 733.3h0M248.0 748.3h0M263.8 702.9h0M249.1 749.0h0M247.9 748.2h0M251.5 755.0h0M249.3 753.3h0M251.4 754.8h0M242.9 707.8h0M256.9 734.0h0M251.6 753.5h0M236.1 716.0h0M238.1 664.0h0M241.6 735.9h0M249.9 752.4h0M243.7 722.4h0M240.2 735.6h0M255.5 744.2h0M238.8 678.7h0M260.3 721.0h0M267.3 615.8h0M235.8 720.3h0M258.2 715.5h0M260.2 708.4h0M247.8 744.4h0M267.6 647.7h0M263.4 718.6h0M254.0 747.8h0M255.7 742.2h0M260.7 742.8h0M264.0 687.9h0M245.3 741.7h0M248.8 752.5h0M256.7 745.7h0M250.9 755.9h0M252.8 749.1h0M259.3 715.5h0M231.7 706.6h0M256.6 738.3h0M246.8 736.6h0M249.0 749.5h0M253.2 744.6h0M259.9 721.1h0M248.8 753.3h0M250.3 755.2h0M254.3 741.4h0M250.1 754.6h0M247.3 738.6h0M244.5 729.4h0M262.4 713.5h0M246.1 745.9h0M250.1 754.8h0M256.3 724.1h0M248.3 751.2h0M257.5 743.0h0M267.1 710.3h0M252.9 748.9h0M239.0 640.5h0M251.6 755.3h0M246.6 747.3h0M258.1 718.0h0M256.8 749.4h0M241.8 729.7h0M246.7 745.3h0M245.0 728.9h0M252.5 751.4h0M261.3 698.9h0M252.2 748.6h0M256.3 724.4h0M250.1 754.8h0M240.9 733.4h0M247.9 748.0h0M252.5 754.1h0M243.4 736.1h0M256.4 739.8h0M269.0 699.0h0M251.6 754.6h0M249.1 752.8h0M242.0 741.7h0M259.6 709.2h0M251.9 753.7h0M261.3 736.2h0M246.0 750.9h0M251.8 751.5h0M248.3 751.0h0M239.4 729.3h0M235.4 659.5h0M237.0 681.0h0M248.9 752.6h0M244.5 740.3h0M252.0 752.4h0M248.2 739.8h0M250.1 754.2h0M253.4 750.8h0M263.2 721.4h0M237.6 724.2h0M250.3 752.7h0M254.0 750.9h0M250.9 755.9h0M248.3 746.8h0M241.0 709.5h0M243.1 724.0h0M251.1 755.2h0M266.9 700.8h0M249.4 754.1h0M248.8 752.3h0M248.0 747.2h0M255.5 745.2h0M242.7 684.9h0M260.7 725.8h0M257.7 735.0h0M242.2 740.4h0M255.4 747.8h0M241.9 681.2h0M254.3 736.5h0M246.9 750.1h0M256.9 724.0h0M237.3 661.7h0M243.7 732.9h0M261.2 710.3h0M250.3 754.4h0M260.3 714.1h0M250.2 755.5h0M257.7 738.3h0M249.5 751.4h0M248.0 743.4h0M235.7 607.0h0M258.3 724.0h0M253.8 749.3h0M251.6 753.3h0M258.9 727.1h0M257.5 729.3h0M254.3 745.6h0M258.0 729.7h0M273.1 684.9h0M250.3 755.2h0M242.0 653.7h0M249.9 754.3h0M244.2 693.6h0M259.5 717.1h0M241.8 730.8h0M258.1 722.2h0M261.8 694.6h0M252.5 746.8h0M248.3 753.3h0M256.5 747.5h0M246.9 718.6h0M247.5 749.7h0M239.3 715.3h0M276.3 641.8h0M252.7 749.4h0M251.4 755.5h0M246.7 744.6h0M245.9 730.6h0M257.1 727.2h0M258.5 734.7h0M252.0 751.2h0M235.9 721.9h0M243.1 723.9h0M250.1 754.1h0M242.2 705.6h0M249.1 754.4h0M260.2 714.3h0M250.3 754.0h0M234.7 660.5h0M257.5 739.5h0M249.0 749.9h0M246.2 749.1h0M251.3 755.0h0M250.8 756.2h0M264.0 712.6h0M264.8 638.7h0M251.5 753.6h0M247.7 747.5h0M257.4 740.9h0M247.2 738.0h0M250.7 756.0h0M258.2 731.0h0M255.9 744.0h0M249.0 752.0h0M262.1 703.8h0M260.8 700.3h0M254.5 738.7h0M249.9 753.7h0M247.9 749.9h0M252.7 748.2h0M251.4 753.6h0M263.9 719.4h0M259.9 728.5h0M256.8 738.9h0M257.0 742.1h0M246.7 751.6h0M253.9 744.9h0M255.8 735.3h0M250.6 755.8h0M230.4 691.6h0M255.7 730.5h0M258.3 715.2h0M253.0 749.9h0M254.0 740.3h0M256.3 741.1h0M266.9 728.0h0M230.9 713.4h0M249.2 753.1h0M261.6 710.9h0M252.6 750.5h0M265.9 613.2h0M248.1 741.2h0M263.2 697.2h0M223.5 668.3h0M240.6 691.5h0M251.4 754.7h0M268.7 684.4h0M234.4 702.9h0M259.0 727.3h0M247.8 750.2h0M256.9 735.4h0M251.0 755.2h0M246.5 745.4h0M250.5 755.3h0M260.7 726.5h0M264.1 695.7h0M250.9 756.0h0M255.5 717.6h0M251.1 755.2h0M253.1 745.5h0M247.0 751.3h0M251.3 753.7h0M248.0 744.4h0M245.0 732.0h0M257.5 742.4h0M248.1 740.0h0M246.3 735.7h0M249.6 754.8h0M238.2 732.0h0M244.4 746.5h0M253.4 744.7h0M254.4 744.6h0M246.5 706.1h0M248.2 749.1h0M243.7 734.5h0M251.8 753.4h0M246.5 743.6h0M249.5 754.6h0M246.5 746.9h0M253.0 750.7h0M245.1 743.4h0M239.8 726.5h0M257.1 726.3h0M245.6 735.5h0M245.5 740.6h0M246.4 730.8h0M249.9 753.2h0M243.7 735.3h0M248.9 744.9h0M250.9 756.0h0M258.6 733.0h0M252.9 753.8h0M235.4 608.7h0M244.7 693.1h0M250.0 754.2h0M258.8 714.0h0M247.4 744.9h0M261.8 703.8h0M256.9 745.1h0M234.7 723.0h0M251.2 754.9h0M242.2 694.6h0M247.6 741.8h0M259.9 728.4h0M255.3 743.0h0M244.8 734.9h0M251.1 755.4h0M254.8 734.1h0M248.6 745.8h0M261.6 729.7h0M250.7 756.0h0M263.5 702.3h0M252.0 754.2h0M253.0 752.5h0M246.0 741.9h0M246.6 741.0h0M252.1 754.1h0M255.3 743.5h0M258.7 735.9h0M250.7 755.9h0M261.9 718.5h0M248.5 751.2h0M250.3 755.6h0M248.8 748.1h0M249.0 752.8h0M253.2 750.8h0M258.1 735.7h0M241.7 728.9h0M258.5 723.3h0M250.4 754.3h0M244.5 717.3h0M241.1 677.6h0M253.1 748.9h0M236.9 716.7h0M248.9 752.3h0M250.0 752.9h0M253.5 747.8h0M250.7 755.9h0M250.3 755.1h0M266.7 712.5h0M240.6 696.6h0M245.0 743.9h0M255.3 740.3h0M247.3 746.6h0M245.1 735.3h0M252.7 751.1h0M235.3 690.6h0M258.5 707.0h0M253.9 752.1h0M251.6 753.5h0M252.0 753.7h0M270.2 724.8h0M255.4 750.6h0M245.3 713.7h0M244.7 717.6h0M260.6 718.5h0M266.3 706.3h0M283.6 646.8h0M257.0 737.1h0M252.3 753.0h0M230.9 686.9h0M252.5 753.4h0M236.7 695.9h0M267.1 687.2h0M262.7 728.8h0M244.8 712.8h0M257.5 741.4h0M254.0 749.8h0M244.3 698.8h0M247.3 742.4h0M256.6 736.3h0M251.3 755.3h0M249.8 749.8h0M252.6 753.3h0M259.3 712.2h0M258.3 724.4h0M254.4 750.9h0M246.3 742.5h0M253.5 751.0h0M253.1 749.2h0M244.8 737.0h0M241.8 681.7h0M257.2 737.9h0M250.6 755.4h0M249.2 752.2h0M262.9 717.0h0M268.8 713.8h0M251.7 755.2h0M261.9 705.3h0M244.2 729.9h0M256.9 726.2h0M250.3 754.5h0M233.1 713.0h0M254.3 745.5h0M238.5 667.7h0M250.0 753.7h0M246.9 729.4h0M258.7 728.8h0M243.0 744.0h0M247.5 734.2h0M259.4 722.1h0M246.0 740.7h0M250.8 756.1h0M256.9 742.0h0M246.9 733.2h0M253.0 747.7h0M248.4 743.2h0M250.4 754.7h0M247.9 749.4h0M245.7 737.3h0M236.3 687.6h0M246.2 744.7h0M247.6 738.5h0M252.2 751.5h0M254.0 751.7h0M263.6 715.2h0M262.5 740.7h0M243.3 707.7h0M256.0 716.0h0M260.8 713.7h0M241.0 736.8h0M245.0 723.9h0M252.4 747.6h0M254.0 739.1h0M251.6 753.5h0M252.6 747.9h0M264.4 703.2h0M260.2 729.7h0M249.7 752.8h0M236.8 713.1h0M248.6 751.2h0M256.8 743.6h0M237.6 712.9h0M249.8 753.5h0M242.3 741.4h0M254.9 743.4h0M238.8 677.1h0M238.8 693.3h0M245.2 739.4h0M256.2 741.4h0M252.9 751.6h0M257.4 735.4h0M264.0 719.3h0M241.1 729.4h0M249.8 754.8h0M251.3 754.9h0M244.2 746.0h0M264.1 713.2h0M245.9 740.0h0M251.1 755.6h0M254.4 743.9h0M258.6 723.7h0M238.1 680.6h0M236.1 726.4h0M261.6 722.7h0M248.6 747.6h0M260.5 692.2h0M242.4 717.0h0M251.5 753.8h0M244.2 737.0h0M241.6 710.3h0M272.1 677.1h0M254.2 749.5h0M248.5 751.4h0M249.2 751.8h0M255.2 739.8h0M230.8 618.5h0M248.6 750.4h0M247.6 741.0h0M255.9 737.0h0M247.1 739.4h0M250.7 755.9h0M248.4 752.4h0M279.4 622.3h0M252.6 753.5h0M240.6 698.2h0M247.3 749.4h0M250.6 755.9h0M258.1 725.2h0M243.4 731.5h0M249.6 752.7h0M249.2 753.3h0M243.8 730.7h0M249.6 750.4h0M236.4 681.8h0M246.8 743.0h0M252.0 754.1h0M234.7 722.0h0M253.2 749.8h0M254.0 753.2h0M249.0 745.1h0M229.8 637.3h0M257.1 722.4h0M251.5 754.1h0M249.2 753.4h0M239.6 732.9h0M258.7 699.5h0M242.7 725.0h0M254.2 744.2h0M246.7 750.9h0M247.5 748.8h0M256.3 730.3h0M250.1 751.9h0M246.4 745.7h0M250.8 756.2h0M258.8 740.8h0M260.8 731.1h0M235.5 715.4h0M251.6 753.7h0M251.4 754.8h0M242.6 740.2h0M245.2 731.3h0M249.8 753.2h0M255.4 732.4h0M246.4 742.0h0M252.5 752.4h0M253.3 746.8h0M253.0 749.5h0M248.6 749.7h0M256.1 726.0h0M257.4 722.7h0M244.0 727.3h0M248.7 750.3h0M243.6 711.5h0M261.1 732.5h0M234.1 667.9h0M249.5 754.0h0M247.4 743.7h0M250.6 755.8h0M248.6 751.9h0M260.3 698.3h0M256.1 740.2h0M260.0 721.7h0M241.4 730.5h0M253.3 752.9h0M263.9 698.4h0M249.9 754.7h0M256.2 734.5h0M247.7 736.7h0M251.6 754.8h0M249.9 752.8h0M249.9 753.8h0M253.7 749.4h0M249.9 755.1h0M253.5 748.0h0M251.0 755.8h0M241.5 739.3h0M248.0 749.2h0M270.1 682.7h0M245.6 748.9h0M252.7 751.7h0M253.8 749.8h0M254.5 743.0h0M253.6 733.1h0M248.2 748.6h0M247.4 749.9h0M251.9 754.5h0M252.2 754.1h0M256.4 727.6h0M254.9 735.2h0M254.5 736.0h0M250.7 756.0h0M252.2 751.6h0M253.6 748.6h0M246.2 730.9h0M260.2 735.8h0M256.8 748.7h0M244.5 746.8h0M246.6 749.5h0M245.1 731.1h0M250.6 755.9h0M252.1 753.6h0M255.2 726.4h0M241.7 719.1h0M251.7 753.5h0M252.9 746.3h0M252.6 753.2h0M252.5 747.0h0M242.0 719.9h0M250.0 750.7h0M258.5 739.1h0M220.9 702.7h0M252.8 749.0h0M252.5 751.4h0M254.9 737.7h0M266.0 723.8h0M246.4 746.4h0M275.1 669.1h0M248.4 744.1h0M256.0 728.6h0M255.3 742.0h0M264.6 706.4h0M257.2 706.3h0M262.7 677.9h0M248.1 748.5h0M245.3 745.2h0M228.0 723.9h0M253.8 734.2h0M249.4 753.1h0M252.9 749.4h0M242.9 722.3h0M250.2 754.5h0M258.6 722.6h0M239.7 728.8h0M237.0 717.7h0M252.1 750.1h0M246.3 736.0h0M246.0 738.7h0M252.3 754.5h0M228.8 677.0h0M249.0 753.8h0M248.8 752.4h0M258.8 708.3h0M255.7 737.9h0M259.8 736.0h0M258.2 737.6h0M254.3 737.5h0M252.3 753.4h0M253.5 750.1h0M247.5 738.0h0M249.5 753.1h0M241.3 725.2h0M244.1 746.3h0M251.5 753.5h0M253.3 746.2h0M243.2 740.8h0M269.1 639.3h0M250.7 755.9h0M246.2 746.8h0M248.8 750.7h0M251.5 754.4h0M250.5 755.7h0M256.5 721.8h0M240.0 673.0h0M247.6 750.9h0M261.2 719.1h0M239.1 696.9h0M251.0 755.7h0M251.0 755.9h0M261.6 698.2h0M247.1 727.2h0M246.5 739.2h0M255.7 736.5h0M251.4 754.5h0M258.5 740.5h0M246.8 746.2h0M237.4 643.5h0M245.3 711.3h0M257.0 746.1h0M254.9 739.1h0M245.9 728.5h0M248.7 749.6h0M241.4 716.5h0M254.6 745.6h0M255.0 746.7h0M253.1 747.7h0M258.1 716.4h0M251.9 754.2h0M241.7 705.1h0M235.0 717.3h0M250.6 756.0h0M252.1 752.0h0M247.7 746.1h0M244.4 717.3h0M258.2 727.7h0M251.1 755.5h0M244.0 719.4h0M237.5 695.5h0M254.3 748.3h0M238.9 703.6h0M231.0 705.3h0M250.0 755.0h0M257.9 719.8h0M245.6 734.4h0M248.8 753.9h0M237.0 674.5h0M243.1 739.5h0M259.5 704.2h0M254.4 748.1h0M237.4 736.4h0M254.0 739.1h0M266.7 693.1h0M255.9 720.7h0M255.2 747.1h0M243.7 744.3h0M241.8 727.0h0M247.3 746.9h0M245.7 739.1h0M241.1 721.4h0M266.0 701.5h0M258.4 715.9h0M263.2 627.2h0M250.8 756.1h0M255.5 734.3h0M247.1 746.2h0M246.2 689.7h0M243.7 687.7h0M253.2 747.1h0M224.2 647.9h0M276.0 680.9h0M239.3 735.0h0M249.4 751.6h0M241.8 734.6h0M236.3 726.7h0M264.6 653.7h0M242.9 714.9h0M243.6 733.2h0M252.9 751.4h0M257.3 737.0h0M246.1 727.4h0M251.7 753.4h0M230.9 584.6h0M247.7 739.1h0M240.8 677.9h0M241.2 721.0h0M242.8 720.4h0M275.5 675.1h0M257.1 691.0h0M258.6 734.9h0M248.4 751.6h0M254.9 744.0h0M241.0 731.1h0M252.7 751.2h0M249.1 741.3h0M259.8 741.0h0M261.8 680.8h0M264.8 658.2h0M243.6 700.1h0M260.5 680.4h0M283.2 645.7h0M278.5 654.2h0M255.1 751.8h0M254.7 741.4h0M245.3 710.6h0M239.5 724.6h0M248.1 742.4h0M247.0 738.9h0M251.2 754.7h0M246.5 740.7h0M252.9 752.4h0M243.4 743.3h0M239.5 666.1h0M237.8 671.0h0M252.3 752.7h0M255.3 739.6h0M244.4 735.7h0M243.0 707.6h0M258.6 741.8h0M248.5 748.4h0M240.1 712.7h0M252.1 753.3h0M247.7 733.0h0M231.2 711.8h0M254.7 730.7h0M267.6 665.4h0M256.3 706.8h0M253.3 748.9h0M254.7 741.1h0M251.1 755.7h0M251.4 754.9h0M252.9 750.2h0M253.0 741.8h0M251.0 755.9h0M259.3 743.4h0M249.3 752.9h0M247.6 752.6h0M246.1 724.5h0M253.4 749.4h0M235.8 645.7h0M259.9 736.4h0M254.6 741.9h0M255.6 730.6h0M248.6 752.6h0M249.2 750.2h0M252.0 754.1h0M253.3 748.6h0M268.1 664.0h0M252.5 754.6h0M256.7 694.7h0M248.3 748.7h0M250.4 755.8h0M249.8 753.8h0M252.4 753.7h0M247.1 744.1h0M244.3 746.9h0M252.8 750.5h0M255.4 740.4h0M240.9 726.5h0M250.5 756.0h0M255.6 740.9h0M265.3 688.4h0M244.3 742.2h0M250.7 756.0h0M248.4 752.1h0M265.3 724.5h0M257.7 737.6h0M252.6 748.8h0M253.3 748.0h0M256.5 732.5h0M246.8 744.6h0M219.2 648.0h0M251.0 755.8h0M257.5 739.3h0M249.6 754.3h0M256.4 736.3h0M248.2 748.3h0M253.1 745.3h0M251.6 754.7h0M260.3 724.4h0M248.9 751.1h0M228.1 679.8h0M254.3 749.4h0M243.9 746.0h0M257.4 744.4h0M252.9 742.8h0M252.6 748.4h0M253.3 748.3h0M246.2 747.3h0M263.2 714.1h0M255.1 747.1h0M249.3 753.2h0M253.9 746.8h0M249.0 744.3h0M263.0 721.0h0M243.4 737.3h0M271.7 651.8h0M253.2 748.4h0M252.5 753.3h0M231.5 711.5h0M248.4 750.5h0M246.4 740.7h0M251.5 755.0h0M252.4 745.5h0M260.0 728.2h0M253.7 745.0h0M226.7 692.5h0M251.0 755.9h0M251.6 754.9h0M242.5 723.2h0M250.5 755.5h0M247.1 746.4h0M248.3 746.7h0M256.2 740.5h0M258.2 720.5h0M246.6 746.0h0M248.8 749.7h0M245.4 709.3h0M249.5 751.7h0M249.5 753.8h0M251.6 754.1h0M249.2 751.5h0M260.3 707.0h0M257.3 731.2h0M242.6 726.4h0M262.6 699.1h0M244.5 728.6h0M267.8 680.6h0M249.2 752.2h0M251.3 755.6h0M241.5 697.4h0M255.0 740.4h0M256.2 729.2h0M240.2 712.4h0M247.7 731.3h0M232.2 666.0h0M246.7 745.6h0M237.4 726.0h0M259.7 733.3h0M255.6 744.4h0M255.6 740.5h0M250.1 753.0h0M250.5 755.8h0M253.1 750.5h0M255.8 727.4h0M253.9 751.6h0M249.1 748.6h0M249.1 747.3h0M243.8 741.6h0M238.8 700.8h0M249.9 755.0h0M241.1 702.0h0M250.4 754.9h0M258.4 740.1h0M253.3 748.1h0M248.4 752.2h0M256.8 671.9h0M254.1 746.7h0M271.2 689.5h0M248.1 749.5h0M254.1 747.5h0M247.5 724.0h0M256.0 750.3h0M242.1 712.5h0M261.6 703.5h0M249.7 748.5h0M255.2 744.2h0M251.4 754.6h0M256.1 726.9h0M247.3 731.1h0M235.9 682.1h0M256.5 742.4h0M240.6 694.0h0M250.4 755.1h0M249.7 751.4h0M249.5 747.4h0M257.2 744.0h0M243.5 715.9h0M249.0 752.7h0M249.7 752.6h0M251.2 755.5h0M261.5 700.0h0M250.2 754.9h0M249.6 750.8h0M248.5 752.3h0M246.1 721.7h0M252.2 751.2h0M248.8 747.0h0M253.8 747.7h0M255.1 739.6h0M254.7 745.2h0M255.6 732.8h0M245.5 728.2h0M256.7 723.1h0M236.7 733.0h0M235.3 685.3h0M245.0 722.2h0M238.6 728.5h0M250.0 754.7h0M251.7 754.2h0M246.3 734.3h0M257.1 719.2h0M242.6 735.1h0M269.2 668.0h0M252.6 753.3h0M251.7 754.2h0M244.1 729.4h0M251.3 754.2h0M252.0 753.5h0M244.7 745.5h0M244.8 739.3h0M255.0 740.3h0M265.2 623.7h0M250.4 755.1h0M249.0 749.9h0M249.0 750.2h0M252.7 750.0h0M237.4 704.2h0M254.0 749.5h0M241.4 715.4h0M245.7 745.9h0M248.0 751.3h0M262.8 703.0h0M252.7 748.5h0M250.3 754.6h0M246.0 732.0h0M244.0 749.3h0M249.5 750.5h0M246.2 734.7h0M253.6 739.2h0M256.8 736.0h0M255.5 713.7h0M254.8 732.9h0M223.6 706.7h0M254.2 742.9h0M257.5 745.9h0M246.9 745.4h0M236.6 734.0h0M241.8 701.1h0M257.5 720.2h0M248.7 749.1h0M258.4 724.7h0M255.9 736.2h0M249.1 753.3h0M250.8 756.2h0M255.8 740.7h0M258.0 734.4h0M255.5 747.9h0M249.2 749.0h0M246.4 746.6h0M243.8 741.2h0M252.1 753.0h0M252.1 751.5h0M253.0 749.1h0M252.6 750.8h0M241.4 691.3h0M244.5 732.7h0M240.7 704.8h0M250.3 753.4h0M232.2 672.7h0M251.7 754.1h0M264.4 682.8h0M252.9 748.5h0M252.7 744.5h0M249.7 753.3h0M260.2 716.8h0M252.0 755.2h0M216.6 597.0h0M245.2 745.3h0M247.4 747.9h0M257.4 742.6h0M263.3 704.0h0M229.5 602.8h0M252.1 750.5h0M249.8 754.2h0M252.4 753.3h0M250.8 756.2h0M249.7 753.5h0M242.9 700.3h0M258.0 731.2h0M244.8 717.6h0M250.6 755.5h0M247.2 742.0h0M267.0 735.2h0M250.2 755.2h0M259.1 732.8h0M256.1 734.0h0M244.6 739.1h0M255.4 749.5h0M242.0 742.6h0M252.1 748.6h0M254.5 738.9h0M248.2 741.7h0M250.9 756.0h0M270.7 677.9h0M261.0 721.1h0M253.9 748.9h0M256.1 742.0h0M231.8 717.4h0M230.8 706.1h0M252.2 751.0h0M237.7 627.7h0M242.4 734.9h0M257.6 686.5h0M246.5 720.5h0M257.9 712.4h0M248.5 751.2h0M262.2 713.8h0M261.9 718.5h0M247.9 741.7h0M247.4 744.9h0M256.5 740.4h0M260.5 715.3h0M250.1 754.7h0M243.3 728.4h0M237.0 595.0h0M254.8 735.8h0M216.6 697.7h0M255.3 745.2h0M262.7 693.4h0M257.1 721.0h0M252.6 751.5h0M250.4 755.0h0M247.0 742.0h0M249.5 752.9h0M252.5 753.6h0M244.2 744.9h0M234.1 687.4h0M234.3 667.8h0M261.4 715.4h0M258.2 724.8h0M253.3 753.0h0M246.0 747.5h0M242.6 722.4h0M254.5 741.3h0M235.0 718.0h0M251.5 754.6h0M245.2 737.1h0M246.0 732.6h0M248.8 744.8h0M252.6 753.0h0M266.7 689.0h0M261.4 723.9h0M244.6 735.0h0M246.9 749.1h0M249.8 754.6h0M236.8 718.7h0M250.1 754.3h0M252.6 751.4h0M242.2 734.1h0M253.5 750.4h0M255.3 733.2h0M249.1 751.8h0M246.7 746.1h0M238.6 723.2h0M263.1 729.9h0M265.3 705.9h0M238.8 733.7h0M254.5 751.5h0M253.7 751.9h0M254.8 744.0h0M275.8 664.9h0M250.0 754.6h0M251.5 755.1h0M256.4 732.1h0M251.1 755.5h0M241.9 697.5h0M271.6 680.9h0M238.9 709.8h0M241.0 734.3h0M245.2 734.4h0M251.9 753.3h0M249.2 748.5h0M247.3 745.8h0M234.5 691.4h0M243.7 723.9h0M255.7 728.0h0M263.0 700.0h0M250.0 755.1h0M238.7 742.2h0M251.9 753.8h0M250.6 755.7h0M248.6 750.5h0M238.1 718.3h0M228.6 678.4h0M264.4 695.4h0M246.0 730.4h0M255.7 725.8h0M252.1 753.4h0M237.7 644.4h0M254.4 748.0h0M257.0 740.1h0M250.5 755.4h0M257.1 736.0h0M258.9 687.3h0M256.5 729.9h0M245.6 741.3h0M255.0 740.3h0M260.1 729.7h0M258.9 744.1h0M255.4 744.2h0M247.2 745.6h0M260.6 725.9h0M239.4 736.4h0M241.6 726.5h0M243.2 725.7h0M247.0 745.2h0M244.3 738.0h0M231.3 685.0h0M265.8 680.5h0M270.4 719.4h0M261.3 733.9h0M247.8 729.7h0M247.7 748.7h0M261.9 680.3h0M253.1 752.5h0M262.8 713.3h0M260.1 697.9h0M266.1 669.2h0M251.9 753.6h0M257.2 714.4h0M247.5 751.6h0M238.5 715.4h0M251.9 754.0h0M255.7 733.3h0M250.2 754.0h0M245.6 747.1h0M242.5 734.3h0M230.0 693.2h0M247.5 742.0h0M244.7 729.1h0M253.2 750.0h0M257.0 745.0h0M249.0 741.8h0M240.2 718.9h0M263.8 726.1h0M251.5 753.9h0M247.7 742.0h0M254.3 739.8h0M258.8 741.4h0M263.7 725.2h0M251.7 753.8h0M260.4 677.2h0M249.9 753.9h0M243.1 727.9h0M252.4 754.0h0M253.5 752.4h0M254.1 729.6h0M260.9 732.2h0M249.2 753.7h0M259.8 710.2h0M275.1 721.3h0M241.1 684.4h0M244.2 724.1h0M278.6 607.3h0M248.3 752.5h0M237.4 719.8h0M237.8 678.2h0M257.2 745.8h0M255.8 744.3h0M263.2 693.7h0M249.9 753.0h0M251.3 754.3h0M250.3 755.5h0M227.6 672.5h0M251.9 754.8h0M265.3 655.9h0M256.5 729.6h0M251.1 755.3h0M245.5 724.6h0M247.2 747.2h0M249.1 751.5h0M250.4 755.5h0M261.7 734.6h0M253.6 742.6h0M265.7 725.9h0M254.6 749.9h0M261.3 690.4h0M257.3 717.7h0M255.2 746.2h0M230.6 682.1h0M261.4 718.1h0M262.5 727.1h0M234.9 668.4h0M251.8 753.9h0M252.7 752.9h0M255.0 739.9h0M245.7 743.8h0M250.8 756.2h0M240.9 721.9h0M251.1 755.8h0M252.0 752.1h0M259.9 748.2h0M265.7 690.3h0M261.4 710.7h0M231.6 631.3h0M249.0 754.2h0M230.1 644.0h0M253.4 744.5h0M258.8 733.6h0M252.4 752.3h0M248.0 751.7h0M241.0 724.3h0M249.9 753.8h0M245.9 737.6h0M258.2 746.6h0M235.6 708.3h0M232.3 607.1h0M248.2 749.2h0M258.2 732.5h0M255.4 723.1h0M249.7 750.3h0M239.5 697.2h0M254.3 739.1h0M251.7 754.9h0M268.0 682.5h0M240.0 730.4h0M247.9 746.8h0M242.7 721.2h0M241.0 701.7h0M249.4 751.1h0M254.3 735.7h0M237.7 731.5h0M256.4 722.8h0M249.6 753.3h0M254.1 748.1h0M261.2 724.7h0M253.3 751.5h0M258.4 723.1h0M246.4 728.9h0M255.0 749.1h0M256.8 735.2h0M280.8 635.7h0M247.1 740.5h0M258.7 729.8h0M244.4 730.0h0M252.6 751.2h0M240.0 696.7h0M251.8 751.7h0M255.3 722.4h0M241.1 737.3h0M251.8 753.3h0M241.5 723.0h0M246.7 732.3h0M253.1 751.6h0M249.4 752.8h0M252.4 753.2h0M245.5 741.2h0M244.0 744.2h0M243.6 726.9h0M271.4 676.6h0M246.0 746.4h0M250.1 754.6h0M248.1 748.6h0M257.9 734.9h0M251.8 754.5h0M258.5 738.6h0M255.4 740.9h0M251.2 755.5h0M262.6 735.4h0M220.3 651.4h0M245.4 744.2h0M261.1 711.8h0M245.8 749.9h0M256.6 698.7h0M266.9 700.6h0M253.4 747.3h0M249.7 752.9h0M241.1 720.0h0M225.1 700.2h0M258.2 745.7h0M254.5 746.1h0M249.3 751.3h0M247.0 741.3h0M254.1 745.0h0M251.8 753.3h0M228.5 706.3h0M251.6 755.0h0M245.7 740.5h0M255.2 744.3h0M251.1 755.8h0M235.3 707.3h0M250.6 755.8h0M248.7 749.1h0M251.9 752.2h0M248.3 749.8h0M263.7 698.3h0M263.1 693.5h0M265.2 653.7h0M242.5 726.6h0M249.1 752.4h0M254.5 751.2h0M258.4 731.8h0M255.1 735.7h0M256.4 739.0h0M262.2 680.6h0M246.2 745.6h0M259.1 733.0h0M250.5 755.3h0M240.3 689.2h0M253.5 752.7h0M252.5 753.1h0M241.8 742.3h0M249.9 754.4h0M254.2 732.5h0M241.9 712.9h0M253.7 748.8h0M247.2 745.8h0M255.5 713.9h0M249.0 745.4h0M266.0 680.4h0M254.2 744.3h0M234.8 694.8h0M251.9 753.1h0M240.9 722.8h0M249.1 747.5h0M245.5 736.5h0M254.5 713.9h0M256.9 700.9h0M254.0 747.6h0M260.4 723.1h0M253.0 745.0h0M261.4 718.6h0M223.4 657.9h0M253.9 749.9h0M253.0 745.7h0M250.4 755.4h0M252.2 750.2h0M258.6 710.3h0M252.1 753.2h0M265.4 699.3h0M259.4 714.2h0M251.0 755.9h0M249.5 751.7h0M242.7 734.8h0M271.9 729.7h0M257.9 733.1h0M253.9 752.6h0M246.7 745.4h0M250.9 756.0h0M272.0 691.1h0M252.5 749.3h0M244.9 740.9h0M244.8 738.2h0M230.2 686.5h0M253.2 752.5h0M255.9 740.4h0M253.6 751.7h0M249.3 753.1h0M259.2 739.3h0M252.0 752.6h0M257.4 739.3h0M227.3 669.5h0M242.7 724.7h0M248.1 749.9h0M264.8 725.8h0M243.5 716.0h0M238.2 672.8h0M255.8 751.3h0M248.6 747.3h0M250.8 756.2h0M251.0 755.8h0M253.9 746.8h0M251.9 753.6h0M253.9 747.6h0M244.2 730.2h0M261.3 740.6h0M250.0 754.7h0M246.4 736.7h0M249.5 749.1h0M253.7 727.6h0M239.0 702.6h0M250.6 755.6h0M248.1 745.4h0M250.2 755.3h0M264.7 711.8h0M244.7 734.7h0M247.9 744.1h0M250.5 755.6h0M248.2 752.1h0M252.7 745.8h0M246.2 740.8h0M261.5 645.5h0M249.0 742.4h0M246.5 737.6h0M255.2 734.7h0M255.2 747.8h0M248.2 730.0h0M240.0 721.2h0M243.8 741.9h0M248.3 752.7h0M250.0 754.8h0M254.3 752.0h0M253.9 746.2h0M252.8 752.1h0M255.1 728.9h0M261.2 692.6h0M247.6 748.3h0M260.6 710.5h0M244.8 729.7h0M250.4 754.7h0M253.4 748.3h0M243.4 730.2h0M256.2 745.1h0M254.9 751.6h0M236.2 687.3h0M254.2 747.0h0M247.8 743.5h0M245.0 722.5h0M253.9 747.4h0M263.2 704.1h0M238.0 717.0h0M250.5 755.7h0M268.7 705.6h0M278.7 566.6h0M248.2 751.2h0M244.1 694.0h0M254.1 738.5h0M255.7 748.0h0M246.6 729.4h0M246.3 745.2h0M251.8 751.2h0M255.4 741.0h0M255.1 736.3h0M249.3 754.5h0M267.4 691.4h0M251.0 755.9h0M251.0 755.7h0M247.8 742.2h0M259.6 666.4h0M251.7 755.1h0M244.0 738.1h0M249.3 751.8h0M240.7 739.6h0M258.3 742.3h0M256.4 735.7h0M245.4 743.5h0M251.9 753.0h0M252.3 750.7h0M251.4 755.2h0M253.1 752.1h0M236.4 718.1h0M251.3 755.2h0M248.3 747.8h0M242.0 721.1h0M247.0 746.6h0M251.3 753.9h0M245.6 739.5h0M244.0 744.0h0M249.6 751.9h0M253.9 740.1h0M242.5 691.6h0M243.8 740.2h0M264.6 722.1h0M256.0 741.8h0M250.4 754.9h0M253.0 738.2h0M243.6 726.8h0M255.9 734.2h0M246.8 741.4h0M254.6 748.0h0M260.2 707.5h0M252.5 749.8h0M247.8 726.3h0M243.0 725.5h0M268.4 716.6h0M238.5 712.4h0M248.0 744.1h0M240.9 685.3h0M256.9 738.7h0M252.6 748.1h0M258.4 740.7h0M236.7 711.8h0M243.9 710.6h0M246.0 744.5h0M246.1 732.2h0M251.1 754.6h0M258.7 731.5h0M255.3 727.3h0M266.4 663.0h0M223.3 649.9h0M253.3 730.6h0M227.1 641.7h0M259.4 678.7h0M271.5 692.7h0M251.1 755.4h0M257.9 713.1h0M264.6 656.8h0M249.0 755.3h0M249.5 749.8h0M255.1 747.7h0M253.4 739.9h0M249.4 753.2h0M250.5 755.5h0M262.8 701.3h0M253.7 746.6h0M262.1 724.9h0M251.1 755.7h0M249.2 750.9h0M243.6 708.2h0M245.2 736.5h0M250.8 756.1h0M245.4 737.5h0M252.8 749.3h0M249.0 753.7h0M253.9 742.0h0M250.0 754.9h0M258.9 716.7h0M247.8 729.8h0M257.2 736.3h0M265.9 685.0h0M248.9 749.7h0M245.3 705.5h0M241.8 644.9h0M254.1 738.9h0M236.7 729.0h0M247.5 751.3h0M251.2 755.3h0M243.8 739.7h0M263.3 710.0h0M257.3 708.4h0M257.8 739.3h0M249.9 753.5h0M251.2 755.4h0M248.0 740.6h0M248.5 752.1h0M258.5 743.6h0M244.2 726.4h0M251.0 755.8h0M243.5 721.2h0M252.6 749.3h0M244.1 737.6h0M265.6 687.0h0M252.8 749.8h0M245.7 728.6h0M251.0 755.9h0M249.7 752.4h0M245.4 744.3h0M250.0 755.2h0M248.3 746.8h0M250.4 755.1h0M241.8 716.1h0M251.7 753.9h0M253.6 740.5h0M257.1 731.9h0M245.3 737.4h0M250.7 755.8h0M249.4 751.6h0M273.3 669.6h0M248.1 751.5h0M254.3 736.4h0M256.8 737.1h0M250.7 756.0h0M252.5 748.4h0M244.2 744.7h0M251.7 752.2h0M240.9 740.0h0M246.4 749.3h0M260.9 717.9h0M248.7 745.7h0M253.2 751.7h0M255.2 734.9h0M256.9 740.1h0M245.9 746.0h0M246.6 746.9h0M249.5 752.0h0M255.1 739.7h0M255.0 737.0h0M262.8 709.7h0M259.5 657.7h0M238.6 730.3h0M248.9 753.5h0M246.1 739.4h0M249.8 753.4h0M248.4 746.6h0M247.0 733.1h0M246.2 745.8h0M251.7 750.0h0M277.7 714.7h0M262.8 721.0h0M254.2 740.8h0M244.9 742.9h0M239.8 726.3h0M259.5 730.3h0M239.0 735.6h0M246.1 748.5h0M270.5 715.3h0M245.7 726.7h0M259.3 717.5h0M253.6 745.5h0M247.4 744.6h0M240.7 670.7h0M244.0 736.3h0M250.3 755.2h0M247.3 740.4h0M247.4 750.7h0M244.2 736.4h0M240.4 734.9h0M257.6 733.9h0M256.1 727.7h0M252.9 744.7h0M269.0 725.0h0M243.5 716.8h0M241.6 715.8h0M245.5 727.9h0M239.6 739.9h0M250.4 755.2h0M250.6 755.7h0M254.0 742.8h0M252.4 753.9h0M251.9 753.1h0M232.2 724.4h0M249.7 754.2h0M252.1 752.0h0M254.2 746.8h0M251.2 755.2h0M252.0 750.6h0M265.6 735.2h0M255.1 748.1h0M253.6 751.8h0M263.6 711.3h0M245.3 735.5h0M257.5 724.8h0M244.8 723.4h0M259.8 728.7h0M245.6 743.4h0M265.0 666.2h0M249.6 754.6h0M236.9 710.6h0M233.3 688.5h0M252.3 752.1h0M253.2 753.0h0M255.5 733.6h0M258.7 732.3h0M251.8 754.4h0M261.2 709.8h0M238.5 718.5h0M250.5 755.6h0M241.8 713.5h0M248.1 748.4h0M244.5 740.8h0M252.7 753.9h0M251.7 755.1h0M245.1 745.3h0M254.3 749.0h0M250.0 755.1h0M256.1 745.1h0M252.2 752.6h0M261.2 712.8h0M251.1 755.8h0M249.7 754.5h0M259.0 745.7h0M253.3 750.7h0M251.9 752.1h0M243.2 722.2h0M240.3 709.9h0M247.6 749.2h0M254.4 746.2h0M248.1 751.3h0M237.9 701.0h0M253.0 750.9h0M246.3 748.3h0M250.5 755.5h0M237.9 709.4h0M253.6 749.3h0M243.3 719.8h0M254.8 728.3h0M250.5 755.1h0M247.8 748.1h0M250.4 755.2h0M252.4 754.3h0M249.5 753.3h0M252.6 751.7h0M249.1 753.6h0M246.8 731.0h0M247.9 738.2h0M247.3 737.1h0M242.1 736.6h0M258.6 743.9h0M238.1 645.2h0M243.9 742.6h0M238.5 741.8h0M248.8 748.8h0M248.7 750.5h0M255.6 726.0h0M251.2 755.5h0M257.6 741.0h0M253.0 749.6h0M250.1 753.4h0M251.9 752.9h0M254.1 744.4h0M238.3 645.6h0M255.3 742.8h0M258.1 734.5h0M258.6 743.8h0M249.7 748.3h0M252.5 747.0h0M249.3 749.9h0M263.0 739.1h0M250.0 754.2h0M251.2 755.0h0M250.7 756.0h0M256.4 734.3h0M243.2 733.9h0M257.8 727.5h0M254.4 750.5h0M241.8 677.2h0M245.2 733.5h0M243.8 741.4h0M265.5 710.5h0M245.9 727.3h0M226.7 691.9h0M251.3 755.4h0M247.4 748.1h0M254.7 741.7h0M254.9 748.0h0M247.5 745.8h0M255.8 741.4h0M248.7 744.3h0M259.9 717.4h0M251.7 755.0h0M255.7 734.9h0M255.1 746.7h0M260.1 683.6h0M224.9 671.0h0M253.4 753.2h0M248.2 746.2h0M262.3 724.1h0M253.6 748.3h0M249.0 747.2h0M253.6 750.1h0M246.8 719.3h0M258.9 720.2h0M264.3 698.5h0M258.9 728.0h0M273.2 668.4h0M247.3 743.8h0M241.2 704.7h0M241.7 736.3h0M248.4 746.3h0M256.9 727.3h0M263.8 665.0h0M253.1 741.9h0M255.8 746.0h0M248.7 747.6h0M248.9 745.1h0M257.8 727.9h0M241.3 729.8h0M253.3 752.0h0M253.2 749.9h0M248.5 752.5h0M255.7 726.7h0M260.3 739.8h0M244.0 737.6h0M247.8 750.5h0M252.5 748.4h0M252.0 754.2h0M254.4 740.2h0M239.7 741.3h0M245.3 733.7h0M244.0 743.9h0M254.7 745.8h0M262.5 740.0h0M259.2 746.8h0M246.1 749.4h0M254.6 752.3h0M254.5 736.7h0M246.7 751.0h0M255.2 733.1h0M252.0 750.4h0M263.1 710.7h0M247.0 746.7h0M254.8 739.6h0M252.2 751.5h0M247.5 741.3h0M256.1 725.1h0M252.0 752.5h0M256.0 748.4h0M237.1 698.6h0M251.9 754.4h0M256.6 735.7h0M249.6 752.3h0M260.9 723.1h0M252.7 753.7h0M245.7 705.8h0M246.5 745.5h0M252.9 748.3h0M255.3 746.2h0M279.8 659.7h0M253.3 744.0h0M253.3 751.2h0M260.6 722.3h0M229.5 670.9h0M244.0 728.1h0M246.1 742.5h0M260.7 735.1h0M250.2 753.9h0M242.6 736.9h0M256.4 740.3h0M255.4 689.9h0M266.0 712.4h0M249.3 754.7h0M247.2 747.4h0M246.8 732.0h0M253.6 739.0h0M240.7 744.9h0M248.2 747.2h0M251.6 754.6h0M253.5 750.7h0M219.8 588.3h0M251.6 754.3h0M246.0 735.4h0M241.9 714.4h0M245.2 749.8h0M256.7 726.1h0M250.3 754.9h0M235.6 731.5h0M256.4 745.9h0M252.3 750.7h0M251.8 753.4h0M247.1 741.2h0M262.0 711.5h0M247.6 745.2h0M244.7 734.8h0M255.6 744.4h0M252.5 744.8h0M246.9 736.2h0M249.2 753.6h0M284.2 660.9h0M254.2 746.4h0M236.8 657.8h0M246.9 748.9h0M253.9 751.6h0M250.9 756.0h0M249.1 752.0h0M252.5 747.8h0M273.0 655.6h0M235.1 619.6h0M256.9 719.4h0M255.5 741.0h0M252.1 754.7h0M239.0 699.6h0M252.5 745.9h0M264.7 691.8h0M251.3 755.1h0M248.7 754.1h0M239.7 697.4h0M254.0 727.5h0M263.6 723.8h0M239.5 696.4h0M249.9 753.2h0M248.4 749.5h0M250.2 753.9h0M238.6 665.6h0M266.0 728.7h0M255.0 738.4h0M258.3 724.6h0M253.5 752.0h0M252.9 750.5h0M263.2 711.7h0M254.5 739.3h0M266.6 680.6h0M262.8 666.8h0M244.7 727.3h0M255.5 738.9h0M261.6 742.8h0M256.7 728.7h0M247.9 754.1h0M255.2 730.1h0M252.4 747.6h0M245.3 731.8h0M254.4 746.8h0M260.6 713.8h0M247.5 748.4h0M267.4 662.4h0M243.0 737.9h0M241.0 735.4h0M256.4 747.6h0M263.8 726.0h0M252.6 750.5h0M261.5 706.8h0M249.7 751.0h0M249.5 753.5h0M264.9 730.5h0M245.4 732.7h0M238.5 701.2h0M250.6 755.7h0M239.9 728.8h0" stroke="#bdbdbd" stroke-width="2.0" stroke-linecap="round" fill="none"/>
<path d="M235.7 528.8h0M271.5 528.8h0M274.0 528.8h0M281.5 528.8h0M284.8 528.8h0M357.0 678.8h0M320.0 682.0h0" stroke="#b0b0b0" stroke-width="2.1" stroke-linecap="round" fill="none"/>
<path d="M118.9 708.5h0M121.2 714.7h0M125.0 712.4h0M127.3 717.0h0M128.1 726.2h0M130.4 721.6h0M132.7 713.9h0M133.5 724.7h0M138.1 724.7h0M141.2 723.9h0M142.0 725.5h0M146.6 719.3h0M148.1 722.4h0M150.4 719.3h0M152.0 719.3h0M154.3 717.8h0M151.2 725.5h0M154.3 723.9h0M160.4 715.5h0M169.7 716.2h0M172.8 711.6h0M173.5 724.7h0M176.6 718.5h0M177.4 725.5h0M182.0 715.5h0M182.8 710.8h0M183.5 720.8h0M189.7 692.4h0M188.9 707.8h0M191.2 707.8h0M190.5 724.7h0M193.6 700.1h0M195.1 703.1h0M195.9 721.6h0M197.4 704.7h0M200.5 705.4h0M201.3 724.7h0M202.0 694.7h0M202.8 723.2h0M204.3 722.4h0M205.1 692.4h0M208.2 687.7h0M209.0 694.7h0M209.7 707.8h0M209.0 720.8h0M210.5 723.9h0M211.3 690.8h0M212.0 724.7h0M212.8 690.0h0M213.6 710.8h0M214.3 703.9h0M214.3 718.5h0M215.1 723.2h0M213.6 713.9h0M125.8 694.7h0M119.6 698.5h0M154.3 679.7h0M170.5 696.2h0M188.9 647.7h0M192.0 658.5h0M195.9 643.1h0M195.1 683.9h0M203.6 680.0h0M208.2 669.3h0M210.5 677.7h0M212.8 650.8h0M116.6 722.4h0M206.6 723.9h0M212.0 720.1h0M158.8 528.8h0M178.4 528.8h0M182.1 528.8h0M192.1 528.8h0M202.2 528.8h0M197.7 557.6h0M181.4 580.6h0M214.7 583.9h0M192.6 600.1h0M188.1 629.7h0M206.9 634.4h0" stroke="#3c3c92" stroke-width="2.0" stroke-linecap="round" fill="none"/>
<path d="M304.7 663.1h0M288.5 671.6h0M301.6 670.8h0M304.7 673.1h0M300.0 681.3h0M290.0 683.9h0M313.9 693.9h0M325.5 693.1h0M293.1 698.2h0M287.0 700.1h0M290.8 704.7h0M287.7 707.8h0M291.6 707.8h0M308.5 705.0h0M301.6 710.8h0M304.7 710.8h0M318.5 707.8h0M325.5 710.1h0M327.8 700.1h0M323.1 702.4h0M330.1 708.5h0M319.3 703.1h0M288.5 716.2h0M293.9 715.5h0M297.7 716.2h0M300.8 713.9h0M303.9 715.5h0M310.8 715.5h0M317.0 715.1h0M289.3 723.9h0M292.3 724.7h0M295.4 723.9h0M297.7 723.2h0M300.8 720.8h0M303.1 722.4h0M305.4 721.6h0M307.7 720.8h0M310.8 720.1h0M313.1 720.8h0M315.4 723.9h0M330.1 722.4h0M333.9 721.6h0M336.2 723.2h0M339.3 718.5h0M342.4 714.7h0M343.9 721.6h0M346.2 723.9h0M348.6 712.4h0M352.4 704.7h0M351.6 720.1h0M354.7 721.6h0M356.3 716.2h0M357.8 723.2h0M363.2 700.8h0M364.0 707.0h0M364.7 713.9h0M365.5 718.5h0M366.3 692.4h0M368.6 690.0h0M369.3 697.7h0M368.6 707.8h0M370.9 723.9h0M371.7 715.5h0M373.2 704.7h0M375.5 712.4h0M376.3 718.5h0M377.0 701.6h0M381.7 710.8h0M382.4 717.0h0M383.2 706.2h0M384.0 693.1h0M385.5 697.7h0M387.8 701.6h0M389.4 706.2h0M390.9 710.8h0M287.3 528.8h0M290.8 528.8h0M292.0 563.1h0M332.4 618.4h0M343.6 624.4h0" stroke="#cc4040" stroke-width="2.0" stroke-linecap="round" fill="none"/>
<rect x="95.3" y="517.8" width="311.9" height="250.0" fill="none" stroke="#bdbdbd" stroke-width="1.5"/>
<g stroke="#d0d0d0" stroke-width="1">
<line x1="92.3" y1="756.2" x2="95.3" y2="756.2"/>
<line x1="92.3" y1="699.5" x2="95.3" y2="699.5"/>
<line x1="92.3" y1="642.7" x2="95.3" y2="642.7"/>
<line x1="92.3" y1="586.0" x2="95.3" y2="586.0"/>
<line x1="92.3" y1="529.2" x2="95.3" y2="529.2"/>
<line x1="108.4" y1="767.8" x2="108.4" y2="770.8"/>
<line x1="179.6" y1="767.8" x2="179.6" y2="770.8"/>
<line x1="250.8" y1="767.8" x2="250.8" y2="770.8"/>
<line x1="322.0" y1="767.8" x2="322.0" y2="770.8"/>
<line x1="393.2" y1="767.8" x2="393.2" y2="770.8"/>
</g>
<g font-family="Liberation Sans, Arial, sans-serif" font-size="13.8" fill="#262626" text-anchor="end">
<text x="88.6" y="761.1">0</text>
<text x="88.6" y="704.4">2.5</text>
<text x="88.6" y="647.6">5.0</text>
<text x="88.6" y="590.9">7.5</text>
<text x="88.6" y="534.1">10.0</text>
</g>
<g font-family="Liberation Sans, Arial, sans-serif" font-size="13.8" fill="#262626" text-anchor="middle">
<text x="108.0" y="783.8">-4</text>
<text x="179.2" y="783.8">-2</text>
<text x="250.8" y="783.8">0</text>
<text x="322.0" y="783.8">2</text>
<text x="393.2" y="783.8">4</text>
</g>
<text font-family="Liberation Sans, Arial, sans-serif" font-size="18" fill="#1a1a1a" text-anchor="middle" x="251.4" y="804.6">Log<tspan font-size="12.5" dy="3.5">2</tspan><tspan dy="-3.5">(fold change)</tspan></text>
<text font-family="Liberation Sans, Arial, sans-serif" font-size="18" fill="#1a1a1a" text-anchor="middle" transform="translate(53.5,646.4) rotate(-90)">-Log<tspan font-size="12.5" dy="3.5">10</tspan><tspan dy="-3.5">(</tspan><tspan font-style="italic">P</tspan> value)</text>
<text font-family="Liberation Sans, Arial, sans-serif" font-size="14.6" font-style="italic" fill="#d42a36" x="369.3" y="676.4">Slamf1</text>
<text font-family="Liberation Sans, Arial, sans-serif" font-size="14.6" font-style="italic" fill="#d42a36" x="377.6" y="744">Ncf4</text>
<g stroke="#444" stroke-width="1" fill="none"><path d="M388.5 682V697M384.2 691.7L388.5 697L393 691.7"/><path d="M391 728.2V710M386.5 717L391 710L395.6 717"/></g>
<g stroke="#111" stroke-width="2" fill="none">
<line x1="808.6" y1="87.5" x2="808.6" y2="367.7"/>
<line x1="807.6" y1="366.7" x2="1228.5" y2="366.7"/>
<line x1="803.6" y1="366.7" x2="808.6" y2="366.7"/>
<line x1="803.6" y1="338.8" x2="808.6" y2="338.8"/>
<line x1="803.6" y1="311.0" x2="808.6" y2="311.0"/>
<line x1="803.6" y1="283.1" x2="808.6" y2="283.1"/>
<line x1="803.6" y1="255.2" x2="808.6" y2="255.2"/>
<line x1="803.6" y1="227.3" x2="808.6" y2="227.3"/>
<line x1="803.6" y1="199.5" x2="808.6" y2="199.5"/>
<line x1="803.6" y1="171.6" x2="808.6" y2="171.6"/>
<line x1="803.6" y1="143.7" x2="808.6" y2="143.7"/>
<line x1="803.6" y1="115.9" x2="808.6" y2="115.9"/>
<line x1="803.6" y1="88.0" x2="808.6" y2="88.0"/>
</g>
<g font-family="Liberation Sans, Arial, sans-serif" font-size="15.5" fill="#1a1a1a" text-anchor="end">
<text transform="translate(801.8,371.6) scale(1,1.14)">0</text>
<text transform="translate(801.8,343.7) scale(1,1.14)">10</text>
<text transform="translate(801.8,315.9) scale(1,1.14)">20</text>
<text transform="translate(801.8,288.0) scale(1,1.14)">30</text>
<text transform="translate(801.8,260.1) scale(1,1.14)">40</text>
<text transform="translate(801.8,232.2) scale(1,1.14)">50</text>
<text transform="translate(801.8,204.4) scale(1,1.14)">60</text>
<text transform="translate(801.8,176.5) scale(1,1.14)">70</text>
<text transform="translate(801.8,148.6) scale(1,1.14)">80</text>
<text transform="translate(801.8,120.8) scale(1,1.14)">90</text>
<text transform="translate(801.8,92.9) scale(1,1.14)">100</text>
</g>
<rect x="825.2" y="88.0" width="33.2" height="278.7" fill="#808080" stroke="#141414" stroke-width="2"/>
<line x1="841.8" y1="366.7" x2="841.8" y2="372.7" stroke="#111" stroke-width="2"/>
<text font-family="Liberation Sans, Arial, sans-serif" font-size="16" fill="#1a1a1a" text-anchor="middle" x="841.8" y="390.8">E18</text>
<text font-family="Liberation Sans, Arial, sans-serif" font-size="16.5" fill="#1a1a1a" x="824.6" y="59.8">n=6</text>
<text font-family="Liberation Sans, Arial, sans-serif" font-size="16.5" fill="#1a1a1a" x="824.6" y="80.8">eyes</text>
<rect x="875.5" y="88.0" width="33.2" height="278.7" fill="#808080" stroke="#141414" stroke-width="2"/>
<line x1="892.1" y1="366.7" x2="892.1" y2="372.7" stroke="#111" stroke-width="2"/>
<text font-family="Liberation Sans, Arial, sans-serif" font-size="16" fill="#1a1a1a" text-anchor="middle" x="892.1" y="390.8">P12</text>
<text font-family="Liberation Sans, Arial, sans-serif" font-size="16.5" fill="#1a1a1a" x="874.9" y="59.8">n=6</text>
<text font-family="Liberation Sans, Arial, sans-serif" font-size="16.5" fill="#1a1a1a" x="874.9" y="80.8">eyes</text>
<rect x="925.8" y="88.0" width="33.2" height="278.7" fill="#808080" stroke="#141414" stroke-width="2"/>
<line x1="942.4" y1="366.7" x2="942.4" y2="372.7" stroke="#111" stroke-width="2"/>
<text font-family="Liberation Sans, Arial, sans-serif" font-size="16" fill="#1a1a1a" text-anchor="middle" x="942.4" y="390.8">P15</text>
<text font-family="Liberation Sans, Arial, sans-serif" font-size="16.5" fill="#1a1a1a" x="925.2" y="59.8">n=6</text>
<text font-family="Liberation Sans, Arial, sans-serif" font-size="16.5" fill="#1a1a1a" x="925.2" y="80.8">eyes</text>
<rect x="976.2" y="88.0" width="33.2" height="278.7" fill="#808080" stroke="#141414" stroke-width="2"/>
<line x1="992.8" y1="366.7" x2="992.8" y2="372.7" stroke="#111" stroke-width="2"/>
<text font-family="Liberation Sans, Arial, sans-serif" font-size="16" fill="#1a1a1a" text-anchor="middle" x="992.8" y="390.8">8W</text>
<text font-family="Liberation Sans, Arial, sans-serif" font-size="16.5" fill="#1a1a1a" x="975.6" y="59.8">n=6</text>
<text font-family="Liberation Sans, Arial, sans-serif" font-size="16.5" fill="#1a1a1a" x="975.6" y="80.8">eyes</text>
<rect x="1026.5" y="88.0" width="33.2" height="61.3" fill="#f84242" stroke="#141414" stroke-width="2"/>
<rect x="1026.5" y="149.3" width="33.2" height="217.4" fill="#808080" stroke="#141414" stroke-width="2"/>
<line x1="1043.1" y1="366.7" x2="1043.1" y2="372.7" stroke="#111" stroke-width="2"/>
<text font-family="Liberation Sans, Arial, sans-serif" font-size="16" fill="#1a1a1a" text-anchor="middle" x="1043.1" y="390.8">E18</text>
<text font-family="Liberation Sans, Arial, sans-serif" font-size="16.5" fill="#1a1a1a" x="1025.9" y="59.8">n=32</text>
<text font-family="Liberation Sans, Arial, sans-serif" font-size="16.5" fill="#1a1a1a" x="1025.9" y="80.8">eyes</text>
<rect x="1076.8" y="88.0" width="33.2" height="278.7" fill="#f84242" stroke="#141414" stroke-width="2"/>
<line x1="1093.4" y1="366.7" x2="1093.4" y2="372.7" stroke="#111" stroke-width="2"/>
<text font-family="Liberation Sans, Arial, sans-serif" font-size="16" fill="#1a1a1a" text-anchor="middle" x="1093.4" y="390.8">P12</text>
<text font-family="Liberation Sans, Arial, sans-serif" font-size="16.5" fill="#1a1a1a" x="1076.2" y="59.8">n=6</text>
<text font-family="Liberation Sans, Arial, sans-serif" font-size="16.5" fill="#1a1a1a" x="1076.2" y="80.8">eyes</text>
<rect x="1127.1" y="88.0" width="33.2" height="278.7" fill="#f84242" stroke="#141414" stroke-width="2"/>
<line x1="1143.7" y1="366.7" x2="1143.7" y2="372.7" stroke="#111" stroke-width="2"/>
<text font-family="Liberation Sans, Arial, sans-serif" font-size="16" fill="#1a1a1a" text-anchor="middle" x="1143.7" y="390.8">P15</text>
<text font-family="Liberation Sans, Arial, sans-serif" font-size="16.5" fill="#1a1a1a" x="1126.5" y="59.8">n=8</text>
<text font-family="Liberation Sans, Arial, sans-serif" font-size="16.5" fill="#1a1a1a" x="1126.5" y="80.8">eyes</text>
<rect x="1177.4" y="88.0" width="33.2" height="278.7" fill="#f84242" stroke="#141414" stroke-width="2"/>
<line x1="1194.0" y1="366.7" x2="1194.0" y2="372.7" stroke="#111" stroke-width="2"/>
<text font-family="Liberation Sans, Arial, sans-serif" font-size="16" fill="#1a1a1a" text-anchor="middle" x="1194.0" y="390.8">8W</text>
<text font-family="Liberation Sans, Arial, sans-serif" font-size="16.5" fill="#1a1a1a" x="1176.8" y="59.8">n=6</text>
<text font-family="Liberation Sans, Arial, sans-serif" font-size="16.5" fill="#1a1a1a" x="1176.8" y="80.8">eyes</text>
<line x1="825" y1="396.3" x2="1008" y2="396.3" stroke="#555" stroke-width="1.2"/>
<line x1="1028" y1="396.3" x2="1210.5" y2="396.3" stroke="#555" stroke-width="1.2"/>
<text font-family="Liberation Sans, Arial, sans-serif" font-size="16.5" font-weight="bold" fill="#111" text-anchor="middle" x="917" y="417.8">WT-SPF</text>
<text font-family="Liberation Sans, Arial, sans-serif" font-size="16.5" font-weight="bold" fill="#111" text-anchor="middle" x="1118" y="417.8">Rd8-SPF</text>
<text font-family="Liberation Sans, Arial, sans-serif" font-size="16.5" fill="#1a1a1a" text-anchor="middle" transform="translate(768.6,225.2) rotate(-90)">Eyes with/without lesions (%)</text>
<rect x="810.5" y="23.2" width="30.5" height="7" fill="#808080" stroke="#141414" stroke-width="2"/>
<text font-family="Liberation Sans, Arial, sans-serif" font-size="16.9" fill="#1a1a1a" x="849.2" y="32.7">Eyes without lesions</text>
<rect x="1027.2" y="23.2" width="30" height="7" fill="#f84242" stroke="#141414" stroke-width="2"/>
<text font-family="Liberation Sans, Arial, sans-serif" font-size="16.9" fill="#1a1a1a" x="1076" y="32.7">Eyes with lesions</text>
<line x1="938.5" y1="509.4" x2="938.5" y2="775.3" stroke="#d4d4d4" stroke-width="1"/>
<line x1="1009.2" y1="509.4" x2="1009.2" y2="775.3" stroke="#d4d4d4" stroke-width="1"/>
<line x1="1079.9" y1="509.4" x2="1079.9" y2="775.3" stroke="#d4d4d4" stroke-width="1"/>
<line x1="1150.6" y1="509.4" x2="1150.6" y2="775.3" stroke="#d4d4d4" stroke-width="1"/>
<rect x="868.8" y="514.1" width="331.3" height="17.2" fill="#2b63c3"/>
<text font-family="Liberation Sans, Arial, sans-serif" font-size="17.8" fill="#1a1a1a" text-anchor="end" x="859.8" y="528.4">IL<tspan dx="2.2">-15</tspan> Production</text>
<rect x="868.8" y="540.7" width="275.4" height="17.2" fill="#2b63c3"/>
<text font-family="Liberation Sans, Arial, sans-serif" font-size="17.8" fill="#1a1a1a" text-anchor="end" x="859" y="556.8">Dopamine Degradation</text>
<rect x="868.8" y="567.3" width="252.8" height="17.2" fill="#2b63c3"/>
<text font-family="Liberation Sans, Arial, sans-serif" font-size="17.8" fill="#1a1a1a" text-anchor="end" x="856.9" y="583.6">Thyroid Hormone Biosynthesis</text>
<rect x="868.8" y="593.9" width="232.3" height="17.2" fill="#2b63c3"/>
<text font-family="Liberation Sans, Arial, sans-serif" font-size="17.8" fill="#1a1a1a" text-anchor="end" x="856.9" y="610.2">Serotonin Receptor Signaling</text>
<rect x="868.8" y="620.5" width="217.5" height="17.2" fill="#2b63c3"/>
<text font-family="Liberation Sans, Arial, sans-serif" font-size="17.8" fill="#1a1a1a" text-anchor="end" x="860.2" y="636.2">RhoA Signaling</text>
<rect x="868.8" y="647.0" width="194.1" height="17.2" fill="#2b63c3"/>
<text font-family="Liberation Sans, Arial, sans-serif" font-size="17.8" fill="#1a1a1a" text-anchor="end" x="855.8" y="663.5">Inositol Pyrophosphates Biosynthesis</text>
<rect x="868.8" y="673.6" width="182.4" height="17.2" fill="#2b63c3"/>
<text font-family="Liberation Sans, Arial, sans-serif" font-size="17.8" fill="#1a1a1a" text-anchor="end" x="855" y="690">Recognition of Bacteria and Viruses</text>
<rect x="868.8" y="700.2" width="181.1" height="17.2" fill="#2b63c3"/>
<text font-family="Liberation Sans, Arial, sans-serif" font-size="17.8" fill="#1a1a1a" text-anchor="end" x="857.8" y="716.7">Serotonin Degradation</text>
<rect x="868.8" y="726.8" width="171.2" height="17.2" fill="#2b63c3"/>
<text font-family="Liberation Sans, Arial, sans-serif" font-size="17.8" fill="#1a1a1a" text-anchor="end" x="856.7" y="742.9">Caveolar<tspan dx="3.5">-mediated</tspan> Endocytosis Signaling</text>
<rect x="868.8" y="753.4" width="171.2" height="17.2" fill="#2b63c3"/>
<text font-family="Liberation Sans, Arial, sans-serif" font-size="17.8" fill="#1a1a1a" text-anchor="end" x="854" y="770.1">SLE in B Cell Signaling Pathway</text>
<path d="M867.8 509.4H1220.3V775.3H867.8Z" fill="none" stroke="#333" stroke-width="2"/>
<line x1="861.8" y1="509.4" x2="867.8" y2="509.4" stroke="#333" stroke-width="2"/>
<line x1="861.8" y1="536.0" x2="867.8" y2="536.0" stroke="#333" stroke-width="2"/>
<line x1="861.8" y1="562.6" x2="867.8" y2="562.6" stroke="#333" stroke-width="2"/>
<line x1="861.8" y1="589.2" x2="867.8" y2="589.2" stroke="#333" stroke-width="2"/>
<line x1="861.8" y1="615.8" x2="867.8" y2="615.8" stroke="#333" stroke-width="2"/>
<line x1="861.8" y1="642.3" x2="867.8" y2="642.3" stroke="#333" stroke-width="2"/>
<line x1="861.8" y1="668.9" x2="867.8" y2="668.9" stroke="#333" stroke-width="2"/>
<line x1="861.8" y1="695.5" x2="867.8" y2="695.5" stroke="#333" stroke-width="2"/>
<line x1="861.8" y1="722.1" x2="867.8" y2="722.1" stroke="#333" stroke-width="2"/>
<line x1="861.8" y1="748.7" x2="867.8" y2="748.7" stroke="#333" stroke-width="2"/>
<line x1="861.8" y1="775.3" x2="867.8" y2="775.3" stroke="#333" stroke-width="2"/>
<text font-family="Liberation Sans, Arial, sans-serif" font-size="14.5" fill="#1a1a1a" text-anchor="middle" transform="translate(869.0,795.6) scale(1,1.12)">0</text>
<text font-family="Liberation Sans, Arial, sans-serif" font-size="14.5" fill="#1a1a1a" text-anchor="middle" transform="translate(1010.4,795.6) scale(1,1.12)">1</text>
<text font-family="Liberation Sans, Arial, sans-serif" font-size="14.5" fill="#1a1a1a" text-anchor="middle" transform="translate(1151.8,795.6) scale(1,1.12)">2</text>
<text font-family="Liberation Sans, Arial, sans-serif" font-size="17.6" fill="#1a1a1a" text-anchor="middle" x="1050" y="824.2">-Log<tspan font-size="12.5" dy="3.2">2</tspan><tspan dy="-3.2">(</tspan><tspan font-style="italic">P</tspan> value)</text>
</svg>
</body></html>
